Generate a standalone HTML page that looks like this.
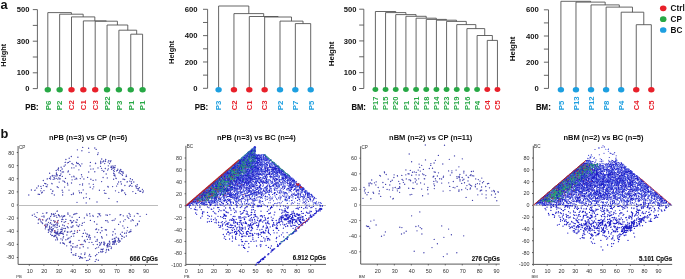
<!DOCTYPE html>
<html><head><meta charset="utf-8"><style>
html,body{margin:0;padding:0;background:#fff;width:685px;height:279px;overflow:hidden}
svg{display:block;font-family:"Liberation Sans", sans-serif;will-change:transform}
</style></head><body>
<svg width="685" height="279" viewBox="0 0 685 279" xmlns="http://www.w3.org/2000/svg">
<text x="29.40" y="12.20" font-size="7.6" text-anchor="end" font-weight="bold" fill="#111">500</text>
<text x="29.40" y="43.80" font-size="7.6" text-anchor="end" font-weight="bold" fill="#111">300</text>
<text x="29.40" y="75.40" font-size="7.6" text-anchor="end" font-weight="bold" fill="#111">100</text>
<text x="29.40" y="91.20" font-size="7.6" text-anchor="end" font-weight="bold" fill="#111">0</text>
<path d="M37.40 88.60V9.60M32.80 88.60H37.40M32.80 72.80H37.40M32.80 57.00H37.40M32.80 41.20H37.40M32.80 25.40H37.40M32.80 9.60H37.40M47.80 89.80V12.60H71.41V14.20M59.65 89.80V14.20H83.16V16.90M71.50 89.80V16.90H94.83V20.90M83.35 89.80V20.90H106.31V21.20M95.20 89.80V21.20H117.42V25.00M107.05 89.80V25.00H127.79V30.20M118.90 89.80V30.20H136.68V34.20M130.75 89.80V34.20H142.60V89.80" fill="none" stroke="#4a4a4a" stroke-width="0.85"/>
<ellipse cx="47.80" cy="89.80" rx="3.2" ry="2.75" fill="#27a845"/>
<text transform="translate(50.64,110.30) rotate(-90)" font-size="7.9" text-anchor="start" font-weight="bold" fill="#27a845">P6</text>
<ellipse cx="59.65" cy="89.80" rx="3.2" ry="2.75" fill="#27a845"/>
<text transform="translate(62.49,110.30) rotate(-90)" font-size="7.9" text-anchor="start" font-weight="bold" fill="#27a845">P2</text>
<ellipse cx="71.50" cy="89.80" rx="3.2" ry="2.75" fill="#e8202a"/>
<text transform="translate(74.34,110.30) rotate(-90)" font-size="7.9" text-anchor="start" font-weight="bold" fill="#e8202a">C2</text>
<ellipse cx="83.35" cy="89.80" rx="3.2" ry="2.75" fill="#e8202a"/>
<text transform="translate(86.19,110.30) rotate(-90)" font-size="7.9" text-anchor="start" font-weight="bold" fill="#e8202a">C1</text>
<ellipse cx="95.20" cy="89.80" rx="3.2" ry="2.75" fill="#e8202a"/>
<text transform="translate(98.04,110.30) rotate(-90)" font-size="7.9" text-anchor="start" font-weight="bold" fill="#e8202a">C3</text>
<ellipse cx="107.05" cy="89.80" rx="3.2" ry="2.75" fill="#27a845"/>
<text transform="translate(109.89,110.30) rotate(-90)" font-size="7.9" text-anchor="start" font-weight="bold" fill="#27a845">P22</text>
<ellipse cx="118.90" cy="89.80" rx="3.2" ry="2.75" fill="#27a845"/>
<text transform="translate(121.74,110.30) rotate(-90)" font-size="7.9" text-anchor="start" font-weight="bold" fill="#27a845">P3</text>
<ellipse cx="130.75" cy="89.80" rx="3.2" ry="2.75" fill="#27a845"/>
<text transform="translate(133.59,110.30) rotate(-90)" font-size="7.9" text-anchor="start" font-weight="bold" fill="#27a845">P1</text>
<ellipse cx="142.60" cy="89.80" rx="3.2" ry="2.75" fill="#27a845"/>
<text transform="translate(145.44,110.30) rotate(-90)" font-size="7.9" text-anchor="start" font-weight="bold" fill="#27a845">P1</text>
<text transform="translate(38.60,109.80) scale(0.9,1)" font-size="8.64" text-anchor="end" font-weight="bold" fill="#111" stroke="#111" stroke-width="0.15">PB:</text>
<text transform="translate(5.60,55.30) rotate(-90)" font-size="7.3" text-anchor="middle" font-weight="bold" fill="#111">Height</text>
<text x="197.60" y="11.90" font-size="7.7" text-anchor="end" font-weight="bold" fill="#111">600</text>
<text x="197.60" y="38.23" font-size="7.7" text-anchor="end" font-weight="bold" fill="#111">400</text>
<text x="197.60" y="64.57" font-size="7.7" text-anchor="end" font-weight="bold" fill="#111">200</text>
<text x="197.60" y="90.90" font-size="7.7" text-anchor="end" font-weight="bold" fill="#111">0</text>
<path d="M207.60 88.30V9.30M203.00 88.30H207.60M203.00 75.13H207.60M203.00 61.97H207.60M203.00 48.80H207.60M203.00 35.63H207.60M203.00 22.47H207.60M203.00 9.30H207.60M218.60 89.70V6.00H248.82V13.60M233.95 89.70V13.60H263.69V16.50M249.30 89.70V16.50H278.08V17.00M264.65 89.70V17.00H291.51V21.10M280.00 89.70V21.10H303.02V23.60M295.35 89.70V23.60H310.70V89.70" fill="none" stroke="#4a4a4a" stroke-width="0.85"/>
<ellipse cx="218.60" cy="89.70" rx="3.2" ry="2.75" fill="#1d9fe0"/>
<text transform="translate(221.41,110.30) rotate(-90)" font-size="7.8" text-anchor="start" font-weight="bold" fill="#1d9fe0">P3</text>
<ellipse cx="233.95" cy="89.70" rx="3.2" ry="2.75" fill="#e8202a"/>
<text transform="translate(236.76,110.30) rotate(-90)" font-size="7.8" text-anchor="start" font-weight="bold" fill="#e8202a">C2</text>
<ellipse cx="249.30" cy="89.70" rx="3.2" ry="2.75" fill="#e8202a"/>
<text transform="translate(252.11,110.30) rotate(-90)" font-size="7.8" text-anchor="start" font-weight="bold" fill="#e8202a">C1</text>
<ellipse cx="264.65" cy="89.70" rx="3.2" ry="2.75" fill="#e8202a"/>
<text transform="translate(267.46,110.30) rotate(-90)" font-size="7.8" text-anchor="start" font-weight="bold" fill="#e8202a">C3</text>
<ellipse cx="280.00" cy="89.70" rx="3.2" ry="2.75" fill="#1d9fe0"/>
<text transform="translate(282.81,110.30) rotate(-90)" font-size="7.8" text-anchor="start" font-weight="bold" fill="#1d9fe0">P2</text>
<ellipse cx="295.35" cy="89.70" rx="3.2" ry="2.75" fill="#1d9fe0"/>
<text transform="translate(298.16,110.30) rotate(-90)" font-size="7.8" text-anchor="start" font-weight="bold" fill="#1d9fe0">P7</text>
<ellipse cx="310.70" cy="89.70" rx="3.2" ry="2.75" fill="#1d9fe0"/>
<text transform="translate(313.51,110.30) rotate(-90)" font-size="7.8" text-anchor="start" font-weight="bold" fill="#1d9fe0">P5</text>
<text transform="translate(208.20,109.80) scale(0.9,1)" font-size="8.64" text-anchor="end" font-weight="bold" fill="#111" stroke="#111" stroke-width="0.15">PB:</text>
<text transform="translate(174.00,52.30) rotate(-90)" font-size="7.5" text-anchor="middle" font-weight="bold" fill="#111">Height</text>
<text x="356.40" y="11.80" font-size="7.6" text-anchor="end" font-weight="bold" fill="#111">500</text>
<text x="356.40" y="43.52" font-size="7.6" text-anchor="end" font-weight="bold" fill="#111">300</text>
<text x="356.40" y="75.24" font-size="7.6" text-anchor="end" font-weight="bold" fill="#111">100</text>
<text x="356.40" y="91.10" font-size="7.6" text-anchor="end" font-weight="bold" fill="#111">0</text>
<path d="M363.80 88.50V9.20M359.20 88.50H363.80M359.20 72.64H363.80M359.20 56.78H363.80M359.20 40.92H363.80M359.20 25.06H363.80M359.20 9.20H363.80M375.40 89.60V11.50H395.74V12.60M385.57 89.60V12.60H405.90V14.60M395.74 89.60V14.60H416.06V16.30M405.91 89.60V16.30H426.21V18.20M416.08 89.60V18.20H436.34V19.40M426.25 89.60V19.40H446.43V20.20M436.42 89.60V20.20H456.44V21.40M446.59 89.60V21.40H466.29V24.60M456.76 89.60V24.60H475.83V28.60M466.93 89.60V28.60H484.73V35.50M477.10 89.60V35.50H492.35V40.40M487.27 89.60V40.40H497.44V89.60" fill="none" stroke="#4a4a4a" stroke-width="0.85"/>
<ellipse cx="375.40" cy="89.60" rx="2.9" ry="2.49" fill="#27a845"/>
<text transform="translate(378.10,109.90) rotate(-90)" font-size="7.5" text-anchor="start" font-weight="bold" fill="#27a845">P17</text>
<ellipse cx="385.57" cy="89.60" rx="2.9" ry="2.49" fill="#27a845"/>
<text transform="translate(388.27,109.90) rotate(-90)" font-size="7.5" text-anchor="start" font-weight="bold" fill="#27a845">P15</text>
<ellipse cx="395.74" cy="89.60" rx="2.9" ry="2.49" fill="#27a845"/>
<text transform="translate(398.44,109.90) rotate(-90)" font-size="7.5" text-anchor="start" font-weight="bold" fill="#27a845">P20</text>
<ellipse cx="405.91" cy="89.60" rx="2.9" ry="2.49" fill="#27a845"/>
<text transform="translate(408.61,109.90) rotate(-90)" font-size="7.5" text-anchor="start" font-weight="bold" fill="#27a845">P1</text>
<ellipse cx="416.08" cy="89.60" rx="2.9" ry="2.49" fill="#27a845"/>
<text transform="translate(418.78,109.90) rotate(-90)" font-size="7.5" text-anchor="start" font-weight="bold" fill="#27a845">P21</text>
<ellipse cx="426.25" cy="89.60" rx="2.9" ry="2.49" fill="#27a845"/>
<text transform="translate(428.95,109.90) rotate(-90)" font-size="7.5" text-anchor="start" font-weight="bold" fill="#27a845">P18</text>
<ellipse cx="436.42" cy="89.60" rx="2.9" ry="2.49" fill="#27a845"/>
<text transform="translate(439.12,109.90) rotate(-90)" font-size="7.5" text-anchor="start" font-weight="bold" fill="#27a845">P14</text>
<ellipse cx="446.59" cy="89.60" rx="2.9" ry="2.49" fill="#27a845"/>
<text transform="translate(449.29,109.90) rotate(-90)" font-size="7.5" text-anchor="start" font-weight="bold" fill="#27a845">P23</text>
<ellipse cx="456.76" cy="89.60" rx="2.9" ry="2.49" fill="#27a845"/>
<text transform="translate(459.46,109.90) rotate(-90)" font-size="7.5" text-anchor="start" font-weight="bold" fill="#27a845">P19</text>
<ellipse cx="466.93" cy="89.60" rx="2.9" ry="2.49" fill="#27a845"/>
<text transform="translate(469.63,109.90) rotate(-90)" font-size="7.5" text-anchor="start" font-weight="bold" fill="#27a845">P16</text>
<ellipse cx="477.10" cy="89.60" rx="2.9" ry="2.49" fill="#27a845"/>
<text transform="translate(479.80,109.90) rotate(-90)" font-size="7.5" text-anchor="start" font-weight="bold" fill="#27a845">P4</text>
<ellipse cx="487.27" cy="89.60" rx="2.9" ry="2.49" fill="#e8202a"/>
<text transform="translate(489.97,109.90) rotate(-90)" font-size="7.5" text-anchor="start" font-weight="bold" fill="#e8202a">C4</text>
<ellipse cx="497.44" cy="89.60" rx="2.9" ry="2.49" fill="#e8202a"/>
<text transform="translate(500.14,109.90) rotate(-90)" font-size="7.5" text-anchor="start" font-weight="bold" fill="#e8202a">C5</text>
<text transform="translate(365.90,110.10) scale(0.9,1)" font-size="8.53" text-anchor="end" font-weight="bold" fill="#111" stroke="#111" stroke-width="0.15">BM:</text>
<text transform="translate(333.50,53.90) rotate(-90)" font-size="7.9" text-anchor="middle" font-weight="bold" fill="#111">Height</text>
<text x="538.90" y="12.40" font-size="7.7" text-anchor="end" font-weight="bold" fill="#111">600</text>
<text x="538.90" y="38.60" font-size="7.7" text-anchor="end" font-weight="bold" fill="#111">400</text>
<text x="538.90" y="64.80" font-size="7.7" text-anchor="end" font-weight="bold" fill="#111">200</text>
<text x="538.90" y="91.00" font-size="7.7" text-anchor="end" font-weight="bold" fill="#111">0</text>
<path d="M548.50 88.40V9.80M543.90 88.40H548.50M543.90 75.30H548.50M543.90 62.20H548.50M543.90 49.10H548.50M543.90 36.00H548.50M543.90 22.90H548.50M543.90 9.80H548.50M560.90 89.70V1.30H590.57V2.10M575.97 89.70V2.10H605.17V4.90M591.04 89.70V4.90H619.30V7.10M606.11 89.70V7.10H632.48V12.20M621.18 89.70V12.20H643.78V24.70M636.25 89.70V24.70H651.32V89.70" fill="none" stroke="#4a4a4a" stroke-width="0.85"/>
<ellipse cx="560.90" cy="89.70" rx="3.2" ry="2.75" fill="#1d9fe0"/>
<text transform="translate(563.71,110.30) rotate(-90)" font-size="7.8" text-anchor="start" font-weight="bold" fill="#1d9fe0">P5</text>
<ellipse cx="575.97" cy="89.70" rx="3.2" ry="2.75" fill="#1d9fe0"/>
<text transform="translate(578.78,110.30) rotate(-90)" font-size="7.8" text-anchor="start" font-weight="bold" fill="#1d9fe0">P13</text>
<ellipse cx="591.04" cy="89.70" rx="3.2" ry="2.75" fill="#1d9fe0"/>
<text transform="translate(593.85,110.30) rotate(-90)" font-size="7.8" text-anchor="start" font-weight="bold" fill="#1d9fe0">P12</text>
<ellipse cx="606.11" cy="89.70" rx="3.2" ry="2.75" fill="#1d9fe0"/>
<text transform="translate(608.92,110.30) rotate(-90)" font-size="7.8" text-anchor="start" font-weight="bold" fill="#1d9fe0">P8</text>
<ellipse cx="621.18" cy="89.70" rx="3.2" ry="2.75" fill="#1d9fe0"/>
<text transform="translate(623.99,110.30) rotate(-90)" font-size="7.8" text-anchor="start" font-weight="bold" fill="#1d9fe0">P4</text>
<ellipse cx="636.25" cy="89.70" rx="3.2" ry="2.75" fill="#e8202a"/>
<text transform="translate(639.06,110.30) rotate(-90)" font-size="7.8" text-anchor="start" font-weight="bold" fill="#e8202a">C4</text>
<ellipse cx="651.32" cy="89.70" rx="3.2" ry="2.75" fill="#e8202a"/>
<text transform="translate(654.13,110.30) rotate(-90)" font-size="7.8" text-anchor="start" font-weight="bold" fill="#e8202a">C5</text>
<text transform="translate(550.80,109.80) scale(0.9,1)" font-size="8.75" text-anchor="end" font-weight="bold" fill="#111" stroke="#111" stroke-width="0.15">BM:</text>
<text transform="translate(515.20,48.90) rotate(-90)" font-size="7.9" text-anchor="middle" font-weight="bold" fill="#111">Height</text>
<ellipse cx="663.2" cy="8.3" rx="3.25" ry="2.85" fill="#e8202a"/>
<text x="670.60" y="11.20" font-size="8.2" text-anchor="start" font-weight="bold" fill="#111">Ctrl</text>
<ellipse cx="663.2" cy="19.2" rx="3.25" ry="2.85" fill="#27a845"/>
<text x="670.60" y="22.10" font-size="8.2" text-anchor="start" font-weight="bold" fill="#111">CP</text>
<ellipse cx="663.2" cy="30.0" rx="3.25" ry="2.85" fill="#1d9fe0"/>
<text x="670.60" y="32.90" font-size="8.2" text-anchor="start" font-weight="bold" fill="#111">BC</text>
<text x="0.60" y="8.60" font-size="12.8" text-anchor="start" font-weight="bold" fill="#111">a</text>
<text x="0.60" y="137.60" font-size="12.8" text-anchor="start" font-weight="bold" fill="#111">b</text>
<text x="14.30" y="154.52" font-size="5.4" text-anchor="end" font-weight="normal" fill="#333">80</text>
<text x="14.30" y="167.64" font-size="5.4" text-anchor="end" font-weight="normal" fill="#333">60</text>
<text x="14.30" y="180.76" font-size="5.4" text-anchor="end" font-weight="normal" fill="#333">40</text>
<text x="14.30" y="193.88" font-size="5.4" text-anchor="end" font-weight="normal" fill="#333">20</text>
<text x="14.30" y="207.00" font-size="5.4" text-anchor="end" font-weight="normal" fill="#333">0</text>
<text x="14.30" y="220.12" font-size="5.4" text-anchor="end" font-weight="normal" fill="#333">-20</text>
<text x="14.30" y="233.24" font-size="5.4" text-anchor="end" font-weight="normal" fill="#333">-40</text>
<text x="14.30" y="246.36" font-size="5.4" text-anchor="end" font-weight="normal" fill="#333">-60</text>
<text x="14.30" y="259.48" font-size="5.4" text-anchor="end" font-weight="normal" fill="#333">-80</text>
<text x="29.72" y="273.30" font-size="5.4" text-anchor="middle" font-weight="normal" fill="#333">10</text>
<text x="44.25" y="273.30" font-size="5.4" text-anchor="middle" font-weight="normal" fill="#333">20</text>
<text x="58.77" y="273.30" font-size="5.4" text-anchor="middle" font-weight="normal" fill="#333">30</text>
<text x="73.30" y="273.30" font-size="5.4" text-anchor="middle" font-weight="normal" fill="#333">40</text>
<text x="87.83" y="273.30" font-size="5.4" text-anchor="middle" font-weight="normal" fill="#333">50</text>
<text x="102.35" y="273.30" font-size="5.4" text-anchor="middle" font-weight="normal" fill="#333">60</text>
<text x="116.88" y="273.30" font-size="5.4" text-anchor="middle" font-weight="normal" fill="#333">70</text>
<text x="131.40" y="273.30" font-size="5.4" text-anchor="middle" font-weight="normal" fill="#333">80</text>
<text x="145.93" y="273.30" font-size="5.4" text-anchor="middle" font-weight="normal" fill="#333">90</text>
<path d="M18.10 146.00V264.40H158.00M16.80 152.52H18.10M16.80 165.64H18.10M16.80 178.76H18.10M16.80 191.88H18.10M16.80 205.00H18.10M16.80 218.12H18.10M16.80 231.24H18.10M16.80 244.36H18.10M16.80 257.48H18.10M29.32 264.40V265.70M43.85 264.40V265.70M58.38 264.40V265.70M72.90 264.40V265.70M87.42 264.40V265.70M101.95 264.40V265.70M116.47 264.40V265.70M131.00 264.40V265.70M145.53 264.40V265.70" fill="none" stroke="#505050" stroke-width="0.95"/>
<path d="M18.10 205.5H158.00" stroke="#b4b4b4" stroke-width="0.9"/>
<text x="18.90" y="148.60" font-size="4.6" text-anchor="start" font-weight="normal" fill="#333">CP</text>
<text x="16.20" y="277.90" font-size="4.2" text-anchor="start" font-weight="normal" fill="#333">PB</text>
<path d="M69.0 190.1h0M73.4 193.2h0M42.4 192.1h0M121.6 191.0h0M100.8 163.5h0M76.6 162.5h0M124.9 185.5h0M47.5 184.8h0M54.0 175.7h0M74.1 176.8h0M41.4 188.3h0M79.9 184.6h0M82.5 185.1h0M108.2 187.0h0M90.1 165.9h0M65.2 162.4h0M78.9 169.8h0M86.3 193.8h0M115.1 176.0h0M67.9 171.9h0M95.8 179.9h0M104.6 193.1h0M102.8 161.9h0M64.9 182.3h0M52.7 191.2h0M115.5 190.8h0M76.0 166.0h0M82.1 176.8h0M64.3 181.3h0M50.9 189.3h0M59.5 178.9h0M62.6 195.0h0M73.8 176.2h0M107.3 177.9h0M105.9 193.4h0M118.6 182.0h0M41.6 192.9h0M52.1 183.8h0M35.2 190.1h0M73.2 194.3h0M99.4 190.2h0M71.5 183.0h0M83.9 179.0h0M45.8 183.7h0M121.8 189.8h0M50.5 177.0h0M90.4 162.4h0M107.9 186.4h0M90.8 169.1h0M58.5 168.0h0M58.8 177.8h0M38.2 194.2h0M62.2 172.0h0M81.9 163.8h0M58.2 187.6h0M56.5 174.3h0M123.0 179.1h0M118.8 192.3h0M113.6 179.2h0M117.7 184.0h0M77.1 163.5h0M52.9 190.9h0M71.8 176.8h0M103.1 177.5h0M80.5 166.0h0M57.2 186.7h0M60.3 175.5h0M79.0 190.8h0M72.1 179.8h0M129.7 181.1h0M87.6 177.4h0M54.3 195.0h0M53.2 179.3h0M93.3 184.3h0M93.2 168.9h0M93.7 186.8h0M115.9 178.2h0M81.5 174.7h0M88.7 172.0h0M90.9 179.2h0M108.3 165.8h0M62.3 176.4h0M123.0 190.6h0M81.4 192.7h0M104.2 190.4h0M136.3 187.8h0M76.8 178.9h0M122.2 189.8h0M89.1 183.8h0M68.4 171.0h0M93.1 180.4h0M69.8 174.3h0M46.1 186.3h0M116.6 186.1h0M79.3 164.7h0M62.2 190.2h0M94.8 171.7h0M79.6 192.7h0M101.5 168.3h0M124.7 192.9h0M82.6 183.8h0M132.0 186.2h0M90.2 187.2h0M52.0 193.5h0M67.8 185.0h0M65.5 178.4h0M71.4 194.6h0M92.8 188.8h0M132.9 191.6h0M80.3 178.6h0M76.2 178.2h0M101.6 181.6h0M40.8 190.8h0M112.6 186.6h0M64.6 187.1h0M83.2 189.9h0M67.5 183.2h0M75.0 179.3h0M56.2 178.3h0M62.8 192.2h0M39.5 194.4h0M59.5 175.6h0M113.6 173.2h0M127.1 182.1h0M138.1 190.2h0M65.3 162.3h0M56.5 172.8h0M42.0 192.5h0M60.3 178.8h0M64.1 166.2h0M74.0 167.8h0M63.5 171.9h0M58.5 170.1h0M31.4 190.0h0M60.9 173.9h0M54.6 178.9h0M57.8 179.1h0M52.3 176.1h0M62.2 169.0h0M58.5 168.4h0M36.8 188.0h0M63.0 180.9h0M51.8 183.3h0M61.1 167.2h0M56.4 173.2h0M34.8 190.3h0M38.4 186.0h0M57.1 175.8h0M56.2 170.5h0M60.5 170.7h0M54.1 177.5h0M50.5 179.0h0M67.4 162.8h0M28.8 195.0h0M59.2 182.1h0M49.6 173.2h0M65.9 159.5h0M73.1 164.6h0M57.9 169.5h0M47.2 178.9h0M65.3 164.9h0M71.9 163.6h0M43.4 185.6h0M69.2 158.2h0M57.2 174.8h0M69.9 161.4h0M44.0 190.6h0M71.7 167.9h0M78.3 163.4h0M52.3 175.4h0M62.0 169.1h0M47.3 178.9h0M46.9 186.7h0M49.5 178.4h0M44.8 183.4h0M40.9 186.4h0M55.9 176.0h0M43.3 180.5h0M72.1 163.4h0M68.5 162.4h0M142.8 192.5h0M111.2 166.2h0M104.7 163.6h0M114.2 167.4h0M103.9 171.2h0M130.3 185.2h0M114.8 174.8h0M121.5 171.4h0M120.4 170.0h0M100.5 166.3h0M139.4 187.6h0M110.9 167.3h0M123.1 171.9h0M137.3 188.6h0M122.5 175.3h0M119.0 172.7h0M135.7 193.4h0M115.0 167.6h0M126.5 176.3h0M127.3 181.6h0M129.3 186.2h0M105.3 161.2h0M137.2 184.7h0M117.8 169.2h0M132.4 179.7h0M133.8 182.0h0M126.0 176.6h0M124.7 179.5h0M130.4 178.7h0M100.7 161.2h0M108.4 168.8h0M113.5 170.6h0M95.5 163.2h0M120.3 173.6h0M107.6 170.1h0M102.1 170.3h0M100.7 162.2h0M112.9 166.0h0M116.2 178.5h0M115.1 165.7h0M136.9 186.4h0M113.5 167.2h0M140.3 191.3h0M111.8 167.4h0M114.0 175.2h0M98.0 167.9h0M122.2 171.9h0M108.8 160.7h0M138.6 188.7h0M125.6 194.5h0M120.8 169.5h0M100.9 162.1h0M114.1 173.3h0M116.6 170.8h0M114.5 169.1h0M119.7 170.8h0M143.3 191.0h0M105.3 168.5h0M119.9 171.6h0M95.6 163.5h0M105.5 161.2h0M142.4 189.3h0M113.0 168.5h0M106.2 174.0h0M111.6 169.2h0M131.6 183.4h0M105.7 159.5h0M139.6 191.1h0M103.6 161.0h0M140.7 191.2h0M123.1 173.2h0M126.3 175.1h0M135.6 186.0h0M120.8 181.7h0M114.3 171.3h0M108.1 162.1h0M110.9 160.7h0M117.5 170.3h0M103.7 171.5h0M110.4 161.7h0M121.9 174.3h0M131.2 181.7h0M121.4 184.0h0M109.5 163.6h0M123.2 179.2h0M81.9 150.7h0M77.9 157.2h0M98.2 152.8h0M82.7 147.4h0M77.4 149.8h0M101.7 159.0h0M96.2 149.4h0M71.3 156.5h0M88.6 148.2h0M97.7 154.5h0M94.8 148.0h0M89.0 152.3h0M97.0 202.0h0M89.6 198.7h0M86.2 202.9h0M117.2 201.7h0M86.2 197.3h0M77.0 202.3h0M108.9 198.4h0M83.6 198.0h0M48.5 222.3h0M63.1 233.1h0M64.9 230.8h0M58.7 215.6h0M51.6 229.6h0M63.5 236.6h0M57.5 239.7h0M63.1 237.9h0M52.4 229.1h0M56.4 232.9h0M47.5 218.9h0M57.3 232.7h0M60.5 231.9h0M75.4 213.8h0M67.6 232.3h0M82.4 223.2h0M64.7 216.0h0M53.7 220.7h0M66.7 245.8h0M55.3 224.3h0M45.6 227.2h0M51.5 214.8h0M54.5 232.3h0M78.0 226.1h0M65.6 221.6h0M45.9 220.9h0M48.2 229.8h0M53.4 213.9h0M58.2 220.5h0M57.1 227.4h0M45.3 228.8h0M71.1 227.0h0M71.6 222.7h0M67.3 226.7h0M69.9 215.9h0M74.7 231.0h0M54.9 236.5h0M67.9 231.9h0M82.3 236.5h0M64.1 215.7h0M56.0 232.1h0M36.7 217.3h0M67.9 213.0h0M46.9 212.7h0M61.7 221.5h0M59.8 233.8h0M49.7 218.9h0M49.4 228.1h0M54.7 225.3h0M71.3 236.4h0M58.1 234.2h0M52.7 235.3h0M32.3 215.2h0M56.2 233.7h0M71.6 231.2h0M61.8 216.0h0M76.8 225.1h0M50.6 216.5h0M70.3 231.9h0M54.9 230.6h0M63.0 219.6h0M57.2 233.8h0M54.1 216.4h0M52.2 230.5h0M46.9 226.9h0M44.7 225.1h0M56.9 217.4h0M61.1 233.4h0M55.0 227.0h0M50.9 229.1h0M38.8 219.1h0M54.7 232.3h0M51.5 227.2h0M51.5 232.1h0M57.2 225.5h0M56.8 223.0h0M49.7 227.6h0M70.6 241.6h0M50.8 231.7h0M64.5 244.1h0M59.4 226.2h0M63.9 228.4h0M64.0 243.4h0M49.3 218.1h0M57.3 210.8h0M62.3 229.9h0M53.2 214.4h0M73.7 236.1h0M37.2 212.6h0M46.0 224.2h0M68.3 238.2h0M67.3 232.0h0M63.1 243.4h0M60.9 238.8h0M47.6 224.2h0M58.0 233.5h0M57.9 229.8h0M63.2 234.5h0M53.3 228.7h0M72.7 226.7h0M50.7 234.2h0M55.3 232.9h0M72.8 246.7h0M57.6 232.2h0M53.1 226.0h0M78.6 226.5h0M60.4 243.0h0M49.6 226.2h0M71.1 221.0h0M54.7 222.3h0M48.5 229.7h0M50.6 222.6h0M48.4 232.3h0M57.1 211.4h0M73.7 220.7h0M51.5 230.1h0M58.4 214.7h0M52.5 230.7h0M53.8 236.6h0M56.7 237.2h0M62.2 233.4h0M56.1 215.7h0M42.1 222.7h0M77.2 220.0h0M60.9 229.5h0M59.0 235.4h0M47.2 225.5h0M62.9 242.7h0M51.8 224.2h0M43.9 216.0h0M55.8 235.3h0M57.2 224.4h0M42.9 220.0h0M58.0 223.1h0M57.7 231.7h0M55.0 221.2h0M65.4 228.5h0M54.2 215.0h0M69.4 242.2h0M51.1 220.3h0M59.5 233.2h0M38.2 223.2h0M55.1 231.0h0M60.6 232.8h0M51.7 235.6h0M64.7 231.5h0M62.0 227.8h0M49.2 229.6h0M50.1 223.6h0M55.7 239.9h0M123.6 221.1h0M83.4 233.4h0M105.6 220.6h0M83.3 246.7h0M38.4 219.8h0M71.2 248.8h0M84.8 240.1h0M108.2 243.3h0M130.3 216.3h0M40.4 220.0h0M42.0 216.3h0M44.0 217.0h0M124.2 228.1h0M125.1 219.6h0M112.6 235.0h0M79.4 217.4h0M87.2 234.5h0M83.2 233.4h0M76.8 213.5h0M105.3 229.7h0M101.8 227.4h0M88.8 237.3h0M103.8 244.5h0M69.9 237.8h0M79.0 240.4h0M87.9 247.9h0M98.7 229.8h0M108.1 222.1h0M102.0 230.7h0M113.1 231.7h0M49.8 228.2h0M123.3 215.8h0M70.3 220.4h0M95.5 248.6h0M77.2 245.5h0M106.0 214.9h0M96.2 259.5h0M99.4 214.7h0M84.2 240.9h0M106.3 250.8h0M53.7 224.8h0M115.3 218.8h0M114.8 238.5h0M55.3 213.3h0M107.1 220.7h0M62.7 225.0h0M97.2 239.5h0M41.0 221.7h0M106.4 230.0h0M72.5 222.2h0M124.6 233.2h0M114.0 220.2h0M62.4 240.0h0M71.3 227.3h0M139.2 221.2h0M77.3 232.2h0M131.0 220.9h0M96.8 247.8h0M127.6 227.3h0M94.4 221.7h0M120.1 215.0h0M101.4 227.6h0M120.3 221.9h0M97.8 216.7h0M90.3 237.7h0M45.7 226.5h0M95.8 241.3h0M100.1 244.2h0M85.6 233.1h0M129.1 213.4h0M95.9 229.5h0M109.6 241.8h0M42.9 213.3h0M140.1 216.3h0M114.8 229.2h0M120.8 214.6h0M61.1 231.9h0M85.0 253.0h0M80.5 256.6h0M81.2 244.5h0M84.5 230.1h0M115.4 233.8h0M75.9 253.7h0M63.6 216.4h0M59.9 216.7h0M96.8 254.5h0M122.8 225.9h0M101.6 236.7h0M49.0 230.9h0M117.8 241.1h0M65.9 219.4h0M86.5 260.6h0M84.4 217.9h0M46.4 220.0h0M90.0 239.2h0M128.8 218.3h0M115.0 242.4h0M89.2 235.0h0M100.4 232.7h0M86.6 236.5h0M96.9 224.2h0M130.0 214.7h0M77.0 219.6h0M73.8 214.5h0M65.9 239.7h0M127.2 215.9h0M89.7 213.7h0M104.8 243.2h0M88.0 260.4h0M127.9 217.3h0M56.8 227.6h0M92.9 215.3h0M54.8 235.5h0M62.0 229.1h0M99.8 213.7h0M57.2 238.2h0M75.2 247.0h0M96.6 229.0h0M114.9 238.4h0M102.2 238.0h0M89.1 242.3h0M94.8 236.9h0M79.6 258.3h0M79.6 224.8h0M51.5 213.6h0M68.1 227.7h0M133.2 220.5h0M118.6 224.4h0M84.2 222.3h0M122.2 232.2h0M76.7 222.3h0M101.5 242.5h0M81.9 225.4h0M73.1 233.7h0M64.2 222.2h0M87.4 239.3h0M97.3 232.4h0M132.3 219.6h0M87.1 215.5h0M89.7 235.6h0M73.0 243.6h0M68.0 214.2h0M90.7 256.5h0M74.5 233.4h0M137.1 213.3h0M79.6 230.3h0M66.9 235.0h0M89.1 255.9h0M112.2 220.5h0M88.9 236.2h0M100.9 243.8h0M75.8 222.1h0M61.9 219.4h0M87.1 233.8h0M106.6 234.9h0M97.2 240.9h0M42.6 223.6h0M90.4 220.4h0M64.3 225.7h0M35.1 216.4h0M67.7 239.0h0M98.2 213.6h0M103.1 249.0h0M63.2 216.6h0M61.8 231.4h0M86.8 214.1h0M73.0 225.6h0M62.5 217.8h0M46.4 213.0h0M95.5 255.7h0M119.9 241.2h0M106.5 249.3h0M108.0 246.7h0M114.2 244.2h0M129.9 231.5h0M113.6 241.5h0M101.1 249.2h0M112.7 244.4h0M104.4 244.9h0M121.8 238.7h0M108.4 249.5h0M126.4 233.0h0M109.9 246.2h0M126.4 236.0h0M112.3 239.2h0M120.3 241.1h0M102.5 249.8h0M109.4 241.2h0M127.1 230.8h0M114.7 240.9h0M124.2 237.2h0M114.2 243.0h0M107.7 245.0h0M110.0 243.1h0M114.1 238.8h0M137.5 224.7h0M101.0 252.0h0M118.9 242.4h0M108.7 250.2h0M102.4 251.9h0M113.0 243.0h0M115.4 240.2h0M129.0 232.4h0M107.2 246.9h0M114.9 241.5h0M98.7 252.6h0M100.7 251.3h0M107.5 244.2h0M106.9 245.5h0M119.2 240.7h0M102.2 249.6h0M116.2 237.2h0M118.7 239.0h0M122.5 236.3h0M105.8 252.6h0M120.5 234.2h0M109.6 244.5h0M118.6 239.7h0M111.5 247.1h0M130.9 229.8h0M130.9 231.5h0M121.6 235.9h0M118.1 238.1h0M116.4 244.1h0M137.5 223.7h0M112.7 241.6h0M111.2 248.5h0M135.8 225.7h0M115.6 241.2h0M108.1 246.0h0M76.9 247.1h0M73.9 254.8h0M82.6 258.0h0M70.4 241.2h0M72.9 246.8h0M89.6 259.2h0M85.1 257.6h0M70.3 242.7h0M91.9 242.4h0M78.8 256.4h0M71.0 245.7h0M80.3 257.6h0M99.5 242.6h0M97.3 244.5h0M81.4 257.7h0M81.2 253.9h0M82.9 244.5h0M71.4 249.9h0M98.6 247.1h0M102.9 251.4h0M75.5 255.3h0M72.8 247.4h0M85.4 241.7h0M71.4 252.5h0M95.2 261.4h0M99.8 245.4h0M79.9 248.0h0M84.7 254.5h0M93.2 244.6h0M75.7 255.4h0M89.6 254.3h0M73.0 254.8h0M103.9 242.9h0M104.0 241.9h0M98.3 260.2h0M100.6 215.8h0M146.5 214.3h0M59.2 215.4h0M109.9 214.6h0M107.4 215.2h0M74.8 213.9h0M72.1 217.2h0M138.1 213.8h0M134.4 216.1h0M90.1 216.1h0M93.2 216.3h0M34.3 214.1h0" stroke="#4040ac" stroke-width="1.35" stroke-linecap="round" opacity="1.0" fill="none"/>
<path d="M55.0 221.7h0M57.6 221.1h0M57.4 222.3h0M77.5 230.7h0M45.1 225.5h0M39.7 218.9h0M80.3 244.6h0M42.4 219.6h0M68.2 223.6h0M54.5 231.0h0" stroke="#b03a5a" stroke-width="1.3" stroke-linecap="round" opacity="1.0" fill="none"/>
<text x="356.90" y="160.20" font-size="5.4" text-anchor="end" font-weight="normal" fill="#333">60</text>
<text x="356.90" y="175.80" font-size="5.4" text-anchor="end" font-weight="normal" fill="#333">40</text>
<text x="356.90" y="191.40" font-size="5.4" text-anchor="end" font-weight="normal" fill="#333">20</text>
<text x="356.90" y="207.00" font-size="5.4" text-anchor="end" font-weight="normal" fill="#333">0</text>
<text x="356.90" y="222.60" font-size="5.4" text-anchor="end" font-weight="normal" fill="#333">-20</text>
<text x="356.90" y="238.20" font-size="5.4" text-anchor="end" font-weight="normal" fill="#333">-40</text>
<text x="356.90" y="253.80" font-size="5.4" text-anchor="end" font-weight="normal" fill="#333">-60</text>
<text x="377.76" y="273.00" font-size="5.4" text-anchor="middle" font-weight="normal" fill="#333">20</text>
<text x="394.74" y="273.00" font-size="5.4" text-anchor="middle" font-weight="normal" fill="#333">30</text>
<text x="411.72" y="273.00" font-size="5.4" text-anchor="middle" font-weight="normal" fill="#333">40</text>
<text x="428.70" y="273.00" font-size="5.4" text-anchor="middle" font-weight="normal" fill="#333">50</text>
<text x="445.68" y="273.00" font-size="5.4" text-anchor="middle" font-weight="normal" fill="#333">60</text>
<text x="462.66" y="273.00" font-size="5.4" text-anchor="middle" font-weight="normal" fill="#333">70</text>
<text x="479.64" y="273.00" font-size="5.4" text-anchor="middle" font-weight="normal" fill="#333">80</text>
<text x="496.62" y="273.00" font-size="5.4" text-anchor="middle" font-weight="normal" fill="#333">90</text>
<path d="M360.70 146.30V264.10H499.80M359.40 158.20H360.70M359.40 173.80H360.70M359.40 189.40H360.70M359.40 205.00H360.70M359.40 220.60H360.70M359.40 236.20H360.70M359.40 251.80H360.70M377.36 264.10V265.40M394.34 264.10V265.40M411.32 264.10V265.40M428.30 264.10V265.40M445.28 264.10V265.40M462.26 264.10V265.40M479.24 264.10V265.40M496.22 264.10V265.40" fill="none" stroke="#505050" stroke-width="0.95"/>
<path d="M360.70 205.5H499.80" stroke="#b4b4b4" stroke-width="0.9"/>
<text x="361.50" y="148.90" font-size="4.6" text-anchor="start" font-weight="normal" fill="#333">CP</text>
<text x="358.80" y="277.90" font-size="4.2" text-anchor="start" font-weight="normal" fill="#333">BM</text>
<path d="M459.4 177.7h0M454.9 187.8h0M416.1 174.8h0M478.3 179.6h0M411.7 175.3h0M415.4 182.0h0M441.7 183.1h0M425.3 145.0h0M399.6 186.7h0M463.8 172.9h0M410.3 170.4h0M370.4 182.9h0M412.6 188.4h0M410.1 194.7h0M423.4 169.4h0M373.1 192.2h0M468.6 177.6h0M485.7 186.5h0M365.3 193.0h0M459.0 189.9h0M482.5 182.7h0M408.1 173.7h0M397.4 175.6h0M461.7 183.4h0M420.3 171.1h0M491.5 194.9h0M466.1 197.4h0M430.7 165.4h0M472.2 175.7h0M439.7 178.7h0M392.9 187.9h0M421.7 189.1h0M481.6 187.0h0M475.2 186.1h0M483.6 181.6h0M374.5 182.8h0M496.8 200.7h0M393.9 177.5h0M399.6 192.3h0M418.2 170.1h0M451.9 170.8h0M417.0 184.0h0M415.1 178.7h0M489.5 187.8h0M413.9 188.6h0M460.0 179.6h0M448.6 170.9h0M427.6 189.7h0M434.1 171.8h0M379.0 193.7h0M376.2 181.8h0M433.8 176.2h0M423.9 174.7h0M412.5 172.2h0M413.1 182.8h0M364.5 190.9h0M399.8 183.7h0M480.2 190.9h0M410.5 180.1h0M460.0 180.9h0M414.3 171.9h0M425.7 175.6h0M419.1 175.0h0M422.6 173.9h0M463.9 179.2h0M459.9 174.4h0M457.1 178.2h0M482.0 194.1h0M399.9 187.3h0M438.5 172.8h0M369.1 184.8h0M397.4 190.8h0M435.9 180.8h0M429.3 168.5h0M435.4 178.7h0M443.5 176.1h0M421.7 165.3h0M390.5 196.8h0M419.1 164.1h0M405.9 169.9h0M487.5 183.7h0M462.2 177.5h0M434.5 185.7h0M369.0 183.2h0M470.4 185.2h0M410.6 180.7h0M428.1 193.9h0M383.2 187.2h0M416.2 172.4h0M444.5 145.2h0M418.7 178.8h0M382.9 182.5h0M389.3 189.8h0M471.0 174.6h0M443.3 177.2h0M475.7 178.9h0M419.7 167.3h0M458.5 176.8h0M498.0 191.6h0M384.4 171.8h0M456.1 170.1h0M462.3 158.8h0M466.9 185.6h0M457.1 186.4h0M385.6 184.4h0M403.0 180.3h0M494.4 191.7h0M491.9 191.1h0M416.3 180.1h0M469.2 184.2h0M466.2 175.2h0M398.6 188.4h0M409.1 179.7h0M435.2 172.2h0M486.1 194.8h0M441.6 179.0h0M458.9 166.8h0M475.4 186.7h0M411.6 161.7h0M477.4 183.6h0M438.4 155.4h0M448.7 182.8h0M473.3 171.2h0M432.5 168.2h0M380.5 176.1h0M459.5 176.1h0M388.2 179.1h0M433.1 177.0h0M458.9 191.2h0M368.2 192.4h0M462.8 180.2h0M477.8 194.8h0M470.2 175.5h0M371.8 183.7h0M450.0 190.6h0M379.4 191.0h0M449.3 159.3h0M472.5 200.4h0M384.5 172.7h0M402.1 179.4h0M473.7 175.9h0M437.2 182.0h0M363.0 198.3h0M424.7 178.8h0M403.4 182.3h0M399.8 188.0h0M365.0 189.2h0M488.7 183.4h0M471.4 171.5h0M475.6 184.3h0M495.1 197.4h0M364.0 187.4h0M498.2 192.3h0M465.7 188.1h0M370.9 198.7h0M411.8 194.3h0M375.8 184.9h0M456.9 176.6h0M409.2 154.0h0M442.8 164.0h0M392.8 198.9h0M470.5 187.9h0M471.6 186.0h0M467.3 189.6h0M392.2 180.2h0M450.3 175.1h0M477.1 188.9h0M422.6 195.7h0M411.7 175.2h0M434.3 188.6h0M481.0 190.2h0M425.5 159.9h0M424.4 184.1h0M453.3 181.5h0M463.9 171.2h0M480.0 181.1h0M387.1 189.4h0M486.1 197.9h0M394.1 174.8h0M406.3 178.9h0M397.5 176.1h0M424.3 178.7h0M481.8 178.1h0M451.9 172.7h0M494.4 191.4h0M397.2 188.8h0M434.1 163.0h0M454.5 155.9h0M470.1 189.0h0M493.8 190.5h0M392.7 190.1h0M367.0 194.7h0M386.2 174.5h0M443.1 191.1h0M495.5 194.0h0M433.9 183.9h0M427.9 187.5h0M373.6 193.2h0M409.1 173.9h0M395.2 187.5h0M435.4 160.3h0M461.7 189.7h0M486.1 190.7h0M453.2 187.4h0M404.7 184.2h0M433.8 181.4h0M371.7 180.0h0M405.8 174.8h0M468.0 180.9h0M449.7 186.4h0M379.8 175.4h0M468.1 177.1h0M369.1 185.8h0M380.7 196.4h0M420.6 182.9h0M378.2 187.5h0M401.8 175.4h0M408.7 188.2h0M479.6 183.9h0M464.5 182.7h0M398.7 181.3h0M410.6 180.5h0M437.4 176.0h0M481.7 190.1h0M393.3 198.5h0M390.7 181.5h0M389.8 185.0h0M430.9 163.6h0" stroke="#4040ac" stroke-width="1.35" stroke-linecap="round" opacity="1.0" fill="none"/>
<path d="M366.5 225.9h0M367.5 226.5h0M368.6 226.5h0M369.7 228.2h0M370.8 221.1h0M374.0 220.1h0M376.1 225.0h0M381.5 236.2h0M384.1 235.1h0M385.4 231.9h0M399.8 227.2h0M401.9 227.6h0M401.5 234.0h0M404.1 233.0h0M406.2 231.2h0M411.6 215.8h0M415.9 226.5h0M417.0 230.8h0M418.5 225.9h0M419.8 211.9h0M420.2 227.6h0M421.7 228.7h0M421.9 234.0h0M414.2 251.2h0M423.9 252.7h0M432.0 247.6h0M434.2 239.4h0M437.4 243.7h0M441.7 225.9h0M443.9 237.3h0M443.4 256.6h0M447.1 254.0h0M448.6 229.1h0M451.4 234.7h0M456.8 252.7h0M463.7 235.8h0" stroke="#4040ac" stroke-width="1.35" stroke-linecap="round" fill="none"/>
<text x="182.10" y="160.00" font-size="5.4" text-anchor="end" font-weight="normal" fill="#333">80</text>
<text x="182.10" y="171.92" font-size="5.4" text-anchor="end" font-weight="normal" fill="#333">60</text>
<text x="182.10" y="183.85" font-size="5.4" text-anchor="end" font-weight="normal" fill="#333">40</text>
<text x="182.10" y="195.77" font-size="5.4" text-anchor="end" font-weight="normal" fill="#333">20</text>
<text x="182.10" y="207.70" font-size="5.4" text-anchor="end" font-weight="normal" fill="#333">0</text>
<text x="182.10" y="219.63" font-size="5.4" text-anchor="end" font-weight="normal" fill="#333">-20</text>
<text x="182.10" y="231.55" font-size="5.4" text-anchor="end" font-weight="normal" fill="#333">-40</text>
<text x="182.10" y="243.48" font-size="5.4" text-anchor="end" font-weight="normal" fill="#333">-60</text>
<text x="182.10" y="255.40" font-size="5.4" text-anchor="end" font-weight="normal" fill="#333">-80</text>
<text x="182.10" y="267.33" font-size="5.4" text-anchor="end" font-weight="normal" fill="#333">-100</text>
<text x="186.30" y="273.10" font-size="5.4" text-anchor="middle" font-weight="normal" fill="#333">0</text>
<text x="200.16" y="273.10" font-size="5.4" text-anchor="middle" font-weight="normal" fill="#333">10</text>
<text x="214.02" y="273.10" font-size="5.4" text-anchor="middle" font-weight="normal" fill="#333">20</text>
<text x="227.88" y="273.10" font-size="5.4" text-anchor="middle" font-weight="normal" fill="#333">30</text>
<text x="241.74" y="273.10" font-size="5.4" text-anchor="middle" font-weight="normal" fill="#333">40</text>
<text x="255.60" y="273.10" font-size="5.4" text-anchor="middle" font-weight="normal" fill="#333">50</text>
<text x="269.46" y="273.10" font-size="5.4" text-anchor="middle" font-weight="normal" fill="#333">60</text>
<text x="283.32" y="273.10" font-size="5.4" text-anchor="middle" font-weight="normal" fill="#333">70</text>
<text x="297.18" y="273.10" font-size="5.4" text-anchor="middle" font-weight="normal" fill="#333">80</text>
<text x="311.04" y="273.10" font-size="5.4" text-anchor="middle" font-weight="normal" fill="#333">90</text>
<path d="M185.90 145.80V264.40H326.00M184.60 158.00H185.90M184.60 169.92H185.90M184.60 181.85H185.90M184.60 193.77H185.90M184.60 205.70H185.90M184.60 217.63H185.90M184.60 229.55H185.90M184.60 241.48H185.90M184.60 253.40H185.90M184.60 265.33H185.90M185.90 264.40V265.70M199.76 264.40V265.70M213.62 264.40V265.70M227.48 264.40V265.70M241.34 264.40V265.70M255.20 264.40V265.70M269.06 264.40V265.70M282.92 264.40V265.70M296.78 264.40V265.70M310.64 264.40V265.70" fill="none" stroke="#505050" stroke-width="0.95"/>
<path d="M185.90 205.5H326.00" stroke="#b4b4b4" stroke-width="0.9"/>
<text x="186.70" y="148.40" font-size="4.6" text-anchor="start" font-weight="normal" fill="#333">BC</text>
<text x="184.00" y="277.90" font-size="4.2" text-anchor="start" font-weight="normal" fill="#333">PB</text>
<path d="M239.3 182.6h0M230.0 200.2h0M247.6 175.3h0M210.9 193.5h0M238.0 174.6h0M248.2 157.9h0M247.4 160.2h0M289.6 176.5h0M249.2 151.6h0M194.1 202.8h0M214.1 194.6h0M238.9 168.3h0M202.5 191.9h0M260.7 181.9h0M235.8 178.1h0M235.8 168.5h0M242.7 172.6h0M214.7 193.8h0M287.3 193.9h0M295.3 188.2h0M227.3 171.0h0M276.0 169.6h0M258.9 174.2h0M212.0 186.5h0M266.6 159.3h0M207.7 193.1h0M255.6 165.0h0M242.5 162.0h0M248.8 152.9h0M305.5 194.1h0M210.8 184.7h0M247.9 156.4h0M209.7 186.6h0M225.0 173.9h0M255.9 161.9h0M242.3 172.1h0M295.1 189.1h0M320.2 202.8h0M213.2 183.7h0M266.7 186.4h0M269.3 160.3h0M212.4 187.4h0M235.8 168.5h0M203.9 200.6h0M231.1 176.4h0M234.4 178.6h0M258.2 160.5h0M217.2 184.7h0M232.1 169.2h0M304.7 191.3h0M254.6 157.5h0M244.2 158.9h0M260.4 180.8h0M253.0 190.9h0M224.3 191.6h0M216.4 193.9h0M257.7 185.2h0M237.3 181.8h0M263.2 158.7h0M256.0 157.0h0M208.5 186.9h0M208.4 194.7h0M227.1 189.4h0M221.4 175.3h0M211.6 194.2h0M249.5 175.5h0M263.6 182.2h0M316.0 204.1h0M279.4 176.6h0M233.6 180.7h0M233.2 185.2h0M260.6 188.1h0M249.1 172.1h0M213.1 195.8h0M297.0 187.7h0M225.1 174.8h0M245.2 193.7h0M237.4 175.3h0M259.2 164.9h0M279.0 172.2h0M276.6 178.5h0M224.4 175.7h0M226.6 181.0h0M234.5 195.2h0M241.8 161.5h0M257.5 159.4h0M251.3 202.9h0M287.4 175.3h0M296.4 183.4h0M264.7 159.7h0M211.5 183.7h0M207.4 190.3h0M207.6 191.9h0M265.1 158.9h0M261.9 197.7h0M260.9 159.6h0M233.7 176.9h0M235.7 177.7h0M221.3 197.3h0M243.8 171.7h0M245.6 163.6h0M231.4 181.2h0M309.2 197.7h0M219.9 177.5h0M240.4 164.8h0M245.6 200.7h0M217.6 205.0h0M265.0 196.8h0M207.4 197.6h0M240.6 189.7h0M251.1 182.2h0M223.8 179.8h0M244.8 163.2h0M280.4 198.1h0M310.6 199.4h0M221.9 181.2h0M282.4 173.9h0M242.1 170.2h0M199.6 196.3h0M239.5 186.4h0M210.0 185.2h0M240.7 185.2h0M252.7 165.1h0M315.5 202.9h0M208.4 188.4h0M198.8 197.1h0M246.4 165.4h0M290.9 184.5h0M230.6 186.1h0M277.3 179.8h0M212.7 189.5h0M244.3 164.1h0M276.0 188.5h0M210.3 186.5h0M296.0 181.3h0M232.9 174.9h0M284.1 192.4h0M299.8 184.6h0M231.0 171.9h0M264.8 167.0h0M213.8 193.8h0M276.8 173.8h0M233.8 173.4h0M244.3 168.0h0M247.1 199.1h0M265.8 157.6h0M265.0 160.2h0M276.2 169.2h0M255.4 157.2h0M235.6 184.1h0M240.2 180.7h0M289.8 183.3h0M254.1 154.4h0M307.7 197.2h0M233.4 167.6h0M266.2 157.0h0M233.4 170.3h0M308.3 193.6h0M236.3 201.6h0M242.6 169.5h0M252.2 150.2h0M224.8 200.0h0M244.4 155.9h0M243.3 171.1h0M253.6 172.5h0M277.1 188.2h0M256.1 178.9h0M223.6 189.6h0M229.5 177.9h0M243.0 176.6h0M240.2 162.7h0M257.2 195.0h0M231.2 195.3h0M258.6 191.9h0M228.5 183.7h0M235.4 168.0h0M224.6 190.4h0M226.8 171.1h0M230.2 168.8h0M252.8 199.4h0M258.5 190.6h0M243.6 166.7h0M227.1 204.2h0M210.0 205.7h0M214.6 198.1h0M252.3 158.0h0M203.3 192.8h0M288.1 176.6h0M221.9 175.2h0M230.1 193.9h0M227.7 176.6h0M215.8 198.2h0M242.5 161.0h0M269.8 172.4h0M244.0 160.2h0M241.6 163.1h0M206.3 204.4h0M217.0 188.1h0M250.8 150.4h0M211.1 193.9h0M269.8 190.4h0M230.9 199.4h0M273.1 178.9h0M229.9 183.3h0M269.5 172.8h0M239.9 162.9h0M275.6 167.2h0M233.5 168.9h0M199.3 194.4h0M261.4 155.1h0M198.4 199.0h0M285.0 199.9h0M211.6 204.3h0M238.1 192.2h0M255.5 192.2h0M208.7 190.3h0M234.8 164.1h0M214.8 196.5h0M209.4 191.5h0M221.4 186.9h0M265.2 183.1h0M260.8 190.9h0M219.1 179.0h0M285.1 182.2h0M285.0 192.2h0M236.9 179.7h0M265.6 156.3h0M248.8 163.6h0M252.4 159.2h0M220.3 180.2h0M225.0 178.1h0M197.5 205.2h0M252.3 178.3h0M250.9 169.4h0M262.3 164.8h0M232.8 174.7h0M261.3 194.9h0M253.2 156.4h0M254.4 177.3h0M223.3 194.5h0M265.9 168.6h0M259.4 160.7h0M274.4 192.6h0M243.7 156.7h0M205.6 193.4h0M240.7 163.5h0M236.4 192.0h0M247.4 175.2h0M215.0 186.0h0M257.9 168.9h0M209.5 187.3h0M229.8 177.9h0M278.0 179.3h0M259.6 164.9h0M284.8 173.0h0M281.7 179.0h0M243.2 161.4h0M290.3 180.6h0M278.8 198.3h0M254.2 157.8h0M239.7 162.3h0M279.2 168.1h0M237.7 173.9h0M241.7 194.8h0M280.2 172.8h0M314.6 197.4h0M227.5 180.2h0M285.5 174.4h0M213.1 203.0h0M252.5 163.2h0M238.8 167.8h0M230.8 176.9h0M252.6 154.4h0M243.5 175.6h0M266.7 164.3h0M234.5 182.1h0M238.7 163.3h0M233.9 179.5h0M255.4 178.4h0M248.7 183.3h0M272.6 182.9h0M206.4 199.9h0M216.7 188.4h0M210.2 195.0h0M246.7 178.0h0M259.1 186.6h0M303.7 188.1h0M226.7 182.2h0M213.1 198.6h0M303.5 188.9h0M280.7 189.9h0M232.3 183.4h0M242.2 191.8h0M196.4 203.8h0M246.6 155.4h0M240.3 190.1h0M243.0 176.1h0M247.8 169.6h0M276.3 170.2h0M246.3 159.9h0M212.8 185.1h0M243.6 159.8h0M307.4 193.7h0M266.8 181.9h0M224.8 175.9h0M229.4 171.6h0M247.6 201.8h0M230.9 195.6h0M253.2 186.8h0M215.6 198.2h0M226.0 178.3h0M249.8 197.3h0M252.6 164.0h0M264.8 176.3h0M270.2 196.7h0M205.8 198.9h0M210.3 189.5h0M246.3 156.6h0M305.1 195.6h0M257.1 167.0h0M221.2 181.2h0M279.4 170.1h0M201.6 193.4h0M271.3 177.0h0M247.0 158.0h0M257.7 156.1h0M254.7 196.3h0M232.8 170.9h0M244.0 158.9h0M295.7 198.1h0M234.4 175.9h0M223.0 184.1h0M242.8 165.2h0M224.3 194.2h0M237.3 188.5h0M276.3 175.9h0M205.7 201.0h0M238.9 180.4h0M229.7 180.0h0M224.2 175.0h0M246.0 175.8h0M305.1 192.6h0M220.4 189.5h0M271.9 162.4h0M296.4 181.8h0M215.5 181.7h0M255.9 171.0h0M248.6 151.8h0M236.6 168.1h0M234.3 168.4h0M242.5 185.9h0M284.4 180.6h0M249.2 154.6h0M244.1 159.5h0M244.6 164.8h0M233.6 170.5h0M248.7 174.3h0M242.9 182.4h0M249.7 157.9h0M234.4 170.1h0M216.0 189.5h0M203.9 195.8h0M241.5 182.0h0M239.0 164.0h0M207.3 189.0h0M233.7 179.8h0M280.2 191.0h0M251.3 167.9h0M261.9 170.7h0M258.4 168.6h0M231.3 169.5h0M262.9 171.7h0M240.3 179.9h0M298.8 185.2h0M202.1 197.7h0M248.1 161.7h0M235.0 173.6h0M241.6 167.9h0M245.7 179.0h0M232.0 176.4h0M305.4 203.8h0M266.8 162.7h0M237.0 168.1h0M291.8 178.7h0M251.3 165.8h0M254.4 204.4h0M207.4 197.9h0M238.7 163.9h0M251.1 164.0h0M226.5 187.0h0M234.4 190.6h0M246.6 164.5h0M240.5 160.8h0M276.1 170.0h0M227.5 191.8h0M237.0 169.5h0M276.9 179.4h0M266.7 190.5h0M257.1 200.0h0M283.4 170.9h0M262.0 181.7h0M202.5 194.2h0M264.8 178.7h0M253.7 161.4h0M301.4 188.9h0M221.3 191.8h0M239.0 162.7h0M303.2 188.0h0M232.5 194.2h0M204.6 191.3h0M208.5 191.7h0M279.9 192.4h0M253.4 186.0h0M201.4 193.0h0M247.5 183.1h0M256.7 182.7h0M309.9 199.3h0M257.9 158.4h0M237.3 185.4h0M277.4 174.6h0M204.4 196.5h0M231.2 169.8h0M220.9 186.7h0M243.0 164.6h0M201.7 197.1h0M257.5 163.5h0M222.2 175.9h0M253.5 148.3h0M256.8 167.1h0M281.3 202.7h0M301.3 190.0h0M273.5 200.7h0M203.6 190.5h0M261.1 169.0h0M239.0 161.6h0M274.7 168.9h0M258.7 187.2h0M243.8 168.1h0M228.4 185.8h0M249.1 152.0h0M244.1 197.8h0M227.5 179.1h0M260.3 163.7h0M256.9 171.0h0M251.9 185.2h0M231.2 189.4h0M258.7 168.1h0M248.1 174.8h0M212.5 192.4h0M236.2 180.7h0M297.6 190.3h0M217.0 188.6h0M210.4 186.8h0M205.6 199.0h0M227.8 193.5h0M254.8 150.2h0M298.2 192.0h0M216.6 187.1h0M240.0 204.2h0M291.6 181.7h0M242.4 157.4h0M292.0 200.2h0M235.0 195.0h0M235.8 175.7h0M209.7 187.2h0M235.9 181.7h0M259.9 173.0h0M254.0 170.4h0M239.0 186.7h0M205.0 200.5h0M262.3 175.1h0M226.3 171.5h0M228.1 172.9h0M232.0 167.4h0M286.8 199.9h0M229.3 171.8h0M201.2 195.2h0M237.6 184.3h0M215.5 186.1h0M293.9 184.5h0M291.3 187.5h0M256.9 192.1h0M213.2 183.7h0M292.7 185.0h0M244.0 157.3h0M278.8 180.7h0M212.3 192.7h0M251.7 164.4h0M243.5 166.3h0M193.7 200.0h0M268.9 163.1h0M303.8 201.8h0M267.0 160.8h0M257.6 165.2h0M189.6 205.6h0M252.0 159.6h0M214.3 184.3h0M218.7 197.8h0M229.4 169.1h0M258.2 163.3h0M236.9 176.2h0M232.8 166.9h0M280.8 170.4h0M250.8 151.6h0M260.0 160.8h0M227.3 170.1h0M226.8 170.7h0M212.2 196.5h0M247.0 156.0h0M293.0 179.3h0M229.7 184.3h0M243.3 182.4h0M214.4 192.9h0M217.8 189.1h0M217.4 186.4h0M302.9 187.3h0M234.9 197.9h0M263.8 173.4h0M249.4 170.8h0M217.4 202.9h0M253.4 179.5h0M253.0 169.5h0M249.0 178.4h0M250.2 170.8h0M304.8 196.6h0M229.0 183.1h0M252.8 172.4h0M259.9 157.7h0M247.4 158.2h0M267.3 174.3h0M266.3 189.6h0M265.9 181.9h0M237.5 185.5h0M254.6 154.6h0M237.1 174.0h0M256.3 195.5h0M248.6 181.5h0M249.6 186.4h0M224.8 174.4h0M249.2 195.7h0M218.4 178.7h0M302.5 187.7h0M210.0 188.0h0M232.0 187.9h0M233.5 171.9h0M208.2 193.8h0M244.3 187.9h0M278.7 168.2h0M265.4 168.8h0M279.2 167.6h0M206.1 190.2h0M251.2 150.3h0M245.9 165.1h0M273.9 169.5h0M248.8 151.8h0M267.9 172.4h0M261.6 168.2h0M274.4 189.6h0M312.2 196.5h0M297.4 185.5h0M241.6 159.3h0M235.2 185.2h0M243.5 158.4h0M238.8 177.9h0M225.4 184.3h0M246.6 178.2h0M271.6 190.1h0M237.0 174.6h0M234.1 165.4h0M228.4 200.6h0M205.0 196.5h0M244.4 167.0h0M285.4 177.0h0M232.6 183.8h0M241.7 174.6h0M215.4 200.4h0M239.8 178.9h0M246.1 182.4h0M259.3 169.8h0M261.1 169.1h0M196.0 202.2h0M224.9 200.4h0M202.1 201.8h0M259.6 156.3h0M252.7 161.5h0M281.8 171.9h0M261.9 182.3h0M269.4 172.0h0M211.0 188.5h0M240.8 162.3h0M254.9 175.3h0M240.6 169.5h0M234.3 164.7h0M235.5 175.2h0M247.7 199.9h0M282.5 175.3h0M271.0 159.7h0M231.2 180.4h0M230.0 170.0h0M241.7 163.3h0M271.9 171.1h0M295.7 187.8h0M237.5 167.9h0M296.3 190.4h0M232.7 194.2h0M217.3 187.5h0M222.6 177.4h0M251.8 173.9h0M290.3 185.4h0M248.5 177.4h0M219.5 189.8h0M202.4 193.1h0M277.6 179.1h0M215.2 181.7h0M225.3 195.0h0M257.1 166.1h0M236.4 176.3h0M239.0 196.1h0M207.9 197.8h0M246.0 163.0h0M215.0 194.4h0M259.4 159.8h0M274.9 174.4h0M248.9 169.8h0M271.4 171.5h0M291.5 189.0h0M302.9 197.1h0M197.0 198.1h0M252.7 159.7h0M247.6 156.8h0M211.9 189.1h0M247.8 197.7h0M247.9 182.3h0M284.1 174.3h0M253.2 200.5h0M202.2 196.7h0M308.6 197.3h0M187.0 205.4h0M247.9 187.6h0M238.3 185.8h0M283.2 173.2h0M257.8 174.3h0M205.6 200.8h0M236.2 198.1h0M235.4 167.5h0M223.4 186.8h0M214.2 199.1h0M252.6 152.0h0M242.0 192.3h0M251.9 154.5h0M210.9 191.1h0M230.1 186.6h0M216.5 186.2h0M220.5 179.2h0M241.1 185.8h0M248.7 163.7h0M199.5 204.7h0M237.1 195.8h0M284.8 186.8h0M193.5 199.8h0M257.6 158.8h0M246.1 167.7h0M234.0 176.1h0M227.4 176.9h0M251.4 164.8h0M240.0 178.2h0M238.4 172.3h0M261.3 189.1h0M250.7 161.7h0M196.3 199.0h0M223.2 189.8h0M222.4 175.3h0M263.6 182.1h0M216.8 189.5h0M221.8 175.6h0M231.0 184.2h0M263.3 190.6h0M222.9 176.3h0M229.3 170.3h0M201.8 202.5h0M216.0 188.7h0M213.7 187.4h0M253.3 154.0h0M307.0 199.5h0M297.4 200.4h0M224.5 192.1h0M254.2 148.2h0M259.3 200.1h0M231.4 169.5h0M217.0 188.8h0M253.3 190.3h0M249.5 197.0h0M252.6 153.0h0M235.1 167.2h0M246.1 157.9h0M210.2 190.2h0M284.8 186.0h0M235.4 195.3h0M221.9 192.4h0M248.9 173.0h0M245.8 163.8h0M243.2 172.0h0M304.4 202.4h0M277.9 166.6h0M213.5 193.2h0M249.3 156.1h0M252.4 179.2h0M208.3 187.5h0M246.8 187.5h0M200.2 194.9h0M288.6 188.2h0M217.8 187.9h0M198.8 202.9h0M261.2 159.4h0M233.5 191.0h0M244.7 184.7h0M252.3 179.9h0M276.0 184.6h0M245.5 163.1h0M214.8 189.1h0M206.2 193.6h0M237.2 185.8h0M243.9 172.4h0M239.6 169.4h0M270.2 186.7h0M245.9 175.4h0M258.1 188.7h0M263.3 154.7h0M249.2 182.8h0M236.1 169.1h0M252.8 162.1h0M249.2 177.2h0M237.7 177.1h0M260.5 181.1h0M223.1 186.3h0M209.3 192.7h0M228.9 190.7h0M206.5 189.0h0M260.0 164.2h0M232.2 170.6h0M253.4 158.1h0M267.5 199.2h0M232.6 168.2h0M300.3 195.7h0M273.1 173.8h0M257.7 168.9h0M209.4 190.7h0M230.4 175.1h0M225.7 178.0h0M238.2 166.7h0M236.7 180.1h0M231.6 171.4h0M215.0 185.0h0M265.9 167.8h0M228.4 173.7h0M230.5 183.5h0M246.7 155.8h0M231.8 179.7h0M250.6 205.0h0M251.2 154.0h0M212.8 201.0h0M232.9 182.6h0M231.2 171.7h0M238.5 172.9h0M236.8 163.3h0M207.0 196.6h0M250.0 177.4h0M261.4 162.6h0M294.0 180.9h0M242.9 171.8h0M256.6 174.1h0M220.5 177.2h0M239.5 173.3h0M215.6 181.7h0M200.1 201.2h0M193.4 199.2h0M246.3 178.5h0M239.3 173.1h0M223.0 176.7h0M241.3 173.7h0M220.7 199.4h0M217.3 192.2h0M248.5 176.1h0M234.2 173.5h0M244.7 157.5h0M248.3 191.3h0M239.1 174.6h0M221.5 180.4h0M248.5 160.5h0M267.7 158.3h0M260.9 157.5h0M237.6 179.7h0M234.6 185.9h0M212.4 184.5h0M266.3 186.3h0M273.0 162.4h0M275.3 182.9h0M234.5 173.6h0M224.7 191.7h0M249.1 199.5h0M248.0 169.6h0M255.3 170.8h0M227.1 185.5h0M197.9 200.9h0M227.8 180.8h0M246.2 159.8h0M300.5 185.1h0M237.5 180.6h0M239.0 173.3h0M243.8 190.5h0M209.0 201.5h0M249.7 166.1h0M251.2 167.1h0M296.2 181.8h0M282.8 174.3h0M238.5 167.0h0M288.2 176.3h0M203.5 192.2h0M256.7 176.4h0M204.3 194.0h0M215.0 198.8h0M271.6 186.2h0M252.8 167.5h0M235.9 164.5h0M251.4 165.1h0M244.2 167.3h0M267.2 165.3h0M248.1 158.6h0M292.4 180.4h0M235.9 168.9h0M225.0 179.7h0M222.8 191.3h0M241.8 188.5h0M214.5 201.3h0M292.9 180.4h0M251.1 192.2h0M274.6 167.0h0M256.7 197.9h0M235.1 181.0h0M253.5 186.7h0M262.3 182.1h0M250.1 175.9h0M239.2 175.6h0M217.6 183.0h0M244.2 176.7h0M307.8 196.0h0M218.9 187.1h0M275.8 166.4h0M210.6 200.2h0M259.1 154.8h0M238.8 165.2h0M268.5 181.1h0M292.1 186.6h0M226.4 191.5h0M266.1 179.1h0M252.4 163.7h0M233.4 167.5h0M277.0 203.6h0M206.6 199.2h0M234.8 194.5h0M212.2 188.4h0M246.5 172.1h0M251.7 172.5h0M259.3 201.5h0M234.5 180.8h0M214.2 205.2h0M279.8 168.0h0M218.1 183.4h0M241.1 159.9h0M277.7 166.1h0M240.4 162.4h0M224.7 180.4h0M263.5 190.5h0M279.1 167.1h0M264.9 187.7h0M215.2 189.1h0M252.0 183.2h0M201.0 199.2h0M267.6 162.0h0M277.0 166.8h0M241.3 172.5h0M253.2 160.0h0M272.2 170.6h0M202.4 192.7h0M249.3 160.9h0M253.1 205.5h0M249.6 169.7h0M268.2 192.6h0M243.5 180.1h0M222.1 205.3h0M287.5 182.0h0M234.8 174.9h0M253.1 202.8h0M253.2 174.2h0M244.0 159.6h0M237.4 165.7h0M259.4 164.6h0M200.8 198.0h0M224.7 172.5h0M212.0 194.0h0M265.9 166.7h0M255.2 177.4h0M294.7 186.5h0M249.7 194.7h0M238.9 167.4h0M221.5 181.6h0M292.7 185.6h0M262.0 180.9h0M218.4 181.1h0M229.0 174.8h0M227.5 203.5h0M239.2 179.9h0M246.0 174.2h0M246.2 167.6h0M249.8 152.3h0M204.7 190.2h0M262.0 192.6h0M237.4 168.9h0M247.9 152.4h0M251.1 169.1h0M237.0 195.9h0M228.0 182.1h0M234.6 184.3h0M237.3 172.1h0M252.8 200.6h0M190.7 204.8h0M251.6 168.5h0M204.2 190.5h0M222.3 175.8h0M271.6 174.4h0M224.9 184.0h0M253.8 153.0h0M251.8 152.1h0M239.1 169.2h0M219.8 182.6h0M274.2 164.6h0M250.2 191.3h0M210.0 191.7h0M215.3 186.0h0M200.0 196.8h0M248.8 181.6h0M278.1 184.9h0M216.8 189.9h0M253.2 155.9h0M192.7 200.1h0M219.3 179.5h0M281.5 175.0h0M263.5 156.2h0M286.2 192.5h0M233.3 178.3h0M251.1 188.1h0M291.5 194.2h0M273.4 184.2h0M265.3 170.0h0M243.2 169.3h0M300.4 187.7h0M233.0 179.5h0M207.7 194.2h0M228.2 178.3h0M249.6 175.3h0M218.8 192.7h0M221.6 184.1h0M218.8 190.4h0M262.9 159.1h0M246.4 158.4h0M189.1 205.6h0M273.1 186.1h0M240.3 177.0h0M256.5 167.9h0M231.5 169.0h0M284.5 175.8h0M247.2 179.6h0M229.3 199.4h0M276.9 190.1h0M232.1 183.1h0M250.6 178.6h0M207.5 190.1h0M268.8 162.2h0M286.6 189.7h0M224.4 184.8h0M283.5 177.5h0M238.7 170.7h0M208.8 194.8h0M258.6 155.0h0M248.4 167.4h0M251.9 177.9h0M222.8 203.7h0M236.4 169.6h0M217.4 187.6h0M257.5 164.4h0M215.8 186.7h0M275.9 173.6h0M252.3 160.1h0M227.0 187.4h0M243.9 166.1h0M243.1 180.9h0M285.3 175.2h0M240.5 188.0h0M227.8 203.6h0M281.3 184.7h0M294.8 182.3h0M255.4 181.0h0M236.0 172.9h0M223.6 180.0h0M248.6 162.6h0M259.4 182.5h0M244.5 183.2h0M225.1 188.1h0M249.3 196.3h0M188.2 204.4h0M243.2 166.5h0M276.2 165.4h0M242.4 179.6h0M258.8 165.3h0M209.5 192.0h0M200.9 195.1h0M200.2 195.3h0M253.0 184.0h0M257.6 181.6h0M216.3 196.2h0M237.2 184.4h0M239.3 161.2h0M259.4 183.2h0M257.5 171.3h0M206.0 195.9h0M243.3 184.2h0M247.4 172.9h0M238.5 168.7h0M259.1 169.0h0M225.5 189.0h0M226.6 175.9h0M204.1 200.0h0M290.3 185.0h0M251.8 183.1h0M286.8 176.7h0M244.0 166.7h0M236.7 179.4h0M219.0 181.9h0M233.1 187.2h0M228.1 172.0h0M218.6 192.6h0M261.4 158.4h0M239.3 168.0h0M217.6 194.9h0M251.1 194.6h0M279.1 190.2h0M235.2 166.1h0M195.4 201.6h0M205.1 193.0h0M278.8 170.3h0M268.1 170.0h0M239.1 181.1h0M210.8 195.4h0M249.8 157.0h0M223.0 174.9h0M240.9 165.2h0M288.7 180.8h0M223.0 175.6h0M225.8 184.0h0M249.4 162.3h0M231.8 167.2h0M261.5 163.1h0M201.4 197.3h0M276.7 168.6h0M260.4 180.1h0M229.5 169.2h0M244.6 158.2h0M235.6 198.2h0M293.4 181.8h0M255.4 182.2h0M290.0 196.5h0M226.4 172.2h0M232.9 168.6h0M252.4 176.1h0M255.6 147.3h0M206.3 189.5h0M228.3 184.0h0M229.6 189.0h0M249.2 157.8h0M214.4 202.5h0M215.6 194.5h0M233.0 182.6h0M271.7 164.6h0M300.0 185.6h0M259.5 186.1h0M220.2 204.2h0M227.1 199.7h0M271.9 198.1h0M249.6 152.1h0M202.5 202.7h0M250.1 164.8h0M222.9 181.5h0M279.2 177.8h0M227.8 175.9h0M265.2 171.6h0M243.5 162.4h0M277.7 188.0h0M252.6 172.0h0M217.2 190.7h0M285.6 175.9h0M254.3 158.2h0M269.4 179.8h0M237.4 169.5h0M268.7 167.7h0M260.8 165.4h0M251.3 155.2h0M266.8 174.6h0M224.2 177.6h0M236.7 204.1h0M240.6 179.3h0M250.7 198.3h0M299.8 187.1h0M260.0 177.2h0M236.8 170.1h0M278.9 187.3h0M274.4 163.7h0M236.2 205.2h0M259.8 192.6h0M251.5 149.6h0M230.4 180.5h0M206.5 194.8h0M225.4 189.2h0M256.2 158.7h0M262.7 167.1h0M214.0 181.8h0M216.3 199.2h0M244.8 164.7h0M262.4 191.8h0M299.5 187.7h0M232.2 166.3h0M252.0 160.9h0M243.4 157.3h0M279.6 172.1h0M229.5 169.2h0M244.4 155.6h0M206.2 189.3h0M246.6 166.5h0M266.4 167.0h0M216.6 186.1h0M249.9 166.4h0M262.8 186.3h0M240.9 175.2h0M228.8 193.4h0M249.9 182.2h0M254.2 177.5h0M245.9 195.3h0M253.9 155.7h0M235.2 194.5h0M251.7 170.6h0M249.7 178.4h0M258.7 172.0h0M290.4 182.5h0M253.7 173.2h0M267.1 171.1h0M213.5 189.0h0M240.6 174.8h0M245.6 169.7h0M246.4 178.8h0M204.7 204.0h0M257.7 161.6h0M253.6 150.2h0M205.2 192.3h0M249.4 166.1h0M243.0 176.7h0M231.6 194.9h0M218.1 184.0h0M241.0 171.9h0M203.8 198.8h0M243.7 189.1h0M242.4 203.8h0M241.0 184.8h0M224.8 175.8h0M241.4 187.0h0M228.1 194.4h0M228.0 179.2h0M240.7 184.9h0M257.9 179.6h0M231.2 180.6h0M208.9 202.5h0M218.6 185.9h0M227.8 171.6h0M204.6 190.6h0M278.6 166.9h0M251.9 176.1h0M205.0 194.7h0M229.0 186.7h0M253.7 168.1h0M233.9 174.5h0M199.9 198.4h0M245.8 167.9h0M224.4 173.3h0M289.1 177.5h0M240.8 192.3h0M219.8 183.8h0M237.1 185.3h0M209.8 203.7h0M253.1 181.2h0M201.7 202.7h0M289.2 179.8h0M310.2 198.3h0M230.5 181.4h0M228.6 180.1h0M250.0 162.4h0M273.7 178.5h0M205.8 197.4h0M298.2 185.3h0M209.5 188.9h0M216.8 194.7h0M232.7 187.4h0M234.4 180.5h0M266.4 163.1h0M300.5 193.8h0M243.8 161.3h0M196.8 198.3h0M207.3 198.2h0M301.5 186.7h0M249.0 204.0h0M188.1 204.1h0M235.5 163.9h0M231.6 170.0h0M259.0 178.7h0M254.7 156.4h0M229.5 195.0h0M248.5 175.4h0M278.3 165.9h0M213.7 189.2h0M221.2 191.2h0M250.5 194.6h0M276.9 176.5h0M249.1 164.7h0M254.7 169.3h0M285.1 179.6h0M255.1 178.1h0M225.4 173.4h0M248.1 171.2h0M237.7 197.4h0M283.9 171.7h0M257.0 155.4h0M257.4 180.9h0M231.9 178.2h0M204.0 199.0h0M231.7 181.6h0M276.8 168.6h0M275.7 164.8h0M254.6 146.9h0M223.4 195.9h0M287.0 178.5h0M257.2 163.9h0M228.5 172.2h0M248.3 159.5h0M239.5 174.7h0M247.1 195.9h0M247.1 162.4h0M223.5 179.4h0M241.8 168.3h0M276.3 179.0h0M247.3 164.6h0M229.8 177.0h0M235.0 170.1h0M250.4 156.8h0M284.3 187.7h0M295.2 188.7h0M251.1 164.1h0M244.6 159.7h0M237.2 184.7h0M240.4 190.2h0M251.9 158.3h0M251.1 184.3h0M252.4 176.7h0M222.8 191.4h0M248.7 184.0h0M244.0 171.0h0M256.3 191.8h0M216.0 185.1h0M236.7 203.0h0M285.9 173.2h0M226.2 171.1h0M245.8 176.5h0M224.4 182.4h0M231.6 167.5h0M239.9 161.9h0M237.8 164.7h0M207.0 190.1h0M272.8 173.6h0M288.2 175.1h0M220.0 187.2h0M205.3 194.0h0M239.0 179.7h0M279.3 169.0h0M203.1 192.5h0M272.3 167.6h0M262.4 160.8h0M296.0 194.3h0M274.9 189.9h0M264.3 174.7h0M217.5 194.0h0M196.8 197.8h0M214.3 182.1h0M237.8 179.6h0M209.4 192.9h0M212.0 201.2h0M228.4 173.5h0M215.2 186.5h0M274.1 188.6h0M281.6 173.9h0M232.8 196.4h0M210.8 191.1h0M226.8 181.9h0M223.7 183.0h0M269.5 186.6h0M230.5 193.6h0M290.2 177.9h0M265.7 177.7h0M254.0 170.8h0M244.1 179.8h0M245.1 164.4h0M226.2 173.4h0M258.7 193.8h0M252.3 164.4h0M263.6 180.9h0M254.2 148.1h0M279.8 184.5h0M236.8 171.0h0M212.4 190.7h0M217.5 186.3h0M203.4 194.0h0M252.4 151.5h0M230.0 174.3h0M275.0 187.1h0M257.8 174.3h0M250.3 162.3h0M245.9 169.2h0M216.1 184.1h0M216.3 185.2h0M290.1 183.8h0M248.2 174.9h0M199.3 196.7h0M222.9 184.8h0M223.5 190.9h0M281.0 196.7h0M265.2 191.9h0M247.5 160.0h0M247.3 169.0h0M210.1 192.6h0M262.1 193.6h0M243.4 178.2h0M225.3 189.4h0M250.9 184.8h0M251.0 161.7h0M221.1 180.6h0M199.3 194.7h0M192.9 203.9h0M225.0 178.4h0M254.7 193.1h0M237.2 173.4h0M275.1 203.3h0M304.4 192.0h0M246.3 170.3h0M282.7 187.9h0M196.8 198.5h0M247.5 167.0h0M208.4 198.2h0M218.6 187.3h0M301.8 192.2h0M203.3 195.0h0M192.5 200.7h0M245.5 159.2h0M241.4 169.0h0M270.3 174.0h0M263.2 164.4h0M239.3 178.0h0M212.6 192.6h0M235.0 172.5h0M212.2 194.0h0M242.0 161.6h0M248.0 200.0h0M255.3 167.9h0M195.1 198.7h0M233.4 171.5h0M245.9 176.8h0M259.6 164.0h0M220.0 178.3h0M250.8 175.9h0M285.4 181.5h0M271.4 167.5h0M266.3 179.4h0M235.8 188.5h0M271.8 181.9h0M246.9 166.0h0M273.8 163.4h0M301.4 188.8h0M232.2 186.9h0M226.6 190.5h0M235.0 167.1h0M221.2 185.5h0M278.2 168.2h0M281.8 173.5h0M227.0 194.3h0M197.8 196.6h0M218.9 177.4h0M247.6 178.2h0M252.3 177.3h0M231.6 183.1h0M226.4 184.5h0M248.1 174.4h0M282.0 175.2h0M297.4 197.1h0M218.4 189.7h0M243.0 180.1h0M299.4 186.2h0M297.3 189.7h0M290.3 187.9h0M233.9 187.9h0M231.4 169.9h0M280.6 170.9h0M214.1 191.5h0M236.6 185.1h0M282.7 195.6h0M251.1 178.1h0M298.3 190.7h0M256.3 162.2h0M255.4 147.5h0M255.3 167.6h0M272.3 166.7h0M252.6 160.9h0M204.5 197.4h0M256.5 178.2h0M235.7 194.3h0M255.7 170.2h0M285.6 199.7h0M230.0 176.4h0M242.2 157.8h0M255.1 165.8h0M224.8 176.6h0M243.8 168.1h0M218.0 190.9h0M300.1 197.4h0M283.3 189.2h0M202.4 194.7h0M225.6 175.7h0M271.0 169.1h0M205.7 193.3h0M288.9 186.6h0M249.7 157.3h0M234.6 169.2h0M223.9 196.1h0M204.0 194.7h0M234.2 169.2h0M226.4 172.1h0M203.3 203.6h0M227.4 176.4h0M211.6 184.9h0M189.4 203.9h0M213.6 190.8h0M204.2 193.0h0M258.2 177.9h0M283.3 182.3h0M246.5 183.0h0M253.1 162.4h0M248.8 204.5h0M256.7 183.3h0M241.3 201.4h0M275.2 192.6h0M238.8 176.8h0M261.4 167.8h0M219.3 201.2h0M261.5 171.9h0M217.8 185.6h0M242.3 162.3h0M232.9 167.3h0M237.3 173.9h0M252.6 172.9h0M239.1 172.4h0M267.0 199.2h0M241.1 169.2h0M230.9 180.2h0M267.6 165.0h0M265.7 182.1h0M198.9 197.4h0M245.2 181.1h0M245.4 163.3h0M275.8 181.2h0M235.7 164.0h0M290.2 180.0h0M258.3 166.3h0M263.4 155.3h0M234.4 191.6h0M202.4 196.7h0M204.9 191.8h0M307.4 195.7h0M238.0 165.5h0M247.6 161.3h0M243.5 190.3h0M247.4 180.7h0M246.8 185.0h0M198.3 202.5h0M241.1 165.3h0M252.1 162.0h0M227.1 172.9h0M212.7 187.8h0M223.5 176.8h0M212.1 184.3h0M240.9 164.1h0M274.0 178.8h0M191.6 201.3h0M248.3 195.1h0M289.6 190.5h0M281.3 169.6h0M257.9 178.9h0M240.9 165.1h0M286.8 176.9h0M270.7 166.3h0M285.2 175.3h0M293.1 194.6h0M245.8 166.0h0M273.5 185.4h0M214.6 202.5h0M236.0 182.8h0M252.8 160.2h0M254.3 147.8h0M228.5 170.7h0M228.9 180.6h0M224.4 186.1h0M216.3 187.0h0M253.4 165.6h0M252.1 157.0h0M281.8 170.7h0M265.5 196.1h0M282.0 169.7h0M244.0 165.1h0M201.4 193.7h0M235.3 204.2h0M254.5 159.9h0M275.2 169.8h0M248.4 178.3h0M253.5 155.3h0M211.3 189.5h0M238.3 170.2h0M202.0 195.3h0M286.5 177.9h0M206.3 192.1h0M197.2 195.9h0M274.9 195.8h0M198.0 200.6h0M231.1 187.7h0M256.3 171.1h0M242.8 163.8h0M269.7 176.7h0M281.2 174.4h0M221.7 180.8h0M206.7 193.6h0M232.0 182.1h0M190.4 205.5h0M239.4 170.9h0M220.5 191.5h0M218.8 189.0h0M270.5 167.3h0M229.7 170.0h0M222.8 178.8h0M253.6 160.4h0M254.9 194.7h0M255.1 186.0h0M210.7 205.2h0M233.4 169.7h0M243.9 164.3h0M227.4 188.7h0M197.9 199.3h0M257.3 168.7h0M283.7 191.7h0M222.7 175.5h0M282.2 169.5h0M236.6 197.3h0M246.5 183.5h0M254.2 185.9h0M253.5 150.4h0M235.5 173.3h0M229.0 170.5h0M227.4 172.7h0M200.4 201.1h0M237.2 167.0h0M240.9 162.3h0M202.3 193.1h0M273.2 172.9h0M225.3 173.4h0M270.1 191.4h0M275.2 180.2h0M277.1 186.3h0M248.5 156.6h0M219.9 193.8h0M239.9 183.6h0M249.0 162.9h0M276.9 194.5h0M214.1 183.6h0M229.2 185.6h0M264.7 155.5h0M228.2 174.2h0M246.6 171.4h0M242.1 176.7h0M222.5 196.0h0M249.9 176.3h0M300.5 187.7h0M260.9 174.4h0M253.0 189.7h0M240.4 160.7h0M254.2 149.6h0M243.3 176.1h0M311.5 195.5h0M282.9 179.9h0M291.9 187.9h0M269.8 189.5h0M215.4 205.6h0M200.4 198.0h0M266.3 158.2h0M251.5 169.9h0M256.0 173.6h0M209.0 202.3h0M283.4 179.7h0M245.3 163.5h0M258.4 157.8h0M191.6 201.9h0M247.5 159.9h0M250.5 155.1h0M241.3 167.0h0M229.5 180.0h0M258.8 182.4h0M223.8 174.1h0M238.8 164.0h0M265.3 193.3h0M232.5 166.6h0M196.5 199.3h0M226.4 190.8h0M234.3 170.0h0M221.5 176.6h0M218.7 198.5h0M209.6 194.1h0M249.4 173.8h0M267.0 170.3h0M243.3 178.7h0M234.5 187.5h0M235.0 200.4h0M233.4 174.5h0M260.2 174.2h0M297.2 185.6h0M313.9 198.4h0M228.8 196.5h0M198.0 202.2h0M257.5 181.0h0M230.3 190.7h0M303.0 202.9h0M244.4 182.4h0M291.8 182.2h0M246.0 162.8h0M285.8 174.3h0M210.9 195.4h0M214.1 197.5h0M290.6 187.1h0M256.5 194.7h0M233.7 166.0h0M190.6 201.9h0M281.9 191.1h0M253.1 156.9h0M223.8 176.8h0M293.7 184.4h0M290.0 183.4h0M224.8 179.8h0M235.5 168.7h0M227.9 184.7h0M230.4 202.5h0M239.6 188.7h0M254.2 157.6h0M204.5 193.1h0M294.5 193.0h0M237.7 179.8h0M274.6 193.6h0M252.4 174.4h0M257.8 157.2h0M252.5 171.5h0M302.6 188.8h0M265.4 180.6h0M218.1 185.0h0M277.7 173.1h0M250.0 171.7h0M217.4 189.8h0M247.4 185.1h0M269.6 165.5h0M232.5 172.5h0M243.5 162.8h0M290.0 178.0h0M241.8 169.7h0M205.3 194.5h0M230.6 180.0h0M253.0 176.0h0M251.2 156.2h0M223.8 188.1h0M212.6 197.8h0M253.7 178.2h0M260.7 169.1h0M244.1 168.3h0M195.0 198.2h0M240.2 173.9h0M270.6 176.6h0M249.7 190.1h0M204.0 193.7h0M307.1 197.0h0M252.5 193.4h0M294.7 189.4h0M288.6 188.4h0M232.6 189.4h0M245.0 179.9h0M213.2 189.2h0M281.8 174.1h0M255.7 178.7h0M214.8 197.0h0M249.0 178.3h0M226.2 181.0h0M211.0 191.1h0M254.2 156.1h0M293.3 185.0h0M238.5 164.5h0M255.4 188.2h0M260.0 161.8h0M240.1 173.1h0M245.3 162.7h0M250.1 178.4h0M302.5 187.5h0M230.9 178.1h0M274.9 165.7h0M235.8 188.3h0M242.3 172.6h0M246.3 161.0h0M227.8 174.0h0M252.9 176.8h0M243.1 194.6h0M227.8 189.7h0M220.1 184.8h0M276.3 180.1h0M244.4 157.9h0M238.3 162.5h0M272.3 181.0h0M271.0 163.6h0M267.8 186.1h0M260.7 185.4h0M237.0 177.5h0M248.8 195.3h0M201.5 197.0h0M243.7 190.7h0M250.5 155.6h0M194.6 201.7h0M230.2 186.6h0M237.0 189.7h0M257.6 161.7h0M240.2 159.8h0M245.2 179.3h0M297.7 186.4h0M273.4 177.2h0M237.0 205.5h0M232.3 169.7h0M254.8 147.0h0M258.9 171.0h0M247.2 200.6h0M207.2 196.3h0M284.5 188.4h0M271.7 173.5h0M252.2 166.6h0M273.2 204.7h0M238.5 163.8h0M259.7 182.9h0M274.3 163.2h0M197.2 200.3h0M266.3 192.3h0M245.6 181.1h0M291.6 189.2h0M239.9 161.7h0M231.0 175.7h0M196.3 202.7h0M210.4 204.3h0M249.1 153.1h0M241.2 176.5h0M232.7 168.2h0M198.6 197.3h0M237.6 163.3h0M225.6 172.8h0M235.8 170.8h0M226.4 178.0h0M253.5 166.6h0M231.8 189.1h0M230.5 197.2h0M203.7 193.8h0M226.7 202.3h0M201.4 195.4h0M260.2 174.3h0M240.0 169.3h0M198.6 199.8h0M253.0 203.7h0M215.8 202.3h0M206.2 191.3h0M217.5 196.7h0M289.8 181.7h0M238.0 169.9h0M215.1 191.0h0M233.1 168.2h0M236.1 165.2h0M276.1 171.8h0M216.9 190.4h0M267.7 185.1h0M241.9 160.0h0M272.2 162.5h0M276.3 165.9h0M268.9 162.9h0M285.2 186.1h0M240.0 170.6h0M250.0 154.6h0M267.6 167.1h0M238.0 176.4h0M303.3 198.2h0M206.9 196.4h0M256.5 161.3h0M253.2 157.8h0M242.4 175.4h0M250.8 155.5h0M280.8 193.7h0M248.5 183.8h0M245.7 155.1h0M237.3 187.0h0M242.5 157.6h0M231.7 171.0h0M246.2 175.8h0M235.9 173.8h0M231.6 169.6h0M234.8 168.1h0M249.9 175.6h0M229.3 173.4h0M302.2 192.2h0M246.1 161.5h0M234.4 178.0h0M248.7 159.7h0M263.5 159.3h0M237.9 176.1h0M192.8 204.2h0M280.3 179.8h0M221.1 183.7h0M236.0 162.9h0M242.4 163.4h0M274.4 181.2h0M268.9 162.3h0M228.3 173.9h0M254.6 149.6h0M207.3 192.0h0M228.2 177.4h0M216.5 193.1h0M236.2 165.2h0M248.0 175.9h0M227.5 179.9h0M217.6 204.9h0M313.2 200.2h0M241.2 163.3h0M254.8 191.0h0M237.6 184.7h0M274.8 190.4h0M259.5 178.7h0M199.2 197.6h0M293.2 203.5h0M223.6 183.4h0M212.7 196.4h0M252.1 169.9h0M227.6 174.8h0M266.1 196.7h0M263.7 180.9h0M203.8 200.2h0M227.8 177.3h0M233.4 203.4h0M239.6 180.8h0M230.1 174.1h0M272.0 169.5h0M272.8 177.2h0M242.1 161.2h0M215.6 181.1h0M280.5 182.2h0M213.4 186.2h0M255.5 176.7h0M206.5 192.0h0M242.6 194.9h0M278.6 177.8h0M252.1 150.5h0M218.5 182.6h0M232.0 174.0h0M260.6 177.8h0M234.9 176.2h0M238.7 170.5h0M240.7 180.5h0M270.2 198.9h0M251.2 199.6h0M223.9 174.5h0M265.0 163.9h0M249.9 167.0h0M204.0 190.7h0M235.6 193.4h0M265.0 154.8h0M242.5 162.9h0M230.1 169.6h0M274.9 183.4h0M207.0 189.0h0M231.5 170.5h0M266.8 157.7h0M231.8 205.3h0M226.4 172.1h0M254.5 149.3h0M231.5 193.8h0M251.0 182.6h0M266.5 180.9h0M250.2 180.1h0M253.9 154.1h0M214.8 182.6h0M229.0 185.2h0M227.4 178.8h0M289.4 189.1h0M242.4 164.1h0M269.7 173.4h0M210.8 189.2h0M246.0 188.9h0M221.4 190.3h0M274.3 172.0h0M268.9 190.3h0M230.7 171.1h0M244.0 160.6h0M272.7 165.2h0M251.4 179.3h0M269.5 169.9h0M228.3 183.9h0M249.7 152.1h0M259.4 187.7h0M234.5 175.0h0M199.8 202.1h0M229.4 170.0h0M267.0 190.9h0M258.9 158.9h0M264.9 190.7h0M250.4 153.8h0M227.0 176.8h0M249.0 182.7h0M224.3 174.4h0M246.8 189.6h0M259.2 179.2h0M298.0 183.6h0M264.3 182.8h0M248.4 166.2h0M230.4 201.0h0M215.0 183.2h0M255.9 171.8h0M229.5 185.6h0M282.4 171.8h0M259.1 178.1h0M233.3 171.6h0M251.6 183.7h0M253.3 153.9h0M244.3 191.4h0M249.4 153.9h0M221.4 192.4h0M239.4 171.3h0M221.6 184.1h0M282.0 183.9h0M224.0 182.5h0M259.2 172.1h0M275.9 164.7h0M240.7 186.3h0M290.3 176.9h0M223.7 194.3h0M273.7 170.7h0M253.9 154.2h0M292.2 178.8h0M250.3 187.5h0M247.1 156.5h0M201.6 199.8h0M282.5 171.6h0M245.1 199.4h0M258.2 192.5h0M228.6 176.6h0M219.5 191.3h0M263.6 157.7h0M239.8 168.7h0M243.7 196.7h0M208.6 193.8h0M257.7 158.1h0M234.2 165.4h0M253.2 166.7h0M207.0 188.6h0M217.5 186.7h0M267.2 164.2h0M220.3 182.0h0M243.3 185.7h0M256.9 170.2h0M253.0 170.6h0M227.2 201.3h0M239.2 172.0h0M225.7 189.2h0M223.5 183.4h0M250.9 173.4h0M307.2 200.1h0M253.8 160.1h0M252.8 189.5h0M256.4 157.4h0M238.7 166.0h0M220.3 198.7h0M245.5 159.0h0M247.9 164.1h0M257.9 168.0h0M250.1 152.2h0M196.2 197.3h0M242.4 181.4h0M269.1 161.3h0M221.3 186.8h0M194.9 202.0h0M227.2 174.0h0M251.6 158.8h0M242.3 160.2h0M237.3 161.8h0M249.4 185.4h0M256.8 178.5h0M248.7 190.0h0M210.1 187.6h0M249.3 188.9h0M222.3 179.3h0M213.3 190.8h0M247.5 157.5h0M279.0 168.5h0M255.7 169.7h0M230.6 194.6h0M215.4 185.1h0M242.1 157.8h0M272.5 185.2h0M243.7 171.1h0M254.4 160.8h0M221.1 177.0h0M208.2 187.0h0M284.9 180.9h0M240.9 178.5h0M247.6 157.1h0M234.6 182.1h0M227.3 183.9h0M210.1 203.5h0M203.2 191.6h0M250.9 173.0h0M307.6 195.4h0M241.6 165.7h0M241.6 185.8h0M231.6 177.9h0M262.9 178.6h0M249.2 152.2h0M259.1 202.2h0M248.5 179.2h0M305.1 204.0h0M295.9 195.1h0M253.6 157.7h0M201.7 192.4h0M252.1 152.9h0M262.7 165.6h0M229.4 184.6h0M229.3 205.0h0M216.9 181.6h0M254.1 188.0h0M222.8 185.3h0M296.0 186.5h0M224.5 198.0h0M230.4 180.9h0M206.3 188.2h0M263.1 171.5h0M284.8 194.9h0M257.8 155.1h0M300.6 194.7h0M199.4 198.3h0M220.7 182.9h0M258.9 155.8h0M229.1 190.2h0M224.0 196.4h0M243.2 175.9h0M253.2 190.3h0M257.5 187.4h0M260.5 197.9h0M307.9 194.8h0M247.3 165.8h0M225.5 174.9h0M249.3 191.4h0M250.6 154.1h0M241.0 192.2h0M236.0 167.1h0M227.1 182.4h0M229.6 185.9h0M222.4 177.2h0M251.7 191.1h0M188.6 204.8h0M239.5 159.9h0M241.5 198.6h0M248.1 154.5h0M250.6 179.9h0M256.0 172.4h0M235.0 169.6h0M260.4 169.5h0M298.1 183.9h0M244.3 184.1h0M202.7 194.6h0M218.5 184.1h0M267.5 196.8h0M204.3 203.5h0M253.5 163.0h0M238.9 181.2h0M267.8 168.1h0M271.8 192.1h0M211.6 192.5h0M260.3 164.4h0M255.4 176.8h0M213.9 190.1h0M260.6 179.9h0M227.9 172.4h0M289.6 196.5h0M285.4 174.3h0M235.7 174.1h0M253.3 150.8h0M250.9 154.7h0M243.2 163.6h0M250.6 158.7h0M237.8 174.5h0M313.0 196.4h0M234.3 164.4h0M249.0 163.9h0M238.8 176.4h0M225.8 205.1h0M282.8 171.0h0M251.5 171.5h0M201.0 195.2h0M272.8 183.0h0M254.8 172.0h0M210.2 185.0h0M269.4 164.6h0M257.4 170.8h0M198.9 194.7h0M237.9 163.4h0M225.2 179.9h0M222.3 185.2h0M292.2 202.6h0M261.2 170.9h0M232.4 174.9h0M250.0 182.3h0M266.0 165.9h0M267.5 169.6h0M254.3 204.8h0M226.3 174.2h0M225.4 185.1h0M242.7 179.6h0M247.6 180.6h0M221.9 191.2h0M250.9 162.8h0M267.7 171.3h0M256.1 193.2h0M247.7 195.3h0M295.1 195.4h0M271.4 164.3h0M303.7 189.7h0M237.0 177.7h0M275.2 176.6h0M242.1 170.9h0M249.6 153.1h0M231.9 173.9h0M296.1 183.1h0M264.1 191.2h0M233.1 165.5h0M219.8 179.8h0M239.0 192.0h0M237.9 198.2h0M221.8 185.3h0M232.9 183.3h0M234.3 175.6h0M249.1 158.6h0M225.9 192.1h0M294.7 181.8h0M210.8 186.1h0M230.8 168.7h0M278.8 187.0h0M255.5 190.0h0M285.5 176.1h0M298.1 194.3h0M230.7 175.7h0M259.2 159.0h0M209.9 197.8h0M255.6 178.1h0M202.2 196.8h0M230.1 171.2h0M233.9 174.4h0M255.7 168.0h0M242.9 180.2h0M228.7 186.8h0M228.9 188.9h0M213.8 194.9h0M245.5 195.4h0M243.8 187.1h0M246.0 173.9h0M240.3 170.0h0M229.6 179.4h0M229.4 173.2h0M257.8 205.4h0M202.1 192.1h0M203.3 204.3h0M255.1 168.9h0M211.7 202.4h0M266.3 157.1h0M224.2 182.1h0M264.0 173.2h0M278.6 169.6h0M244.1 175.1h0M227.4 184.9h0M215.4 189.1h0M216.3 180.4h0M234.3 189.0h0M245.7 187.9h0M236.7 177.0h0M218.1 181.3h0M228.3 173.2h0M224.0 185.4h0M248.5 159.1h0M230.6 172.0h0M227.9 190.4h0M225.8 193.5h0M246.1 181.9h0M239.0 200.0h0M222.1 188.5h0M247.6 152.7h0M233.3 197.3h0M239.6 161.7h0M236.9 188.4h0M209.3 193.8h0M254.3 176.8h0M222.5 188.9h0M248.7 154.3h0M245.3 169.9h0M274.3 189.8h0M204.7 195.3h0M245.0 171.3h0M225.1 177.8h0M250.3 205.5h0M191.4 201.6h0M258.0 169.9h0M207.7 187.3h0M250.2 186.3h0M256.6 185.3h0M187.6 204.5h0M228.3 181.7h0M299.9 187.0h0M246.4 187.1h0M252.8 175.2h0M207.6 204.2h0M231.4 177.5h0M262.1 193.4h0M213.3 201.8h0M257.0 170.1h0M235.9 168.1h0M215.6 195.5h0M206.3 190.2h0M247.9 175.1h0M206.0 193.8h0M254.6 155.4h0M263.9 173.1h0M283.2 193.8h0M255.7 158.5h0M197.6 200.3h0M206.0 193.9h0M208.8 186.1h0M225.5 174.2h0M254.7 148.9h0M290.4 183.0h0M250.2 163.1h0M245.4 179.1h0M274.6 171.5h0M239.1 186.3h0M220.9 198.5h0M313.2 202.7h0M234.2 197.1h0M257.8 197.0h0M301.5 187.8h0M227.8 181.3h0M217.4 189.9h0M311.8 194.8h0M282.8 187.2h0M227.1 180.6h0M225.9 179.1h0M249.4 181.3h0M270.3 166.8h0M260.9 162.7h0M202.7 191.7h0M224.6 176.7h0M254.2 164.6h0M234.3 174.0h0M254.2 173.9h0M231.9 180.8h0M240.5 178.4h0M264.4 155.1h0M225.5 180.2h0M225.6 185.2h0M245.3 156.7h0M223.2 189.6h0M257.5 167.7h0M289.9 184.4h0M204.6 192.7h0M225.0 193.2h0M234.5 166.9h0M240.3 187.1h0M256.1 182.6h0M289.4 198.4h0M241.5 169.0h0M251.5 187.8h0M239.2 176.2h0M229.2 200.1h0M246.8 177.2h0M238.0 188.5h0M241.4 192.0h0M230.6 183.9h0M263.8 157.0h0M261.9 188.2h0M225.4 180.6h0M296.9 195.5h0M230.8 184.9h0M203.2 191.6h0M250.0 179.0h0M252.9 186.6h0M233.1 176.1h0M238.9 201.1h0M228.4 175.3h0M201.0 193.3h0M228.0 192.0h0M302.9 189.6h0M213.3 186.5h0M247.1 203.9h0M242.6 178.9h0M286.8 182.5h0M246.5 203.6h0M245.1 175.6h0M245.6 175.3h0M211.5 188.2h0M287.3 174.2h0M230.3 189.9h0M219.0 181.5h0M252.3 180.3h0M246.9 165.6h0M231.7 202.0h0M238.8 168.8h0M243.9 176.1h0M279.3 173.3h0M236.8 184.3h0M234.9 199.9h0M247.8 154.2h0M239.5 187.5h0M217.3 201.1h0M250.1 159.3h0M252.1 155.2h0M212.1 196.9h0M261.9 159.3h0M230.2 187.5h0M251.6 169.0h0M261.5 159.8h0M230.0 188.4h0M238.6 186.4h0M226.6 171.2h0M212.5 194.4h0M217.7 179.8h0M246.6 160.2h0M206.7 199.3h0M261.2 165.6h0M223.3 184.9h0M202.9 192.7h0M213.9 191.0h0M291.5 185.7h0M247.1 178.8h0M201.4 199.4h0M245.6 155.1h0M251.3 155.1h0M249.5 163.4h0M221.6 186.6h0M228.3 175.0h0M214.6 201.6h0M281.6 172.6h0M291.9 177.8h0M240.1 168.2h0M230.0 173.5h0M242.1 169.5h0M269.0 170.7h0M247.8 166.0h0M241.6 187.9h0M207.2 191.4h0M206.9 192.2h0M236.6 199.3h0M251.8 186.0h0M236.1 189.6h0M308.6 193.8h0M247.4 164.1h0M266.8 160.0h0M204.0 191.7h0M252.0 158.8h0M264.2 171.6h0M205.5 197.0h0M254.2 149.9h0M243.0 177.8h0M231.4 193.4h0M256.6 161.9h0M236.1 174.0h0M238.5 166.5h0M281.0 171.6h0M215.0 181.3h0M297.1 189.5h0M287.7 188.3h0M246.9 167.2h0M300.4 189.1h0M237.1 164.4h0M252.4 172.7h0M251.2 157.3h0M205.4 194.6h0M239.3 167.1h0M292.4 195.9h0M244.0 163.5h0M253.8 171.7h0M300.0 194.0h0M230.6 195.4h0M213.5 182.5h0M253.9 186.6h0M234.9 170.5h0M278.7 183.6h0M236.8 198.6h0M275.7 168.6h0M255.2 177.5h0M239.1 175.6h0M267.3 168.5h0M207.7 189.6h0M240.6 173.5h0M200.9 197.9h0M294.7 202.0h0M230.1 174.5h0M255.7 157.6h0M243.9 174.6h0M249.9 173.9h0M294.6 183.9h0M280.9 173.9h0M284.8 196.8h0M295.1 185.3h0M232.0 166.5h0M206.3 199.2h0M188.9 205.0h0M267.0 179.7h0M260.8 170.2h0M248.6 181.9h0M296.8 192.0h0M264.6 155.3h0M256.9 157.9h0M279.4 181.5h0M248.4 165.9h0M235.4 196.6h0M223.2 186.7h0M241.6 181.9h0M272.6 172.8h0M217.8 183.9h0M279.5 186.2h0M260.9 155.2h0M218.2 194.6h0M256.2 158.6h0M223.4 203.2h0M235.9 181.7h0M248.0 162.6h0M274.9 164.9h0M263.0 169.7h0M229.4 192.7h0M265.4 155.6h0M236.0 167.4h0M216.1 191.0h0M244.8 178.1h0M217.5 182.8h0M255.8 162.9h0M246.8 196.2h0M263.7 159.6h0M308.0 194.6h0M243.0 168.3h0M240.1 174.7h0M241.7 160.0h0M203.9 204.6h0M230.9 170.0h0M246.0 166.1h0M260.3 162.7h0M232.6 167.0h0M226.3 171.0h0M218.5 181.9h0M255.9 200.2h0M225.1 174.6h0M316.4 201.9h0M218.9 187.9h0M246.0 176.4h0M279.4 169.6h0M242.7 171.3h0M247.3 176.0h0M244.0 158.5h0M282.9 179.1h0M251.9 193.9h0M270.7 177.4h0M270.3 181.9h0M230.4 186.3h0M220.1 195.7h0M250.0 198.6h0M241.4 202.8h0M234.6 179.9h0M237.3 178.4h0M216.6 187.7h0M265.2 158.7h0M222.0 183.6h0M306.1 191.8h0M238.7 170.1h0M235.4 169.5h0M229.7 173.4h0M216.3 204.0h0M224.7 180.8h0M296.9 184.0h0M228.0 190.2h0M242.8 198.8h0M249.5 163.0h0M194.1 202.0h0M254.3 162.2h0M273.9 193.8h0M241.4 180.6h0M225.5 179.9h0M234.2 175.7h0M255.6 169.5h0M239.3 184.0h0M309.1 194.1h0M220.8 180.9h0M204.1 191.4h0M255.5 155.3h0M250.1 167.3h0M234.8 170.6h0M281.1 171.6h0M242.5 196.6h0M236.3 179.8h0M210.6 205.4h0M239.2 163.0h0M253.6 166.0h0M214.3 184.4h0M223.6 200.3h0M206.7 202.1h0M253.8 163.3h0M237.2 195.0h0M248.5 152.1h0M249.0 161.8h0M200.3 194.0h0M264.9 171.4h0M249.4 163.1h0M252.3 150.4h0M267.7 185.6h0M309.1 196.1h0M192.8 204.0h0M261.7 205.6h0M242.8 172.5h0M254.9 150.9h0M232.5 170.6h0M220.6 193.7h0M253.6 193.6h0M265.0 190.7h0M238.6 200.4h0M209.9 188.6h0M217.6 179.0h0M214.4 194.2h0M259.2 169.6h0M219.2 185.4h0M248.5 159.9h0M248.8 184.7h0M267.4 188.5h0M229.3 173.8h0M201.3 197.6h0M195.6 198.5h0M265.0 191.6h0M253.9 175.6h0M215.7 181.7h0M255.9 154.7h0M230.8 173.8h0M215.0 183.7h0M229.0 170.0h0M282.7 182.5h0M202.9 193.0h0M237.8 172.0h0M257.1 189.4h0M225.2 178.3h0M237.2 202.5h0M305.6 201.3h0M239.5 175.5h0M305.3 192.0h0M213.2 195.3h0M232.6 189.6h0M213.3 184.3h0M235.6 198.2h0M313.4 199.6h0M219.1 189.8h0M244.5 158.1h0M196.2 201.1h0M241.5 165.5h0M231.9 167.5h0M219.7 177.0h0M285.5 179.0h0M240.7 161.4h0M266.6 178.8h0M266.6 162.8h0M258.9 193.4h0M277.9 182.5h0M276.5 198.9h0M263.2 177.5h0M235.6 188.3h0M253.0 153.3h0M283.7 178.6h0M260.3 170.7h0M224.7 179.0h0M242.2 180.0h0M252.4 186.6h0M237.9 189.2h0M286.4 197.4h0M252.4 167.3h0M229.1 184.6h0M254.8 161.4h0M270.6 188.3h0M233.7 194.3h0M229.0 175.3h0M230.8 173.4h0M212.7 186.3h0M236.0 182.4h0M237.8 194.0h0M244.3 174.8h0M280.5 172.8h0M270.6 175.9h0M213.8 191.7h0M230.2 173.4h0M227.1 181.1h0M233.6 180.5h0M252.9 199.1h0M239.0 164.5h0M216.2 189.1h0M255.3 161.3h0M209.7 185.9h0M193.6 200.5h0M306.7 190.8h0M203.3 201.0h0M270.2 202.8h0M219.4 185.2h0M231.8 183.8h0M261.4 169.8h0M252.7 149.6h0M187.4 205.5h0M256.7 169.7h0M248.6 188.4h0M231.8 167.6h0M223.6 204.0h0M265.8 172.8h0M250.3 168.2h0M247.1 170.8h0M216.0 183.4h0M208.1 187.9h0M253.5 192.2h0M239.1 166.9h0M277.2 172.2h0M228.2 177.0h0M232.3 177.9h0M247.0 187.7h0M222.9 179.8h0M208.7 191.2h0M283.9 172.4h0M251.4 191.9h0M279.5 179.6h0M243.1 160.1h0M287.9 179.5h0M261.1 157.0h0M253.5 159.3h0M219.9 179.2h0M232.2 188.8h0M273.0 169.4h0M236.1 170.7h0M249.5 157.1h0M218.4 185.1h0M218.8 181.6h0M291.8 187.1h0M219.0 189.4h0M242.5 170.1h0M231.9 195.1h0M199.2 199.8h0M266.4 164.5h0M250.4 168.4h0M197.2 199.5h0M257.7 191.7h0M302.9 200.0h0M237.7 166.5h0M225.7 185.6h0M240.9 161.2h0M218.0 181.3h0M269.3 194.8h0M276.7 166.9h0M245.5 158.4h0M217.3 189.7h0M293.2 180.0h0M251.3 165.4h0M266.0 174.9h0M271.9 176.4h0M280.8 173.7h0M249.8 161.5h0M288.5 183.3h0M223.9 176.7h0M223.6 186.4h0M217.9 185.1h0M239.2 167.4h0M227.1 182.5h0M206.3 202.0h0M290.9 178.8h0M252.8 162.7h0M233.4 193.9h0M289.0 186.1h0M258.5 182.4h0M285.4 177.6h0M208.0 197.3h0M249.2 154.4h0M261.4 155.8h0M256.5 181.3h0M252.8 195.6h0M224.1 181.8h0M252.3 170.5h0M246.1 168.8h0M234.0 198.6h0M258.0 179.6h0M226.8 178.3h0M254.4 157.5h0M214.0 195.8h0M242.6 176.4h0M258.2 162.8h0M291.2 195.5h0M242.1 166.9h0M290.6 190.2h0M203.2 196.0h0M243.4 184.7h0M215.5 200.0h0M244.8 186.8h0M237.5 171.7h0M204.8 199.8h0M224.2 174.5h0M203.5 192.6h0M230.9 186.9h0M224.9 192.6h0M224.8 177.8h0M271.9 176.8h0M260.2 192.4h0M255.2 169.6h0M273.9 169.1h0M210.2 197.1h0M267.9 170.0h0M264.2 164.9h0M266.0 177.9h0M229.6 176.3h0M252.2 193.0h0M255.5 159.9h0M196.3 203.7h0M238.8 165.4h0M231.2 195.3h0M242.4 182.4h0M300.7 187.7h0M263.0 182.1h0M273.8 172.8h0M242.9 175.9h0M298.8 193.2h0M218.3 187.3h0M228.5 172.8h0M285.8 176.3h0M213.9 190.0h0M213.0 189.8h0M254.1 193.2h0M224.0 174.8h0M213.2 193.1h0M246.9 154.9h0M224.4 184.0h0M229.8 169.4h0M294.1 189.4h0M231.5 175.1h0M245.9 190.2h0M213.7 190.9h0M251.1 163.2h0M220.1 190.3h0M260.8 184.8h0M258.1 197.0h0M249.3 180.9h0M312.1 195.5h0M282.0 174.6h0M269.3 165.8h0M228.8 200.7h0M247.4 173.5h0M228.5 196.3h0M252.5 171.3h0M243.0 170.0h0M225.2 200.0h0M318.8 202.2h0M282.8 186.4h0M273.1 162.3h0M219.7 183.1h0M221.3 175.4h0M227.5 199.5h0M230.6 170.1h0M234.8 177.5h0M292.0 197.3h0M226.1 190.9h0M212.7 185.1h0M233.2 173.2h0M245.3 154.6h0M209.4 196.1h0M297.9 193.5h0M300.2 194.3h0M224.3 177.1h0M268.0 174.6h0M253.5 171.1h0M233.9 169.2h0M298.6 195.0h0M191.1 201.6h0M286.6 175.8h0M197.7 198.5h0M260.1 202.9h0M247.0 171.2h0M298.4 183.5h0M214.0 182.1h0M238.9 166.7h0M211.2 186.3h0M251.9 174.4h0M245.2 165.0h0M198.3 197.7h0M251.2 180.5h0M209.2 193.1h0M222.1 178.0h0M240.3 163.1h0M204.5 204.0h0M282.1 170.6h0M235.9 185.1h0M219.0 190.9h0M265.4 187.4h0M294.2 194.2h0M236.8 182.8h0M208.3 197.4h0M224.6 177.5h0M253.7 160.7h0M249.8 151.2h0M242.3 172.7h0M220.5 183.2h0M242.6 172.0h0M223.3 186.3h0M251.1 154.7h0M295.0 189.5h0M216.2 187.6h0M225.6 190.0h0M250.4 192.8h0M212.4 193.0h0M219.7 193.9h0M208.3 192.5h0M226.3 197.6h0M303.6 196.0h0M256.1 156.0h0M225.0 182.1h0M272.0 170.7h0M256.9 193.0h0M240.0 199.6h0M255.3 156.7h0M219.0 185.1h0M196.9 197.6h0M253.6 167.2h0M213.8 189.8h0M234.8 187.8h0M202.3 197.8h0M274.9 179.6h0M237.3 201.2h0M280.0 168.4h0M275.7 170.6h0M224.1 181.8h0M221.6 193.3h0M226.6 202.5h0M234.2 181.0h0M240.6 171.1h0M206.1 190.7h0M238.6 179.5h0M307.2 194.1h0M238.4 163.2h0M310.9 197.0h0M263.2 185.6h0M230.6 191.4h0M224.0 200.1h0M200.4 194.4h0M235.6 183.2h0M239.8 167.1h0M205.1 193.4h0M227.8 172.2h0M220.0 179.4h0M255.2 146.5h0M267.1 189.8h0M208.3 197.9h0M260.0 171.0h0M202.0 199.9h0M240.6 161.6h0M210.5 188.9h0M216.5 189.4h0M227.5 190.4h0M291.3 203.9h0M238.1 177.4h0M232.5 178.1h0M307.9 197.6h0M248.9 163.1h0M241.4 176.1h0M242.2 198.0h0M289.0 192.0h0M252.9 168.9h0M260.6 165.6h0M241.7 158.6h0M214.7 201.4h0M271.1 169.3h0M211.1 185.9h0M216.1 189.0h0M296.9 187.5h0M265.8 187.9h0M209.1 197.5h0M210.6 185.8h0M298.1 196.2h0M196.1 200.5h0M308.2 192.9h0M254.9 194.9h0M189.8 203.8h0M252.4 184.8h0M288.3 178.9h0M250.0 185.6h0M223.8 189.1h0M260.1 196.5h0M235.0 169.5h0M198.5 198.4h0M264.2 168.6h0M248.0 183.2h0M226.6 180.3h0M284.0 181.0h0M254.3 200.9h0M254.0 149.0h0M257.9 165.2h0M251.4 169.3h0M204.2 205.2h0M293.7 185.7h0M249.7 175.3h0M197.1 202.8h0M248.4 153.7h0M237.1 172.4h0M297.4 185.4h0M217.6 195.1h0M217.0 181.6h0M249.4 190.6h0M204.2 193.7h0M257.0 168.4h0M220.8 180.6h0M254.9 175.3h0M239.6 169.0h0M253.3 194.3h0M200.3 201.2h0M212.5 188.7h0M222.5 175.3h0M258.4 160.0h0M263.8 158.1h0M238.2 170.2h0M305.5 191.1h0M235.1 181.5h0M248.3 169.6h0M236.3 176.8h0M234.6 170.7h0M237.1 193.4h0M242.0 162.3h0M275.4 168.3h0M282.9 171.6h0M281.4 188.3h0M274.1 167.7h0M270.0 200.5h0M225.6 188.5h0M273.3 167.2h0M199.6 196.4h0M294.1 180.2h0M269.0 198.0h0M277.4 172.5h0M250.5 175.6h0M248.3 173.6h0M223.8 183.2h0M284.7 174.8h0M252.6 172.7h0M311.3 194.4h0M228.3 172.2h0M275.8 184.4h0M261.9 169.1h0M223.4 189.7h0M290.4 191.0h0M275.2 164.9h0M278.8 185.8h0M252.5 148.7h0M248.3 153.2h0M208.1 189.9h0M239.0 191.4h0M222.9 174.9h0M258.7 171.9h0M242.0 182.9h0M253.7 181.8h0M259.2 196.9h0M232.8 169.6h0M214.5 201.9h0M278.2 171.8h0M223.5 197.9h0M229.7 171.2h0M255.5 163.3h0M229.3 172.5h0M208.5 202.3h0M279.3 171.0h0M241.7 170.2h0M249.9 155.9h0M229.3 194.2h0M253.0 148.8h0M243.2 158.1h0M238.9 193.5h0M219.2 188.2h0M217.0 191.5h0M222.0 186.6h0M244.6 177.7h0M232.6 182.4h0M235.8 164.8h0M253.7 185.1h0M234.2 176.4h0M248.1 180.3h0M215.6 184.5h0M257.4 160.3h0M255.8 175.0h0M210.0 204.6h0M248.4 163.9h0M239.6 168.7h0M214.9 186.6h0M251.9 163.7h0M225.1 194.0h0M267.7 158.7h0M252.7 166.0h0M244.7 169.7h0M209.7 188.5h0M273.1 170.3h0M241.2 201.4h0M234.2 185.8h0M195.7 201.5h0M267.0 181.2h0M279.4 180.8h0M261.5 165.0h0M246.9 154.2h0M266.0 171.0h0M255.7 181.3h0M269.6 185.4h0M203.3 199.3h0M253.5 160.0h0M249.9 157.7h0M235.5 166.7h0M251.8 152.9h0M255.9 161.1h0M241.8 182.8h0M258.3 160.2h0M270.6 167.5h0M188.8 203.3h0M209.2 192.2h0M256.7 170.9h0M242.3 166.4h0M284.1 176.1h0M288.1 180.8h0M291.8 181.0h0M253.4 158.3h0M250.5 154.4h0M299.2 203.8h0M268.5 158.1h0M227.4 176.9h0M241.0 199.9h0M230.4 188.1h0M261.1 171.7h0M222.0 177.4h0M205.3 196.6h0M239.1 189.1h0M214.9 194.1h0M237.4 194.4h0M247.1 159.9h0M222.8 182.9h0M282.0 183.5h0M252.4 167.2h0M202.3 204.1h0M251.6 166.2h0M230.3 184.2h0M229.8 196.6h0M258.0 173.4h0M254.5 158.9h0M218.3 191.0h0M253.8 149.2h0M273.1 170.3h0M239.4 182.6h0M246.6 195.9h0M249.0 178.0h0M246.9 179.7h0M202.6 196.2h0M220.6 194.3h0M216.1 197.3h0M256.9 191.7h0M234.5 177.0h0M280.1 169.0h0M243.2 173.1h0M241.3 188.1h0M220.8 191.7h0M302.9 188.7h0M247.0 177.0h0M243.5 172.0h0M276.3 182.5h0M195.8 198.6h0M227.3 192.2h0M245.3 169.3h0M232.3 192.2h0M257.4 158.9h0M268.2 170.0h0M235.5 164.5h0M285.4 199.2h0M238.4 163.9h0M219.5 182.4h0M270.2 165.8h0M322.4 205.6h0M237.8 173.2h0M255.4 166.1h0M296.6 184.7h0M237.0 176.4h0M254.6 167.4h0M265.4 177.4h0M275.0 184.9h0M205.4 192.1h0M249.8 178.5h0M261.2 179.5h0M271.9 199.0h0M194.0 199.0h0M246.7 163.3h0M206.5 204.8h0M281.0 197.7h0M226.2 173.5h0M242.0 164.1h0M246.1 161.9h0M255.2 182.0h0M215.5 185.9h0M250.7 166.2h0M247.8 170.6h0M248.7 176.7h0M232.2 169.4h0M264.9 175.0h0M200.2 195.2h0M250.0 154.4h0M283.2 177.9h0M247.7 152.7h0M247.7 190.2h0M191.4 203.4h0M282.3 178.6h0M247.8 162.0h0M281.7 182.6h0M297.8 205.6h0M251.8 164.4h0M204.5 195.9h0M239.7 167.3h0M241.8 157.7h0M239.4 160.4h0M235.3 180.3h0M243.3 173.3h0M238.6 184.0h0M227.5 180.1h0M230.9 168.1h0M206.7 188.1h0M285.3 173.7h0M207.0 193.5h0M223.6 193.1h0M286.9 176.6h0M244.3 161.3h0M256.1 179.5h0M257.2 155.5h0M224.1 176.4h0M253.9 192.0h0M251.9 152.2h0M230.9 184.5h0M253.8 158.5h0M295.6 198.5h0M213.5 183.9h0M214.8 186.5h0M207.8 192.4h0M216.2 181.7h0M215.6 185.0h0M229.5 200.8h0M261.8 161.1h0M250.7 153.9h0M274.6 184.0h0M225.8 188.4h0M252.1 179.1h0M228.2 178.9h0M216.6 195.4h0M316.4 202.0h0M239.2 173.7h0M252.9 149.8h0M250.4 181.1h0M262.5 183.6h0M248.3 183.0h0M256.4 166.4h0M235.7 189.5h0M193.1 205.1h0M230.7 173.9h0M221.1 178.0h0M241.2 166.6h0M239.4 160.9h0M226.2 173.9h0M227.7 194.2h0M221.3 177.3h0M234.6 167.3h0M226.8 174.8h0M224.9 178.5h0M258.9 162.6h0M228.2 181.3h0M196.0 199.5h0M197.9 198.6h0M253.6 150.5h0M211.6 196.1h0M217.4 188.3h0M243.9 190.9h0M264.0 154.7h0M223.9 181.3h0M204.7 196.3h0M268.5 183.0h0M250.0 171.9h0M254.4 146.8h0M284.3 178.3h0M223.3 194.6h0M241.4 176.0h0M246.9 164.1h0M257.4 161.2h0M224.3 191.0h0M219.6 183.8h0M275.9 183.0h0M236.6 181.3h0M245.1 165.7h0M249.4 170.0h0M234.3 169.0h0M245.1 169.2h0M242.5 166.6h0M254.9 192.6h0M231.5 182.6h0M241.0 191.8h0M226.6 171.3h0M220.9 189.2h0M299.9 201.0h0M230.1 182.1h0M268.8 173.9h0M274.9 177.7h0M230.3 174.3h0M231.4 187.0h0M240.1 187.6h0M273.6 162.3h0M202.3 193.7h0M249.6 161.7h0M211.2 197.7h0M239.2 173.0h0M260.3 167.7h0M299.9 185.5h0M240.1 191.3h0M225.1 188.2h0M307.0 205.1h0M261.5 181.1h0M227.9 170.7h0M293.7 183.0h0M252.9 151.2h0M227.7 185.9h0M298.2 186.6h0M210.3 188.3h0M245.2 183.1h0M209.6 202.5h0M259.6 193.7h0M255.5 166.1h0M245.8 173.7h0M253.7 174.6h0M228.2 178.2h0M213.4 184.5h0M250.1 154.1h0M241.8 184.6h0M251.2 151.6h0M288.6 189.0h0M304.1 189.7h0M277.8 192.2h0M246.0 170.7h0M227.3 196.7h0M256.5 189.4h0M232.6 179.2h0M252.2 167.9h0M238.7 179.3h0M224.5 182.2h0M212.7 186.9h0M252.8 163.6h0M232.8 175.9h0M253.5 156.8h0M287.4 183.4h0M292.9 187.5h0M224.9 177.6h0M257.4 155.8h0M203.8 203.0h0M187.5 205.4h0M221.0 187.4h0M257.6 180.9h0M253.2 176.6h0M255.2 182.7h0M233.5 202.3h0M205.8 189.0h0M224.4 201.2h0M219.2 186.2h0M255.5 174.6h0M238.4 176.1h0M226.9 190.2h0M253.8 149.0h0M205.4 204.3h0M296.4 191.6h0M240.9 171.4h0M247.2 192.2h0M287.7 180.8h0M255.0 147.6h0M256.5 161.8h0M252.9 153.0h0M273.7 186.0h0M247.5 178.8h0M228.4 182.6h0M233.0 165.4h0M195.1 198.6h0M222.6 180.0h0M198.5 197.4h0M269.7 172.0h0M220.8 190.7h0M238.4 168.2h0M232.2 175.2h0M234.4 186.3h0M244.9 167.0h0M204.1 195.7h0M264.0 188.8h0M247.8 153.1h0M265.4 170.2h0M237.1 165.1h0M225.4 182.8h0M248.8 168.8h0M250.1 156.9h0M273.5 175.2h0M278.9 197.3h0M250.8 153.0h0M221.7 186.7h0M264.2 178.6h0M269.3 192.5h0M227.2 182.2h0M252.3 193.8h0M243.0 181.2h0M258.9 160.4h0M225.3 174.9h0M297.6 184.9h0M200.6 198.0h0M254.6 149.6h0M232.4 175.2h0M243.9 160.3h0M211.3 196.3h0M217.6 182.8h0M294.9 195.5h0M248.4 159.7h0M293.7 190.5h0M212.6 200.8h0M234.6 164.5h0M304.2 197.4h0M208.3 188.7h0M237.5 163.3h0M231.2 196.3h0M223.4 185.0h0M207.6 195.5h0M269.1 191.1h0M272.2 198.5h0M215.4 195.1h0M257.2 173.6h0M246.5 161.8h0M279.9 175.2h0M249.6 186.9h0M228.4 175.7h0M248.9 179.6h0M234.1 168.9h0M259.7 165.0h0M227.7 199.3h0M239.9 180.1h0M238.5 165.1h0M239.9 183.3h0M249.2 155.7h0M240.6 177.0h0M288.3 196.0h0M226.4 178.8h0M255.3 153.8h0M268.1 169.0h0M262.5 173.6h0M235.6 169.0h0M217.6 194.2h0M216.3 188.9h0M237.9 177.4h0M226.4 178.6h0M255.2 170.9h0M204.9 191.8h0M217.6 195.4h0M205.8 194.9h0M250.4 171.0h0M294.8 188.8h0M293.7 181.3h0M273.9 167.1h0M292.4 181.8h0M237.8 164.0h0M273.6 205.7h0M305.4 194.5h0M269.3 169.7h0M252.6 195.9h0M244.7 174.1h0M254.3 154.6h0M234.0 167.8h0M255.7 161.2h0M274.7 172.1h0M259.4 161.6h0M239.6 199.8h0M266.9 177.0h0M219.0 183.9h0M225.4 193.0h0M226.2 202.1h0M205.3 195.1h0M271.9 170.9h0M252.6 168.7h0M237.8 162.6h0M256.9 155.5h0M252.2 156.9h0M276.4 194.4h0M239.9 173.0h0M229.7 194.1h0M238.1 197.9h0M251.0 170.1h0M278.0 166.9h0M217.6 188.4h0M235.0 185.7h0M212.3 189.0h0M233.1 169.4h0M302.0 188.7h0M228.2 171.8h0M191.8 203.1h0M261.9 194.4h0M295.9 185.2h0M247.7 165.5h0M290.6 177.7h0M236.5 162.6h0M204.9 202.7h0M265.1 169.7h0M276.8 172.8h0M316.0 198.5h0M249.3 164.7h0M246.8 188.8h0M269.3 161.2h0M236.9 180.8h0M224.2 192.8h0M209.5 190.6h0M265.7 172.5h0M247.6 159.4h0M238.2 178.4h0M232.4 182.9h0M203.6 200.5h0M242.0 161.9h0M254.5 165.1h0M239.1 165.0h0M280.2 199.8h0M252.3 150.5h0M263.5 184.0h0M263.7 158.3h0M254.4 179.4h0M273.7 168.9h0M219.9 188.7h0M220.8 195.1h0M298.1 194.0h0M256.5 185.8h0M302.9 188.6h0M256.2 183.5h0M231.1 172.7h0M225.7 174.8h0M205.6 193.7h0M213.0 190.9h0M206.4 192.6h0M208.3 192.7h0M249.3 162.6h0M252.8 159.3h0M220.2 201.3h0M249.9 153.7h0M242.4 177.5h0M239.5 180.9h0M267.0 171.0h0M308.6 201.4h0M257.7 188.2h0M250.8 192.7h0M215.1 192.1h0M244.7 203.1h0M240.6 183.5h0M257.2 158.4h0M237.3 178.4h0M195.5 197.5h0M225.1 176.1h0M226.2 189.4h0M253.3 171.6h0M259.8 158.6h0M234.4 164.1h0M197.4 199.2h0M248.5 172.2h0M218.0 181.6h0M284.5 193.6h0M262.7 163.1h0M230.9 173.3h0M249.7 153.8h0M241.3 159.8h0M244.7 165.6h0M285.8 193.2h0M252.0 166.5h0M241.7 178.1h0M204.4 192.1h0M255.5 184.7h0M253.8 192.2h0M216.1 196.6h0M266.4 162.9h0M248.3 161.2h0M285.7 192.8h0M251.2 157.9h0M258.1 191.9h0M255.1 151.7h0M281.6 179.8h0M259.7 187.3h0M189.6 202.6h0M215.3 182.8h0M315.1 203.5h0M230.4 177.5h0M215.5 181.3h0M223.0 179.0h0M216.8 183.6h0M250.6 165.9h0M298.2 197.4h0M274.1 162.6h0M223.6 191.9h0M244.7 158.4h0M225.0 189.3h0M251.6 151.1h0M241.3 176.0h0M267.7 191.9h0M257.0 169.0h0M227.6 176.0h0M251.9 183.5h0M258.5 158.5h0M208.9 188.6h0M222.9 177.4h0M214.3 183.6h0M229.7 175.5h0M255.1 184.5h0M190.7 201.6h0M245.2 155.3h0M220.6 187.8h0M236.7 163.2h0M240.8 160.3h0M216.9 183.1h0M223.0 189.5h0M218.0 187.3h0M244.4 173.1h0M267.8 170.2h0M270.3 180.4h0M241.4 183.2h0M254.8 151.2h0M265.3 156.4h0M256.1 162.7h0M212.1 201.8h0M231.3 205.1h0M301.7 196.2h0M255.5 166.9h0M232.9 167.9h0M251.0 194.5h0M207.0 192.4h0M261.0 177.8h0M242.7 161.7h0M224.5 189.4h0M221.7 177.5h0M269.5 166.8h0M209.4 191.3h0M215.8 192.4h0M234.8 173.4h0M209.8 187.2h0M220.1 188.3h0M320.6 205.5h0M226.0 171.4h0M233.5 171.1h0M216.1 192.4h0M273.9 179.1h0M289.5 184.0h0M226.1 171.2h0M275.5 168.7h0M204.8 190.7h0M232.1 170.1h0M240.5 193.1h0M250.9 164.3h0M194.9 199.4h0M257.2 165.1h0M245.0 199.3h0M207.6 188.0h0M242.1 171.7h0M285.8 177.9h0M202.6 193.7h0M309.6 198.1h0M248.5 157.2h0M250.9 198.8h0M258.0 194.1h0M220.1 177.5h0M254.9 167.7h0M262.0 169.0h0M220.3 186.0h0M275.0 176.5h0M246.4 203.5h0M218.0 187.7h0M255.6 156.9h0M206.6 188.2h0M246.9 157.0h0M282.3 177.4h0M231.5 167.2h0M243.8 167.4h0M218.1 189.6h0M263.3 176.8h0M214.8 188.1h0M265.1 205.6h0M287.2 185.1h0M259.8 167.2h0M239.5 167.0h0M237.6 164.1h0M237.6 172.8h0M266.1 166.6h0M265.9 160.6h0M215.7 184.1h0M199.3 201.8h0M260.5 185.9h0M288.3 175.0h0M237.8 170.1h0M267.9 174.1h0M227.6 181.5h0M257.0 169.9h0M267.0 187.5h0M219.1 183.8h0M266.2 157.7h0M249.0 155.4h0M256.5 194.6h0M264.6 182.0h0M235.6 172.1h0" stroke="#1c1cc6" stroke-width="1.1" stroke-linecap="round" opacity="1.0" fill="none"/>
<path d="M255.5 151.4h0M255.8 174.2h0M251.7 193.8h0M206.2 190.1h0M198.9 195.8h0M249.8 183.3h0M317.2 205.3h0M255.1 148.8h0M261.1 175.1h0M230.2 179.4h0M254.8 194.6h0M279.3 170.0h0M278.1 171.4h0M229.6 170.7h0M233.8 172.7h0M224.8 196.2h0M217.3 179.7h0M281.1 184.9h0M253.8 178.6h0M223.3 174.1h0M251.4 156.9h0M203.2 195.5h0M252.0 165.3h0M227.8 191.1h0M256.8 161.7h0M254.3 168.2h0M230.1 170.1h0M215.4 188.8h0M253.8 162.8h0M248.4 173.2h0M231.2 175.6h0M236.9 184.6h0M204.9 202.1h0M245.6 196.4h0M237.6 179.3h0M250.7 156.6h0M246.7 153.6h0M220.2 186.6h0M239.1 172.8h0M218.2 178.2h0M234.6 177.7h0M249.9 152.3h0M235.7 167.4h0M216.1 196.6h0M245.7 167.1h0M286.2 197.7h0M262.0 171.0h0M300.5 186.1h0M263.0 156.0h0M272.4 179.0h0M212.2 183.4h0M203.1 192.6h0M237.2 190.3h0M228.4 177.2h0M239.2 175.0h0M245.1 164.1h0M246.2 168.0h0M223.9 182.6h0M207.6 187.5h0M264.1 204.5h0M239.1 167.1h0M254.4 168.5h0M266.8 182.6h0M224.3 178.6h0M200.8 197.0h0M244.2 163.1h0M263.7 170.1h0M284.4 180.7h0M283.5 175.5h0M270.9 188.7h0M254.7 152.6h0M241.1 193.9h0M219.5 185.8h0M215.9 182.8h0M307.5 192.2h0M261.9 170.2h0M232.6 181.5h0M239.2 164.0h0M264.9 172.4h0M279.7 185.6h0M232.9 166.6h0M241.4 182.3h0M279.4 169.3h0M225.2 174.0h0M230.1 169.7h0M257.2 188.3h0M218.4 191.0h0M269.4 160.5h0M303.4 188.6h0M202.9 198.2h0M241.7 163.4h0M238.6 193.3h0M255.9 171.2h0M227.4 170.2h0M293.7 179.4h0M293.5 181.5h0M268.0 182.2h0M271.9 183.2h0M201.9 199.1h0M223.5 192.2h0M248.6 184.4h0M246.2 180.6h0M245.9 185.5h0M276.9 171.0h0M234.8 174.3h0M256.7 163.4h0M288.5 197.8h0M204.7 191.0h0M216.2 182.3h0M253.2 161.8h0M254.3 154.8h0M216.6 180.8h0M205.2 205.0h0M207.8 189.4h0M261.2 204.8h0M232.6 187.3h0M260.7 173.7h0M205.5 196.5h0M239.8 173.2h0M284.9 176.6h0M257.0 175.0h0M243.3 197.1h0M279.8 181.8h0M228.8 185.3h0M235.7 174.3h0M261.7 158.4h0M210.5 192.9h0M221.9 177.4h0M221.0 200.9h0M240.8 192.8h0M230.7 176.1h0M205.7 191.5h0M255.0 182.4h0M244.8 178.1h0M213.6 181.9h0M251.5 169.8h0M251.7 149.4h0M209.3 188.5h0M219.8 187.7h0M245.7 190.6h0M265.8 155.5h0M254.9 183.7h0M253.1 154.3h0M250.5 158.7h0M243.4 172.9h0M249.5 190.4h0M237.5 167.4h0M264.1 166.1h0M243.2 156.7h0M287.7 180.9h0M282.9 186.3h0M255.9 187.6h0M251.4 153.5h0M239.4 162.2h0M242.6 166.1h0M238.3 185.7h0M224.3 188.0h0M280.5 170.5h0M237.0 179.0h0M246.6 161.7h0M301.9 193.0h0M250.7 170.8h0M228.2 189.1h0M252.8 185.1h0M215.8 195.8h0M225.4 175.9h0M251.1 154.0h0M277.8 202.7h0M245.1 167.8h0M246.6 187.8h0M256.6 175.8h0M261.1 155.4h0M211.9 201.9h0M271.1 166.8h0M212.5 197.1h0M265.3 155.4h0M226.9 176.1h0M247.5 173.5h0M205.9 195.6h0M220.9 193.2h0M256.5 181.3h0M235.7 201.4h0M289.5 197.4h0M245.1 193.6h0M241.9 167.1h0M289.7 197.2h0M235.0 165.2h0M262.2 154.6h0M253.9 158.7h0M216.5 198.9h0M274.2 176.8h0M208.0 201.0h0M239.4 196.6h0M237.1 173.9h0M217.4 179.9h0M239.2 196.9h0M227.2 180.3h0M251.2 164.7h0M321.3 203.4h0M258.2 159.6h0M256.3 155.6h0M232.9 202.0h0M260.5 193.7h0M254.4 159.2h0M224.9 177.4h0M235.7 167.3h0M251.0 153.4h0M249.2 167.6h0M285.9 175.2h0M241.1 181.8h0M253.9 180.0h0M255.2 154.7h0M222.2 191.3h0M225.3 185.3h0M254.9 198.0h0M233.4 174.5h0M230.4 169.9h0M247.2 181.3h0M254.3 149.6h0M228.0 184.7h0M267.3 181.6h0M301.1 192.6h0M257.3 169.8h0M247.0 165.2h0M226.8 181.9h0M215.2 196.6h0M195.8 198.6h0M221.7 188.6h0M248.1 152.7h0M196.9 204.4h0M237.9 172.3h0M261.4 165.1h0M230.0 175.2h0M189.6 205.1h0M224.5 197.5h0M253.9 171.9h0M239.0 175.4h0M250.4 161.5h0M233.2 165.3h0M215.3 190.1h0M250.1 186.2h0M230.6 168.3h0M255.4 200.1h0M233.8 166.2h0M271.4 171.7h0M258.5 174.7h0M222.0 174.8h0M240.2 178.1h0M266.3 160.3h0M235.1 173.5h0M215.6 203.0h0M284.0 185.3h0M261.7 157.0h0M272.3 171.6h0M207.4 187.9h0M279.4 169.1h0M242.6 204.3h0M212.6 191.1h0M229.7 185.5h0M304.9 192.4h0M320.5 202.7h0M206.5 190.4h0M220.8 183.3h0M245.0 156.9h0M233.9 172.2h0M252.2 190.3h0M251.1 154.5h0M234.2 196.0h0M202.3 193.7h0M227.9 172.1h0M254.5 200.2h0M226.3 187.6h0M263.5 189.2h0M225.4 174.1h0M261.9 166.0h0M309.1 195.1h0M271.4 163.8h0M253.9 147.4h0M255.1 192.6h0M235.8 174.7h0M283.1 171.1h0M255.7 164.5h0M242.8 159.9h0M245.6 163.2h0M301.4 187.1h0M268.6 158.7h0M238.8 171.2h0M231.7 177.0h0M254.7 163.0h0M232.7 170.0h0M251.8 149.0h0M276.9 166.5h0M241.6 162.1h0M256.2 173.5h0M257.8 170.9h0M239.4 169.2h0M200.7 197.6h0M250.9 174.8h0M236.4 178.9h0M222.3 203.3h0M213.6 188.8h0M256.8 171.9h0M237.2 172.2h0M257.3 160.1h0M309.6 193.2h0M256.7 156.2h0M226.0 177.4h0M299.9 188.1h0M226.4 174.3h0M227.1 194.6h0M230.3 171.7h0M225.5 178.0h0M195.1 198.5h0M267.5 191.8h0M230.6 202.0h0M268.5 202.7h0M218.9 187.5h0M254.7 149.7h0M230.7 204.8h0M274.9 184.0h0M240.2 195.7h0M224.5 187.8h0M223.0 188.4h0M272.2 182.2h0M262.1 163.3h0M227.5 187.1h0M234.0 165.9h0M232.2 169.2h0M238.5 203.3h0M278.0 170.9h0M216.9 194.1h0M221.9 193.0h0M203.5 200.0h0M283.2 174.9h0M220.1 201.5h0M285.4 173.3h0M208.5 194.1h0M205.0 196.0h0M283.7 184.2h0M301.9 190.2h0M207.5 190.0h0M281.3 191.7h0M266.6 188.5h0M289.6 176.0h0M240.8 181.2h0M254.1 159.8h0M223.4 174.4h0M210.3 195.1h0M222.3 179.8h0M218.8 196.3h0M244.0 169.5h0M204.5 193.3h0M225.5 199.3h0M279.0 166.7h0M242.7 168.2h0M225.7 190.1h0M314.8 202.8h0M235.4 173.4h0M221.8 184.6h0M287.6 180.2h0M252.5 163.6h0M215.3 185.6h0M235.7 187.6h0M243.3 158.5h0M218.4 180.9h0M246.1 173.9h0M206.1 190.5h0M210.5 201.2h0M245.3 174.4h0M241.8 185.1h0M261.2 192.0h0M260.6 159.1h0M204.6 195.7h0M235.3 187.0h0M244.3 193.2h0M257.8 161.9h0M244.2 157.7h0M247.1 181.2h0M215.4 192.9h0M234.1 170.3h0M267.4 182.7h0M216.1 198.4h0M275.5 164.0h0M236.4 173.2h0M270.7 160.5h0M239.4 171.0h0M250.9 161.7h0M207.1 197.8h0M203.8 195.7h0M238.5 199.1h0M270.7 164.3h0M242.2 183.0h0M269.6 163.7h0M249.8 169.0h0M250.9 182.0h0M236.7 182.9h0M232.9 183.2h0M212.1 201.2h0M261.4 165.9h0M252.0 155.9h0M264.7 167.0h0M265.9 189.7h0M199.2 197.0h0M281.9 179.3h0M209.0 187.4h0M242.2 160.8h0M293.2 185.9h0M247.0 157.6h0M302.1 189.6h0M219.7 177.1h0M229.6 195.3h0M210.8 187.5h0M274.3 162.9h0M243.0 176.9h0M254.2 165.2h0M259.2 174.6h0M268.4 159.5h0M214.2 190.0h0M260.9 201.8h0M197.7 200.0h0M234.3 170.1h0M252.3 162.8h0M276.2 185.9h0M208.3 187.1h0M236.0 165.6h0M221.9 193.4h0M215.9 200.6h0M230.1 195.3h0M248.6 178.9h0M206.1 196.4h0M291.4 183.4h0M291.5 191.7h0M224.0 174.4h0M256.1 178.0h0M249.6 172.9h0M259.2 164.0h0M256.7 170.6h0M246.8 184.5h0M200.5 193.6h0M200.3 193.7h0M235.6 163.5h0M213.4 189.0h0M280.7 174.5h0M261.8 156.1h0M220.3 198.5h0M243.9 177.1h0M254.3 161.9h0M270.2 159.7h0M225.2 182.1h0M236.2 193.6h0M228.6 176.9h0M232.1 186.2h0M245.9 169.6h0M260.4 187.9h0M235.1 175.0h0M263.7 162.1h0M257.1 175.3h0M233.6 194.3h0M215.2 193.0h0M216.6 185.2h0M252.7 156.6h0M196.8 199.7h0M265.0 176.4h0M274.1 162.5h0M272.8 197.0h0M254.5 165.7h0M307.2 193.4h0M238.5 181.2h0M238.8 166.9h0M233.5 195.1h0M253.2 175.1h0M276.0 173.6h0M248.9 175.5h0M256.0 156.5h0M249.8 179.1h0M224.9 175.3h0M253.5 148.7h0M248.0 161.3h0M235.6 171.8h0M221.5 194.5h0M234.0 167.2h0M247.2 160.1h0M246.5 159.0h0M252.0 171.1h0M201.8 192.4h0M245.1 183.8h0M206.5 191.8h0M212.0 201.1h0M236.7 169.5h0M252.8 185.8h0M232.4 173.6h0M234.6 169.9h0M289.3 184.3h0M235.8 167.0h0M287.7 179.3h0M271.3 191.9h0M240.0 194.9h0M258.6 192.1h0M307.1 192.8h0M222.3 194.1h0M286.2 176.1h0M194.3 200.6h0M244.3 201.6h0M251.1 164.7h0M290.6 189.2h0M264.9 187.6h0M286.1 196.6h0M210.9 188.1h0M223.4 194.8h0M232.1 167.5h0M250.7 176.7h0M283.3 176.0h0M194.7 200.5h0M254.8 155.5h0M221.2 181.4h0M209.7 196.4h0M241.7 171.1h0M208.0 190.5h0M275.6 197.1h0M215.1 204.9h0M266.6 174.1h0M227.5 186.1h0M231.6 177.3h0M254.9 190.6h0M237.4 162.3h0M220.2 190.6h0M238.5 178.7h0M291.4 179.6h0M229.4 172.9h0M204.1 198.6h0M234.6 198.9h0M252.4 170.4h0M261.2 168.3h0M218.7 193.2h0M250.4 168.7h0M203.9 194.2h0M208.3 188.5h0M228.1 177.4h0M245.6 177.0h0M241.9 205.3h0M286.5 200.7h0M273.2 163.9h0M242.8 167.7h0M259.9 189.5h0M267.9 180.1h0M309.2 195.1h0M252.6 164.8h0M226.1 171.4h0M215.9 189.6h0M240.3 181.6h0M310.9 201.0h0M243.0 184.4h0M248.9 175.9h0M247.4 193.3h0M255.8 160.9h0M249.4 167.1h0M265.2 165.1h0M252.7 165.9h0M226.5 178.3h0M259.9 159.2h0M248.4 152.8h0M257.4 173.4h0M263.1 169.8h0M225.4 199.3h0M289.3 177.4h0M235.7 164.0h0M254.7 173.2h0M248.1 174.2h0M216.4 201.6h0M227.5 169.9h0M196.7 201.5h0M244.9 167.0h0M256.6 162.7h0M232.4 179.6h0M240.2 174.4h0M239.2 197.6h0M268.6 173.7h0M239.6 164.9h0M211.9 195.0h0M221.7 179.4h0M288.2 177.0h0M255.5 147.2h0M242.2 185.3h0M283.6 180.5h0M222.1 175.8h0M235.6 202.1h0M218.8 182.5h0M241.0 161.9h0M246.7 191.5h0M248.9 154.8h0M235.9 167.4h0M205.0 201.2h0M248.2 169.7h0M208.3 193.1h0M249.2 188.1h0M234.4 169.2h0M248.6 159.3h0M274.9 192.7h0M213.1 186.3h0M253.8 167.7h0M211.8 191.6h0M271.4 188.3h0M270.3 180.2h0M264.0 174.1h0M272.3 174.7h0M238.9 166.1h0M211.6 184.0h0M318.1 203.8h0M287.7 188.6h0M299.9 189.3h0M254.4 170.4h0M231.7 173.9h0M230.8 203.1h0M245.0 204.5h0M266.4 186.9h0M247.0 173.6h0M232.6 188.6h0M258.4 159.7h0M207.1 190.3h0M247.5 154.9h0M250.9 193.4h0M195.0 202.9h0M251.2 165.1h0M261.1 189.5h0M226.4 185.5h0M253.8 189.9h0M213.9 189.3h0M252.7 167.7h0M264.1 174.2h0M203.3 202.8h0M221.8 175.0h0M262.8 161.5h0M228.7 172.8h0M201.5 203.6h0M239.2 165.2h0M231.7 173.1h0M216.1 195.7h0M254.5 153.0h0M240.0 165.5h0M198.1 198.2h0M257.4 155.6h0M268.6 179.8h0M249.7 155.9h0M251.5 186.1h0M252.5 167.0h0M297.4 185.2h0M243.0 159.5h0M244.4 166.4h0M244.5 161.5h0M256.8 155.1h0M273.2 170.3h0M212.7 187.3h0M218.7 185.6h0M243.4 157.9h0M213.3 195.8h0M289.0 186.8h0M202.8 202.5h0M235.8 190.5h0M221.2 179.6h0M239.5 176.6h0M243.1 189.8h0M274.6 203.6h0M279.1 186.4h0M238.8 161.7h0M293.2 178.8h0M233.5 184.6h0M276.2 166.6h0M245.3 195.8h0M215.8 205.0h0M246.0 164.2h0M230.6 188.6h0M276.0 174.9h0M248.5 204.5h0M244.7 181.0h0M229.9 200.8h0M258.8 181.8h0M235.2 172.9h0M248.1 163.9h0M247.3 188.9h0M195.0 205.1h0M250.9 163.0h0M261.5 192.6h0M226.0 174.3h0M319.8 204.9h0M261.1 180.3h0M219.2 179.6h0M269.9 161.8h0M240.3 166.8h0M238.3 175.1h0M267.4 158.9h0M211.0 188.9h0M299.4 187.1h0M230.8 179.5h0M207.3 188.1h0M231.7 174.2h0M282.5 182.4h0M266.1 166.1h0M256.8 165.8h0M192.2 203.6h0M284.8 178.2h0M277.7 168.1h0M229.4 180.1h0M263.0 193.9h0M269.6 194.9h0M250.9 184.1h0M276.1 169.8h0M228.5 170.9h0M236.0 190.5h0M260.9 161.6h0M241.3 175.0h0M255.9 165.8h0M247.0 191.7h0M243.0 163.5h0M259.7 160.0h0M237.7 193.4h0M288.9 190.3h0M212.5 201.9h0M243.6 172.1h0M252.5 177.5h0M219.0 177.9h0M262.1 178.8h0M230.0 176.4h0M239.1 161.0h0M255.7 170.6h0M302.3 191.0h0M221.6 205.0h0M222.3 199.8h0M205.1 189.8h0M236.4 178.1h0M196.9 199.3h0M247.7 178.6h0M256.1 155.9h0M220.3 186.5h0M257.5 181.5h0M248.7 183.8h0M263.5 195.6h0M258.0 205.3h0M223.5 182.9h0M257.7 157.0h0M256.7 154.8h0M231.4 176.6h0M286.6 175.9h0M213.2 203.0h0M211.2 186.8h0M250.1 166.5h0M217.9 202.2h0M249.1 152.1h0M221.4 187.4h0M294.0 181.3h0M263.1 203.2h0M250.9 164.4h0M203.0 199.6h0M239.3 188.2h0M240.9 168.9h0M230.3 191.8h0M285.2 173.0h0M237.8 168.6h0M286.7 173.5h0M219.0 178.8h0M245.1 160.3h0M245.8 168.9h0M218.0 181.2h0M231.5 205.4h0M301.5 196.5h0M258.6 177.7h0M239.8 159.6h0M283.4 172.3h0M298.5 189.4h0M242.4 182.9h0M249.9 190.8h0M238.1 178.4h0M200.0 195.9h0M229.5 181.4h0M250.6 157.1h0M266.8 170.4h0M207.7 189.3h0M224.1 185.2h0M192.4 202.4h0M261.1 166.7h0M218.2 181.5h0M229.1 184.7h0M253.7 179.2h0M297.5 193.9h0M247.1 159.5h0M228.5 170.0h0M244.8 162.3h0M205.1 202.3h0M250.2 175.9h0M202.3 204.2h0M242.2 169.2h0M257.2 162.4h0M237.7 191.4h0M247.0 157.5h0M295.8 188.9h0M241.5 177.7h0M275.4 170.9h0M252.4 165.5h0M265.5 155.7h0M255.3 155.4h0M228.0 191.3h0M211.1 190.7h0M228.1 175.5h0M245.3 166.7h0M236.7 167.2h0M284.3 183.1h0M274.6 180.9h0M254.9 199.2h0M234.8 167.5h0M260.4 173.7h0M268.6 163.1h0M246.2 169.5h0M261.3 174.7h0M217.0 197.7h0M202.3 193.2h0M277.4 191.3h0M210.6 194.1h0M211.4 197.6h0M242.6 157.6h0M261.0 188.6h0M230.6 186.8h0M292.2 184.5h0M303.4 198.9h0M254.7 163.8h0M253.6 161.9h0M274.8 167.5h0M294.8 182.1h0M246.6 169.7h0M211.7 184.6h0M204.1 191.2h0M247.1 157.1h0M243.0 167.1h0M248.4 177.2h0M220.8 181.1h0M237.1 184.0h0M232.2 184.8h0M285.5 183.8h0M265.4 160.8h0M209.9 203.0h0M256.8 167.8h0M294.3 181.4h0M223.2 174.5h0M276.4 173.0h0M209.2 200.9h0M304.9 199.1h0M272.8 182.5h0M215.4 197.2h0M298.0 183.9h0M307.0 192.8h0M250.1 157.9h0M229.0 182.4h0M253.8 184.6h0M277.7 176.3h0M199.0 196.0h0M228.8 189.2h0M295.7 182.8h0M289.2 175.8h0M228.2 170.5h0M270.4 163.4h0M291.0 183.4h0M214.3 203.0h0M220.5 185.6h0M254.8 165.9h0M273.1 164.8h0M224.9 187.1h0M203.8 190.4h0M228.7 174.8h0M296.0 183.2h0M202.1 194.1h0M211.5 197.8h0M246.4 157.8h0M211.4 194.8h0M267.8 159.0h0M305.8 200.7h0M217.3 184.8h0M262.3 162.0h0M249.8 152.6h0M293.0 193.3h0M232.5 186.9h0M253.4 170.7h0M253.3 153.9h0M225.3 195.8h0M254.4 182.7h0M235.3 182.9h0M257.0 161.0h0M254.2 147.1h0M279.9 170.5h0M265.4 172.7h0M277.7 176.8h0M251.5 173.7h0M212.9 195.9h0M225.1 180.4h0M237.1 166.3h0M236.0 166.4h0M219.0 180.1h0M241.1 163.5h0M211.2 198.1h0M236.2 179.1h0M290.9 178.8h0M247.0 184.8h0M215.6 183.4h0M253.1 153.0h0M242.1 185.7h0M256.1 155.1h0M245.3 161.2h0M252.6 151.2h0M212.7 198.8h0M234.4 179.4h0M218.8 182.6h0M274.1 163.4h0M230.8 186.9h0M201.1 196.7h0M277.0 175.3h0M253.1 167.0h0M241.8 159.1h0M237.7 167.6h0M271.7 171.2h0M227.8 173.2h0M281.5 171.0h0M234.2 169.5h0M247.9 167.5h0M265.7 159.6h0M283.0 173.5h0M224.0 200.2h0M236.1 173.0h0M242.8 175.6h0M247.3 169.2h0M241.5 160.8h0M240.1 167.6h0M224.7 182.2h0M252.9 153.1h0M205.8 193.8h0M242.8 187.7h0M251.1 179.9h0M246.4 178.6h0M238.4 172.1h0M263.4 155.1h0M223.1 174.6h0M230.6 169.4h0M258.7 170.4h0M279.4 179.2h0M214.8 192.2h0M286.6 193.6h0M208.4 190.4h0M252.8 168.2h0M197.4 197.2h0M234.6 170.8h0M251.2 155.2h0M232.3 168.2h0M232.4 171.2h0M214.2 197.8h0M211.3 183.9h0M211.5 195.3h0M255.5 182.4h0M246.6 175.4h0M240.7 167.2h0M226.0 182.7h0M238.4 181.0h0M267.3 162.7h0" stroke="#3a4ade" stroke-width="1.1" stroke-linecap="round" opacity="1.0" fill="none"/>
<path d="M283.6 175.0h0M289.8 182.1h0M308.7 195.0h0M229.3 179.2h0M223.0 192.7h0M232.9 180.6h0M219.9 180.7h0M248.3 158.7h0M238.0 199.9h0M283.2 176.9h0M265.1 170.2h0M261.7 157.0h0M200.2 195.0h0M237.5 176.5h0M227.6 187.6h0M256.5 167.4h0M242.7 157.9h0M246.5 166.0h0M262.2 170.1h0M231.4 167.7h0M235.5 180.3h0M196.5 201.4h0M229.7 179.2h0M233.6 174.7h0M253.2 166.2h0M221.9 189.5h0M259.4 172.6h0M265.4 176.8h0M239.3 171.6h0M280.4 183.8h0M252.1 184.9h0M234.4 192.5h0M242.2 162.7h0M241.8 159.9h0M303.9 191.5h0M256.9 184.8h0M273.9 166.7h0M280.6 173.8h0M269.1 174.4h0M227.5 177.5h0M200.2 194.5h0M234.9 189.4h0M257.0 162.6h0M201.3 193.9h0M225.3 175.2h0M253.4 193.8h0M246.3 169.2h0M205.4 198.8h0M209.3 196.2h0M217.0 185.1h0M196.7 202.7h0M230.5 182.5h0M258.5 170.7h0M264.0 161.0h0M300.5 189.0h0M259.1 190.6h0M252.5 177.5h0M224.7 197.3h0M293.6 182.7h0M223.8 178.5h0M271.7 161.6h0M280.5 179.6h0M264.5 169.7h0M289.3 200.9h0M227.4 174.7h0M273.1 177.1h0M237.8 174.3h0M279.8 181.1h0M251.8 176.2h0M303.8 195.7h0M290.7 187.6h0M307.5 196.8h0M223.9 193.9h0M251.3 152.5h0M203.8 191.7h0M260.2 181.2h0M240.5 163.2h0M218.8 180.4h0M258.9 173.0h0M226.5 184.9h0M252.1 153.0h0M244.2 165.4h0M267.3 157.1h0M242.2 177.1h0M289.0 175.3h0M226.2 184.4h0M206.7 202.8h0M252.6 159.6h0M224.9 196.3h0M247.0 164.6h0M252.4 164.2h0M277.5 199.7h0M243.2 171.6h0M295.4 186.9h0M247.6 157.3h0M207.5 190.7h0M247.2 169.8h0M234.6 179.1h0M287.6 199.7h0M261.2 160.7h0M230.7 174.5h0M207.7 189.9h0M204.8 193.0h0M228.3 204.0h0M266.5 163.2h0M206.9 192.1h0M251.2 164.8h0M218.1 186.9h0M242.1 204.6h0M223.1 183.4h0M257.2 156.8h0M223.5 193.0h0M243.5 174.8h0M203.2 197.0h0M219.3 195.3h0M216.0 184.6h0M221.3 180.9h0M234.5 182.5h0M248.5 189.9h0M233.8 172.3h0M242.4 192.4h0M273.3 174.3h0M267.2 156.8h0M311.8 195.8h0M225.6 185.9h0M288.4 176.4h0M247.7 152.7h0M253.5 172.9h0M224.0 197.9h0M287.5 190.0h0M236.0 185.0h0M254.9 174.2h0M222.9 174.8h0M240.5 166.0h0M243.1 163.1h0M217.1 180.6h0M217.6 190.6h0M265.6 164.8h0M202.2 192.3h0M225.8 179.1h0M238.8 166.4h0M245.8 194.2h0M236.5 185.8h0M260.8 171.5h0M240.7 195.6h0M198.4 197.6h0M305.5 190.9h0M266.2 175.5h0M234.6 172.1h0M240.9 174.2h0M249.8 173.9h0M231.6 194.8h0M267.5 177.2h0M245.1 166.5h0M285.4 200.6h0M238.5 185.7h0M223.0 178.7h0M213.5 201.7h0M270.7 177.9h0M248.9 169.9h0M255.0 159.9h0M233.5 174.2h0M260.8 170.1h0M261.3 158.1h0M237.3 180.6h0M214.9 199.8h0M206.6 194.8h0M256.9 169.2h0M234.8 179.8h0M250.2 158.8h0M253.7 162.9h0M198.5 202.0h0M235.5 168.5h0M247.8 201.9h0M239.7 159.8h0M295.7 188.6h0M208.3 188.7h0M261.6 165.5h0M241.8 180.5h0M301.8 188.5h0M257.8 164.1h0M259.1 169.5h0M227.5 184.8h0M240.8 170.2h0M229.3 182.3h0M275.8 188.0h0M260.6 197.4h0M213.6 185.7h0M227.2 178.3h0M250.7 173.8h0M230.7 179.6h0M217.0 201.0h0M256.8 180.2h0M276.5 172.0h0M238.1 164.5h0M212.9 184.5h0M226.7 175.8h0M239.0 186.7h0M221.3 183.8h0M228.9 176.1h0M259.5 175.7h0M242.4 171.3h0M214.9 191.0h0M262.8 164.7h0M208.7 191.4h0M306.7 192.1h0M285.3 173.7h0M271.8 164.6h0M245.1 160.7h0M229.4 171.4h0M282.1 175.5h0M247.8 154.9h0M272.5 163.6h0M222.9 185.4h0M196.5 199.9h0M209.4 189.1h0M232.9 183.1h0M265.1 198.4h0M238.4 169.7h0M252.4 156.1h0M236.0 174.7h0M222.8 176.3h0M267.0 160.5h0M200.2 199.6h0M227.3 183.2h0M246.1 169.9h0M256.8 167.0h0M237.3 164.2h0M220.0 197.6h0M241.9 162.8h0M197.6 202.6h0M240.1 162.5h0M250.9 162.2h0M255.9 179.6h0M226.3 189.0h0M207.3 192.8h0M242.5 165.2h0M233.8 198.9h0M240.7 178.9h0M262.7 177.4h0M226.9 182.5h0M215.7 181.2h0M235.8 187.2h0M193.9 200.9h0M223.5 181.5h0M244.1 169.8h0M246.3 174.2h0M275.1 174.2h0M253.6 151.4h0M251.4 183.3h0M245.7 162.6h0M268.7 169.2h0M268.8 160.4h0M213.7 197.0h0M272.1 171.4h0M244.4 174.3h0M251.7 171.2h0M310.8 194.4h0M233.2 176.3h0M277.9 181.7h0M229.8 172.6h0M192.6 204.0h0M245.2 159.5h0M238.3 193.6h0M247.1 177.4h0M281.7 179.8h0M239.7 191.7h0M219.6 192.2h0M313.5 204.0h0M270.7 163.2h0M249.7 161.1h0M265.8 188.3h0M245.5 170.5h0M191.5 202.5h0M214.4 186.9h0M306.9 191.6h0M261.3 163.9h0M270.0 171.1h0M266.6 157.1h0M203.8 199.6h0M276.0 164.1h0M264.3 164.2h0M206.6 191.5h0M205.2 199.5h0M190.3 201.9h0M222.3 175.8h0M233.2 168.3h0M287.1 181.1h0M255.2 150.0h0M278.6 178.0h0M202.4 192.3h0M275.0 187.7h0M197.8 199.1h0M289.7 185.9h0M234.9 176.9h0M246.2 197.3h0M248.9 169.6h0M271.9 163.2h0M244.2 158.9h0M225.2 172.0h0M258.9 165.3h0M263.1 176.7h0M200.0 198.9h0M222.8 186.9h0M241.8 179.3h0M251.2 179.8h0M204.3 193.4h0M225.5 184.9h0M243.1 190.6h0M226.5 172.7h0M258.8 188.6h0M239.4 185.4h0M250.7 172.9h0M218.8 190.5h0M237.1 174.3h0M257.1 175.3h0M248.1 176.3h0M277.9 184.9h0M265.2 177.0h0M280.2 188.0h0M247.2 155.1h0M249.9 160.4h0M250.3 161.9h0M210.9 186.4h0M211.8 200.6h0M255.7 170.2h0M233.5 179.9h0M316.1 203.6h0M283.5 183.9h0M224.5 192.4h0M241.3 163.9h0M233.4 189.1h0M273.1 186.2h0M236.3 186.3h0M257.2 176.5h0M241.6 178.1h0M252.8 160.9h0M240.9 177.1h0M244.1 190.9h0M254.5 168.5h0M217.2 179.3h0M234.1 171.4h0M213.3 182.6h0M241.3 160.5h0M217.1 186.6h0M245.0 171.5h0M220.0 191.2h0M252.1 165.5h0M254.2 176.4h0M245.4 168.8h0M201.4 197.1h0M280.0 168.4h0M248.2 162.4h0M250.8 156.2h0M250.1 192.4h0M249.1 157.1h0M255.2 178.0h0M285.4 186.9h0M201.3 204.5h0M216.6 183.3h0M219.5 177.7h0M250.5 152.6h0M302.0 191.6h0M280.4 170.1h0M213.9 188.3h0M253.5 148.0h0M242.3 159.6h0M249.0 178.0h0M251.4 168.5h0M242.1 192.8h0M301.8 191.3h0M293.3 185.2h0M228.5 179.0h0M224.1 181.7h0M210.6 196.4h0M247.5 154.6h0M216.7 200.8h0M209.5 201.5h0M231.0 178.9h0M284.5 192.9h0M195.9 200.5h0M223.9 173.1h0M246.0 169.6h0M220.4 186.8h0M293.0 198.7h0M241.7 186.5h0M196.6 198.8h0M246.8 157.2h0M240.6 166.3h0M264.9 173.6h0M206.2 192.1h0M255.4 161.4h0M235.2 198.4h0M247.4 158.3h0M249.4 154.3h0M251.1 152.9h0M282.4 182.6h0M275.0 165.0h0M242.7 168.8h0M283.0 179.5h0M221.5 179.7h0M232.9 179.9h0M256.2 169.1h0M252.7 163.6h0M258.8 157.1h0M215.4 190.1h0M255.6 194.1h0M266.2 180.5h0M253.3 149.4h0M239.0 185.1h0M206.8 189.3h0M274.8 170.1h0M249.1 171.9h0M210.9 193.9h0M286.5 180.6h0M235.2 164.8h0M242.8 170.2h0M250.4 173.4h0M216.1 191.9h0M275.8 176.5h0M244.6 164.0h0M253.1 152.4h0M260.0 169.9h0M258.7 165.2h0M259.9 193.3h0M243.9 179.3h0M196.0 202.3h0M278.6 182.5h0M204.6 191.2h0M236.2 200.5h0M236.0 194.7h0M222.7 177.7h0M223.4 175.6h0M243.7 171.5h0M210.8 187.2h0M265.7 163.5h0M219.1 178.2h0M238.5 165.6h0M319.7 205.7h0M260.7 168.7h0M259.0 182.3h0M268.1 181.2h0M224.7 179.5h0M260.0 200.9h0M243.4 170.6h0M299.9 186.7h0M283.8 176.8h0M219.2 192.2h0M205.9 195.3h0M251.0 160.9h0M246.2 158.2h0M213.4 200.2h0M228.5 173.1h0M217.1 186.1h0M251.2 156.2h0M258.5 180.1h0M252.2 150.1h0M259.0 179.1h0M269.8 197.6h0M233.1 195.2h0M254.7 196.6h0M244.1 158.4h0M281.9 174.4h0M246.1 166.9h0M245.6 161.2h0M248.4 160.8h0M238.6 182.6h0M255.7 158.8h0M234.4 188.9h0M255.5 148.4h0M208.0 194.2h0M283.9 192.3h0M251.1 194.2h0M214.3 187.4h0M214.8 184.2h0M240.0 174.4h0M240.7 170.1h0M239.2 181.1h0M217.3 200.6h0M209.8 188.2h0M241.9 183.7h0M246.8 154.9h0M225.0 172.7h0M238.2 195.5h0M222.4 182.2h0M301.2 188.7h0M250.3 168.4h0M290.2 177.5h0M252.8 194.2h0M268.4 192.6h0M252.9 152.7h0M222.6 174.3h0M255.6 195.2h0M281.4 177.0h0M241.3 170.0h0M299.6 186.6h0M256.3 162.2h0M278.6 186.2h0M253.4 147.7h0M247.4 160.9h0" stroke="#5f78e4" stroke-width="1.1" stroke-linecap="round" opacity="1.0" fill="none"/>
<path d="M261.5 206.3h0M294.0 225.3h0M238.6 230.4h0M232.6 218.3h0M251.3 227.7h0M264.9 241.0h0M271.3 217.1h0M255.3 223.1h0M240.4 221.0h0M295.3 216.4h0M253.5 209.6h0M299.3 207.3h0M290.4 220.7h0M269.2 233.4h0M251.1 225.7h0M247.4 231.4h0M246.9 207.1h0M239.9 228.2h0M258.5 234.0h0M315.9 208.7h0M291.9 217.3h0M306.8 205.8h0M299.7 214.4h0M268.8 213.7h0M276.3 241.6h0M242.8 228.4h0M228.8 227.2h0M234.0 223.2h0M292.9 220.2h0M245.9 222.3h0M202.2 216.2h0M277.2 225.6h0M290.7 218.6h0M203.9 211.9h0M287.2 212.3h0M300.4 219.2h0M292.5 219.7h0M233.2 219.6h0M280.9 221.3h0M273.1 218.3h0M268.0 221.2h0M277.6 223.2h0M240.3 222.8h0M249.4 225.4h0M241.9 229.1h0M307.5 213.1h0M288.4 219.1h0M281.5 219.8h0M247.4 211.9h0M283.2 216.8h0M222.3 217.3h0M272.7 220.5h0M280.2 217.0h0M207.4 222.0h0M223.3 234.5h0M234.2 220.2h0M298.7 224.6h0M292.4 222.6h0M288.9 216.8h0M302.0 213.3h0M224.1 215.7h0M252.0 209.8h0M211.6 216.1h0M223.9 214.2h0M241.8 233.8h0M241.8 223.0h0M309.1 217.7h0M261.0 221.1h0M310.7 216.1h0M293.3 220.2h0M277.4 228.5h0M263.9 232.5h0M299.3 215.2h0M276.3 238.6h0M244.9 208.7h0M252.4 224.8h0M222.9 224.0h0M288.1 217.4h0M230.1 225.3h0M256.2 240.9h0M258.2 233.3h0M267.8 222.4h0M266.8 236.7h0M268.5 230.7h0M256.6 225.3h0M311.3 211.5h0M239.9 227.2h0M318.9 210.0h0M226.0 221.2h0M241.9 224.6h0M305.5 207.1h0M257.0 216.9h0M241.1 220.5h0M251.7 226.9h0M320.3 206.0h0M285.8 219.1h0M228.1 231.4h0M291.6 226.2h0M228.0 212.4h0M259.9 220.5h0M303.8 222.6h0M286.9 216.6h0M278.6 222.4h0M232.1 232.6h0M298.7 219.9h0M280.8 218.9h0M233.3 216.4h0M274.8 225.2h0M226.0 211.7h0M228.2 224.1h0M239.2 224.8h0M272.6 226.3h0M250.7 215.1h0M299.3 227.3h0M233.8 219.5h0M290.8 220.3h0M295.2 225.6h0M281.7 213.2h0M249.3 215.8h0M277.6 244.3h0M292.5 216.7h0M299.2 217.2h0M306.9 212.6h0M245.8 217.1h0M289.5 222.8h0M297.4 218.2h0M242.4 225.7h0M213.6 219.6h0M234.7 231.8h0M240.7 214.1h0M305.8 221.6h0M226.0 229.7h0M250.8 233.5h0M246.6 234.2h0M225.7 216.2h0M300.7 222.2h0M298.1 215.4h0M263.0 227.0h0M309.8 212.8h0M273.4 230.3h0M282.9 212.3h0M243.4 222.8h0M263.7 237.8h0M222.4 225.9h0M286.8 212.2h0M294.8 214.1h0M284.2 225.1h0M252.0 207.2h0M195.3 209.5h0M230.1 208.5h0M249.7 233.2h0M218.8 207.6h0M245.9 217.2h0M243.5 233.2h0M242.0 234.8h0M262.7 222.0h0M294.3 215.6h0M248.1 214.7h0M276.9 223.0h0M288.1 221.4h0M261.0 206.5h0M231.9 229.8h0M219.3 209.8h0M258.4 235.2h0M244.4 210.5h0M248.8 229.3h0M260.7 241.1h0M285.3 215.9h0M221.0 210.7h0M258.7 223.9h0M232.3 241.2h0M265.7 230.2h0M262.1 241.4h0M266.5 225.8h0M256.9 234.1h0M227.6 229.3h0M194.4 209.1h0M254.8 233.3h0M300.1 219.8h0M289.2 234.8h0M231.2 220.2h0M235.9 239.4h0M322.3 206.2h0M252.8 234.6h0M260.1 234.5h0M250.1 235.9h0M251.5 217.7h0M288.0 214.3h0M220.6 227.0h0M242.5 236.6h0M252.2 219.5h0M250.3 218.9h0M247.2 206.4h0M233.5 222.8h0M302.5 219.7h0M296.8 214.6h0M283.0 210.8h0M218.0 216.3h0M295.5 227.8h0M256.8 233.8h0M236.2 211.9h0M227.9 212.6h0M276.3 228.5h0M296.8 226.5h0M261.0 232.4h0M301.8 223.0h0M279.3 236.1h0M207.5 212.4h0M247.6 234.1h0M292.0 212.0h0M258.4 237.3h0M246.9 241.4h0M290.9 233.8h0M200.0 206.1h0M254.3 223.1h0M320.0 208.4h0M195.6 209.6h0M282.3 215.3h0M296.6 221.4h0M310.7 214.9h0M251.3 212.4h0M246.9 233.7h0M252.3 228.0h0M230.1 207.3h0M224.5 210.2h0M242.9 217.6h0M216.4 222.8h0M280.9 218.9h0M234.6 212.6h0M263.7 232.9h0M299.5 220.9h0M299.3 224.6h0M235.5 234.3h0M225.5 225.0h0M240.3 207.5h0M310.9 207.7h0M295.2 225.5h0M196.7 214.3h0M258.7 225.1h0M287.1 218.0h0M238.9 217.9h0M236.2 219.3h0M297.9 217.9h0M298.3 218.0h0M207.5 206.9h0M246.2 211.1h0M250.8 225.0h0M236.7 229.0h0M295.6 221.5h0M273.6 222.7h0M279.6 222.7h0M290.5 214.7h0M284.8 210.5h0M241.9 245.1h0M225.2 215.3h0M261.3 232.9h0M246.2 223.6h0M243.5 247.3h0M294.4 219.5h0M286.9 214.8h0M303.7 222.7h0M220.6 216.7h0M279.0 219.7h0M227.4 226.5h0M302.0 217.7h0M226.5 212.3h0M227.8 232.3h0M224.6 214.6h0M248.4 231.7h0M306.5 218.7h0M233.5 227.6h0M316.1 210.3h0M232.7 225.4h0M287.6 215.1h0M312.0 207.2h0M243.1 212.7h0M274.1 232.8h0M218.7 222.5h0M281.4 217.0h0M248.7 236.2h0M271.2 207.6h0M247.3 231.3h0M280.4 206.1h0M219.3 227.3h0M244.5 218.8h0M310.7 217.3h0M240.0 220.3h0M309.3 206.2h0M274.8 212.2h0M295.0 215.7h0M239.0 245.2h0M268.8 209.9h0M242.6 236.4h0M216.1 220.8h0M308.8 213.2h0M289.5 217.0h0M261.0 244.9h0M241.6 236.7h0M227.8 224.3h0M277.0 232.8h0M259.0 205.7h0M211.2 219.2h0M294.8 222.8h0M233.9 221.6h0M255.3 214.4h0M232.8 227.9h0M298.9 218.6h0M281.1 241.6h0M258.7 206.5h0M293.1 228.3h0M264.2 220.3h0M284.9 224.4h0M300.5 221.7h0M252.9 239.5h0M232.3 236.2h0M226.6 234.0h0M305.7 207.7h0M303.3 220.2h0M276.7 237.5h0M299.2 224.7h0M222.9 228.8h0M215.2 218.1h0M231.0 219.3h0M267.4 222.6h0M292.2 213.8h0M266.1 245.4h0M299.6 214.8h0M265.0 233.0h0M240.3 211.7h0M267.4 238.7h0M310.1 215.9h0M235.5 222.5h0M213.2 211.5h0M268.4 232.5h0M230.1 227.6h0M281.5 234.8h0M207.9 218.6h0M244.6 219.5h0M260.2 244.9h0M283.4 228.2h0M257.1 229.3h0M263.2 231.4h0M251.8 229.9h0M271.9 220.1h0M195.6 207.1h0M287.1 232.6h0M299.0 219.6h0M220.3 225.6h0M236.1 233.8h0M288.2 212.6h0M291.6 219.0h0M278.7 230.3h0M268.5 247.4h0M252.6 228.4h0M224.1 206.1h0M229.7 233.1h0M303.8 208.6h0M255.8 216.3h0M237.5 224.3h0M282.0 215.8h0M244.7 243.8h0M223.7 216.5h0M296.0 216.3h0M297.6 208.1h0M263.4 226.2h0M265.8 230.8h0M280.4 224.8h0M282.7 222.1h0M292.6 215.7h0M261.0 219.5h0M285.0 220.0h0M245.3 222.0h0M254.6 219.5h0M304.3 220.2h0M224.7 222.7h0M287.5 219.0h0M253.2 224.3h0M255.0 216.1h0M284.1 219.4h0M265.0 217.6h0M235.6 231.4h0M189.4 207.0h0M288.2 221.3h0M235.2 226.5h0M260.4 216.0h0M224.8 236.4h0M239.1 226.8h0M253.0 235.4h0M293.4 220.1h0M241.5 224.1h0M290.7 221.9h0M254.1 214.7h0M276.7 224.3h0M249.2 220.2h0M259.8 205.9h0M242.6 241.6h0M255.1 210.6h0M270.4 234.7h0M251.0 241.4h0M276.2 220.5h0M236.8 207.2h0M237.4 205.8h0M237.0 231.2h0M230.0 233.1h0M285.7 226.5h0M258.7 206.6h0M227.6 223.2h0M229.1 234.8h0M267.5 227.0h0M294.2 213.7h0M234.1 209.8h0M283.0 218.0h0M224.2 238.1h0M237.1 227.4h0M231.2 227.4h0M241.0 218.0h0M285.2 210.1h0M264.3 215.7h0M303.4 213.3h0M235.5 238.3h0M244.2 218.9h0M267.4 206.2h0M246.5 232.0h0M291.6 218.0h0M241.2 214.1h0M269.2 223.9h0M191.0 208.6h0M292.0 213.9h0M235.2 231.6h0M287.7 226.2h0M252.1 222.2h0M268.2 231.9h0M252.3 235.7h0M273.7 224.2h0M251.8 212.5h0M250.7 223.7h0M289.2 221.0h0M294.4 231.2h0M228.9 222.7h0M268.6 229.1h0M240.0 229.5h0M319.6 208.8h0M218.6 225.2h0M248.7 243.6h0M233.2 220.1h0M230.9 224.3h0M292.3 221.9h0M241.4 230.4h0M293.0 217.7h0M285.0 208.7h0M251.7 209.9h0M216.2 219.6h0M250.9 230.7h0M209.3 216.4h0M260.5 220.2h0M290.2 216.5h0M297.7 223.1h0M262.0 229.4h0M287.7 208.5h0M279.4 218.7h0M272.0 207.4h0M244.3 247.6h0M245.2 227.2h0M289.1 215.5h0M266.8 228.2h0M241.5 224.4h0M215.0 222.6h0M248.9 247.2h0M246.3 214.0h0M268.1 221.1h0M239.2 231.4h0M282.8 224.1h0M301.0 225.6h0M282.1 217.5h0M199.9 207.5h0M286.6 219.4h0M289.7 221.0h0M281.9 217.0h0M292.5 221.2h0M237.0 233.5h0M217.7 207.5h0M267.5 227.7h0M287.6 225.7h0M258.5 226.0h0M265.8 220.1h0M302.6 216.7h0M207.9 215.4h0M300.4 217.7h0M218.5 211.6h0M240.3 233.4h0M231.4 225.6h0M261.0 211.2h0M259.8 229.9h0M276.0 227.8h0M242.9 228.0h0M201.3 209.6h0M266.2 223.8h0M285.9 215.2h0M281.2 217.9h0M246.8 206.5h0M209.3 221.5h0M295.2 229.5h0M195.7 213.0h0M222.3 225.1h0M300.5 223.0h0M229.6 239.0h0M296.2 208.4h0M225.7 239.4h0M279.1 220.9h0M211.2 209.1h0M267.7 218.4h0M231.0 210.2h0M244.2 216.9h0M202.6 212.0h0M253.8 217.5h0M231.0 214.6h0M253.4 223.8h0M235.3 222.0h0M316.5 211.2h0M213.8 208.1h0M236.6 232.7h0M233.7 208.4h0M269.9 213.3h0M299.5 221.3h0M290.6 225.9h0M284.9 218.5h0M271.4 245.9h0M283.7 236.9h0M235.1 225.4h0M243.5 245.7h0M243.6 210.8h0M230.6 233.2h0M298.1 227.2h0M313.5 206.3h0M301.5 207.4h0M254.0 241.3h0M297.6 214.0h0M274.2 214.8h0M250.3 220.8h0M309.0 218.4h0M245.9 236.2h0M306.5 212.2h0M265.1 239.0h0M297.0 219.7h0M218.5 222.1h0M268.3 238.5h0M292.3 213.8h0M281.8 209.9h0M237.3 222.7h0M292.6 217.1h0M257.2 225.6h0M302.5 219.6h0M298.7 215.4h0M265.5 219.0h0M267.3 211.4h0M252.9 205.8h0M239.8 217.9h0M241.3 239.7h0M232.0 220.3h0M249.6 227.0h0M232.5 230.5h0M286.3 219.8h0M307.1 208.1h0M294.4 213.7h0M303.2 216.8h0M236.0 234.5h0M211.8 209.3h0M281.3 219.0h0M255.0 221.1h0M259.1 222.0h0M268.4 217.9h0M245.3 207.3h0M246.3 233.0h0M271.6 206.4h0M259.4 221.0h0M290.2 221.2h0M248.3 224.6h0M260.4 220.8h0M252.2 220.4h0M258.1 218.2h0M290.2 223.8h0M252.9 237.8h0M245.4 241.3h0M262.5 217.0h0M253.5 207.2h0M292.6 222.7h0M278.8 222.4h0M282.9 232.8h0M296.7 220.7h0M235.6 237.0h0M263.3 232.7h0M238.9 216.6h0M267.5 206.7h0M247.9 251.6h0M270.4 208.7h0M302.0 213.3h0M295.4 219.9h0M226.4 215.9h0M225.4 218.6h0M261.6 236.3h0M298.3 209.0h0M303.1 218.8h0M226.3 212.1h0M263.9 220.7h0M283.5 205.8h0M285.5 210.6h0M244.9 248.4h0M242.8 231.4h0M215.9 213.8h0M242.7 228.6h0M202.6 213.9h0M260.9 220.7h0M248.4 216.4h0M279.7 209.5h0M248.0 226.0h0M234.9 216.5h0M302.2 220.0h0M270.2 226.9h0M272.9 226.0h0M279.3 221.1h0M296.7 213.8h0M310.0 211.2h0M242.7 228.9h0M225.6 208.0h0M241.9 241.5h0M261.4 215.6h0M285.9 211.3h0M234.4 229.3h0M257.8 227.2h0M228.4 232.3h0M241.7 206.7h0M208.9 207.7h0M266.1 228.0h0M248.7 236.4h0M235.7 222.4h0M269.8 240.0h0M301.1 216.1h0M288.4 207.0h0M228.1 212.8h0M234.9 231.3h0M250.1 225.0h0M262.0 215.9h0M293.9 213.3h0M226.6 224.0h0M239.4 235.1h0M254.6 212.2h0M221.2 222.6h0M256.6 246.0h0M257.3 206.6h0M247.5 213.9h0M234.4 232.5h0M270.4 212.9h0M293.1 219.2h0M292.4 223.3h0M286.5 216.0h0M268.1 223.4h0M211.5 221.4h0M284.7 211.9h0M268.9 238.9h0M229.8 207.5h0M237.3 223.4h0M260.7 246.6h0M290.9 222.0h0M283.4 217.3h0M245.2 223.4h0M288.3 223.0h0M270.7 207.7h0M296.6 221.9h0M202.4 213.5h0M299.0 220.1h0M246.5 223.5h0M265.7 223.0h0M251.5 214.7h0M244.1 235.9h0M286.6 223.8h0M223.4 210.1h0M240.2 216.6h0M291.4 214.4h0M287.4 218.3h0M272.7 224.9h0M239.9 232.2h0M276.7 227.1h0M252.4 234.0h0M288.8 218.6h0M200.7 218.0h0M281.8 221.1h0M241.8 227.7h0M235.8 210.8h0M197.0 209.9h0M292.9 225.1h0M232.6 238.0h0M256.7 222.7h0M267.6 240.2h0M248.6 228.5h0M242.2 213.4h0M261.9 232.3h0M214.7 213.0h0M257.6 220.3h0M284.1 215.2h0M285.4 206.2h0M301.4 211.4h0M287.0 207.2h0M222.3 221.7h0M236.4 234.0h0M293.4 211.2h0M299.0 219.9h0M285.7 214.2h0M270.4 248.2h0M255.6 216.0h0M239.2 222.3h0M285.8 219.0h0M298.3 214.6h0M277.0 205.8h0M293.8 212.8h0M288.7 218.0h0M223.8 218.4h0M229.5 220.1h0M305.5 215.3h0M245.3 229.0h0M257.4 220.1h0M274.3 248.8h0M287.4 237.8h0M295.3 230.1h0M320.1 210.9h0M286.5 238.6h0M293.6 232.0h0M314.8 213.8h0M300.9 225.8h0M263.8 259.0h0M314.5 213.7h0M284.4 240.5h0M311.7 217.0h0M259.8 261.3h0M301.9 224.9h0M277.4 246.4h0M313.7 215.0h0M295.2 231.4h0M263.6 258.1h0M321.3 209.4h0M306.1 221.4h0M271.9 251.0h0M268.2 254.0h0M287.2 237.8h0M299.0 227.8h0M312.1 216.2h0M270.9 252.2h0M301.6 224.8h0M279.9 244.5h0M291.9 233.8h0M295.9 229.9h0M262.0 259.0h0M299.3 226.9h0M293.6 232.9h0M268.8 253.9h0M318.4 211.0h0M263.3 259.4h0M277.8 245.5h0M301.2 225.0h0M285.7 238.8h0M282.3 241.7h0M258.3 262.5h0M268.9 253.6h0M298.7 227.7h0M264.3 257.4h0M307.4 221.0h0M287.3 238.1h0M262.7 258.5h0M274.7 248.8h0M288.0 237.2h0M279.6 244.0h0M267.9 254.4h0M292.8 233.6h0M273.5 249.1h0M259.3 262.6h0M285.5 238.7h0M264.6 257.3h0M272.4 250.4h0M272.1 249.4h0M260.3 260.6h0M298.3 228.3h0M317.6 211.1h0M302.6 225.0h0M305.5 222.8h0M313.8 215.5h0M294.9 231.7h0M260.9 259.7h0M260.6 261.3h0M272.7 250.2h0M257.3 262.7h0M259.0 261.9h0M277.5 246.4h0M316.5 212.1h0M291.0 234.3h0M293.2 232.5h0M283.5 240.9h0M308.4 219.7h0M287.4 236.8h0M315.2 213.5h0M280.7 243.4h0M321.8 208.9h0M302.5 223.3h0M258.6 263.0h0M311.4 216.6h0M265.4 257.1h0M292.5 233.1h0M316.0 213.2h0M308.7 219.5h0M271.4 250.8h0M259.3 261.8h0M315.3 213.5h0M286.6 238.8h0M321.0 208.3h0M256.4 264.2h0M296.6 230.9h0M273.2 249.9h0M313.0 214.8h0M256.1 264.9h0M304.8 222.3h0M320.2 208.7h0M262.1 259.8h0M279.8 243.5h0M307.1 220.7h0M307.4 221.0h0M268.0 254.8h0M257.9 262.4h0M320.1 209.8h0M264.9 256.3h0M287.4 239.3h0M302.6 224.8h0M278.5 246.0h0" stroke="#1c1cc6" stroke-width="1.3" stroke-linecap="round" opacity="1.0" fill="none"/>
<path d="M227.4 177.5h0M246.0 156.0h0M226.0 189.2h0M254.8 148.8h0M206.9 192.5h0M239.1 176.5h0M251.3 156.6h0M237.6 172.8h0M225.6 181.7h0M234.5 178.3h0M214.1 182.9h0M199.9 200.1h0M207.9 198.4h0M225.1 179.4h0M230.7 177.0h0M231.5 168.2h0M208.9 199.9h0M208.0 196.2h0M238.4 169.7h0M209.6 194.5h0M234.3 171.8h0M218.8 186.0h0M255.0 152.5h0M245.9 166.4h0M226.3 182.9h0M237.1 171.6h0M224.5 181.7h0M237.6 167.5h0M234.9 178.5h0M215.6 193.2h0M245.3 172.0h0M250.3 161.2h0M216.5 193.3h0M222.9 182.2h0M237.4 169.7h0M247.8 175.3h0M214.5 193.1h0M253.0 161.0h0M231.7 169.9h0M211.5 192.7h0M232.5 178.8h0M241.1 170.0h0M229.3 183.2h0M235.0 169.1h0M209.4 195.1h0M218.5 177.9h0M235.3 178.6h0M211.5 195.9h0M210.6 195.5h0M245.4 164.9h0M222.5 184.5h0M233.5 174.2h0M234.7 173.4h0M242.7 168.3h0M204.9 191.3h0M255.2 157.5h0M205.2 196.6h0M238.5 161.9h0M227.7 177.1h0M198.3 200.4h0M226.8 186.2h0M208.3 195.8h0M229.1 177.1h0M223.6 179.9h0M222.8 187.4h0M222.7 182.0h0M229.0 174.3h0M216.5 193.9h0M221.8 179.7h0M236.9 171.7h0M241.6 171.1h0M250.6 153.1h0M202.6 197.9h0M234.5 167.7h0M218.5 191.1h0M205.0 197.1h0M220.4 191.8h0M203.1 193.6h0M241.6 177.2h0M234.1 179.9h0M247.4 167.8h0M233.9 170.9h0M247.2 159.9h0M212.5 194.7h0M244.6 168.3h0M215.7 197.4h0M217.5 181.6h0M200.3 197.5h0M242.4 169.0h0M227.5 181.5h0M213.9 182.6h0M241.6 160.6h0M211.4 188.8h0M221.3 190.2h0M253.2 151.7h0M233.9 170.4h0M240.5 173.2h0M243.4 180.6h0M254.0 150.5h0M229.1 169.9h0M239.1 167.6h0M230.5 170.4h0M213.2 182.8h0M235.8 178.8h0M236.2 175.1h0M246.7 171.6h0M248.9 154.4h0M243.9 160.2h0M218.4 183.0h0M217.2 187.3h0M247.9 159.8h0M220.7 177.9h0M245.2 164.4h0M239.2 172.5h0M235.8 165.8h0M211.5 193.2h0M236.1 166.4h0M211.7 191.2h0M246.1 156.2h0M207.9 191.9h0M228.2 176.3h0M227.8 177.0h0M235.1 171.4h0M246.6 157.3h0M250.1 164.2h0M251.0 161.6h0M203.1 200.3h0M219.8 186.8h0M203.8 200.2h0M233.8 175.6h0M194.2 199.6h0M243.9 162.1h0M209.5 198.3h0M235.6 173.4h0M212.5 192.0h0M250.2 165.7h0M219.4 187.2h0M250.8 162.6h0M248.7 158.1h0M230.5 177.0h0M250.3 157.4h0M245.3 168.6h0M204.9 194.3h0M219.3 189.6h0M233.0 173.2h0M237.6 165.1h0M234.1 176.9h0M230.8 173.9h0M249.1 158.3h0M251.4 156.2h0M216.8 192.7h0M250.8 156.2h0M228.8 177.7h0M242.8 175.1h0M205.9 192.1h0M249.1 152.9h0M205.7 197.1h0M245.6 156.3h0M250.7 155.5h0M223.9 185.3h0M216.8 197.6h0M218.2 187.4h0M214.8 192.7h0M202.0 200.8h0M250.8 156.5h0M220.2 190.6h0M249.3 159.9h0M237.7 162.8h0M230.8 175.4h0M242.7 159.4h0M234.9 169.3h0M239.3 172.9h0M205.9 191.1h0M206.1 194.9h0M236.6 169.5h0M252.4 166.6h0M231.2 174.3h0M215.8 187.2h0M238.3 175.3h0M222.0 194.0h0M232.3 184.6h0M221.4 182.2h0M222.2 187.4h0M206.7 197.1h0M232.2 178.1h0M238.6 169.9h0M213.7 193.2h0M253.4 155.9h0M219.6 180.0h0M222.6 183.7h0M212.5 194.3h0M244.0 164.1h0M220.6 191.6h0M241.2 163.9h0M221.6 183.5h0M219.2 184.5h0M220.5 189.4h0M245.4 158.6h0M211.2 195.7h0M212.1 191.9h0M245.8 160.3h0M227.7 172.8h0M236.2 162.5h0M229.7 169.6h0M221.0 191.2h0M230.3 180.0h0M226.7 186.1h0M197.0 199.5h0M228.9 180.2h0M241.8 165.9h0M214.2 183.5h0M209.0 196.8h0M213.7 188.8h0M218.1 179.2h0M234.1 180.9h0M242.3 168.5h0M229.6 180.0h0M228.7 185.4h0M230.8 170.7h0M233.2 171.9h0M251.7 152.6h0M210.7 191.8h0M242.9 164.4h0M219.9 185.8h0M254.5 156.5h0M252.9 159.0h0M242.3 172.6h0M233.1 174.8h0M224.2 180.6h0M241.1 166.3h0M222.1 189.2h0M210.3 196.4h0M223.3 183.6h0M231.4 172.7h0M250.8 167.9h0M253.9 160.0h0M239.5 168.6h0M223.4 183.2h0M222.7 194.5h0M242.8 167.0h0M216.5 193.1h0M232.1 181.3h0M209.7 192.6h0M231.5 176.6h0M213.8 191.1h0M246.4 160.5h0M233.9 169.9h0M213.0 184.1h0M234.2 170.8h0M220.5 179.9h0M231.7 172.7h0M252.4 158.7h0M242.1 161.4h0M223.6 188.3h0M213.8 190.7h0M231.6 167.7h0M229.3 175.9h0M213.5 191.4h0M248.2 154.1h0M244.1 169.1h0M214.2 190.1h0M213.8 189.8h0M248.8 157.3h0M239.9 173.3h0M214.1 182.1h0M236.3 176.3h0M254.4 157.7h0M203.0 197.4h0M220.4 189.1h0M251.1 161.3h0M250.7 158.0h0M246.5 165.0h0M238.0 164.9h0M223.2 188.9h0M242.4 162.1h0M211.3 189.0h0M225.0 181.6h0M223.2 177.2h0M226.1 171.1h0M248.3 163.0h0M214.9 187.4h0M239.1 174.8h0M236.0 170.0h0M230.8 175.6h0M242.8 166.2h0M253.6 156.6h0M211.0 196.7h0M234.4 171.9h0M251.3 170.5h0M208.8 187.2h0M255.0 150.2h0M247.7 166.1h0M251.8 163.8h0M246.2 161.4h0M245.7 163.5h0M228.2 173.3h0M249.7 154.2h0M235.9 173.3h0M220.6 185.1h0M240.3 169.1h0M242.3 158.3h0M206.8 193.6h0M243.7 165.6h0M239.2 176.5h0M244.2 162.1h0M192.9 199.9h0M236.2 174.6h0M229.2 179.2h0M236.6 170.2h0M230.7 172.9h0M217.1 195.2h0M200.2 200.4h0M244.0 170.9h0M231.4 178.6h0M213.3 193.4h0M221.0 184.9h0M253.2 159.1h0M220.4 186.5h0M223.9 178.3h0M210.9 190.8h0M222.1 184.3h0M236.9 169.8h0M213.1 196.5h0M250.2 159.1h0M233.0 174.3h0M250.2 155.0h0M238.2 171.7h0M232.4 179.2h0M237.4 172.2h0M198.0 198.5h0M253.5 156.5h0M199.2 200.6h0M231.2 178.3h0M251.6 161.7h0M222.2 185.4h0M218.7 183.8h0M240.6 173.9h0M231.1 174.7h0M243.5 161.5h0M238.7 169.2h0M241.7 163.4h0M234.3 172.7h0M208.9 199.5h0M245.0 170.8h0M220.1 178.0h0M229.7 176.8h0M221.0 184.9h0M219.2 184.8h0M254.4 160.2h0M251.2 158.1h0M219.4 182.7h0M218.5 191.8h0M230.1 174.4h0M211.4 192.5h0M208.6 197.7h0M238.0 170.0h0M227.0 186.1h0M235.3 169.4h0M218.5 185.8h0M220.9 181.9h0M228.9 179.3h0M251.5 157.3h0M231.6 189.1h0M228.6 179.4h0M254.9 154.5h0M228.0 173.4h0M251.7 157.6h0M219.4 185.1h0M202.5 199.3h0M211.3 198.4h0M213.9 193.4h0M231.4 177.0h0M228.9 185.2h0M249.4 158.9h0M220.5 183.9h0M221.0 182.9h0M251.4 160.7h0M246.7 162.5h0M214.0 194.5h0M235.3 172.9h0M234.9 165.1h0M226.5 176.6h0M244.3 168.5h0M208.3 193.7h0M208.2 195.9h0M227.1 191.4h0M243.9 163.6h0M243.3 162.1h0M241.2 165.2h0M235.4 168.4h0M238.0 175.6h0M238.4 171.0h0M216.8 195.1h0M214.4 183.8h0M207.4 200.4h0M233.0 174.0h0M216.7 195.2h0M208.3 194.1h0M222.4 183.6h0M230.8 177.3h0M230.4 179.1h0M206.1 195.7h0M233.4 171.1h0M233.9 169.4h0M233.1 173.6h0M251.1 153.3h0M243.8 173.4h0M239.1 165.6h0M209.9 193.2h0M231.7 172.9h0M210.1 194.4h0M227.7 181.4h0M246.3 167.0h0M221.9 181.3h0M223.8 183.2h0M223.3 174.0h0M245.7 162.8h0M230.7 174.8h0M228.5 172.4h0M231.0 171.7h0M225.3 172.0h0M253.3 160.8h0M233.5 178.7h0M208.7 194.1h0M222.7 180.7h0M205.1 195.4h0M243.6 167.8h0M253.8 166.5h0M240.1 165.8h0M235.0 178.3h0M225.2 185.9h0M212.6 195.6h0M232.4 171.5h0M220.6 191.1h0M239.0 172.9h0M246.3 171.0h0M210.7 187.1h0M207.2 196.2h0M213.6 190.9h0M252.4 153.6h0M228.8 182.3h0M211.7 198.8h0M228.0 178.5h0M231.0 170.7h0M214.5 195.6h0M246.7 160.6h0M236.8 171.0h0M227.3 185.8h0M249.7 156.9h0M249.2 162.8h0M240.9 170.4h0M217.8 190.1h0M249.4 155.6h0M235.0 175.8h0M211.5 193.6h0M219.1 182.3h0M238.9 165.1h0M244.6 166.0h0M237.1 175.4h0M242.7 166.2h0M246.7 162.8h0M252.7 156.5h0M240.6 166.0h0M205.9 200.7h0M228.4 185.2h0M202.8 199.6h0M203.7 198.2h0M219.0 188.7h0M198.8 200.3h0M254.4 149.3h0M210.0 195.2h0M225.6 183.8h0M212.4 189.4h0M234.0 173.5h0M200.9 196.8h0M244.0 167.3h0M222.7 183.8h0M225.0 192.8h0M197.2 198.7h0M209.1 195.9h0M240.8 165.9h0M212.9 191.2h0M244.0 160.0h0M226.5 188.2h0M230.4 175.4h0M233.7 176.5h0M242.8 164.7h0M206.6 199.4h0M221.4 187.5h0M226.7 177.5h0M234.1 164.6h0M252.1 153.2h0M220.6 186.8h0M223.7 180.5h0M228.4 181.0h0M215.5 194.9h0M213.5 190.2h0M242.2 170.3h0M232.5 172.8h0M226.6 181.6h0M219.4 182.9h0M216.9 193.9h0M227.8 180.3h0M218.1 188.3h0M249.6 158.0h0M244.4 160.1h0M244.1 166.4h0M214.3 189.3h0M215.9 181.3h0M245.0 167.7h0M229.9 176.0h0M217.0 189.2h0M212.0 187.8h0M202.3 194.2h0M238.5 165.8h0M234.5 169.5h0M232.8 170.2h0M241.4 167.6h0M237.8 172.4h0M212.8 195.4h0M230.4 185.8h0M216.4 184.4h0M223.3 194.4h0M240.9 172.7h0M212.5 189.0h0M217.4 190.9h0M211.8 192.3h0M248.6 166.2h0M215.7 190.7h0M236.7 171.5h0M249.0 155.9h0M254.6 148.8h0M204.1 195.5h0M211.2 198.5h0M230.1 183.3h0M248.5 160.0h0M199.4 199.8h0M254.1 159.8h0M241.0 166.6h0M211.8 188.4h0M208.7 195.3h0M220.9 184.3h0M221.2 189.6h0M233.0 175.8h0M248.8 162.1h0M217.5 185.2h0M248.5 175.4h0M255.2 161.4h0M242.3 167.6h0M221.2 180.8h0M236.8 173.2h0M215.4 182.9h0M242.4 171.3h0M228.7 174.7h0M223.9 185.4h0M254.9 165.3h0M213.0 185.6h0M223.3 182.3h0M224.6 173.3h0M214.1 191.6h0M241.6 160.7h0M214.6 196.3h0M201.5 199.6h0M251.1 171.9h0M251.5 160.4h0M202.6 198.3h0M209.0 188.9h0M235.0 178.7h0M231.8 179.4h0M223.6 183.2h0M253.0 151.5h0M249.2 167.4h0M249.9 157.8h0M241.8 168.2h0M255.0 160.4h0M219.5 199.5h0M210.0 190.0h0M253.8 161.0h0M205.6 196.8h0M252.3 167.2h0M208.8 195.3h0M212.7 196.4h0M222.8 191.3h0M230.8 168.5h0M222.3 190.0h0M213.2 192.8h0M218.7 180.2h0M251.0 171.7h0M231.6 172.8h0M218.8 186.8h0M241.7 165.2h0M232.3 166.3h0M219.3 180.4h0M237.4 172.3h0M230.1 174.9h0M218.9 189.3h0M245.1 161.8h0M227.2 181.3h0M223.5 175.5h0M240.8 167.4h0M243.9 164.9h0M236.5 176.4h0M224.3 182.0h0M206.7 193.8h0M223.0 179.9h0M242.1 168.4h0M244.3 158.8h0M215.4 188.7h0M212.8 187.1h0M223.8 177.5h0M230.9 178.2h0M239.9 166.8h0M223.0 176.6h0M240.2 166.6h0M201.6 194.3h0M234.8 172.0h0M225.0 182.2h0M235.5 176.3h0M225.0 190.9h0M204.6 194.8h0M214.3 191.3h0M233.9 170.5h0M207.0 188.5h0M250.8 165.3h0M238.8 178.3h0M248.8 164.2h0M245.1 158.9h0M198.1 200.0h0M209.1 188.7h0M235.9 165.1h0M219.9 183.1h0M228.8 172.3h0M207.7 198.2h0M245.8 172.5h0M238.3 173.8h0M220.5 181.9h0M210.7 184.7h0M238.1 165.7h0M236.3 166.6h0M239.0 168.7h0M212.7 194.7h0M215.2 189.6h0M243.4 162.7h0M200.0 199.2h0M243.4 172.4h0M242.0 166.2h0M227.0 177.1h0M224.4 184.0h0M227.9 178.1h0M212.2 191.2h0" stroke="#2c9c72" stroke-width="1.25" stroke-linecap="round" opacity="1.0" fill="none"/>
<path d="M209.0 196.4h0M208.6 188.0h0M236.7 168.9h0M207.3 188.5h0M236.2 174.1h0M217.2 179.0h0M232.2 178.1h0M224.9 172.7h0M199.4 196.6h0M191.7 200.9h0M197.6 201.4h0M203.8 191.0h0M221.9 175.4h0M221.2 175.5h0M238.3 173.1h0M203.0 193.9h0M236.4 165.6h0M207.4 199.8h0M192.7 201.1h0M224.2 178.0h0M230.4 192.3h0M228.1 170.4h0M190.7 201.6h0M198.4 200.7h0M233.4 169.1h0M245.9 166.1h0M215.6 180.7h0M228.5 173.8h0M229.5 178.2h0M216.8 197.1h0M229.5 185.2h0M210.5 196.2h0M211.8 195.1h0M204.0 200.6h0M208.0 192.3h0M208.5 190.2h0M238.6 166.5h0M211.3 187.3h0M231.7 176.5h0M220.3 179.7h0M210.8 185.4h0M202.3 195.8h0M192.3 200.4h0M218.1 190.9h0M229.9 181.0h0M207.5 195.9h0M219.4 197.1h0M234.5 170.2h0M214.8 189.4h0M196.7 199.8h0M194.4 201.5h0M245.6 168.4h0M197.2 200.9h0M208.8 196.6h0M192.0 202.0h0M211.6 188.6h0M212.6 195.6h0M206.2 197.9h0M211.5 193.8h0M200.2 194.1h0M208.3 190.6h0M209.2 186.6h0M217.3 179.8h0M205.7 191.3h0M214.3 183.1h0M228.7 169.1h0M211.7 185.6h0M223.8 175.3h0M241.8 184.8h0M224.9 195.1h0M232.4 168.8h0M213.2 193.7h0M231.1 174.7h0M197.7 199.0h0M218.2 188.9h0M220.0 179.8h0M214.0 188.4h0M216.3 189.7h0M202.2 201.0h0M200.9 201.3h0M228.0 192.5h0M220.6 184.2h0M224.4 187.0h0M224.8 195.4h0M225.0 172.4h0M234.5 174.3h0M205.7 189.1h0M214.3 181.9h0M220.4 187.7h0M190.7 201.8h0M213.8 184.6h0M244.0 194.7h0M193.8 199.4h0M233.0 176.9h0M233.7 180.6h0M207.0 187.9h0M201.1 196.1h0M220.5 176.2h0M211.1 195.3h0M206.8 193.8h0M205.0 192.1h0M201.0 197.2h0M226.8 173.2h0M222.7 176.3h0M237.3 184.1h0M224.6 178.9h0M226.9 178.6h0M217.9 191.7h0M200.1 193.5h0M200.7 196.1h0" stroke="#a8305a" stroke-width="1.2" stroke-linecap="round" opacity="1.0" fill="none"/>
<path d="M276.6 166.0h0M216.0 196.7h0M236.8 165.4h0M247.6 152.8h0M251.1 194.2h0M269.8 174.0h0M279.2 170.4h0M225.1 179.9h0M193.5 201.3h0M310.1 196.5h0M247.4 165.6h0M265.7 170.3h0M267.0 170.9h0M263.2 174.3h0M237.3 167.4h0M222.9 187.7h0M196.2 203.5h0M249.1 176.2h0M222.5 184.2h0M260.6 157.2h0M227.4 188.3h0M236.6 185.8h0M260.3 200.7h0M218.2 199.0h0M228.6 179.1h0M260.4 173.9h0M226.1 191.2h0M250.5 177.2h0M230.2 201.5h0M226.1 175.3h0M240.4 163.7h0M306.0 198.5h0M202.8 191.1h0M234.7 164.5h0M292.2 187.0h0M243.2 179.6h0M257.1 157.8h0M246.8 153.8h0M240.1 160.0h0M230.5 182.2h0M231.8 169.4h0M215.1 197.5h0M286.9 189.0h0M293.2 194.0h0M244.8 158.9h0M247.4 183.1h0M243.4 159.7h0M230.4 192.4h0M261.8 174.9h0M223.3 194.8h0M246.2 181.2h0M261.1 168.5h0M229.5 195.8h0M255.0 166.0h0M302.6 189.8h0M227.1 173.1h0M213.1 185.4h0M298.9 190.5h0M243.6 159.4h0M258.1 169.4h0M257.6 172.3h0M266.0 192.7h0M238.8 169.8h0M254.6 192.1h0M219.2 198.6h0M274.0 176.4h0M229.5 200.0h0M245.9 161.6h0M243.3 165.8h0M221.4 202.4h0M221.4 176.5h0M199.4 194.8h0M240.4 160.0h0M213.7 183.4h0M299.8 187.6h0M215.2 191.3h0M240.7 175.4h0M221.1 190.9h0M220.8 181.8h0M231.3 187.0h0M278.9 168.6h0M269.8 172.5h0M208.5 189.8h0M224.0 198.1h0M226.6 190.9h0M238.2 178.5h0M248.1 186.7h0M215.2 183.0h0M202.6 199.7h0M248.2 186.7h0M251.0 173.2h0M253.8 162.0h0M257.9 176.6h0M208.3 199.6h0M201.8 195.3h0M216.8 181.8h0M221.3 186.4h0M217.7 180.7h0M211.2 189.6h0M222.7 178.2h0M242.0 172.1h0M206.5 192.4h0M205.3 195.4h0M242.6 180.7h0M247.4 160.1h0M221.3 188.5h0M232.5 168.3h0M219.5 178.2h0M220.7 186.7h0M240.5 172.1h0M299.3 187.7h0M243.5 175.5h0M229.4 183.6h0M236.2 182.6h0M241.8 159.5h0M262.1 157.2h0M209.4 197.6h0M249.1 194.8h0M260.2 156.2h0M297.7 203.3h0M246.3 179.1h0M230.1 196.4h0M284.5 174.4h0M281.5 169.4h0M236.7 162.7h0M266.6 175.6h0M296.5 183.6h0M291.6 189.2h0M289.9 180.0h0M276.5 171.8h0M240.9 166.2h0M232.8 177.4h0M258.0 164.1h0M211.2 184.0h0M251.7 149.9h0M247.4 169.4h0M255.4 158.3h0M248.2 160.0h0M253.7 156.1h0M291.5 178.8h0M215.9 184.8h0M221.5 177.5h0M251.6 176.0h0M261.3 197.4h0M250.8 150.9h0M287.0 195.7h0M207.1 190.3h0M246.2 193.1h0M246.5 164.4h0M259.2 174.3h0M247.9 171.6h0M233.5 167.5h0M254.0 160.8h0M211.4 185.8h0M218.6 200.3h0M275.7 166.6h0M266.0 156.3h0M242.8 185.1h0M215.4 181.0h0M294.1 186.1h0M230.6 175.6h0M266.7 160.8h0M279.2 193.2h0M238.7 178.8h0M240.5 163.3h0M247.4 160.2h0M247.7 155.4h0M292.7 185.0h0M234.2 188.6h0M252.4 181.7h0M257.0 169.3h0M233.1 168.5h0M247.2 164.2h0M232.0 186.3h0M255.3 150.7h0M212.5 193.8h0M249.2 171.6h0M266.7 183.4h0M246.3 179.6h0M235.2 172.3h0M251.1 156.8h0M235.3 165.4h0M247.2 193.1h0M239.1 168.8h0M298.9 198.9h0M267.5 159.7h0M254.7 161.3h0M237.7 170.3h0M222.6 179.1h0M222.0 202.8h0M225.9 172.8h0M267.5 164.9h0M259.5 186.2h0M247.9 169.3h0M239.4 170.5h0M201.5 202.6h0M262.7 201.5h0M191.2 201.3h0M291.1 184.2h0M248.6 192.5h0M212.7 185.4h0M229.1 190.5h0M218.7 194.3h0M277.2 186.7h0M195.6 201.1h0M215.8 194.8h0M291.6 200.5h0M258.8 174.4h0M230.8 174.2h0M220.4 205.1h0M246.1 162.7h0M204.5 196.1h0M204.4 195.2h0M259.7 178.4h0M245.1 172.5h0M257.6 156.8h0M267.1 176.2h0M227.6 172.6h0M262.6 166.7h0M261.6 195.2h0M235.2 183.2h0M256.0 168.3h0M249.4 171.1h0M252.7 163.2h0M252.6 157.6h0M215.6 190.9h0M269.1 167.6h0M243.3 181.3h0M305.9 193.5h0M249.3 156.9h0M264.1 178.3h0M229.4 179.6h0M251.8 149.8h0M237.3 192.3h0M283.5 196.3h0M214.7 199.1h0M257.0 173.8h0M236.8 177.1h0M306.7 202.7h0M265.6 176.4h0M248.1 175.2h0M254.9 187.0h0M230.3 176.3h0M252.6 150.0h0M241.7 167.6h0M275.5 178.5h0M233.7 167.9h0M209.4 202.7h0M217.9 180.0h0M299.6 199.4h0M254.3 151.7h0M211.7 200.3h0M279.4 181.5h0M212.0 183.7h0M234.1 174.5h0M202.4 197.1h0M287.5 180.8h0M202.0 198.4h0M232.5 197.9h0M223.1 174.6h0M211.2 194.0h0M243.8 157.7h0M312.6 201.0h0M204.6 191.1h0M229.2 178.6h0M245.9 181.7h0M261.8 164.4h0M236.2 177.2h0M210.0 190.9h0M262.9 171.7h0M258.9 190.3h0M232.2 186.5h0M210.5 190.4h0M231.0 172.4h0M285.1 199.0h0M207.2 190.2h0M230.5 202.9h0M242.8 165.2h0M248.1 161.7h0M303.2 194.6h0M232.3 197.6h0M248.4 166.0h0M249.8 153.7h0M251.5 153.1h0M240.3 180.0h0M270.8 160.1h0M250.0 156.0h0M234.3 180.0h0M279.6 171.0h0M230.8 173.1h0M233.4 170.7h0M248.3 163.6h0M230.2 172.0h0M238.4 183.2h0M234.5 188.0h0M239.4 161.2h0M276.6 186.0h0M209.5 194.1h0M243.8 172.7h0M209.0 191.5h0M239.7 167.4h0M202.5 194.6h0M283.8 186.0h0M236.0 191.3h0M269.8 166.1h0M223.5 185.6h0M282.4 177.5h0M215.2 188.6h0M221.3 183.3h0M202.7 200.4h0M252.8 159.6h0M283.0 171.1h0M261.8 158.7h0M291.4 187.0h0M222.9 183.7h0M242.2 178.9h0M222.9 178.5h0M228.8 173.5h0M204.7 195.8h0M211.9 203.6h0M209.0 187.5h0M277.4 170.2h0M254.5 149.9h0M201.4 197.1h0M277.6 166.1h0M254.0 169.2h0M273.9 174.8h0M245.1 167.3h0M250.7 168.1h0M302.1 190.9h0M241.9 164.2h0M310.3 199.9h0M239.6 176.4h0M220.3 188.6h0M292.1 187.4h0M259.8 155.5h0M272.1 181.3h0M217.5 195.0h0M246.8 184.6h0M211.9 199.1h0M314.2 198.8h0M300.1 189.0h0M251.9 155.7h0M234.0 181.2h0M197.1 199.6h0M259.6 182.9h0M225.8 200.3h0M239.8 173.4h0M253.1 201.2h0M211.2 191.1h0M239.4 162.4h0M245.7 155.7h0M259.4 166.7h0M305.3 190.2h0M247.5 180.2h0M250.3 153.5h0M246.1 162.0h0M258.6 162.6h0M262.1 196.1h0M219.2 179.9h0M237.6 170.2h0M204.0 193.6h0M255.2 147.7h0M273.1 167.7h0M237.9 172.2h0M227.7 175.8h0M241.7 159.2h0M256.7 167.8h0M219.8 186.3h0M226.9 191.4h0M259.5 173.9h0M297.2 190.0h0M240.7 160.4h0M243.9 159.1h0M249.9 188.6h0M193.0 201.7h0M237.9 196.6h0M212.0 184.9h0M278.1 175.7h0M241.3 168.4h0M234.5 165.9h0M261.4 160.0h0M277.6 172.1h0M275.8 172.9h0M202.2 199.8h0M200.6 203.4h0M248.7 177.4h0M289.5 178.5h0M195.4 197.7h0M302.6 190.3h0M254.3 157.6h0M287.7 177.1h0M244.6 157.5h0M264.9 157.5h0M237.5 171.9h0M248.4 163.4h0M309.9 194.8h0M245.6 171.0h0M258.1 175.0h0M279.2 202.5h0M246.5 156.9h0M240.6 186.1h0M285.3 177.5h0M240.8 169.4h0M231.8 190.5h0M216.0 198.0h0M208.0 192.3h0M227.5 176.8h0M232.0 195.0h0M296.0 191.1h0M229.0 188.0h0M239.6 168.6h0M230.9 194.2h0M250.8 181.2h0M272.0 168.3h0M246.4 172.8h0M269.3 174.4h0M205.2 197.9h0M278.0 172.2h0M217.5 183.8h0M245.6 175.2h0M250.5 168.2h0M271.2 169.8h0M250.9 156.0h0M289.0 185.2h0M265.6 200.1h0M302.3 196.6h0M282.5 181.2h0M255.5 158.5h0M278.6 170.7h0M233.5 173.7h0M216.5 193.4h0M188.3 204.4h0M258.7 176.2h0M231.3 174.6h0M227.8 173.5h0M271.2 171.5h0M234.7 167.5h0M276.6 185.1h0M257.9 170.6h0M252.9 166.1h0M197.9 197.0h0M227.2 193.8h0M270.5 186.6h0M258.5 174.1h0M265.8 168.9h0M244.4 165.4h0M243.3 186.0h0M270.6 160.2h0M240.1 180.4h0M224.5 182.3h0M274.9 172.3h0M217.7 186.5h0M274.3 180.1h0M230.2 170.6h0M232.9 183.5h0M236.6 180.3h0M241.2 189.3h0M254.4 155.2h0M277.1 183.4h0M199.8 194.7h0M228.8 189.7h0M236.2 171.7h0M254.1 164.7h0M256.5 162.0h0M251.8 178.1h0M272.5 194.5h0M225.1 176.2h0M226.5 195.9h0M288.1 198.3h0M285.8 176.3h0M257.0 180.1h0M253.9 160.7h0M270.0 176.1h0M232.1 168.1h0M235.1 168.4h0M287.9 174.7h0M288.9 175.2h0M214.9 182.3h0M229.3 183.8h0M247.7 176.3h0M274.4 179.8h0M216.7 185.3h0M248.0 154.7h0M246.7 163.3h0M251.2 188.6h0M295.8 186.7h0M260.0 180.3h0M191.4 201.3h0M274.1 167.9h0M236.0 193.8h0M227.3 188.6h0M246.3 182.2h0M276.6 183.3h0M242.8 160.9h0M283.7 174.4h0M274.6 168.7h0M264.9 160.8h0M246.5 175.6h0M239.0 172.8h0M290.2 185.4h0M290.0 187.5h0M235.2 164.9h0M199.8 198.2h0M214.2 200.4h0M277.3 169.0h0M210.5 193.7h0M255.1 150.9h0M213.1 182.8h0M250.5 190.8h0M268.9 184.0h0M260.3 184.4h0M255.9 192.4h0M232.8 184.4h0M279.3 171.3h0M206.0 193.3h0M289.4 175.9h0M235.4 166.6h0M234.5 178.3h0M244.8 160.6h0M243.9 163.0h0M228.7 172.6h0M231.4 197.5h0M279.4 192.1h0M254.6 198.3h0M203.8 192.3h0M213.3 186.7h0M300.1 191.8h0M307.6 193.9h0M227.6 196.4h0M280.0 203.7h0M272.5 168.2h0M204.0 199.5h0M258.9 154.7h0M241.1 177.6h0M254.0 175.6h0M222.0 175.3h0M248.9 190.6h0M194.6 199.9h0M241.5 192.3h0M309.3 193.1h0M258.5 168.8h0M224.1 173.3h0M277.3 182.8h0M269.8 187.9h0M240.5 177.7h0M257.6 162.5h0M240.6 162.7h0M204.8 195.3h0M264.1 194.1h0M248.5 153.1h0M245.6 182.4h0M233.9 180.9h0M237.6 183.0h0M251.9 161.3h0M208.7 200.5h0M237.7 164.7h0M312.8 197.2h0M220.5 199.8h0M245.6 158.0h0M198.8 195.5h0M262.0 181.9h0M254.7 153.3h0M250.2 170.5h0M305.7 193.1h0M289.6 182.8h0M294.4 180.4h0M249.7 165.4h0M259.4 186.7h0M259.6 186.1h0M240.4 171.9h0M264.9 167.3h0M216.4 199.2h0M243.3 198.5h0M247.7 173.9h0M231.0 195.4h0M227.7 171.1h0M240.3 165.7h0M244.7 185.8h0M207.5 197.7h0M238.2 165.6h0M228.6 180.2h0M250.7 152.8h0M241.0 160.9h0M205.9 192.2h0M223.6 195.5h0M204.0 192.8h0M251.7 179.0h0M249.5 163.1h0M197.3 203.0h0M243.6 178.9h0M210.5 188.8h0M246.7 171.3h0M249.8 158.0h0M249.7 154.8h0M281.9 192.5h0M235.4 175.2h0M239.8 167.1h0M259.5 158.5h0M210.4 194.4h0M261.1 194.0h0M255.7 163.4h0M251.3 167.9h0M252.1 162.9h0M235.6 169.9h0M254.6 166.1h0M252.1 154.9h0M253.7 204.0h0M220.8 181.2h0M255.7 167.6h0M262.1 172.1h0M186.2 205.7h0M221.3 180.3h0M190.7 203.3h0M219.7 178.8h0M265.2 163.4h0M220.5 195.3h0M239.6 163.3h0M227.7 180.3h0M254.0 198.6h0M243.0 160.9h0M256.8 163.0h0M224.1 179.8h0M258.8 167.4h0M207.3 187.5h0M287.9 177.7h0M264.9 158.3h0M229.2 173.7h0M290.6 179.7h0M287.3 203.4h0M227.8 178.0h0M262.3 201.4h0M273.2 171.4h0M193.5 202.1h0M245.3 178.0h0M217.2 182.6h0M224.6 176.7h0M234.7 168.3h0M259.2 157.2h0M286.1 177.7h0M216.4 186.4h0M248.9 173.1h0M257.8 155.4h0M247.1 174.7h0M255.2 171.8h0" stroke="#1c1cc6" stroke-width="1.1" stroke-linecap="round" opacity="1.0" fill="none"/>
<path d="M259.5 161.2h0M268.7 194.4h0M203.9 202.8h0M214.1 186.9h0M250.5 175.5h0M264.3 165.1h0M229.2 170.8h0M233.1 185.3h0M235.7 190.2h0M214.0 185.7h0M312.2 196.5h0M260.4 191.3h0M243.7 168.4h0M220.9 178.8h0M255.5 149.9h0M213.8 190.4h0M243.6 158.4h0M272.8 172.9h0M240.4 183.2h0M230.0 174.2h0M251.1 154.1h0M285.8 197.7h0M297.3 186.6h0M247.2 172.7h0M227.8 177.6h0M235.7 196.0h0M238.2 171.1h0M278.0 174.9h0M262.0 174.0h0M250.5 155.6h0M254.3 148.9h0M248.5 168.5h0M236.3 165.4h0M242.1 171.7h0M231.9 172.5h0M265.9 193.6h0M228.9 191.8h0M242.9 159.1h0M250.3 163.1h0M246.2 166.3h0M231.0 196.4h0M212.6 186.9h0M241.6 163.4h0M254.9 182.7h0M264.9 154.5h0M235.0 168.4h0M253.9 151.2h0M293.2 186.1h0M219.4 203.9h0M279.2 176.6h0M219.2 187.7h0M242.9 178.9h0M211.0 192.3h0M296.7 194.6h0M282.6 201.2h0M266.1 157.4h0M234.5 194.7h0M224.2 173.3h0M255.8 168.4h0M247.3 182.0h0M247.5 185.4h0M231.8 180.9h0M230.3 193.6h0M244.5 168.6h0M252.2 196.6h0M237.6 186.7h0M250.8 157.2h0M283.0 170.3h0M225.2 183.8h0M290.1 179.8h0M267.8 170.5h0M223.3 176.6h0M242.4 198.8h0M266.1 183.1h0M249.6 153.6h0M242.9 191.9h0M265.7 158.8h0M238.5 182.3h0M255.5 179.9h0M245.5 161.7h0M206.6 195.5h0M226.3 174.3h0M261.0 154.7h0M279.8 168.7h0M214.4 181.2h0M235.1 184.7h0M224.3 173.9h0M270.0 184.1h0M263.9 160.7h0M256.9 187.8h0M237.3 192.9h0M271.2 167.2h0M262.1 179.8h0M255.7 190.2h0M279.9 195.9h0M287.3 200.3h0M246.9 156.2h0M236.8 174.6h0M254.8 204.1h0M241.1 177.1h0M283.9 171.1h0M236.1 163.8h0M246.3 180.2h0M226.4 171.6h0M244.3 192.0h0M275.3 175.8h0M232.2 167.4h0M277.9 167.9h0M206.1 202.8h0M235.5 175.9h0M234.2 177.3h0M229.4 200.4h0M245.9 157.1h0M243.3 176.0h0M264.2 154.9h0M269.1 158.8h0M220.1 188.1h0M225.1 199.5h0M246.7 185.8h0M271.5 183.3h0M236.6 176.6h0M217.3 196.7h0M248.0 154.0h0M290.0 186.8h0M229.5 183.0h0M248.6 160.5h0M221.5 190.5h0M225.9 179.8h0M304.3 188.9h0M245.6 169.2h0M222.3 190.3h0M308.1 195.3h0M240.8 182.7h0M214.9 193.2h0M255.8 168.9h0M251.5 165.2h0M261.1 155.2h0M244.9 156.2h0M248.9 154.2h0M218.4 190.6h0M249.1 203.7h0M239.4 177.3h0M264.6 162.9h0M223.1 197.2h0M254.4 160.6h0M219.7 191.2h0M263.8 159.4h0M235.6 165.6h0M222.9 182.8h0M228.0 177.8h0M236.9 166.2h0M210.5 202.8h0M226.0 200.6h0M251.2 162.5h0M219.1 199.3h0M229.5 180.2h0M221.8 189.0h0M256.2 159.2h0M256.1 154.7h0M264.5 162.0h0M200.5 194.3h0M225.1 178.0h0M269.4 160.5h0M228.7 198.9h0M247.2 156.1h0M236.8 167.7h0" stroke="#3a4ade" stroke-width="1.1" stroke-linecap="round" opacity="1.0" fill="none"/>
<path d="M230.7 169.5h0M193.4 204.5h0M252.2 194.8h0M227.8 169.8h0M245.9 163.2h0M248.8 179.4h0M197.1 197.0h0M231.1 192.6h0M221.3 191.7h0M278.2 171.5h0M204.1 197.6h0M211.2 185.1h0M205.8 193.0h0M272.0 165.3h0M281.9 177.3h0M239.2 176.3h0M273.6 172.9h0M212.1 190.4h0M198.2 196.4h0M238.6 164.7h0M250.6 158.1h0M228.8 184.3h0M231.1 193.9h0M255.8 162.0h0M250.4 171.1h0M262.6 170.6h0M262.6 163.3h0M243.0 182.4h0M236.7 185.5h0M207.6 195.9h0M238.1 164.6h0M208.1 189.6h0M235.9 171.3h0M235.4 175.5h0M222.7 183.3h0M313.3 204.3h0M257.2 170.0h0M262.1 166.4h0M226.8 180.2h0M255.2 164.9h0M251.6 171.1h0M253.3 178.5h0M283.5 183.9h0M278.4 185.4h0M246.0 176.7h0M250.7 156.3h0M228.1 194.5h0M251.6 197.0h0M252.9 158.5h0M242.2 185.6h0M287.3 173.9h0M236.8 191.4h0M244.2 165.7h0M314.8 202.5h0M239.6 176.1h0M232.1 172.5h0M233.1 166.2h0M282.4 176.2h0M225.0 183.0h0M210.7 195.2h0M228.7 176.8h0M254.8 160.4h0M199.2 194.3h0M271.2 165.9h0M223.1 201.6h0M240.4 168.9h0M237.5 193.0h0M262.0 173.4h0M245.0 156.0h0M262.5 198.2h0M209.4 189.3h0M206.2 188.8h0M293.5 196.8h0M227.0 175.6h0M234.5 182.6h0M236.4 187.7h0M244.0 171.9h0M283.4 180.7h0M204.9 201.4h0M203.7 199.6h0M300.3 196.5h0M228.4 171.8h0M222.7 179.7h0M194.2 200.5h0M264.1 154.8h0M224.3 191.9h0M258.1 157.2h0M309.1 204.0h0M236.9 168.2h0" stroke="#5f78e4" stroke-width="1.1" stroke-linecap="round" opacity="1.0" fill="none"/>
<path d="M185.90 205.70L239.26 159.78" stroke="#b82628" stroke-width="1.2" opacity="1.0" fill="none"/>
<path d="M239.26 159.78L252.43 148.46" stroke="#2fa88a" stroke-width="0.9" opacity="0.8" fill="none"/>
<path d="M264.21 154.42L289.85 176.48" stroke="#2c9c72" stroke-width="1.0" opacity="0.95" fill="none"/>
<path d="M299.1 184.0h0M298.5 184.1h0M297.4 184.7h0M298.5 184.6h0M300.6 186.5h0M301.8 187.4h0M300.6 187.3h0M296.9 184.9h0M296.8 183.7h0M298.3 185.4h0" stroke="#d0282a" stroke-width="1.3" stroke-linecap="round" opacity="1.0" fill="none"/>
<path d="M295.39 230.15L309.25 218.22" stroke="#d0282a" stroke-width="0.9" opacity="0.9" fill="none"/>
<path d="M280.15 243.27L295.39 230.15" stroke="#2fa88a" stroke-width="0.9" opacity="0.85" fill="none"/>
<text x="529.50" y="160.02" font-size="5.4" text-anchor="end" font-weight="normal" fill="#333">80</text>
<text x="529.50" y="171.84" font-size="5.4" text-anchor="end" font-weight="normal" fill="#333">60</text>
<text x="529.50" y="183.66" font-size="5.4" text-anchor="end" font-weight="normal" fill="#333">40</text>
<text x="529.50" y="195.48" font-size="5.4" text-anchor="end" font-weight="normal" fill="#333">20</text>
<text x="529.50" y="207.30" font-size="5.4" text-anchor="end" font-weight="normal" fill="#333">0</text>
<text x="529.50" y="219.12" font-size="5.4" text-anchor="end" font-weight="normal" fill="#333">-20</text>
<text x="529.50" y="230.94" font-size="5.4" text-anchor="end" font-weight="normal" fill="#333">-40</text>
<text x="529.50" y="242.76" font-size="5.4" text-anchor="end" font-weight="normal" fill="#333">-60</text>
<text x="529.50" y="254.58" font-size="5.4" text-anchor="end" font-weight="normal" fill="#333">-80</text>
<text x="529.50" y="266.40" font-size="5.4" text-anchor="end" font-weight="normal" fill="#333">-100</text>
<text x="533.70" y="273.00" font-size="5.4" text-anchor="middle" font-weight="normal" fill="#333">0</text>
<text x="547.56" y="273.00" font-size="5.4" text-anchor="middle" font-weight="normal" fill="#333">10</text>
<text x="561.42" y="273.00" font-size="5.4" text-anchor="middle" font-weight="normal" fill="#333">20</text>
<text x="575.28" y="273.00" font-size="5.4" text-anchor="middle" font-weight="normal" fill="#333">30</text>
<text x="589.14" y="273.00" font-size="5.4" text-anchor="middle" font-weight="normal" fill="#333">40</text>
<text x="603.00" y="273.00" font-size="5.4" text-anchor="middle" font-weight="normal" fill="#333">50</text>
<text x="616.86" y="273.00" font-size="5.4" text-anchor="middle" font-weight="normal" fill="#333">60</text>
<text x="630.72" y="273.00" font-size="5.4" text-anchor="middle" font-weight="normal" fill="#333">70</text>
<text x="644.58" y="273.00" font-size="5.4" text-anchor="middle" font-weight="normal" fill="#333">80</text>
<text x="658.44" y="273.00" font-size="5.4" text-anchor="middle" font-weight="normal" fill="#333">90</text>
<path d="M533.30 145.80V264.40H672.20M532.00 158.02H533.30M532.00 169.84H533.30M532.00 181.66H533.30M532.00 193.48H533.30M532.00 205.30H533.30M532.00 217.12H533.30M532.00 228.94H533.30M532.00 240.76H533.30M532.00 252.58H533.30M532.00 264.40H533.30M533.30 264.40V265.70M547.16 264.40V265.70M561.02 264.40V265.70M574.88 264.40V265.70M588.74 264.40V265.70M602.60 264.40V265.70M616.46 264.40V265.70M630.32 264.40V265.70M644.18 264.40V265.70M658.04 264.40V265.70" fill="none" stroke="#505050" stroke-width="0.95"/>
<path d="M533.30 205.5H672.20" stroke="#b4b4b4" stroke-width="0.9"/>
<text x="534.10" y="148.40" font-size="4.6" text-anchor="start" font-weight="normal" fill="#333">BC</text>
<text x="531.40" y="277.90" font-size="4.2" text-anchor="start" font-weight="normal" fill="#333">BM</text>
<path d="M608.7 171.0h0M560.1 189.4h0M584.4 174.1h0M628.6 177.5h0M582.3 203.2h0M547.9 201.5h0M580.5 172.3h0M590.6 201.6h0M594.2 191.3h0M634.7 193.2h0M563.6 202.5h0M648.4 191.6h0M610.9 166.4h0M623.7 191.0h0M604.7 186.7h0M558.5 190.9h0M616.7 184.3h0M630.5 191.3h0M593.5 188.2h0M607.1 196.6h0M588.8 189.6h0M549.1 191.9h0M570.8 182.7h0M603.8 168.6h0M644.7 202.7h0M574.5 170.8h0M569.9 177.2h0M561.9 184.2h0M589.3 168.7h0M599.9 200.6h0M555.7 197.4h0M618.1 169.0h0M605.7 194.0h0M631.8 181.0h0M619.8 167.0h0M631.9 171.5h0M640.1 204.2h0M632.4 180.7h0M617.0 168.3h0M580.4 166.3h0M584.7 175.6h0M578.8 172.4h0M629.2 179.2h0M595.0 164.5h0M575.9 190.2h0M645.0 188.0h0M590.8 163.3h0M624.4 200.6h0M537.6 202.7h0M612.4 177.6h0M585.3 184.7h0M607.9 185.4h0M560.6 204.4h0M554.0 187.9h0M589.3 187.7h0M607.7 164.1h0M626.7 184.9h0M560.8 185.5h0M577.3 182.1h0M569.8 177.8h0M559.1 184.9h0M586.9 190.4h0M590.9 162.2h0M567.6 183.4h0M657.3 194.9h0M581.3 165.1h0M578.1 167.7h0M579.9 197.2h0M569.3 178.5h0M584.9 166.5h0M584.2 199.0h0M613.3 161.6h0M632.3 191.6h0M603.9 178.8h0M596.3 190.9h0M588.4 179.3h0M587.4 160.2h0M592.3 169.3h0M597.4 200.0h0M561.6 190.4h0M648.1 189.1h0M633.4 187.1h0M586.6 179.0h0M611.1 167.5h0M602.3 182.6h0M629.0 193.3h0M615.2 176.7h0M629.7 172.9h0M578.5 175.2h0M558.8 189.9h0M564.9 199.2h0M558.9 204.1h0M567.3 189.1h0M571.8 181.3h0M594.5 176.1h0M570.2 180.0h0M610.8 173.2h0M599.5 187.1h0M570.9 175.2h0M590.1 204.8h0M547.3 198.9h0M617.9 198.2h0M632.4 182.1h0M592.1 182.6h0M581.7 179.6h0M586.5 193.8h0M562.8 184.9h0M575.2 178.0h0M573.8 171.0h0M597.5 182.7h0M563.1 189.9h0M573.6 173.1h0M596.1 170.5h0M633.0 183.9h0M619.8 181.1h0M614.0 193.6h0M600.5 185.4h0M541.0 200.2h0M598.8 168.9h0M589.4 171.1h0M551.5 193.8h0M582.2 180.6h0M662.5 203.1h0M604.3 146.9h0M586.8 166.7h0M576.3 175.3h0M617.9 164.4h0M537.6 202.0h0M607.3 168.2h0M644.9 183.4h0M657.4 200.2h0M644.1 198.0h0M566.9 177.6h0M611.9 182.9h0M617.3 183.4h0M600.9 193.1h0M640.6 179.3h0M599.9 197.6h0M594.0 194.6h0M597.6 191.9h0M603.4 178.5h0M560.1 183.1h0M589.3 175.8h0M582.2 178.7h0M587.6 184.7h0M619.8 180.9h0M639.3 185.3h0M577.3 185.8h0M629.4 182.9h0M614.5 183.2h0M622.7 188.8h0M557.5 188.5h0M596.4 168.7h0M568.1 183.3h0M548.0 200.2h0M648.6 191.9h0M621.9 168.6h0M585.9 187.8h0M605.8 177.6h0M579.9 183.3h0M623.7 177.0h0M603.7 199.1h0M645.0 200.6h0M655.0 196.5h0M637.5 179.6h0M584.4 180.1h0M660.7 199.2h0M616.8 191.1h0M589.4 163.6h0M638.1 189.3h0M621.6 188.6h0M645.3 202.5h0M546.5 196.2h0M592.1 178.4h0M599.9 195.5h0M588.1 189.8h0M550.0 192.5h0M616.8 179.2h0M597.7 190.5h0M626.7 172.2h0M633.4 174.1h0M551.0 203.8h0M620.1 194.2h0M557.5 192.6h0M538.9 200.8h0M585.8 183.7h0M592.7 187.4h0M545.8 201.9h0M627.3 175.3h0M567.8 191.8h0M561.4 188.6h0M636.2 196.9h0M614.4 185.6h0M608.8 191.3h0M543.2 197.4h0M592.7 174.6h0M622.7 170.9h0M613.4 177.6h0M590.7 199.0h0M620.3 164.4h0M558.0 198.4h0M598.4 187.6h0M557.9 192.0h0M555.0 190.0h0M585.2 163.2h0M594.2 193.5h0M578.5 185.5h0M614.8 193.1h0M613.2 170.0h0M608.5 193.8h0M593.8 192.8h0M611.4 184.6h0M583.1 181.9h0M579.1 180.4h0M553.1 198.8h0M578.6 180.0h0M606.3 163.7h0M587.5 189.4h0M557.0 186.2h0M577.8 168.1h0M579.0 185.1h0M546.2 195.4h0M645.4 200.2h0M595.6 174.9h0M582.1 174.1h0M580.3 172.4h0M596.0 173.1h0M628.6 175.7h0M648.5 198.0h0M594.4 185.5h0M648.1 196.7h0M567.0 178.2h0M625.1 174.8h0M603.1 166.0h0M577.3 173.7h0M645.9 192.5h0M538.3 203.4h0M584.4 167.0h0M577.1 200.1h0M635.9 189.8h0M648.4 195.9h0M607.8 192.1h0M582.4 190.4h0M587.0 175.5h0M567.1 196.0h0M587.6 183.3h0M608.5 180.7h0M572.4 177.0h0M638.5 196.4h0M657.1 193.6h0M586.5 179.4h0M592.4 170.6h0M579.9 175.1h0M628.9 186.9h0M581.7 191.3h0M558.1 188.0h0M576.3 171.0h0M626.5 171.3h0M623.9 174.8h0M644.3 189.6h0M581.7 168.4h0M596.3 181.6h0M598.8 198.9h0M556.8 195.1h0M640.2 184.6h0M560.2 199.5h0M590.9 183.6h0M564.7 190.0h0M551.0 192.6h0M624.7 168.9h0M617.2 204.6h0M565.9 179.1h0M636.7 190.4h0M606.0 193.2h0M546.1 196.5h0M605.0 182.3h0M666.8 201.7h0M603.1 177.9h0M557.3 197.6h0M571.4 173.6h0M621.7 191.9h0M581.1 167.7h0M605.4 180.5h0M583.5 175.6h0M615.4 177.3h0M554.6 189.4h0M652.0 190.9h0M624.1 189.3h0M660.5 196.5h0M562.6 198.1h0M575.1 192.4h0M586.0 198.7h0M574.0 171.0h0M641.7 187.7h0M616.6 182.3h0M564.7 183.8h0M562.3 186.1h0M604.9 175.5h0M611.3 171.2h0M561.2 188.3h0M545.0 200.7h0M627.3 172.5h0M580.6 171.0h0M592.8 178.2h0M584.4 185.2h0M610.3 194.5h0M589.6 198.7h0M607.2 196.6h0M621.8 202.1h0M567.0 183.0h0M554.6 195.9h0M579.2 183.1h0M567.6 196.5h0M655.0 192.8h0M585.9 176.0h0M584.4 165.9h0M621.5 194.9h0M613.0 200.7h0M586.9 163.9h0M578.2 184.7h0M602.7 178.3h0M586.9 195.5h0M573.8 189.9h0M612.1 182.9h0M603.2 176.4h0M649.7 191.8h0M575.6 169.8h0M560.6 196.2h0M579.7 191.5h0M618.9 175.7h0M618.7 203.9h0M570.4 187.5h0M611.0 188.9h0M643.2 187.7h0M618.0 189.0h0M629.2 184.3h0M619.6 173.5h0M562.5 187.3h0M575.0 173.9h0M602.5 184.4h0M557.4 197.0h0M583.3 165.6h0M600.1 175.7h0M573.4 184.5h0M548.9 199.6h0M590.5 182.8h0M560.1 194.6h0M588.5 176.7h0M572.8 177.7h0M578.9 169.1h0M625.9 166.8h0M624.1 191.7h0M585.3 169.9h0M597.1 173.9h0M544.7 196.3h0M580.1 185.7h0M589.0 179.4h0M590.2 167.8h0M657.5 203.1h0M559.3 184.4h0M622.0 186.0h0M574.3 176.3h0M579.6 189.5h0M600.6 164.9h0M592.5 194.7h0M583.5 176.5h0M545.4 201.1h0M571.3 187.3h0M567.8 181.9h0M578.2 183.2h0M641.8 197.8h0M555.7 202.2h0M580.5 168.2h0M587.6 198.2h0M597.8 204.2h0M570.7 183.6h0M570.3 174.0h0M606.5 170.9h0M583.2 169.1h0M552.8 196.7h0M548.6 198.8h0M614.4 202.4h0M557.8 193.2h0M616.0 159.5h0M617.1 199.9h0M553.9 204.4h0M630.6 187.7h0M633.0 186.7h0M644.3 196.5h0M613.9 198.0h0M574.9 176.4h0M618.7 193.6h0M627.3 204.7h0M540.6 202.4h0M589.2 201.5h0M604.3 180.2h0M620.4 185.4h0M613.9 180.7h0M632.5 199.1h0M600.5 178.5h0M603.6 194.6h0M555.5 188.3h0M614.4 164.3h0M587.8 180.8h0M584.7 176.6h0M589.3 190.9h0M548.0 203.9h0M594.2 196.1h0M617.4 168.5h0M562.9 180.9h0M567.1 203.1h0M638.4 184.7h0M627.9 189.4h0M556.8 191.3h0M633.6 194.4h0M579.4 196.3h0M559.0 198.0h0M578.4 183.6h0M581.4 175.8h0M607.1 174.7h0M563.7 190.9h0M586.9 182.4h0M592.0 175.8h0M559.2 200.0h0M623.6 186.2h0M624.1 183.8h0M585.7 177.6h0M568.3 188.6h0M562.7 196.2h0M561.4 199.7h0M583.5 200.4h0M622.4 180.2h0M560.5 189.7h0M618.3 174.3h0M596.9 179.4h0M661.8 196.7h0M606.6 199.4h0M557.6 194.6h0M591.5 180.9h0M579.7 182.7h0M544.4 202.9h0M572.0 203.3h0M634.1 190.2h0M613.0 169.3h0M539.9 201.0h0M567.8 197.3h0M581.1 175.8h0M579.0 193.1h0M580.6 168.6h0M571.0 186.3h0M632.9 178.7h0M563.5 189.8h0M578.9 179.1h0M568.9 183.0h0M647.3 186.3h0M587.9 183.2h0M621.3 194.9h0M577.8 170.3h0M650.8 203.3h0M583.8 203.3h0M615.5 169.6h0M599.3 154.8h0M593.6 178.7h0M576.8 196.9h0M601.0 178.3h0M566.5 189.5h0M614.6 187.8h0M566.7 182.9h0M560.6 198.8h0M549.2 192.5h0M602.8 191.4h0M604.3 177.8h0M583.9 166.6h0M611.0 188.2h0M549.3 203.2h0M602.7 175.7h0M620.6 180.4h0M626.3 201.5h0M604.9 182.3h0M620.1 165.1h0M592.1 186.2h0M584.9 163.9h0M608.2 149.3h0M589.3 200.6h0M628.0 173.7h0M599.8 179.0h0M578.1 170.4h0M622.2 164.0h0M647.8 189.6h0M567.0 181.4h0M629.5 176.9h0M611.2 186.6h0M582.5 183.9h0M591.0 182.2h0M645.1 201.2h0M567.7 176.2h0M623.8 174.6h0M572.2 180.3h0M570.6 186.1h0M578.1 180.7h0M651.2 205.2h0M574.6 178.8h0M568.9 176.0h0M568.0 182.8h0M584.0 167.6h0M540.7 200.2h0M585.5 166.0h0M577.5 187.5h0M597.2 175.1h0M654.1 195.4h0M574.6 174.9h0M643.7 191.4h0M555.3 204.5h0M545.7 200.0h0M591.1 164.1h0M577.2 174.1h0M605.5 175.3h0M556.5 188.7h0M584.9 171.9h0M566.8 187.4h0M619.8 176.7h0M612.1 170.6h0M553.9 196.8h0M544.7 199.6h0M600.7 170.0h0M601.5 161.2h0M644.6 189.0h0M628.4 182.9h0M605.6 192.3h0M635.1 200.1h0M538.8 201.8h0M608.2 190.0h0M624.2 180.8h0M601.2 185.8h0M585.6 183.2h0M641.1 187.5h0M587.0 169.2h0M631.2 178.2h0M596.1 171.5h0M561.0 191.3h0M568.8 177.6h0M610.6 179.5h0M551.2 194.9h0M651.5 200.9h0M546.9 198.5h0M553.0 199.2h0M631.9 198.2h0M581.4 179.8h0M583.2 163.5h0M632.2 190.5h0M576.5 173.8h0M554.5 194.1h0M568.8 203.2h0M640.4 189.0h0M637.3 187.4h0M575.4 174.9h0M581.5 170.6h0M575.7 183.4h0M594.9 192.1h0M597.0 185.4h0M574.4 191.8h0M647.4 191.5h0M622.6 184.9h0M580.7 195.2h0M566.6 192.2h0M579.1 169.0h0M623.3 164.3h0M563.1 195.3h0M580.9 194.9h0M596.3 179.5h0M564.8 184.0h0M577.5 171.6h0M602.1 187.9h0M623.2 180.8h0M643.1 181.5h0M615.1 168.9h0M558.6 183.9h0M605.8 190.3h0M561.6 191.0h0M622.3 191.7h0M633.3 174.0h0M591.6 173.7h0M563.3 189.1h0M629.1 187.0h0M573.3 171.7h0M589.1 163.2h0M613.2 182.7h0M574.1 173.3h0M568.8 182.8h0M596.4 167.5h0M573.3 181.1h0M589.5 178.5h0M591.4 203.1h0M581.4 174.0h0M611.2 175.0h0M632.0 198.5h0M605.6 185.4h0M646.9 187.8h0M644.6 191.9h0M616.0 164.2h0M630.0 174.8h0M579.5 190.7h0M600.5 172.5h0M664.7 200.5h0M596.4 174.3h0M603.9 186.3h0M595.2 177.7h0M638.5 199.0h0M584.6 190.7h0M589.9 185.0h0M562.7 192.9h0M587.1 163.8h0M611.5 172.1h0M577.8 179.7h0M566.0 188.7h0M609.1 177.9h0M613.3 180.7h0M640.8 190.3h0M623.3 200.1h0M644.8 195.7h0M590.6 186.2h0M609.0 177.6h0M588.6 179.8h0M617.3 175.3h0M615.5 182.4h0M571.2 175.6h0M636.9 177.6h0M616.5 187.7h0M597.9 183.5h0M604.3 187.2h0M604.7 174.9h0M564.0 189.4h0M565.6 195.8h0M568.7 181.4h0M579.8 177.7h0M609.2 180.6h0M589.0 176.4h0M545.3 199.7h0M561.0 182.2h0M623.7 205.2h0M590.9 175.1h0M550.7 194.4h0M600.2 178.7h0M561.4 184.2h0M591.4 187.6h0M556.6 199.6h0M541.6 202.3h0M574.9 187.0h0M634.8 174.7h0M585.5 188.0h0M588.6 195.5h0M609.4 164.8h0M586.3 190.4h0M613.7 167.0h0M600.6 178.3h0M620.6 179.7h0M607.1 171.2h0M601.9 188.6h0M596.6 195.3h0M631.3 196.1h0M557.2 187.1h0M654.3 194.9h0M571.5 196.1h0M572.0 180.8h0M565.5 185.4h0M601.4 196.3h0M577.0 201.5h0M573.8 190.7h0M639.5 193.4h0M617.4 193.1h0M632.0 171.6h0M563.2 195.3h0M620.2 196.7h0M591.0 177.3h0M628.9 184.6h0M615.9 172.5h0M622.3 192.6h0M616.3 173.3h0M562.9 190.8h0M632.1 176.8h0M596.4 178.0h0M556.7 186.3h0M645.5 184.2h0M570.6 186.3h0M579.0 169.0h0M593.0 170.7h0M635.9 182.5h0M657.3 202.3h0M634.8 178.9h0M601.9 183.0h0M607.8 197.2h0M599.3 192.6h0M661.6 198.3h0M608.6 171.9h0M598.1 183.4h0M649.8 195.8h0M649.2 203.3h0M592.6 189.6h0M574.4 189.5h0M653.9 196.2h0M558.4 199.1h0M539.9 202.6h0M609.7 185.1h0M592.6 190.7h0M631.0 199.7h0M578.2 171.0h0M625.6 184.7h0M656.8 199.1h0M626.9 194.3h0M624.5 191.8h0M568.9 196.4h0M577.6 168.4h0M538.3 202.5h0M613.4 195.1h0M555.1 188.5h0M620.0 172.2h0M587.4 183.2h0M550.3 204.9h0M580.4 181.5h0M638.1 192.2h0M564.7 179.5h0M625.3 167.6h0M555.7 192.9h0M575.1 171.2h0M600.9 197.8h0M578.0 184.7h0M593.3 176.8h0M655.2 192.4h0M575.1 171.8h0M599.0 189.8h0M600.9 181.6h0M591.0 195.1h0M563.2 185.9h0M608.3 173.2h0M586.7 175.3h0M626.3 188.2h0M590.5 178.7h0M551.0 193.8h0M579.0 202.0h0M578.1 169.9h0M611.5 167.5h0M545.6 195.6h0M601.1 181.5h0M581.4 171.9h0M591.3 177.2h0M642.6 180.7h0M592.4 165.0h0M577.2 178.0h0M555.7 194.7h0M622.1 181.3h0M608.1 189.7h0M578.9 184.7h0M580.8 175.3h0M650.6 188.0h0M560.4 182.8h0M563.5 184.4h0M580.4 173.8h0M611.0 178.1h0M548.8 192.9h0M622.3 186.2h0M610.7 188.6h0M648.5 191.1h0M572.7 184.2h0M549.8 197.2h0M631.1 191.5h0M641.3 196.6h0M602.6 165.7h0M592.3 168.8h0M626.9 169.0h0M587.6 162.8h0M624.0 168.2h0M603.8 163.8h0M622.9 171.6h0M589.9 160.3h0M612.2 186.8h0M630.8 181.9h0M569.3 186.1h0M549.5 191.7h0M593.5 198.0h0M568.3 188.4h0M598.9 147.9h0M539.0 202.6h0M574.9 178.1h0M560.4 203.1h0M633.8 174.6h0M669.2 204.5h0M618.1 179.7h0M573.0 172.5h0M636.6 178.2h0M596.5 186.5h0M602.1 165.4h0M612.6 187.4h0M614.2 180.1h0M572.6 178.1h0M653.2 190.5h0M571.4 183.9h0M642.4 189.8h0M616.3 187.8h0M576.6 169.2h0M645.8 185.9h0M594.4 166.9h0M582.1 166.5h0M609.5 177.8h0M586.4 173.6h0M617.2 183.1h0M556.8 189.7h0M598.3 172.9h0M580.8 180.4h0M626.8 193.8h0M577.9 177.7h0M593.5 167.3h0M621.5 182.8h0M574.6 177.8h0M576.9 175.5h0M632.6 198.4h0M570.3 176.4h0M600.2 170.5h0M612.9 191.8h0M581.1 184.4h0M596.2 170.3h0M592.2 200.7h0M547.6 194.5h0M584.1 197.5h0M576.3 180.5h0M566.7 180.5h0M564.7 183.1h0M615.5 164.3h0M584.2 163.6h0M555.0 190.9h0M599.3 165.4h0M606.2 163.8h0M600.0 173.5h0M638.5 182.0h0M622.8 177.8h0M643.5 204.1h0M646.2 194.5h0M611.9 189.5h0M616.4 190.8h0M639.0 179.0h0M564.0 179.7h0M578.0 182.8h0M603.0 145.8h0M584.9 193.4h0M569.4 187.9h0M558.1 184.4h0M628.6 178.8h0M658.6 203.0h0M543.6 204.9h0M579.1 167.8h0M599.2 179.6h0M583.0 183.5h0M591.2 189.9h0M638.2 195.2h0M548.3 193.4h0M582.4 174.3h0M598.5 185.0h0M558.0 196.2h0M558.1 186.5h0M587.2 190.5h0M619.5 176.6h0M543.2 199.4h0M589.5 188.9h0M547.5 193.4h0M623.0 192.3h0M591.5 176.0h0M568.6 194.0h0M624.4 174.5h0M567.6 178.5h0M633.8 190.6h0M612.4 154.2h0M622.2 188.1h0M590.9 186.8h0M571.4 185.5h0M588.5 204.1h0M616.8 181.6h0M580.5 176.4h0M543.4 200.6h0M596.5 178.5h0M582.0 164.6h0M655.6 195.3h0M632.6 179.0h0M613.9 179.0h0M624.5 176.8h0M561.0 195.5h0M601.9 184.6h0M628.9 191.5h0M635.4 181.3h0M661.6 200.3h0M621.8 192.3h0M558.5 202.1h0M635.8 193.5h0M615.8 192.0h0M585.9 163.6h0M583.8 178.4h0M539.9 201.5h0M610.2 202.1h0M607.5 202.1h0M627.1 170.4h0M573.5 184.5h0M584.2 180.0h0M563.9 188.7h0M669.1 203.4h0M619.0 176.9h0M541.8 200.5h0M618.0 186.7h0M594.6 187.1h0M579.2 178.5h0M665.9 202.4h0M582.9 176.2h0M578.2 198.6h0M610.7 201.8h0M606.0 165.0h0M585.7 199.3h0M598.0 176.2h0M644.4 186.3h0M555.5 194.5h0M575.0 171.4h0M558.7 191.0h0M583.4 181.1h0M581.4 175.0h0M582.6 170.4h0M641.6 186.0h0M581.9 175.9h0M573.9 172.5h0M618.7 184.2h0M585.7 166.3h0M579.3 191.0h0M587.9 178.6h0M578.5 169.1h0M582.0 195.8h0M586.2 173.0h0M616.0 175.8h0M577.9 197.3h0M573.2 176.5h0M581.2 164.9h0M614.4 177.7h0M625.5 172.2h0M614.4 193.3h0M607.0 168.6h0M558.6 197.9h0M593.9 192.6h0M552.4 190.7h0M595.3 198.5h0M586.6 192.5h0M574.1 171.0h0M641.6 179.7h0M540.3 202.0h0M617.0 181.8h0M576.1 171.6h0M575.2 176.3h0M608.3 181.7h0M578.8 202.1h0M582.1 181.0h0M558.5 192.5h0M548.6 193.0h0M599.6 169.5h0M543.8 196.9h0M620.8 191.8h0M597.2 171.6h0M562.2 187.7h0M582.5 166.9h0M592.7 177.8h0M545.1 198.0h0M601.9 196.9h0M613.0 174.6h0M555.4 200.5h0M621.6 183.9h0M595.0 164.9h0M575.1 182.3h0M559.5 187.6h0M633.7 180.3h0M617.5 174.4h0M603.3 197.3h0M643.9 185.9h0M572.0 205.2h0M609.3 183.5h0M596.2 192.2h0M635.3 194.7h0M582.2 193.7h0M608.7 167.1h0M569.1 196.1h0M599.8 185.8h0M659.8 198.1h0M606.6 174.2h0M592.5 195.3h0M596.8 198.6h0M582.8 178.3h0M563.0 199.2h0M562.2 184.7h0M605.9 197.9h0M543.0 200.4h0M643.3 202.4h0M599.4 190.8h0M657.4 194.5h0M599.1 193.4h0M618.5 174.2h0M594.3 187.2h0M558.8 196.1h0M616.4 173.0h0M564.9 181.0h0M604.5 195.6h0M586.9 164.5h0M572.8 185.2h0M610.4 203.4h0M621.9 189.5h0M605.1 196.8h0M631.2 204.7h0M590.1 181.9h0M582.3 186.3h0M594.2 177.5h0M584.0 163.3h0M600.1 193.4h0M550.0 195.4h0M578.9 179.2h0M557.2 187.7h0M587.6 171.0h0M654.6 193.0h0M547.6 194.3h0M646.7 184.5h0M618.4 177.8h0M615.9 160.4h0M564.0 205.1h0M555.5 199.9h0M562.8 190.3h0M588.6 181.5h0M551.9 203.0h0M592.4 177.5h0M612.2 164.3h0M608.8 160.3h0M618.9 169.0h0M617.9 200.1h0M627.1 202.9h0M586.1 189.6h0M630.1 171.4h0M596.2 167.4h0M628.1 168.7h0M589.0 158.8h0M560.6 188.0h0M576.6 190.4h0M546.2 195.9h0M640.1 180.5h0M596.5 173.4h0M576.3 172.7h0M585.7 178.4h0M561.7 196.2h0M578.9 185.4h0M585.1 174.6h0M569.1 179.7h0M615.4 162.7h0M556.3 196.5h0M612.5 188.3h0M566.9 190.6h0M656.0 199.1h0M557.5 185.9h0M538.8 201.5h0M615.3 198.4h0M595.2 198.1h0M623.1 180.3h0M615.4 196.3h0M540.7 200.7h0M558.1 204.2h0M619.8 198.4h0M606.7 169.4h0M593.1 174.8h0M547.2 194.6h0M547.9 193.6h0M576.3 185.6h0M596.9 172.8h0M653.5 202.8h0M560.4 193.1h0M560.5 185.2h0M647.6 188.1h0M634.0 180.7h0M594.3 181.8h0M566.2 184.6h0M578.1 173.0h0M608.3 176.2h0M614.3 172.3h0M600.1 161.3h0M557.7 192.4h0M563.5 186.7h0M632.7 182.1h0M639.1 193.2h0M581.2 185.2h0M582.2 165.9h0M542.0 198.1h0M594.4 200.6h0M603.0 174.9h0M576.6 168.5h0M619.4 192.5h0M615.5 172.9h0M567.1 199.8h0M557.5 186.6h0M612.5 176.4h0M637.6 183.9h0M610.0 175.2h0M580.9 184.0h0M608.3 179.8h0M624.0 181.7h0M629.9 185.0h0M583.0 176.5h0M583.9 173.2h0M608.6 163.6h0M589.0 201.9h0M588.2 161.5h0M600.4 178.6h0M569.0 187.9h0M605.3 174.7h0M639.7 181.6h0M617.3 193.6h0M556.5 186.7h0M615.6 203.8h0M617.0 203.7h0M561.0 188.3h0M593.5 197.0h0M622.0 172.8h0M569.0 180.8h0M612.8 195.8h0M628.6 169.6h0M620.3 172.2h0M549.4 199.7h0M544.5 198.8h0M637.8 180.7h0M582.6 167.2h0M581.3 165.6h0M597.8 166.4h0M625.3 169.1h0M617.7 182.1h0M633.2 198.9h0M636.5 175.8h0M595.0 172.8h0M577.2 187.4h0M638.2 200.5h0M597.6 173.7h0M561.8 191.3h0M603.4 187.8h0M589.8 165.8h0M641.6 193.3h0M570.1 178.7h0M619.0 172.9h0M580.7 178.4h0M595.5 194.5h0M596.7 176.9h0M661.2 196.2h0M560.8 182.7h0M628.4 171.1h0M540.5 200.9h0M661.8 199.9h0M619.0 167.8h0M587.4 173.6h0M571.5 189.7h0M622.9 191.6h0M572.1 192.5h0M610.0 190.0h0M556.1 190.6h0M558.1 198.1h0M624.1 187.4h0M583.5 200.4h0M589.8 168.0h0M622.1 169.4h0M574.3 180.9h0M576.9 171.8h0M617.4 199.6h0M589.2 200.7h0M597.9 189.5h0M580.3 175.7h0M610.5 180.6h0M617.7 181.4h0M651.3 201.2h0M591.8 169.3h0M615.4 174.8h0M546.3 199.3h0M610.9 183.2h0M548.4 204.8h0M632.3 173.2h0M631.2 198.1h0M597.8 173.5h0M610.1 197.8h0M621.8 183.1h0M537.9 202.8h0M578.5 190.2h0M655.5 200.7h0M627.2 180.7h0M581.8 165.3h0M588.2 164.5h0M584.6 179.0h0M576.5 176.9h0M622.0 200.7h0M609.6 171.1h0M591.6 196.4h0M585.8 170.6h0M584.5 174.9h0M566.4 201.9h0M626.2 185.4h0M585.6 168.8h0M583.1 173.0h0M589.7 171.9h0M628.3 169.2h0M573.3 173.9h0M622.1 181.5h0M590.4 172.2h0M577.1 169.2h0M570.0 185.7h0M575.8 169.2h0M607.9 176.0h0M584.3 167.0h0M636.1 194.5h0M580.7 166.0h0M632.5 186.3h0M597.1 175.1h0M660.8 202.1h0M574.9 197.3h0M627.6 181.9h0M575.7 181.1h0M601.7 182.2h0M607.7 188.2h0M609.2 169.2h0M574.8 190.7h0M632.6 198.6h0M617.8 171.5h0M651.1 188.0h0M565.9 179.7h0M597.8 173.9h0M591.3 154.9h0M619.0 194.5h0M584.5 195.4h0M546.6 197.0h0M613.0 182.9h0M630.5 186.8h0M583.7 177.4h0M582.6 185.8h0M589.4 194.0h0M622.4 179.4h0M606.4 181.9h0M583.7 182.9h0M583.6 189.4h0M586.1 197.0h0M554.0 201.6h0M614.9 198.0h0M603.1 175.2h0M594.5 191.7h0M620.8 197.4h0M565.1 196.3h0M640.8 179.3h0M573.9 178.1h0M554.3 198.5h0M572.0 193.4h0M550.5 199.7h0M601.8 181.3h0M607.3 164.5h0M551.7 196.5h0M580.8 194.1h0M598.2 202.5h0M646.0 203.4h0M575.1 180.7h0M554.3 188.4h0M567.8 176.4h0M587.6 163.2h0M576.8 176.8h0M666.6 201.4h0M603.0 165.5h0M616.1 163.9h0M555.3 191.8h0M627.8 201.1h0M568.8 175.4h0M615.4 172.7h0M648.2 189.9h0M660.1 197.4h0M585.9 169.6h0M565.1 199.0h0M571.2 186.3h0M581.2 174.7h0M588.4 165.0h0M661.0 196.7h0M596.1 191.7h0M641.4 204.4h0M663.0 202.7h0M558.5 196.1h0M587.1 169.9h0M592.7 173.7h0M554.8 197.9h0M569.1 193.5h0M581.8 171.6h0M587.5 166.1h0M554.4 195.2h0M583.7 180.5h0M565.4 194.3h0M583.1 175.3h0M605.0 195.3h0M610.8 164.8h0M594.2 166.8h0M578.9 174.4h0M562.6 189.3h0M545.6 195.2h0M629.4 197.2h0M583.1 171.6h0M608.7 181.8h0M572.4 187.4h0M595.4 194.1h0M607.6 190.0h0M600.1 183.6h0M572.2 191.1h0M567.3 178.3h0M625.4 185.4h0M630.6 170.6h0M614.8 184.6h0M564.1 199.8h0M663.9 200.9h0M550.6 203.0h0M578.7 174.1h0M557.3 191.1h0M615.6 181.5h0M550.7 194.8h0M552.7 194.5h0M556.3 196.3h0M642.6 187.3h0M603.8 181.8h0M640.7 205.1h0M585.0 174.4h0M562.9 181.2h0M643.5 202.8h0M590.4 173.7h0M585.1 168.1h0M630.5 182.4h0M630.1 182.8h0M610.3 187.8h0M574.9 183.4h0M650.3 202.8h0M623.1 165.9h0M596.4 180.0h0M620.1 169.4h0M564.3 186.2h0M611.5 198.0h0M583.5 181.4h0M617.4 174.5h0M566.6 182.3h0M582.7 165.7h0M645.6 202.9h0M591.3 204.0h0M633.0 186.9h0M575.3 179.1h0M554.4 197.6h0M597.7 180.7h0M560.1 190.4h0M631.5 199.3h0M630.6 172.4h0M575.3 170.2h0M586.2 168.8h0M624.6 183.1h0M608.5 175.6h0M645.2 204.6h0M644.2 194.2h0M637.1 176.0h0M585.9 171.1h0M593.4 184.8h0M589.0 196.8h0M545.5 195.7h0M564.6 199.5h0M631.1 183.6h0M623.7 183.8h0M601.7 173.9h0M563.2 202.9h0M588.5 178.2h0M568.0 185.5h0M577.3 200.4h0M609.0 161.9h0M557.5 188.1h0M608.5 190.2h0M556.0 190.0h0M571.6 178.4h0M614.6 183.0h0M591.7 199.4h0M604.6 195.1h0M592.1 169.2h0M559.5 188.2h0M570.9 194.8h0M616.7 178.9h0M644.7 185.6h0M555.5 187.5h0M615.5 188.5h0M604.6 181.7h0M583.4 175.8h0M586.2 203.2h0M556.6 203.7h0M573.5 176.1h0M618.4 178.5h0M631.0 189.4h0M645.1 183.4h0M611.3 196.8h0M641.6 180.8h0M565.1 186.2h0M642.5 190.1h0M603.1 191.6h0M612.8 167.7h0M589.6 166.4h0M630.0 179.4h0M555.3 192.1h0M562.6 187.3h0M557.4 197.8h0M575.9 192.7h0M600.7 173.4h0M651.8 195.4h0M631.9 193.1h0M592.7 163.2h0M628.7 170.5h0M621.4 194.9h0M561.4 189.9h0M550.5 193.2h0M616.2 183.5h0M609.3 185.6h0M589.7 181.3h0M563.6 191.2h0M548.0 197.8h0M563.5 182.9h0M599.6 191.8h0M601.6 185.2h0M625.6 197.9h0M619.2 191.2h0M569.4 191.0h0M551.0 199.7h0M612.5 168.3h0M660.9 198.5h0M607.1 169.5h0M552.9 191.0h0M584.8 170.8h0M632.6 200.5h0M644.9 187.2h0M565.9 181.2h0M590.5 184.8h0M558.9 204.1h0M595.5 165.3h0M562.2 184.9h0M600.1 192.2h0M607.3 174.5h0M556.4 204.3h0M585.3 183.8h0M612.9 170.5h0M546.5 196.8h0M604.4 194.7h0M583.2 171.6h0M584.7 167.8h0M660.1 200.7h0M609.4 187.5h0M590.5 166.1h0M553.5 204.3h0M648.1 192.7h0M564.6 187.4h0M623.1 182.0h0M572.2 185.2h0M574.0 171.3h0M586.9 186.8h0M562.6 187.6h0M612.8 160.5h0M651.4 193.6h0M624.2 173.6h0M554.6 194.3h0M614.7 197.0h0M584.2 193.6h0M625.1 180.8h0M609.6 174.4h0M556.7 194.9h0M648.6 203.5h0M546.2 197.8h0M570.5 202.2h0M583.5 163.0h0M584.6 163.1h0M649.9 202.0h0M596.9 191.3h0M604.4 186.6h0M607.9 169.7h0M670.3 204.1h0M617.0 198.9h0M580.1 173.2h0M621.4 187.4h0M550.8 197.5h0M590.2 186.5h0M566.0 200.3h0M629.6 186.2h0M592.9 174.9h0M631.7 175.5h0M539.7 200.3h0M607.0 180.4h0M587.1 163.5h0M637.7 190.1h0M578.5 173.6h0M628.3 184.3h0M611.0 153.5h0M608.4 187.7h0M611.3 179.8h0M571.4 175.0h0M571.3 174.5h0M559.1 193.9h0M613.2 183.0h0M553.2 193.5h0M649.5 195.9h0M607.2 199.5h0M660.6 197.0h0M627.7 174.9h0M635.4 187.2h0M590.6 181.2h0M600.6 169.2h0M561.4 197.1h0M568.0 193.9h0M612.4 171.7h0M578.3 197.9h0M565.4 180.1h0M608.9 196.2h0M562.9 180.3h0M634.6 182.3h0M588.1 177.5h0M589.5 172.4h0M615.9 199.6h0M623.2 182.1h0M587.9 191.9h0M615.8 180.6h0M584.8 164.5h0M549.3 201.0h0M643.2 196.1h0M655.6 194.0h0M645.5 195.4h0M556.5 190.3h0M556.6 188.6h0M652.7 202.7h0M612.4 203.5h0M570.2 198.7h0M611.5 192.2h0M592.2 174.2h0M557.3 198.0h0M627.8 169.2h0M628.7 171.7h0M584.8 173.5h0M570.8 186.2h0M544.5 199.9h0M571.4 176.3h0M582.4 166.9h0M615.8 158.2h0M587.6 167.4h0M557.8 185.0h0M613.5 169.4h0M658.6 196.6h0M614.3 162.6h0M549.2 198.3h0M584.1 164.5h0M584.2 196.4h0M618.8 188.7h0M599.8 168.1h0M631.0 171.5h0M645.0 199.2h0M547.6 201.1h0M631.3 185.4h0M580.6 169.3h0M626.2 173.1h0M583.3 178.6h0M630.6 185.6h0M566.7 202.8h0M552.8 191.3h0M632.9 183.0h0M549.7 193.1h0M565.3 181.3h0M582.6 178.5h0M610.8 181.9h0M567.3 180.5h0M638.7 187.9h0M551.8 198.1h0M566.8 185.2h0M596.5 188.9h0M620.5 205.2h0M597.0 186.7h0M629.3 195.9h0M615.4 161.4h0M623.6 178.1h0M580.4 171.4h0M645.1 192.9h0M660.4 196.9h0M612.5 173.2h0M577.4 169.9h0M564.1 184.7h0M563.6 180.6h0M621.5 180.5h0M567.3 185.0h0M647.1 186.9h0M661.9 199.8h0M579.3 187.2h0M577.8 178.7h0M586.5 170.7h0M636.7 187.9h0M589.7 164.8h0M572.1 175.1h0M591.5 174.0h0M581.6 171.2h0M626.4 190.6h0M599.3 191.6h0M613.9 154.1h0M592.7 178.6h0M602.0 182.6h0M632.1 202.5h0M625.5 186.3h0M628.6 198.2h0M612.7 201.0h0M579.5 176.7h0M576.0 183.9h0M584.8 167.1h0M615.7 172.9h0M595.8 186.4h0M619.2 179.9h0M578.6 191.1h0M558.0 187.3h0M581.9 190.0h0M566.1 188.4h0M607.1 189.4h0M573.8 175.5h0M617.8 162.2h0M581.3 164.5h0M609.3 184.2h0M616.5 188.9h0M615.7 163.8h0M591.9 190.7h0M578.1 185.1h0M592.0 180.3h0M604.0 185.5h0M553.2 192.8h0M575.0 191.8h0M587.5 164.9h0M602.0 179.7h0M571.8 200.6h0M645.4 190.5h0M596.4 202.5h0M577.1 200.1h0M594.7 201.5h0M603.4 187.4h0M604.4 199.1h0M574.8 182.4h0M645.3 189.4h0M584.0 204.7h0M554.1 192.2h0M547.4 193.7h0M577.6 172.3h0M616.9 183.1h0M569.3 183.6h0M653.9 195.1h0M599.5 199.0h0M589.6 175.2h0M598.1 167.4h0M583.8 180.6h0M551.2 198.3h0M562.4 180.8h0M575.4 183.0h0M617.4 165.6h0M589.9 170.3h0M580.4 171.2h0M583.2 172.6h0M610.1 180.9h0M560.8 186.9h0M590.0 167.4h0M565.8 200.9h0M610.8 174.1h0M616.9 193.1h0M556.2 188.2h0M542.3 198.1h0M588.5 168.9h0M602.8 181.0h0M568.8 177.5h0M582.6 166.8h0M599.4 185.8h0M612.9 173.4h0M559.0 184.3h0M605.7 177.6h0M581.9 173.0h0M639.5 201.0h0M579.7 166.0h0M575.8 173.3h0M638.9 184.1h0M612.0 174.5h0M643.6 205.1h0M601.1 184.6h0M585.8 179.9h0M606.6 182.2h0M587.9 178.5h0M566.5 188.0h0M583.8 193.6h0M595.7 181.4h0M594.1 184.6h0M642.7 185.5h0M651.4 198.9h0M609.1 174.3h0M591.2 164.2h0M580.5 167.4h0M569.4 198.5h0M586.6 168.0h0M614.0 166.3h0M620.5 194.7h0M583.8 166.0h0M622.1 167.4h0M583.8 191.3h0M582.7 168.2h0M561.0 184.6h0M545.0 196.0h0M544.6 204.1h0M604.9 181.2h0M644.5 195.8h0M620.1 190.1h0M601.9 188.9h0M577.7 183.0h0M631.8 196.8h0M573.8 173.4h0M547.0 194.5h0M630.5 193.0h0M587.3 188.2h0M567.2 193.2h0M624.9 200.9h0M610.9 204.8h0M589.0 175.0h0M600.8 187.5h0M582.3 173.1h0M594.8 182.7h0M597.5 178.8h0M586.8 163.5h0M583.3 175.8h0M615.6 163.2h0M582.8 169.0h0M565.7 184.2h0M539.2 200.6h0M637.3 186.0h0M621.7 170.7h0M643.6 181.3h0M612.2 174.5h0M616.7 184.7h0M574.8 174.2h0M586.6 197.0h0M645.0 183.7h0M590.1 167.2h0M582.2 187.0h0M615.1 176.3h0M549.3 194.2h0M598.1 181.3h0M572.1 175.9h0M638.1 192.8h0M578.5 187.8h0M623.6 197.4h0M652.8 195.8h0M575.4 171.2h0M623.0 199.3h0M586.3 193.2h0M661.5 203.0h0M574.1 193.9h0M582.3 172.2h0M568.2 188.1h0M617.1 184.5h0M550.9 195.6h0M661.5 201.5h0M628.0 201.9h0M585.3 166.6h0M572.6 205.3h0M611.0 189.9h0M640.3 182.8h0M567.1 195.1h0M621.4 167.0h0M607.3 184.5h0M577.0 197.5h0M555.0 198.8h0M601.5 195.1h0M603.5 176.9h0M615.4 191.9h0M590.7 166.3h0M590.7 167.6h0M597.5 198.1h0M557.9 204.8h0M624.5 168.8h0M560.7 201.2h0M650.6 193.2h0M566.8 191.6h0M657.0 197.6h0M576.7 187.4h0M609.0 186.0h0M619.6 172.1h0M579.5 175.4h0M596.4 182.5h0M581.0 181.1h0M572.4 172.4h0M620.9 179.4h0M605.0 164.2h0M594.3 174.4h0M585.7 163.8h0M583.1 189.2h0M571.4 179.1h0M547.8 195.6h0M556.6 191.6h0M650.6 191.3h0M557.3 186.1h0M575.3 172.3h0M565.6 195.7h0M558.5 200.0h0M620.6 197.4h0M634.7 190.0h0M625.1 189.6h0M637.3 187.4h0M602.1 171.5h0M580.1 172.1h0M592.7 178.6h0M594.4 177.3h0M603.8 194.0h0M632.5 195.7h0M603.1 180.5h0M600.2 197.3h0M581.9 188.7h0M612.2 162.9h0M579.8 169.4h0M594.6 196.7h0M564.7 179.0h0M648.1 191.1h0M595.5 196.7h0M606.3 191.4h0M596.1 174.7h0M598.3 196.7h0M597.6 163.5h0M615.0 177.0h0M582.8 182.9h0M580.1 169.0h0M564.9 200.0h0M577.4 184.0h0M635.8 193.9h0M664.9 199.6h0M612.9 165.1h0M630.9 176.7h0M632.3 181.8h0M572.4 184.4h0M640.6 185.3h0M588.7 185.8h0M579.2 169.5h0M615.2 185.2h0M611.2 205.2h0M595.6 166.8h0M557.8 197.2h0M587.3 167.3h0M556.0 197.8h0M617.1 179.9h0M558.2 193.3h0M538.0 203.3h0M588.5 184.8h0M648.3 189.3h0M578.5 177.0h0M581.0 168.4h0M563.4 191.7h0M614.6 195.9h0M593.2 175.0h0M651.9 194.9h0M577.8 201.0h0M623.5 178.4h0M596.9 169.4h0M589.6 173.7h0M558.9 200.8h0M580.5 199.9h0M619.6 201.3h0M605.5 180.0h0M570.3 197.1h0M544.4 200.6h0M628.0 181.9h0M628.0 172.3h0M666.6 202.9h0M563.6 187.0h0M587.2 186.4h0M556.6 194.5h0M605.7 192.8h0M544.1 204.7h0M620.7 199.0h0M594.4 175.2h0M592.5 180.4h0M550.0 194.6h0M598.2 179.0h0M546.5 197.0h0M565.5 189.8h0M621.5 170.0h0M618.1 183.2h0M631.9 178.7h0M572.1 188.9h0M568.2 178.2h0M586.0 183.1h0M608.6 185.9h0M618.1 168.3h0M599.6 197.3h0M618.8 194.5h0M625.1 177.2h0M621.1 177.8h0M587.1 168.6h0M556.7 186.0h0M650.7 189.8h0M578.9 184.1h0M614.7 172.7h0M590.4 180.8h0M625.8 169.9h0M564.4 190.4h0M637.7 179.2h0M573.7 191.9h0M557.9 192.9h0M569.3 189.2h0M557.7 200.4h0M572.1 183.0h0M612.0 181.9h0M630.7 187.6h0M575.0 177.2h0M574.4 171.5h0M605.7 190.2h0M606.1 170.1h0M585.2 181.2h0M654.6 191.9h0M559.8 189.7h0M587.3 171.8h0M613.6 164.9h0M603.4 173.4h0M624.5 171.0h0M621.7 175.6h0M559.0 190.3h0M541.9 199.5h0M603.7 183.9h0M580.2 169.6h0M638.7 201.6h0M575.5 171.3h0M580.3 191.9h0M537.6 201.8h0M536.3 202.9h0M598.1 201.3h0M563.6 181.1h0M548.3 198.7h0M606.1 194.5h0M601.9 198.8h0M609.2 180.3h0M638.2 193.2h0M630.8 173.5h0M581.3 178.6h0M663.2 198.9h0M573.9 180.1h0M603.2 177.1h0M599.3 182.0h0M565.1 178.4h0M634.8 176.2h0M588.3 170.8h0M642.4 180.7h0M576.8 179.6h0M559.6 187.6h0M622.3 196.1h0M576.1 201.4h0M543.5 198.0h0M585.1 198.4h0M581.8 182.7h0M630.1 183.7h0M659.1 203.8h0M596.0 159.9h0M624.7 195.8h0M577.6 175.6h0M567.1 190.8h0M602.9 181.9h0M606.7 197.0h0M583.5 168.6h0M600.2 177.0h0M595.1 192.8h0M595.7 168.4h0M599.1 184.7h0M594.7 186.3h0M578.8 186.5h0M554.3 187.9h0M590.9 174.0h0M633.1 203.3h0M566.3 182.1h0M540.3 200.8h0M539.4 204.3h0M610.9 175.8h0M665.5 200.6h0M642.8 184.1h0M653.3 190.3h0M621.7 179.8h0M571.7 179.5h0M584.6 169.4h0M563.2 186.6h0M580.2 171.2h0M568.4 203.7h0M631.8 193.4h0M621.5 162.9h0M621.1 200.6h0M590.3 204.9h0M630.2 203.3h0M594.2 169.8h0M594.1 164.2h0M590.7 177.4h0M589.1 168.1h0M636.7 187.5h0M608.8 184.5h0M574.5 175.2h0M612.5 176.6h0M579.3 197.9h0M624.3 184.9h0M583.6 184.3h0M576.6 182.2h0M598.6 166.6h0M579.1 169.2h0M606.7 189.7h0M606.5 190.8h0M607.9 164.7h0M570.2 176.2h0M643.5 186.0h0M637.3 185.5h0M566.5 190.0h0M609.6 185.3h0M570.1 184.7h0M572.1 181.1h0M579.0 173.7h0M595.9 180.9h0M624.4 182.6h0M632.8 190.9h0M611.7 174.6h0M660.3 198.7h0M616.5 185.1h0M623.4 172.2h0M578.6 174.5h0M592.3 177.5h0M615.6 197.2h0M628.2 178.1h0M576.0 188.7h0M607.3 184.6h0M607.3 196.9h0M588.3 173.1h0M633.4 186.8h0M559.9 189.8h0M572.8 186.7h0M593.2 178.4h0M589.4 173.6h0M647.8 187.0h0M583.3 187.0h0M630.0 190.2h0M562.7 194.1h0M562.5 181.2h0M612.9 174.4h0M630.8 199.1h0M536.5 203.0h0M588.0 194.9h0M602.4 182.1h0M612.1 182.2h0M636.6 204.2h0M596.5 172.5h0M609.5 191.2h0M614.7 183.3h0M577.4 189.4h0M575.0 174.4h0M602.6 202.4h0M578.0 169.0h0M630.3 179.9h0M536.4 203.4h0M569.3 194.4h0M597.7 186.8h0M629.8 196.4h0M641.8 187.1h0M641.1 191.4h0M599.4 168.0h0M638.5 187.8h0M551.0 195.8h0M622.3 186.4h0M537.5 202.3h0M635.7 178.9h0M546.4 201.4h0M608.9 182.8h0M552.5 201.7h0M618.9 197.8h0M577.6 171.5h0M582.0 185.8h0M559.0 188.7h0M584.0 180.3h0M563.2 190.3h0M641.1 194.9h0M552.0 190.9h0M610.1 178.2h0M548.8 196.0h0M590.4 166.6h0M631.4 184.5h0M630.2 199.1h0M635.3 191.5h0M605.3 181.1h0M637.2 188.1h0M633.4 176.5h0M582.4 195.4h0M548.1 202.2h0M629.4 196.6h0M567.9 188.0h0M574.1 173.9h0M588.0 189.4h0M658.2 196.4h0M626.0 166.8h0M576.6 182.5h0M601.1 169.5h0M622.9 180.8h0M613.6 172.3h0M579.4 200.4h0M584.0 167.8h0M574.3 200.9h0M554.8 190.3h0M627.9 171.9h0M617.9 200.0h0M558.9 203.0h0M633.2 189.7h0M582.4 175.9h0M597.4 169.6h0M547.6 199.2h0M553.9 195.9h0M587.1 174.2h0M573.6 188.6h0M613.7 180.5h0M601.9 178.7h0M581.8 195.8h0M609.7 164.8h0M621.9 174.9h0M610.8 170.8h0M553.0 188.7h0M626.0 177.5h0M622.0 183.8h0M587.9 173.2h0M644.2 183.9h0M628.1 173.4h0M630.1 190.9h0M542.4 199.7h0M555.6 195.5h0M565.1 189.2h0M590.2 172.2h0M557.4 192.9h0M654.7 198.3h0M646.2 192.4h0M621.7 186.4h0M607.3 180.1h0M574.0 203.6h0M630.1 186.6h0M603.1 201.9h0M545.4 198.7h0M605.7 182.2h0M574.9 183.5h0M561.1 194.7h0M583.4 174.6h0M618.8 194.4h0M601.0 173.2h0M560.6 200.9h0M601.9 147.2h0M625.6 182.7h0M581.6 173.3h0M613.2 198.5h0M587.3 167.6h0M650.9 192.1h0M579.4 173.2h0M617.9 179.5h0M599.7 182.2h0M610.1 199.8h0M562.5 181.0h0M576.2 191.0h0M619.1 184.2h0M567.1 186.9h0M618.7 177.0h0M549.9 201.6h0M610.1 175.0h0M621.6 164.0h0M563.6 195.5h0M584.1 166.8h0M585.8 173.2h0M579.3 175.1h0M536.7 204.7h0M558.9 194.4h0M604.2 175.9h0M633.4 178.3h0M606.2 179.3h0M660.8 201.8h0M601.6 183.8h0M608.5 186.6h0M578.6 189.5h0M546.8 204.7h0M594.7 162.7h0M624.0 175.1h0M599.5 188.6h0M581.8 181.0h0M610.8 170.6h0M559.5 186.8h0M559.1 183.9h0M572.7 186.8h0M625.1 185.6h0M590.6 194.0h0M648.0 203.2h0M605.3 175.0h0M604.8 198.6h0M624.8 173.8h0M586.0 193.4h0M562.4 199.6h0M576.2 204.5h0M573.4 174.2h0M616.5 199.3h0M574.0 201.7h0M604.1 170.9h0M552.7 194.7h0M583.2 173.9h0M633.6 198.0h0M622.0 178.5h0M607.7 175.3h0M565.0 181.0h0M571.3 184.8h0M620.8 179.6h0M607.0 193.5h0M569.8 174.2h0M594.8 182.5h0M602.4 188.6h0M571.6 179.3h0M577.5 199.0h0M618.0 171.2h0M591.3 177.6h0M596.5 175.9h0M578.3 179.4h0M605.7 184.3h0M541.3 198.5h0M553.2 200.8h0M583.1 167.6h0M644.9 186.4h0M595.9 198.2h0M577.7 170.0h0M609.3 166.3h0M588.4 171.2h0M640.1 194.4h0M582.1 202.7h0M647.3 185.2h0M607.8 181.8h0M569.6 175.4h0M659.4 197.4h0M554.1 195.0h0M592.9 161.5h0M579.5 174.0h0M575.5 180.6h0M633.4 198.9h0M546.0 196.4h0M622.8 190.9h0M612.7 203.6h0M623.2 173.8h0M566.2 182.3h0M619.0 175.2h0M633.6 177.9h0M612.5 169.0h0M591.0 176.5h0M576.3 170.2h0M631.8 180.8h0M537.4 203.7h0M582.4 184.5h0M563.1 180.4h0M583.6 176.1h0M599.2 177.5h0M577.6 173.4h0M588.5 185.8h0M547.6 193.2h0M576.1 183.8h0M544.3 199.0h0M582.2 184.9h0M572.1 185.2h0M601.6 182.7h0M565.7 191.5h0M620.2 170.0h0M629.3 171.4h0M619.4 176.1h0M578.8 167.7h0M566.5 201.7h0M609.4 195.4h0M591.4 164.0h0M559.0 190.5h0M575.6 177.3h0M579.0 179.4h0M572.3 192.1h0M585.3 172.6h0M623.7 178.4h0M616.7 164.7h0M609.4 174.5h0M579.7 166.5h0M618.5 184.4h0M584.7 186.0h0M549.5 196.7h0M638.8 190.1h0M569.5 184.3h0M575.6 175.6h0M575.5 198.7h0M573.0 195.6h0M632.3 184.9h0M587.7 164.9h0M572.0 182.7h0M568.0 177.6h0M582.1 173.0h0M610.7 180.8h0M563.0 189.1h0M612.0 169.1h0M584.9 185.3h0M649.6 191.6h0M568.2 180.8h0M573.6 175.5h0M622.7 194.4h0M630.3 184.4h0M573.9 178.2h0M615.0 182.7h0M619.9 175.5h0M572.0 176.1h0M601.2 181.0h0M590.9 187.0h0M572.9 175.7h0M567.7 176.7h0M599.0 196.4h0M613.2 191.0h0M620.2 189.4h0M597.7 185.2h0M558.2 186.2h0M638.4 185.2h0M620.2 185.8h0M603.5 195.1h0M547.6 194.2h0M543.3 197.9h0M641.1 182.9h0M587.7 158.3h0M635.3 188.8h0M571.5 173.8h0M594.5 170.4h0M598.4 169.9h0M572.0 187.3h0M575.3 190.2h0M632.3 182.7h0M652.4 203.3h0M611.2 172.8h0M636.8 182.8h0M638.2 197.3h0M594.5 157.8h0M564.9 180.9h0M662.6 201.5h0M560.5 185.4h0M666.4 201.8h0M623.8 178.8h0M559.3 198.6h0M564.6 192.0h0M631.7 177.7h0M631.9 189.6h0M658.4 198.3h0M582.4 177.0h0M627.0 169.1h0M614.6 181.6h0M576.8 179.0h0M590.8 174.6h0M608.6 169.6h0M640.0 183.0h0M555.6 187.4h0M633.8 195.0h0M618.3 170.9h0M630.3 195.6h0M592.3 166.6h0M570.5 176.0h0M601.9 161.0h0M569.5 174.9h0M580.1 181.2h0M575.9 197.7h0M611.3 183.9h0M568.5 183.2h0M636.9 179.9h0M578.7 166.7h0M567.0 186.4h0M616.5 169.1h0M574.5 173.0h0M560.1 182.7h0M558.6 193.3h0M588.7 204.8h0M543.3 200.3h0M618.3 183.4h0M574.3 177.6h0M590.0 157.2h0M612.8 181.5h0M580.7 168.4h0M556.2 185.8h0M612.3 169.1h0M582.6 180.1h0M592.3 186.0h0M580.2 181.1h0M593.2 170.4h0M626.7 204.2h0M608.8 183.6h0M621.8 201.3h0M577.3 174.4h0M583.3 180.6h0M623.6 167.6h0M575.1 175.6h0M579.3 167.6h0M619.6 182.7h0M568.1 201.1h0M554.0 193.5h0M562.4 181.4h0M573.5 175.6h0M577.1 170.8h0M545.8 200.6h0M627.3 198.1h0M592.0 195.3h0M654.2 196.3h0M591.3 183.8h0M564.0 179.6h0M578.7 180.2h0M599.8 167.2h0M621.3 185.6h0M600.2 188.0h0M588.8 195.6h0M630.3 186.5h0M595.8 200.4h0M612.2 184.8h0M555.5 192.9h0M609.1 173.7h0M559.4 193.9h0M551.4 204.4h0M573.1 175.9h0M576.8 189.3h0M627.8 182.5h0M610.9 199.7h0M583.9 175.6h0M573.4 175.4h0M639.0 182.1h0M657.2 194.3h0M586.0 166.4h0M552.6 194.3h0M542.8 201.1h0M577.0 177.1h0M563.0 186.4h0M597.5 175.0h0M634.2 182.8h0M554.7 197.3h0M604.2 196.3h0M625.8 176.6h0M552.3 195.3h0M582.3 187.0h0M590.0 174.2h0M578.2 189.0h0M562.4 186.5h0M548.6 196.4h0M584.2 197.2h0M583.1 195.4h0M578.9 167.4h0M609.3 185.3h0M642.2 185.8h0M562.8 188.1h0M613.6 165.1h0M562.9 194.0h0M552.7 188.9h0M644.5 193.5h0M584.5 190.8h0M568.6 193.4h0M641.4 179.9h0M621.0 164.3h0M608.5 176.3h0M616.5 169.4h0M659.7 197.8h0M572.4 179.6h0M651.2 197.5h0M628.9 189.3h0M604.0 153.2h0M613.9 203.0h0M580.2 199.0h0M605.3 181.9h0M632.6 189.3h0M586.7 170.2h0M588.6 191.3h0M550.3 194.7h0M559.9 198.1h0M565.7 182.7h0M591.1 185.5h0M577.3 168.3h0M596.2 166.2h0M573.5 179.5h0M562.4 204.3h0M643.8 183.1h0M560.0 195.4h0M580.1 188.9h0M566.4 187.5h0M616.4 185.6h0M610.8 168.5h0M603.2 203.5h0M601.6 173.2h0M598.3 175.1h0M584.9 166.4h0M582.4 185.4h0M607.7 189.0h0M620.4 171.6h0M605.6 185.4h0M590.9 183.4h0M596.5 170.7h0M542.9 202.8h0M616.5 189.8h0M635.7 178.9h0M631.0 195.2h0M596.3 201.6h0M578.2 171.7h0M586.6 171.1h0M629.5 195.7h0M584.6 188.3h0M567.2 186.3h0M581.1 196.7h0M590.2 183.8h0M570.3 190.0h0M578.7 186.8h0M571.5 182.5h0M564.3 182.2h0M603.4 167.1h0M621.8 176.5h0M564.2 185.7h0M610.7 185.7h0M561.9 191.6h0M568.3 180.9h0M590.1 198.6h0M551.6 200.7h0M650.6 193.7h0M583.7 178.4h0M634.3 194.7h0M597.6 179.4h0M618.2 198.2h0M623.3 190.1h0M627.5 193.7h0M558.5 185.0h0M600.3 168.2h0M580.8 191.3h0M552.9 191.6h0M546.4 203.2h0M577.1 178.2h0M570.7 173.8h0M567.1 188.8h0M589.7 191.6h0M580.2 188.2h0M618.1 200.3h0M577.1 197.9h0M612.0 199.8h0M607.0 194.6h0M626.0 169.7h0M646.3 190.4h0M653.6 202.0h0M545.0 196.0h0M553.0 199.6h0M568.0 176.9h0M639.3 198.4h0M610.5 176.5h0M656.3 194.6h0M618.3 187.0h0M593.8 158.2h0M588.2 196.8h0M662.4 200.4h0M583.7 188.1h0M646.4 188.6h0M581.3 180.6h0M582.8 169.9h0M614.5 180.6h0M562.8 185.3h0M545.6 196.9h0M560.0 185.0h0M582.9 174.8h0M562.0 185.1h0M603.3 185.5h0M609.9 161.6h0M596.3 193.4h0M583.9 170.9h0M562.7 200.5h0M639.0 201.0h0M602.7 199.5h0M559.5 184.0h0M572.4 191.0h0M574.3 204.0h0M617.3 184.6h0M631.3 187.7h0M563.0 183.8h0M574.9 171.7h0M644.8 204.7h0M580.7 172.0h0M593.1 179.1h0M574.3 177.3h0M616.6 180.3h0M635.2 198.7h0M623.1 183.1h0M544.0 201.4h0M562.5 184.4h0M617.1 177.7h0M604.8 192.6h0M579.8 166.3h0M569.4 196.3h0M567.3 188.3h0M545.2 200.9h0M608.0 170.7h0M628.3 175.9h0M569.5 182.5h0M562.4 188.8h0M556.9 198.5h0M612.4 176.2h0M616.1 160.5h0M613.1 192.5h0M659.1 204.6h0M586.1 201.6h0M620.8 167.3h0M575.1 174.8h0M619.4 178.1h0M588.4 168.7h0M612.1 172.6h0M586.4 183.6h0M553.7 188.4h0M549.0 194.2h0M608.3 182.5h0M657.1 198.2h0M600.6 169.4h0M628.6 194.6h0M613.7 166.1h0M598.0 182.1h0M592.3 201.3h0M573.0 182.2h0M613.2 179.0h0M589.5 177.1h0M613.9 192.7h0M570.6 181.5h0M610.0 178.7h0M568.2 182.2h0M624.6 186.9h0M603.6 181.7h0M603.0 181.6h0M601.9 174.2h0M566.9 187.7h0M572.9 194.3h0M587.4 163.2h0M627.3 178.6h0M573.0 178.9h0M571.3 195.7h0M555.4 187.5h0M556.7 196.1h0M581.3 178.1h0M589.8 196.0h0M569.6 201.6h0M579.0 183.5h0M589.4 167.8h0M595.4 168.7h0M636.1 198.9h0M577.9 176.1h0M622.3 180.8h0M572.2 197.5h0M626.9 194.6h0M588.3 174.3h0M567.0 196.1h0M611.2 170.5h0M564.2 181.2h0M545.9 195.3h0M581.1 174.8h0M561.8 195.3h0M614.0 175.5h0M628.0 174.3h0M567.8 190.0h0M593.5 172.6h0M629.9 183.5h0M572.3 174.2h0M625.2 184.3h0M542.8 202.9h0M540.1 201.8h0M624.0 202.3h0M583.6 199.4h0M546.7 197.9h0M581.5 165.7h0M585.0 168.5h0M565.4 189.5h0M611.8 187.1h0M602.7 174.8h0M569.5 179.8h0M657.5 197.8h0M574.6 194.5h0M579.6 170.2h0M631.6 171.9h0M580.6 193.7h0M566.3 178.9h0M586.7 193.5h0M626.6 197.0h0M549.5 201.4h0M607.0 181.3h0M633.1 183.5h0M634.2 205.0h0M596.3 183.7h0M565.0 184.6h0M606.2 174.6h0M630.2 197.7h0M554.2 201.7h0M561.9 182.1h0M565.3 197.7h0M553.8 188.6h0M660.0 200.1h0M603.4 194.3h0M559.7 204.8h0M625.7 179.0h0M558.3 193.6h0M610.2 194.8h0M598.0 184.0h0M611.7 165.4h0M641.1 180.5h0M568.8 175.7h0M611.7 169.5h0M659.6 194.8h0M556.3 193.0h0M551.1 194.6h0M573.0 178.8h0M563.1 193.1h0M664.1 203.1h0M594.2 169.0h0M605.3 191.0h0M665.1 203.0h0M578.9 173.0h0M583.4 166.6h0M601.8 188.0h0M643.3 184.1h0M636.8 189.8h0M577.0 180.4h0M569.1 175.4h0M556.2 197.9h0M630.7 177.8h0M634.0 184.5h0M624.0 189.9h0M557.5 186.2h0M592.5 169.2h0M610.1 153.0h0M579.6 180.2h0M547.3 195.0h0M617.8 164.0h0M596.5 178.0h0M591.0 165.6h0M571.4 175.4h0M553.9 195.2h0M558.6 184.6h0M562.8 184.2h0M620.8 177.6h0M560.7 196.2h0M562.1 184.0h0M546.9 196.5h0M593.3 177.5h0M557.5 194.3h0M565.8 178.2h0M586.8 167.4h0M574.7 186.0h0M592.4 167.9h0M577.5 184.0h0M604.0 179.9h0M575.9 177.1h0M640.8 189.1h0M622.3 164.2h0M569.4 180.6h0M598.9 194.8h0M586.5 168.8h0M587.2 201.0h0M620.1 173.7h0M611.5 188.6h0M559.1 191.1h0M624.7 176.4h0M541.5 198.8h0M563.4 184.3h0M551.5 195.3h0M588.4 160.6h0M576.9 200.5h0M630.1 193.7h0M618.4 162.8h0M570.1 180.1h0M589.1 193.7h0M628.0 192.6h0M618.0 166.5h0M551.7 190.2h0M543.3 198.3h0M585.8 167.9h0M564.6 200.9h0M594.1 174.0h0M642.0 183.1h0M620.3 197.0h0M604.7 171.4h0M613.2 167.3h0M573.9 179.7h0M630.4 188.0h0M571.9 175.6h0M581.4 202.8h0M549.5 199.0h0M579.1 197.5h0M577.4 174.0h0M566.3 178.9h0M611.2 172.5h0M621.0 181.5h0M656.6 192.7h0M617.4 178.2h0M551.7 198.3h0M612.2 168.6h0M621.5 163.7h0M581.5 168.8h0M598.9 179.5h0M573.0 174.0h0M582.0 181.6h0M628.6 191.4h0M573.0 183.7h0M562.6 181.3h0M617.6 172.4h0M579.7 197.9h0M654.8 195.0h0M621.6 183.7h0M621.8 167.7h0M577.7 180.8h0M607.4 202.0h0M591.2 188.8h0M591.1 181.5h0M636.5 198.3h0M570.0 186.4h0M618.1 185.4h0M577.0 189.6h0M586.2 162.0h0M632.9 191.7h0M608.9 182.8h0M630.6 181.3h0M612.6 172.8h0M541.0 198.9h0M594.7 167.7h0M624.9 166.7h0M622.8 198.4h0M573.2 173.5h0M608.3 179.9h0M588.4 172.6h0M628.9 204.7h0M617.8 183.1h0M591.1 176.4h0M567.2 185.3h0M580.8 168.3h0M586.9 184.9h0M610.4 170.9h0M612.6 193.4h0M569.9 179.3h0M584.2 167.2h0M634.2 192.3h0M644.7 183.8h0M585.9 160.5h0M622.6 193.9h0M613.8 180.7h0M591.8 180.2h0M627.8 193.7h0M578.6 200.5h0M624.6 172.0h0M587.4 168.5h0M581.0 179.8h0M624.8 195.8h0M583.7 190.2h0M594.4 168.1h0M572.5 173.0h0M621.5 173.9h0M572.1 179.4h0M620.7 200.0h0M583.8 187.8h0M631.0 170.8h0M625.3 182.4h0M598.6 172.3h0M581.2 187.1h0M575.1 198.7h0M623.5 181.3h0M582.8 196.6h0M609.3 197.3h0M597.6 174.8h0M646.6 195.0h0M585.9 178.6h0M606.5 172.6h0M589.0 168.1h0M602.0 179.6h0M663.4 205.2h0M628.3 201.5h0M656.1 201.7h0M611.7 171.6h0M579.5 171.7h0M610.7 179.4h0M578.3 195.6h0M580.8 172.3h0M625.8 179.4h0M609.3 157.5h0M559.1 201.9h0M600.2 196.9h0M609.7 165.8h0M576.5 189.4h0M603.3 165.5h0M641.2 200.1h0M573.0 198.1h0M578.9 194.0h0M610.0 193.8h0M589.9 173.6h0M631.3 184.5h0M582.9 181.2h0M636.8 183.2h0M551.2 194.5h0M627.4 176.5h0M575.2 186.8h0M584.3 187.2h0M602.8 179.2h0M596.6 203.3h0M586.8 176.0h0M580.2 183.9h0M645.5 196.3h0M606.9 189.6h0M586.8 160.5h0M624.5 197.2h0M618.2 185.9h0M559.0 203.7h0M619.1 189.7h0M582.7 164.3h0M586.1 191.7h0M553.3 201.2h0M556.7 202.1h0M616.6 189.0h0M569.3 177.5h0M587.0 177.1h0M623.4 175.2h0M629.4 169.8h0M605.3 202.5h0M580.7 176.3h0M564.1 187.0h0M581.6 168.0h0M543.9 199.2h0M606.8 194.2h0M562.8 197.5h0M570.7 181.6h0M578.2 197.6h0M570.5 184.6h0M638.2 187.8h0M635.7 201.3h0M606.2 188.7h0M577.4 178.4h0M596.7 164.5h0M633.3 179.0h0M632.7 180.9h0M600.9 190.8h0M624.6 193.7h0M632.8 181.6h0M560.8 184.6h0M552.6 191.3h0M582.0 167.7h0M576.0 177.5h0M579.3 185.9h0M663.2 202.8h0M618.1 181.9h0M590.7 168.8h0M592.0 198.1h0M574.5 175.0h0M632.2 172.7h0M580.0 179.2h0M586.7 179.7h0M547.3 201.8h0M621.0 166.5h0M568.8 177.2h0M553.9 191.3h0M587.9 161.4h0M611.8 163.9h0M615.6 194.4h0M566.8 196.7h0M576.7 170.1h0M554.7 200.2h0M611.2 171.3h0M607.1 176.1h0M630.4 189.2h0M634.8 186.1h0M612.3 201.6h0M648.8 191.6h0M584.6 195.4h0M569.5 182.6h0M620.2 178.8h0M560.0 189.6h0M544.4 200.7h0M567.0 179.9h0M549.5 201.9h0M574.1 184.0h0M594.4 190.5h0M562.8 188.8h0M565.1 189.0h0M561.6 187.4h0M556.8 203.2h0M545.5 200.5h0M619.7 180.4h0M632.4 184.8h0M593.6 181.5h0M642.1 183.6h0M577.8 181.0h0M571.8 189.2h0M608.1 186.9h0M585.2 182.7h0M638.3 182.2h0M591.8 169.8h0M566.8 178.2h0M569.7 189.4h0M554.9 202.8h0M587.9 189.7h0M600.6 196.1h0M596.9 181.9h0M630.1 175.1h0M625.2 201.6h0M559.2 203.8h0M613.4 189.9h0M583.5 170.3h0M631.2 198.9h0M659.5 200.1h0M633.4 173.9h0M620.7 191.9h0M616.1 176.3h0M585.8 168.3h0M558.6 199.1h0M577.2 171.7h0M642.8 188.2h0M609.4 181.7h0M590.2 202.1h0M611.5 171.3h0M579.6 184.7h0M578.4 194.4h0M626.0 187.0h0M611.5 185.6h0M580.0 169.0h0M564.5 180.9h0M592.2 170.8h0M571.8 193.6h0M548.1 193.9h0M597.8 191.4h0M572.0 190.2h0M557.1 188.1h0M579.4 169.1h0M546.7 196.7h0M570.6 198.3h0M580.5 165.9h0M621.8 173.7h0M569.6 183.9h0M651.6 189.3h0M573.1 187.1h0M620.8 177.7h0M596.8 202.2h0M568.0 188.2h0M602.3 187.4h0M573.9 176.6h0M570.2 182.7h0M617.6 172.2h0M589.2 162.8h0M625.4 171.0h0M638.1 180.1h0M653.7 194.8h0M632.3 185.5h0M637.8 188.1h0M609.5 175.7h0M542.7 197.6h0M584.4 204.2h0M624.3 173.8h0M610.8 186.1h0M582.8 172.9h0M600.9 172.6h0M625.0 172.9h0M658.9 196.9h0M608.6 172.1h0M588.6 167.5h0M553.6 192.1h0M594.4 174.7h0M640.2 185.9h0M646.1 186.9h0M638.5 179.2h0M561.9 181.3h0M608.1 177.9h0M584.6 168.6h0M625.2 193.7h0M546.3 199.0h0M557.4 193.1h0M552.3 190.8h0M576.9 189.2h0M614.5 168.4h0M582.7 176.2h0M617.9 187.7h0M593.5 175.3h0M603.7 173.9h0M611.2 174.9h0M584.3 183.8h0M571.5 191.1h0M641.8 193.1h0M626.7 180.7h0M585.5 203.7h0M608.4 173.7h0M562.9 180.7h0M589.8 181.7h0M586.3 173.1h0M587.9 196.5h0M584.2 184.3h0M585.6 184.2h0M557.5 195.6h0M632.8 191.0h0M593.3 170.3h0M568.2 191.6h0M623.5 171.2h0M601.6 181.3h0M660.0 203.5h0M558.5 188.7h0M612.0 183.2h0M603.5 184.9h0M577.0 178.6h0M565.1 197.8h0M583.1 175.3h0M588.9 188.5h0M570.4 178.7h0M580.0 200.8h0M581.0 175.5h0M599.4 171.9h0M604.9 176.5h0M615.7 188.1h0M591.3 182.8h0M557.9 195.5h0M564.6 178.6h0M598.2 169.9h0M576.4 200.3h0M657.5 194.3h0M616.2 189.7h0M560.1 190.6h0M581.6 187.9h0M590.4 193.9h0M599.2 189.6h0M549.6 200.7h0M607.0 178.9h0M603.2 179.5h0M632.2 171.7h0M555.0 190.5h0M545.8 197.5h0M613.5 170.0h0M619.3 188.0h0M558.2 204.9h0M544.5 200.2h0M576.8 171.5h0M563.5 188.7h0M618.3 188.8h0M596.8 193.2h0M624.7 168.6h0M565.3 184.4h0M567.3 186.8h0M538.4 202.3h0M595.1 178.6h0M556.8 199.7h0M595.5 180.7h0M577.4 187.0h0M612.8 167.9h0M562.7 184.8h0M599.4 196.7h0M578.7 183.1h0M564.6 182.8h0M572.0 173.7h0M613.4 190.4h0M593.0 185.2h0M589.4 182.4h0M547.4 198.8h0M558.2 186.9h0M600.9 165.5h0M580.8 165.8h0M620.0 197.8h0M656.8 192.8h0M655.6 194.9h0M603.7 179.6h0M577.3 173.4h0M583.6 169.8h0M577.6 185.4h0M597.7 172.9h0M638.6 178.8h0M595.5 177.7h0M646.2 183.7h0M546.5 195.4h0M615.5 178.0h0M589.9 181.4h0M594.5 178.4h0M606.9 189.9h0M571.2 175.6h0M636.4 203.9h0M641.0 183.4h0M594.7 180.7h0M590.9 176.8h0M625.6 179.8h0M586.6 186.2h0M612.2 170.1h0M583.5 169.0h0M596.9 169.9h0M635.4 178.4h0M580.1 199.3h0M546.7 196.4h0M605.0 166.9h0M645.6 192.1h0M622.5 165.2h0M661.8 198.7h0M574.8 187.0h0M611.9 186.6h0M586.2 169.7h0M617.9 185.5h0M582.0 178.4h0M573.3 176.4h0M586.1 168.4h0M643.4 190.8h0M644.2 194.1h0M594.2 193.4h0M597.5 194.1h0M629.9 182.2h0M604.2 178.7h0M570.4 178.5h0M614.4 174.9h0M601.9 183.2h0M575.7 173.7h0M540.0 203.8h0M616.9 194.1h0M601.9 177.5h0M622.7 175.4h0M605.3 175.3h0M631.5 172.8h0M605.8 192.1h0M583.5 187.9h0M579.4 193.9h0M585.8 175.5h0M605.0 185.0h0M609.3 171.2h0M588.3 169.7h0M588.2 190.1h0M590.9 193.8h0M604.0 170.6h0M586.5 203.7h0M592.2 183.6h0M634.2 180.1h0M579.4 180.0h0M575.6 178.2h0M577.4 172.8h0M618.1 189.3h0M635.3 193.7h0M566.2 189.8h0M638.3 177.2h0M550.0 197.6h0M571.6 172.9h0M564.7 195.3h0M587.4 184.3h0M542.5 202.1h0M571.7 196.5h0M604.0 169.2h0M604.8 182.4h0M605.3 193.7h0M603.4 197.9h0M587.5 176.1h0M610.8 167.0h0M551.3 200.9h0M572.9 183.4h0M561.4 182.0h0M588.4 179.5h0M585.0 178.9h0M609.6 178.3h0M644.2 198.8h0M597.8 164.5h0M606.4 188.1h0M629.2 192.3h0M604.3 184.2h0M545.6 199.8h0M547.4 198.4h0M570.8 175.6h0M560.4 182.6h0M610.1 174.1h0M566.8 185.9h0M633.7 199.4h0M580.8 169.5h0M598.2 187.5h0M562.2 201.5h0M575.7 191.7h0M588.2 172.9h0M622.8 177.8h0M623.1 172.2h0M645.6 190.7h0M631.4 179.8h0M547.2 201.3h0M592.7 176.6h0M621.9 178.8h0M616.6 184.2h0M582.4 192.5h0M573.1 176.2h0M609.6 185.3h0M608.3 174.7h0M584.0 183.4h0M546.4 197.1h0M636.4 175.6h0M578.3 187.7h0M671.0 204.9h0M618.8 187.7h0M569.5 194.2h0M589.8 165.4h0M547.2 196.0h0M603.4 188.9h0M590.0 179.6h0M586.4 185.4h0M574.0 193.5h0M600.8 170.2h0M614.1 192.9h0M657.9 204.7h0M584.9 183.0h0M595.7 184.9h0M591.0 176.8h0M599.8 180.5h0M579.9 182.2h0M595.1 185.9h0M558.0 185.4h0M647.6 198.6h0M625.9 171.6h0M558.8 191.7h0M566.4 177.7h0M561.4 190.4h0M593.7 176.2h0M577.6 173.6h0M645.6 190.8h0M580.9 173.5h0M577.4 172.1h0M642.8 195.0h0M602.8 171.5h0M576.1 170.4h0M593.8 200.8h0M651.8 197.3h0M572.1 188.1h0M550.1 196.4h0M622.5 190.8h0M604.2 192.5h0M597.0 187.8h0M557.8 190.8h0M594.3 196.1h0M596.7 168.8h0M609.6 188.0h0M621.0 179.2h0M596.8 179.1h0M584.9 163.1h0M597.0 187.8h0M585.2 166.1h0M571.5 178.1h0M561.5 198.5h0M631.3 184.4h0M570.3 175.2h0M595.8 197.6h0M614.0 173.9h0M559.7 186.4h0M559.1 185.6h0M657.8 196.5h0M614.2 162.1h0M588.9 168.9h0M630.0 194.5h0M619.8 171.2h0M638.4 179.9h0M574.5 184.9h0M632.6 202.8h0M597.9 198.5h0M595.7 199.4h0M593.3 181.6h0M565.3 180.8h0M588.9 167.2h0M559.3 189.6h0M576.0 186.7h0M606.0 164.1h0M576.6 192.3h0M602.7 168.7h0M603.2 182.9h0M597.2 191.0h0M573.4 191.2h0M566.8 181.2h0M555.6 186.3h0M599.2 175.4h0M647.2 188.7h0M619.7 182.9h0M605.2 195.3h0M618.5 171.1h0M572.4 174.8h0M638.7 184.5h0M579.4 171.1h0M590.5 170.8h0M574.9 170.0h0M628.7 201.4h0M607.7 195.4h0M563.4 185.3h0M545.4 198.7h0M579.7 172.3h0M586.3 177.7h0M556.5 196.6h0M650.1 190.7h0M590.9 185.6h0M654.6 199.5h0M571.1 192.8h0M542.8 199.5h0M550.6 192.6h0M567.6 184.4h0M593.3 193.3h0M596.3 171.2h0M651.2 191.9h0M549.6 202.1h0M637.7 177.5h0M600.9 185.6h0M608.4 204.4h0M590.3 188.8h0M555.6 187.1h0M619.0 162.7h0M561.4 198.5h0M584.9 174.4h0M586.0 165.8h0M591.1 165.7h0M600.2 171.1h0M637.7 176.3h0M562.9 193.0h0M650.6 194.8h0M585.0 179.6h0M616.4 174.1h0M587.8 169.1h0M547.4 199.8h0M567.5 191.2h0M573.5 176.2h0M574.6 179.9h0M566.5 177.1h0M577.5 198.5h0M569.8 176.9h0M593.7 177.8h0M632.4 189.4h0M570.2 184.2h0M613.9 193.1h0M576.4 187.4h0M561.1 186.0h0M588.7 187.3h0M568.9 177.4h0M654.4 197.9h0M552.6 189.8h0M581.2 192.7h0M609.0 187.4h0M581.1 165.4h0M622.5 195.6h0M631.5 182.1h0M584.0 187.2h0M585.1 177.7h0M637.1 176.0h0M637.6 178.1h0M562.9 192.0h0M593.9 177.1h0M538.6 201.5h0M558.6 202.1h0M538.1 202.2h0M612.7 183.5h0M615.8 178.2h0M642.9 187.1h0M661.0 204.5h0M600.3 167.9h0M646.7 185.2h0M591.7 165.7h0M618.4 172.7h0M587.8 172.4h0M559.7 187.0h0M551.7 196.2h0M568.2 175.8h0M595.8 201.1h0M653.1 194.8h0M567.1 202.4h0M608.3 198.0h0M632.7 181.2h0M618.5 188.6h0M544.4 205.2h0M644.0 181.8h0M623.6 186.2h0M571.1 177.3h0M556.2 194.3h0M606.8 186.7h0M543.2 197.7h0M559.0 196.9h0M607.3 171.0h0M547.2 197.7h0M612.9 202.3h0M549.1 202.4h0M582.4 192.3h0M621.5 174.9h0M590.0 169.3h0M573.5 189.9h0M570.0 193.5h0M585.5 190.8h0M567.4 182.1h0M636.7 178.5h0M560.4 188.5h0M545.5 201.1h0M599.0 174.5h0M559.3 186.3h0M636.6 195.9h0M545.5 199.0h0M578.8 173.1h0M588.9 163.4h0M603.1 177.1h0M599.7 163.9h0M651.8 196.4h0M590.7 186.9h0M618.1 181.9h0M663.3 199.2h0M607.0 169.6h0M642.9 190.0h0M611.2 189.3h0M562.4 182.5h0M610.2 166.7h0M545.0 195.6h0M616.0 158.1h0M545.8 195.5h0M625.3 196.5h0M569.7 189.4h0M543.7 197.0h0M583.8 184.2h0M656.1 197.0h0M648.4 187.5h0M626.5 174.3h0M581.5 167.3h0M614.1 195.4h0M628.7 178.8h0M624.4 176.1h0M630.7 201.0h0M574.7 171.9h0M631.5 199.2h0M587.6 177.6h0M543.8 198.3h0M618.2 190.7h0M546.4 201.4h0M642.5 190.5h0M611.0 183.5h0M584.4 170.3h0M611.5 171.2h0M545.7 200.0h0M619.2 178.5h0M595.1 176.9h0M601.6 159.6h0M605.3 169.4h0M618.7 185.3h0M641.7 179.6h0M623.9 195.5h0M596.1 195.2h0M598.4 194.5h0M608.5 192.9h0M569.8 180.6h0M615.1 169.9h0M623.5 167.7h0M586.1 179.6h0M594.7 165.1h0M584.9 176.2h0M556.0 188.3h0M635.8 190.2h0M618.0 178.3h0M616.8 174.3h0M581.7 165.1h0M629.9 184.7h0M569.8 197.9h0M613.4 164.2h0M603.5 173.0h0M600.6 195.1h0M574.3 173.1h0M568.0 177.6h0M560.0 201.0h0M628.0 171.3h0M585.7 182.8h0M627.7 174.8h0M552.8 204.9h0M590.2 197.5h0M606.1 205.3h0M591.9 203.7h0M647.3 188.3h0M645.9 188.7h0M571.4 176.3h0M554.5 192.1h0M562.7 204.5h0M584.2 176.3h0M654.2 199.2h0M567.5 190.4h0M645.7 186.1h0M625.0 178.3h0M635.4 186.3h0M639.9 189.4h0M595.0 149.5h0M576.5 188.8h0M622.2 180.8h0M579.6 187.7h0M564.4 185.3h0M577.8 170.0h0M580.1 191.5h0M578.0 175.1h0M560.7 183.8h0M648.4 187.0h0M614.9 161.5h0M577.1 196.0h0M621.0 162.8h0M571.3 187.5h0M662.6 200.8h0M650.2 188.0h0M577.0 174.0h0M613.6 185.9h0M587.8 180.5h0M614.5 172.1h0M581.6 169.0h0M579.7 168.2h0M621.1 185.7h0M622.3 182.4h0M620.6 180.7h0M597.6 181.8h0M627.6 180.3h0M642.8 199.4h0M636.3 195.8h0M591.0 182.8h0M607.2 182.2h0M597.4 163.7h0M570.8 184.2h0M569.3 178.8h0M598.8 200.9h0M623.6 171.0h0M573.3 201.1h0M558.1 186.9h0M558.0 190.5h0M585.0 173.4h0M600.9 199.2h0M623.9 195.6h0M619.1 183.5h0M592.7 169.4h0M626.0 169.2h0M576.2 194.5h0M621.1 179.4h0M614.8 167.6h0M615.1 187.7h0M597.5 197.2h0M554.5 189.0h0M554.1 194.9h0M590.5 169.6h0M582.8 164.6h0M560.0 191.0h0M564.1 199.5h0M542.9 198.9h0M627.3 181.8h0M619.2 181.9h0M626.2 201.8h0M630.8 183.6h0M592.1 180.8h0M548.7 193.1h0M617.8 169.9h0M611.9 160.2h0M603.2 186.1h0M592.2 173.1h0M567.5 181.2h0M602.8 167.6h0M591.6 193.2h0M551.5 200.5h0M573.6 178.9h0M582.2 184.3h0M552.3 195.1h0M631.4 189.8h0M584.2 194.9h0M640.2 190.0h0M583.0 202.0h0M579.5 169.3h0M584.7 189.4h0M607.2 188.7h0M605.8 165.6h0M549.8 191.6h0M545.3 200.5h0M564.9 194.9h0M631.9 185.5h0M624.7 168.2h0M611.8 166.5h0M614.5 177.5h0M644.0 191.8h0M563.8 203.6h0M645.7 185.9h0M658.7 202.6h0M600.1 188.9h0M575.2 174.7h0M594.9 169.7h0M607.8 176.9h0M550.2 197.1h0M622.6 184.0h0M574.2 176.4h0M566.0 179.4h0M583.6 187.0h0M608.7 193.1h0M560.2 190.7h0M598.9 175.9h0M561.2 188.5h0M622.0 187.9h0M623.8 190.0h0M588.8 189.7h0M580.5 175.0h0M621.0 199.3h0M595.5 192.6h0M560.1 186.1h0M601.3 176.1h0M610.3 172.6h0M585.3 175.5h0M601.0 168.5h0M610.6 179.1h0M610.3 163.9h0M614.9 198.5h0M593.0 175.3h0M610.6 164.5h0M589.3 186.2h0M598.4 180.8h0M629.2 193.7h0M561.6 184.2h0M612.7 180.8h0M602.9 183.3h0M616.2 155.7h0" stroke="#1c1cc6" stroke-width="1.1" stroke-linecap="round" opacity="1.0" fill="none"/>
<path d="M603.5 186.2h0M588.6 200.4h0M578.2 174.8h0M592.0 189.5h0M561.0 191.3h0M571.2 189.7h0M610.1 178.2h0M574.8 170.2h0M640.1 181.0h0M599.5 186.7h0M555.6 187.9h0M648.0 186.8h0M624.6 170.2h0M641.7 183.7h0M588.2 190.2h0M560.1 193.4h0M602.5 170.9h0M645.9 199.0h0M540.0 204.3h0M629.6 178.9h0M619.8 179.0h0M621.4 194.2h0M623.6 175.3h0M616.9 169.3h0M567.8 187.5h0M623.0 203.7h0M588.8 169.5h0M554.8 187.0h0M573.8 179.8h0M575.8 170.7h0M579.4 188.9h0M625.7 174.0h0M561.1 192.6h0M558.7 186.8h0M563.6 199.0h0M574.4 183.5h0M642.8 185.3h0M557.4 201.3h0M615.1 194.7h0M567.7 193.5h0M626.6 179.7h0M662.9 198.6h0M621.4 189.6h0M585.8 166.2h0M586.6 182.7h0M641.8 193.9h0M650.0 186.8h0M560.0 198.4h0M627.5 171.6h0M625.8 171.9h0M546.0 198.8h0M635.4 181.7h0M560.5 187.3h0M567.7 195.3h0M594.8 194.4h0M576.7 188.5h0M554.4 191.7h0M627.5 181.6h0M611.1 197.3h0M652.3 198.2h0M632.2 183.5h0M648.7 198.1h0M591.2 165.0h0M602.2 163.6h0M565.8 178.4h0M586.7 187.6h0M551.0 191.1h0M577.3 176.6h0M618.0 195.3h0M585.2 168.5h0M612.1 204.6h0M588.2 172.0h0M625.6 190.3h0M639.4 185.4h0M625.0 180.1h0M617.3 176.6h0M646.4 194.8h0M585.4 196.4h0M612.6 177.6h0M637.9 188.6h0M614.9 189.0h0M616.3 166.1h0M570.8 186.2h0M568.6 193.8h0M603.1 196.7h0M592.1 164.9h0M608.3 179.1h0M583.7 165.1h0M574.3 175.5h0M620.2 170.4h0M536.8 203.2h0M604.7 187.4h0M581.6 191.7h0M546.6 202.8h0M580.7 168.1h0M614.3 177.2h0M577.8 174.6h0M560.4 192.2h0M625.5 177.0h0M631.5 174.3h0M543.4 199.7h0M612.4 191.7h0M589.2 160.4h0M613.0 193.0h0M614.2 181.4h0M576.5 195.3h0M613.3 169.1h0M612.5 181.7h0M628.8 200.2h0M569.8 185.3h0M647.9 185.8h0M612.2 192.8h0M549.9 202.5h0M639.4 177.6h0M622.8 174.0h0M544.7 198.6h0M640.6 180.5h0M601.6 174.2h0M623.1 194.7h0M630.0 175.1h0M612.1 185.6h0M589.0 197.3h0M583.4 162.6h0M575.0 174.2h0M612.5 181.0h0M628.4 186.7h0M607.6 190.8h0M580.0 181.5h0M569.9 181.7h0M637.3 190.4h0M634.8 184.5h0M618.2 170.8h0M579.6 172.1h0M589.2 160.2h0M602.2 195.1h0M581.5 177.6h0M653.6 199.1h0M561.3 182.2h0M588.0 196.6h0M555.5 194.6h0M560.2 182.4h0M590.6 157.8h0M584.0 173.7h0M614.8 189.0h0M619.4 197.8h0M625.3 194.2h0M609.3 189.6h0M542.8 197.2h0M604.8 189.2h0M583.8 167.0h0M625.2 196.6h0M575.8 185.0h0M555.7 186.8h0M599.0 204.2h0M639.4 182.8h0M627.4 175.4h0M636.3 191.0h0M616.8 178.7h0M569.1 180.2h0M600.2 197.1h0M605.2 174.8h0M552.7 189.5h0M649.2 200.1h0M558.7 198.8h0M651.2 193.4h0M593.0 200.4h0M643.0 198.9h0M591.7 173.6h0M659.3 197.4h0M624.2 180.6h0M571.0 184.7h0M632.0 194.5h0M613.2 170.4h0M608.1 180.5h0M632.1 181.5h0M597.5 184.1h0M556.5 193.3h0M642.1 192.7h0M647.6 197.0h0M634.5 174.9h0M567.1 201.2h0M561.6 196.8h0M563.4 184.0h0M606.9 166.1h0M590.3 166.1h0M655.5 196.2h0M648.7 204.5h0M606.4 181.4h0M588.5 168.7h0M546.6 194.1h0M654.7 203.2h0M573.3 187.1h0M575.7 186.3h0M641.0 180.3h0M629.3 186.3h0M591.8 194.2h0M574.0 182.1h0M548.8 200.3h0M624.5 203.9h0M601.6 201.3h0M606.7 173.9h0M570.0 193.4h0M603.0 178.2h0M608.5 173.4h0M568.1 180.9h0M652.7 192.4h0M593.8 179.1h0M635.4 199.5h0M594.3 186.0h0M568.8 175.7h0M641.0 188.1h0M600.0 182.5h0M587.5 199.1h0M600.9 189.1h0M549.1 200.6h0M554.3 191.6h0M549.2 194.8h0M633.1 174.8h0M624.3 169.3h0M551.3 197.2h0M583.2 179.3h0M641.6 194.4h0M544.9 200.2h0M565.7 180.4h0M603.9 176.8h0M573.9 189.2h0M573.7 181.4h0M604.3 177.6h0M591.2 172.1h0M590.2 187.8h0M541.6 201.1h0M581.7 166.9h0M567.7 183.5h0M557.3 190.7h0M559.2 186.2h0M574.3 189.7h0M617.5 190.9h0M634.2 196.7h0M596.6 186.5h0M664.4 202.0h0M560.7 184.6h0M642.1 181.7h0M571.3 185.9h0M631.2 176.4h0M655.2 192.0h0M549.0 194.8h0M575.7 178.9h0M642.7 181.4h0M608.0 172.8h0M583.2 195.3h0M630.9 170.5h0M622.0 189.6h0M580.1 178.2h0M582.2 166.0h0M626.1 169.4h0M547.1 198.6h0M627.5 169.5h0M612.1 179.5h0M590.4 193.6h0M614.6 196.9h0M567.9 187.0h0M575.1 196.6h0M570.3 185.1h0M656.6 196.1h0M552.1 197.2h0M606.2 178.5h0M561.3 184.7h0M584.6 167.5h0M614.9 162.5h0M543.7 203.6h0M601.4 182.1h0M633.2 177.8h0M598.3 193.1h0M622.7 196.1h0M606.3 170.5h0M620.7 187.8h0M600.1 177.2h0M600.1 177.7h0M585.8 193.6h0M610.0 193.3h0M572.2 174.9h0M580.2 168.4h0M577.5 168.8h0M556.1 191.8h0M575.4 184.5h0M602.1 178.1h0M642.4 195.6h0M626.2 196.4h0M617.1 182.3h0M544.8 202.9h0M574.6 181.8h0M585.2 176.5h0M548.2 196.7h0M618.9 197.8h0M650.4 200.8h0M564.8 179.6h0M607.8 166.2h0M563.6 186.6h0M561.6 192.4h0M591.4 165.8h0M648.2 189.4h0M584.4 177.5h0M620.7 182.6h0M568.1 190.4h0M597.9 180.1h0M584.8 167.1h0M651.7 196.7h0M601.5 190.9h0M563.1 204.5h0M554.4 187.4h0M614.8 174.5h0M614.6 185.0h0M587.2 169.1h0M550.2 196.9h0M582.5 168.7h0M582.0 181.9h0M569.1 176.8h0M630.2 181.6h0M558.2 186.8h0M619.6 165.5h0M579.2 182.0h0M552.9 190.6h0M620.0 187.2h0M584.0 184.1h0M606.1 183.2h0M579.0 191.3h0M621.7 182.1h0M646.9 186.0h0M605.9 184.9h0M587.5 172.5h0M614.1 166.0h0M615.7 191.1h0M568.1 182.2h0M581.5 181.0h0M587.4 166.2h0M603.6 191.4h0M555.8 189.2h0M612.2 187.4h0M620.4 196.6h0M642.1 185.5h0M569.9 174.3h0M620.9 193.8h0M634.3 195.5h0M580.8 203.3h0M590.6 183.1h0M650.2 192.3h0M615.2 186.1h0M548.7 199.3h0M587.8 164.1h0M564.9 184.4h0M580.0 170.9h0M577.2 190.3h0M606.9 167.1h0M578.0 182.7h0M606.6 182.3h0M615.1 178.6h0M608.3 190.8h0M585.3 179.5h0M612.9 175.8h0M594.2 166.9h0M619.6 177.5h0M624.6 196.4h0M538.9 200.9h0M598.6 180.0h0M573.3 179.5h0M611.3 177.0h0M575.4 171.3h0M609.1 170.8h0M570.9 197.1h0M627.6 200.2h0M610.0 198.6h0M616.5 180.2h0M588.2 183.2h0M572.2 179.3h0M623.0 167.5h0M573.8 184.1h0M619.0 203.4h0M598.1 182.0h0M605.3 184.4h0M631.7 175.7h0M604.9 184.0h0M589.9 164.5h0M581.0 171.4h0M661.5 198.1h0M549.0 200.7h0M585.2 202.4h0M565.6 182.8h0M560.6 201.4h0M547.7 198.1h0M561.5 184.2h0M604.0 195.2h0M598.7 180.7h0M557.0 188.4h0M538.7 202.8h0M597.1 200.9h0M646.4 185.3h0M587.5 167.5h0M643.9 191.3h0M596.0 166.1h0M610.3 175.5h0M574.5 185.1h0M581.4 165.0h0M589.6 172.5h0M579.1 180.6h0M553.2 189.3h0M602.1 170.7h0M561.7 188.5h0M555.6 195.2h0M572.1 184.3h0M618.5 164.7h0M541.2 203.3h0M547.0 199.2h0M546.7 202.1h0M590.2 174.7h0M591.6 202.6h0M587.4 186.8h0M590.1 168.6h0M580.9 202.8h0M572.8 171.9h0M554.6 198.7h0M575.8 171.3h0M580.8 165.7h0M609.6 179.9h0M636.9 198.7h0M539.8 203.0h0M583.3 168.6h0M622.9 190.5h0M576.7 189.3h0M614.5 171.5h0M576.1 180.6h0M619.3 178.7h0M610.4 178.9h0M623.2 172.9h0M560.1 192.8h0M540.4 201.1h0M631.9 177.5h0M565.0 183.2h0M590.2 171.9h0M621.2 188.8h0M600.4 180.1h0M580.6 169.4h0M575.4 183.0h0M539.4 201.2h0M617.7 189.0h0M579.6 181.8h0M634.6 189.9h0M622.7 177.2h0M607.3 164.9h0M566.3 183.6h0M573.3 199.6h0M604.7 176.1h0M608.3 181.1h0M588.3 163.3h0M631.8 185.3h0M650.3 194.2h0M614.9 182.6h0M579.0 172.0h0M573.7 178.2h0M597.7 180.2h0M627.2 199.2h0M582.8 193.6h0M600.5 179.0h0M585.0 177.1h0M589.3 175.5h0M598.0 167.0h0M549.3 197.0h0M616.4 161.9h0M596.0 200.9h0M624.2 166.3h0M646.0 191.8h0M628.3 175.4h0M582.4 175.1h0M586.2 187.4h0M605.2 197.1h0M593.9 182.1h0M603.4 193.0h0M599.1 177.8h0M578.8 191.9h0M564.9 180.5h0M608.4 149.1h0M657.2 196.8h0M612.8 188.0h0M583.4 171.7h0M576.9 180.3h0M558.2 191.2h0M618.0 189.0h0M571.0 176.7h0M555.5 192.8h0M631.1 174.5h0M590.2 167.6h0M582.1 179.6h0M612.2 180.2h0M554.0 192.5h0M579.6 170.4h0M571.4 188.0h0M623.3 204.0h0M569.1 188.1h0M566.8 180.2h0M578.4 181.4h0M562.8 190.7h0M551.9 192.0h0M571.9 182.0h0M572.5 172.3h0M600.2 194.6h0M635.9 182.2h0M636.1 193.5h0M589.9 165.1h0M597.1 190.5h0M624.4 195.8h0M581.2 179.5h0M597.0 195.5h0M582.4 183.3h0M599.3 172.9h0M612.0 194.2h0M579.5 203.0h0M555.1 202.2h0M575.1 171.6h0M557.9 185.9h0M565.1 182.5h0M568.7 192.4h0M585.4 172.0h0M608.0 199.6h0M574.8 194.4h0M613.5 164.5h0M593.8 196.3h0M609.4 186.6h0M574.9 172.6h0M607.6 164.4h0M585.7 165.9h0M625.1 170.8h0M604.1 187.3h0M607.4 198.5h0M575.7 188.8h0M590.9 194.6h0M647.1 194.1h0M635.0 198.7h0M606.9 197.3h0M584.3 179.0h0M589.8 176.1h0M594.5 171.4h0M653.2 190.1h0M607.8 188.0h0M585.6 163.8h0M610.5 180.7h0M595.6 161.9h0M612.7 182.7h0M574.8 184.5h0M588.6 155.4h0M640.5 191.2h0M596.9 190.1h0M644.6 204.0h0M556.7 192.4h0M592.2 175.1h0M637.7 193.8h0M625.3 184.5h0M586.5 161.6h0M561.2 182.5h0M593.8 172.0h0M572.0 177.0h0M630.9 181.2h0M619.2 168.6h0M587.4 186.9h0M624.0 199.7h0M582.2 175.1h0M545.6 197.2h0M632.8 184.4h0M550.2 204.8h0M584.2 171.2h0M614.0 203.4h0M594.2 186.2h0M607.6 197.6h0M628.2 186.8h0M589.5 165.7h0M573.8 175.6h0M648.9 195.4h0M631.4 172.1h0M576.7 174.7h0M570.0 183.3h0M612.8 172.2h0M558.0 201.7h0M600.2 158.7h0M662.4 197.8h0M606.3 188.8h0M594.1 203.8h0M610.9 163.8h0M634.5 189.1h0M620.3 194.9h0M575.3 192.9h0M578.9 168.8h0M583.6 186.5h0M619.9 180.0h0M608.8 173.4h0M564.9 185.9h0M596.8 185.3h0M549.2 203.8h0M599.0 148.0h0M551.7 193.0h0M620.8 178.5h0M613.7 196.3h0M603.5 202.4h0M579.6 177.2h0M589.3 175.5h0M598.4 191.1h0M576.7 179.7h0M625.0 181.2h0M566.0 183.3h0M591.1 185.8h0M615.7 192.1h0M562.9 181.0h0M565.0 179.2h0M593.3 181.9h0M588.9 161.4h0M592.8 181.6h0M610.9 185.0h0M582.1 198.2h0M580.0 180.4h0M577.8 187.5h0M599.5 184.6h0M659.8 204.8h0M652.1 200.5h0M623.6 191.1h0M619.4 183.8h0M569.0 178.7h0M559.5 192.8h0M591.2 179.9h0M635.0 195.6h0M624.8 185.0h0M584.8 178.9h0M607.9 184.6h0M577.2 168.6h0M579.8 166.4h0M568.7 186.7h0M632.2 188.2h0M577.7 199.7h0M583.3 169.5h0M538.3 201.3h0M633.7 176.4h0M596.5 191.0h0M574.8 174.3h0M622.0 187.5h0M554.7 191.6h0M579.8 187.9h0M582.1 174.6h0M583.1 184.1h0M597.1 194.3h0M608.7 179.1h0M655.8 192.0h0M569.0 177.4h0M578.6 187.6h0M542.4 197.8h0M605.3 180.2h0M629.0 177.7h0M649.8 186.9h0M608.4 166.1h0M611.0 197.3h0M581.8 175.6h0M637.7 190.2h0M604.1 169.7h0M631.8 195.6h0M584.7 178.3h0M642.7 181.0h0M593.7 195.0h0M658.9 203.4h0M565.8 198.8h0M602.3 176.5h0M559.8 195.6h0M579.8 192.4h0M566.9 185.1h0M658.1 200.8h0M610.8 163.7h0M635.7 176.7h0M575.9 171.0h0M574.8 184.3h0M577.3 172.3h0M578.9 172.7h0M603.5 174.8h0M645.6 184.9h0M585.5 165.8h0M544.5 202.0h0M601.7 193.4h0M595.2 178.9h0M637.8 190.4h0M622.4 187.1h0M611.2 179.0h0M621.2 182.3h0M585.2 171.4h0M565.3 195.7h0M625.9 169.2h0M616.3 188.6h0M585.9 175.0h0M547.3 204.9h0M613.6 186.0h0M641.6 179.8h0M623.8 174.8h0M611.6 187.7h0M576.5 184.8h0M611.5 186.0h0M591.3 195.5h0M631.0 200.5h0M570.3 203.0h0M565.1 187.9h0M594.2 183.8h0M614.0 170.9h0M594.4 186.0h0M617.8 184.4h0M576.6 178.6h0M615.5 165.4h0M598.1 174.8h0M575.5 175.2h0M572.8 179.4h0M576.4 185.8h0M575.4 192.1h0M575.0 182.0h0M603.0 161.1h0M564.5 191.0h0M665.5 200.5h0M621.7 168.4h0M578.3 191.1h0M566.8 177.9h0M543.9 204.4h0M623.3 177.8h0M612.4 168.5h0M570.9 195.0h0M554.6 198.4h0M585.2 184.4h0M617.8 170.8h0M637.8 176.3h0M567.1 189.4h0M563.0 184.5h0M574.3 175.5h0M600.5 166.2h0M568.7 176.3h0M599.7 184.9h0M595.8 175.6h0M571.3 184.2h0M604.5 181.9h0M606.2 202.1h0M543.7 197.4h0M629.4 173.7h0M567.6 187.7h0M589.5 182.4h0M563.4 180.4h0M554.6 188.3h0M591.7 198.5h0M610.3 175.0h0M655.2 201.8h0M566.8 202.4h0M585.6 193.7h0M615.6 188.2h0M596.3 190.4h0M614.7 180.9h0M616.9 167.7h0M578.6 187.6h0M568.2 178.8h0M641.2 188.4h0M580.8 181.5h0M619.9 165.9h0M546.3 199.0h0M618.2 192.4h0M599.8 198.2h0M614.6 172.1h0M551.9 204.7h0M608.3 180.5h0M607.7 194.1h0M565.0 191.5h0M618.6 169.4h0M573.0 182.4h0M635.5 176.4h0M564.5 178.8h0M621.7 188.4h0M577.8 183.8h0M575.6 181.8h0M610.4 191.6h0M564.7 185.1h0M591.7 181.9h0M611.4 174.6h0M543.0 203.5h0M615.1 198.9h0M603.0 173.5h0M554.1 191.5h0M632.2 195.3h0M620.7 169.0h0M566.6 185.3h0M590.8 162.9h0M647.6 188.7h0M542.7 203.9h0M608.6 181.5h0M609.8 165.3h0M617.2 171.5h0M607.7 193.1h0M605.5 182.3h0M612.2 185.8h0M598.9 204.9h0M612.0 188.6h0M579.9 166.8h0M598.3 169.1h0M608.4 151.2h0M597.0 180.0h0M570.7 180.5h0M567.8 188.4h0M599.8 177.1h0M562.7 182.7h0M586.2 164.1h0M627.6 183.2h0M611.9 182.4h0M612.2 165.3h0M601.2 176.7h0M574.0 175.0h0M568.0 197.2h0M581.9 173.0h0M616.7 169.5h0M543.5 198.0h0M640.0 189.6h0M579.2 184.6h0M596.5 176.2h0M634.9 186.7h0M607.1 184.8h0M595.2 183.5h0M552.6 195.1h0M609.4 185.0h0M564.4 180.8h0M591.1 184.9h0M588.9 170.3h0M617.9 179.0h0M589.4 185.0h0M567.0 178.6h0M571.3 176.9h0M562.4 193.3h0M581.8 180.8h0M639.6 178.9h0M606.0 191.1h0M559.2 203.5h0M552.0 198.4h0M565.9 192.2h0M592.9 170.8h0M639.2 196.4h0M640.8 197.2h0M546.4 195.4h0M604.8 178.6h0M581.1 171.0h0M638.0 201.0h0M580.1 192.2h0M616.7 160.1h0M555.7 188.9h0M552.6 192.3h0M591.5 161.7h0M576.7 194.8h0M587.6 185.1h0M552.8 200.1h0M616.9 166.0h0M611.5 168.0h0M612.4 182.4h0M577.0 190.5h0M564.4 199.7h0M605.8 149.2h0M603.1 190.2h0M643.2 186.6h0M622.0 195.8h0M541.5 198.7h0M561.9 192.6h0M586.6 163.7h0M574.7 179.4h0M579.0 171.6h0M569.8 198.9h0M580.0 202.2h0M597.7 171.1h0M608.3 180.2h0M566.9 176.7h0M621.9 179.4h0M607.1 168.2h0M565.6 179.1h0M626.7 200.4h0M561.2 196.7h0M612.9 171.8h0M585.7 178.1h0M606.6 203.6h0M586.2 176.8h0M563.5 183.3h0M638.3 187.5h0M610.5 170.5h0M626.7 169.5h0M660.9 196.5h0M579.8 188.0h0M577.9 180.6h0M640.0 188.2h0M572.5 199.1h0M599.6 175.1h0M598.9 178.5h0M625.8 184.7h0M581.6 174.3h0M635.0 174.7h0M571.1 176.8h0M602.9 170.6h0M601.1 181.5h0M634.1 178.0h0M597.1 179.2h0M548.6 199.3h0M597.4 169.0h0M601.4 167.9h0M593.7 172.7h0M607.7 175.8h0M583.2 189.3h0M566.3 181.9h0M594.4 187.2h0M631.1 171.3h0M553.5 188.5h0M562.2 181.1h0M631.0 177.6h0M565.9 188.7h0M547.8 201.3h0M589.3 184.1h0M595.4 193.7h0M574.5 176.7h0M599.3 166.4h0M633.0 185.2h0M596.7 183.2h0M640.6 179.2h0M593.9 200.6h0M603.8 166.5h0M545.9 197.1h0M580.4 170.5h0M581.6 171.9h0M593.8 181.0h0M555.6 199.3h0M611.3 161.5h0M607.1 195.9h0M647.3 192.8h0M593.7 176.2h0M595.4 194.1h0M610.6 179.7h0M576.0 189.3h0M612.9 187.9h0M617.1 197.0h0M582.9 177.5h0M585.5 194.8h0M546.1 200.5h0M629.2 194.5h0M651.9 188.9h0M591.0 164.9h0M635.0 186.3h0M611.8 193.8h0M562.6 181.9h0M652.7 195.5h0M618.8 186.2h0M613.7 200.3h0M649.9 191.4h0M608.5 200.3h0M614.9 166.8h0M641.0 188.8h0M631.0 184.8h0M669.6 204.6h0M595.1 177.2h0M576.0 201.6h0M606.0 195.1h0M612.9 200.2h0M642.4 191.0h0M569.4 193.1h0M622.5 174.0h0M585.3 200.0h0M584.8 179.5h0M577.1 193.0h0" stroke="#3a4ade" stroke-width="1.1" stroke-linecap="round" opacity="1.0" fill="none"/>
<path d="M575.5 176.9h0M626.3 202.3h0M585.8 175.4h0M569.1 192.7h0M640.8 188.7h0M570.9 174.1h0M583.6 164.0h0M592.1 182.5h0M621.5 194.6h0M630.6 202.5h0M600.8 185.8h0M619.2 173.0h0M601.5 182.1h0M564.7 194.3h0M570.7 175.2h0M572.8 179.2h0M623.3 195.9h0M580.6 170.7h0M581.0 175.2h0M576.9 185.5h0M573.3 181.6h0M585.4 188.6h0M633.3 178.6h0M553.7 192.1h0M608.8 185.5h0M561.8 195.3h0M613.3 189.2h0M626.7 196.9h0M601.5 177.2h0M625.2 171.1h0M585.2 164.3h0M566.5 182.3h0M569.0 188.4h0M559.2 189.9h0M580.7 200.3h0M606.2 202.8h0M568.8 181.2h0M640.6 199.8h0M584.0 182.2h0M638.1 204.2h0M578.4 181.7h0M594.6 168.4h0M556.0 195.5h0M616.5 183.8h0M621.4 188.6h0M599.4 175.2h0M572.4 196.4h0M573.2 177.0h0M605.4 176.4h0M538.3 203.2h0M591.5 184.7h0M564.5 200.8h0M582.8 183.0h0M631.3 193.0h0M650.2 187.8h0M584.6 185.7h0M627.9 199.2h0M608.6 173.7h0M586.2 164.9h0M656.3 195.0h0M665.4 203.6h0M549.2 196.3h0M601.9 195.3h0M566.7 197.0h0M640.5 193.9h0M560.4 192.3h0M615.2 183.8h0M628.7 197.5h0M601.1 187.1h0M599.6 181.4h0M546.9 195.0h0M544.1 197.7h0M592.8 182.0h0M569.1 180.2h0M584.9 164.1h0M579.3 180.7h0M569.8 197.9h0M548.4 196.0h0M575.2 191.2h0M619.3 172.7h0M619.6 202.4h0M623.5 176.7h0M582.3 177.0h0M627.2 178.8h0M548.8 192.8h0M652.1 200.3h0M629.9 184.2h0M622.7 176.6h0M614.3 183.8h0M625.0 168.7h0M583.4 169.6h0M615.7 175.1h0M627.1 192.8h0M631.1 173.9h0M586.8 188.3h0M583.5 165.2h0M608.6 184.2h0M644.2 186.9h0M568.6 188.9h0M590.4 156.6h0M581.6 174.1h0M661.4 196.9h0M638.7 179.9h0M589.5 175.0h0M578.9 189.5h0M541.1 203.1h0M598.0 177.4h0M577.2 182.0h0M556.3 199.9h0M551.6 197.1h0M608.5 170.3h0M589.5 170.9h0M588.4 163.6h0M610.2 184.1h0M590.3 176.2h0M584.4 175.7h0M615.2 166.2h0M589.2 172.3h0M579.9 175.1h0M594.8 168.1h0M571.6 196.8h0M566.0 189.4h0M580.9 178.3h0M553.6 191.6h0M576.5 187.3h0M547.3 194.6h0M613.3 179.9h0M589.9 179.8h0M552.1 198.8h0M573.0 174.5h0M564.1 183.2h0M572.4 182.4h0M571.7 189.6h0M548.3 193.4h0M561.4 191.7h0M589.4 200.9h0M570.8 185.3h0M567.2 180.7h0M648.5 195.5h0M578.9 174.2h0M576.8 173.4h0M621.5 198.7h0M610.8 162.4h0M590.4 172.0h0M542.4 198.9h0M600.4 197.6h0M555.6 186.9h0M592.1 185.3h0M657.7 193.8h0M628.8 185.4h0M585.3 189.0h0M581.5 169.6h0M587.7 164.7h0M659.5 204.4h0M642.8 183.6h0M546.6 200.3h0M620.3 165.3h0M611.9 170.5h0M635.6 199.9h0M569.9 202.6h0M605.9 174.4h0M541.7 199.3h0M574.8 175.3h0M617.0 160.3h0M645.6 194.2h0M643.6 182.8h0M609.5 175.4h0M594.2 180.2h0M577.1 172.6h0M616.6 194.3h0M645.8 190.4h0M556.5 201.1h0M583.7 188.0h0M579.9 175.0h0M578.5 179.0h0M563.9 180.6h0M595.2 174.1h0M601.8 168.2h0M604.9 204.5h0M622.2 174.3h0M652.0 192.4h0M580.6 196.7h0M577.0 180.3h0M645.3 190.6h0M600.8 170.6h0M627.6 169.3h0M604.3 182.7h0M629.3 200.4h0M629.9 174.0h0M610.3 187.3h0M651.7 193.0h0M611.4 182.2h0M590.3 178.6h0M577.1 188.3h0M588.7 168.6h0M588.1 195.2h0M568.1 192.7h0M552.1 190.8h0M648.0 195.0h0M553.7 195.6h0M569.4 183.2h0M646.6 194.0h0M567.9 191.5h0M591.0 174.1h0M626.6 193.9h0M577.2 190.0h0M633.6 183.5h0M614.6 181.5h0M647.5 191.1h0M632.2 186.7h0M545.9 201.7h0M595.1 171.4h0M648.8 194.7h0M548.5 193.1h0M623.3 171.7h0M633.4 198.4h0M600.6 190.6h0M561.9 196.4h0M620.8 183.1h0M551.7 196.5h0M565.8 187.1h0M578.8 181.3h0M593.8 174.3h0M619.1 193.0h0M599.4 183.6h0M552.2 198.3h0M634.8 175.9h0M567.2 191.9h0M639.0 178.5h0M607.7 187.3h0M646.2 188.3h0M598.9 180.2h0M614.9 204.6h0M655.5 196.0h0M586.0 173.6h0M569.6 189.6h0M604.2 192.2h0M537.6 203.2h0M660.4 197.5h0M547.6 205.1h0M552.2 190.2h0M572.6 177.9h0M642.3 183.3h0M618.2 183.6h0M576.5 170.1h0M632.3 172.6h0M576.7 177.1h0M622.4 166.6h0M594.4 190.6h0M586.6 169.9h0M624.1 181.9h0M624.2 188.6h0M615.4 192.7h0M594.4 172.4h0M543.2 200.3h0M589.5 172.0h0M593.5 190.5h0M619.1 171.6h0M630.8 193.5h0M615.8 187.7h0M623.2 185.4h0M603.1 165.3h0M640.7 186.6h0M616.0 182.1h0M564.5 195.2h0M579.7 169.6h0M562.2 189.2h0M542.8 203.3h0M658.7 195.7h0M623.0 182.2h0M579.9 176.6h0M621.5 181.4h0M630.6 171.8h0M540.1 201.1h0M616.8 202.0h0M582.8 190.2h0M545.8 203.9h0M578.0 179.6h0M583.5 202.4h0M536.3 203.7h0M665.0 201.7h0M605.1 167.9h0M591.0 163.4h0M602.1 183.0h0M584.8 181.9h0M589.9 194.0h0M613.0 170.2h0M593.4 194.4h0M610.0 196.5h0M608.9 198.1h0M573.3 178.8h0M561.7 188.3h0M590.8 176.4h0M632.9 189.4h0M555.7 201.2h0M570.7 187.2h0M582.5 170.3h0M582.5 184.2h0M636.3 189.0h0M555.0 199.0h0M653.9 193.0h0M570.2 176.2h0M632.6 173.1h0M655.5 204.2h0M607.5 171.3h0M580.3 169.4h0M551.4 195.4h0M584.7 165.2h0M587.6 165.8h0M569.4 184.6h0M577.5 175.8h0M620.1 175.2h0M568.8 183.1h0M582.7 188.8h0M628.1 177.4h0M577.6 183.5h0M559.4 187.0h0M629.4 181.3h0M639.4 185.5h0M608.5 171.7h0M553.1 188.5h0M581.4 189.2h0M654.0 203.1h0M643.4 187.6h0M637.4 188.0h0M639.9 182.3h0M640.7 181.6h0M587.7 182.6h0M583.9 175.9h0M597.1 168.3h0M573.5 171.1h0M645.5 188.2h0M604.2 177.2h0M622.9 183.2h0M607.2 175.8h0M662.5 201.7h0M572.8 197.9h0M595.5 203.5h0M621.2 183.0h0M562.0 187.2h0M610.4 205.1h0M621.7 179.2h0M582.3 181.1h0M602.4 191.9h0M612.5 176.3h0M616.9 199.7h0M642.4 187.3h0M568.4 193.6h0M637.6 190.3h0M633.3 187.5h0M582.4 165.8h0M627.2 202.4h0M604.4 167.0h0M575.2 187.7h0M664.8 201.5h0M582.9 176.3h0M585.0 166.9h0M547.1 201.3h0M642.8 196.2h0M602.1 188.5h0M611.3 186.2h0M602.7 204.1h0M570.6 193.7h0M591.3 188.3h0M608.7 191.1h0M624.0 199.9h0M599.5 188.9h0M605.8 190.0h0M586.4 180.5h0M626.9 177.9h0M653.3 195.2h0M667.5 204.8h0M573.3 204.3h0M594.4 173.2h0M627.3 183.9h0M609.5 185.7h0M554.0 197.2h0M575.2 175.9h0M561.7 193.7h0M642.7 184.5h0M585.7 183.7h0M607.3 177.0h0M567.7 184.0h0M549.4 204.7h0M604.0 170.9h0M587.3 187.3h0M609.7 178.2h0M553.8 202.1h0M545.2 195.8h0M578.2 167.0h0M591.2 175.2h0M559.8 202.3h0M622.1 188.1h0M642.2 180.4h0M592.5 167.2h0M551.1 194.7h0M572.4 182.5h0M592.1 156.5h0M558.3 196.9h0M592.3 171.9h0M640.2 197.6h0M582.8 179.1h0M641.8 184.9h0M611.9 172.1h0M597.5 187.6h0M619.7 166.8h0M650.6 187.7h0M593.6 175.6h0M635.6 183.3h0M536.1 204.4h0M587.2 187.6h0M552.6 188.9h0M592.0 170.1h0M623.8 176.3h0M571.4 184.9h0M577.9 188.7h0M555.4 195.6h0M634.6 177.1h0M585.0 188.5h0M614.1 193.9h0M657.4 202.2h0M582.8 183.1h0M545.1 201.4h0M617.7 164.4h0M636.9 183.2h0M619.0 190.5h0M612.5 186.5h0M584.7 164.3h0M627.8 168.9h0M574.0 179.6h0M561.6 181.2h0M627.5 188.2h0M558.5 202.3h0M573.9 176.6h0M567.0 177.5h0M567.5 179.2h0M562.6 183.6h0M575.6 169.4h0M579.8 183.1h0M595.7 169.5h0M569.1 175.2h0M650.5 200.1h0M584.3 189.0h0M567.5 205.2h0M590.1 181.6h0M588.6 192.8h0M610.5 176.2h0M587.7 162.4h0M616.8 176.4h0M593.5 185.3h0M648.1 186.5h0M535.3 203.8h0M544.9 197.8h0M584.5 191.2h0M580.0 183.7h0M555.0 200.6h0M589.4 171.2h0M601.9 182.3h0M566.8 190.6h0M551.0 192.8h0M586.1 162.1h0M609.0 188.9h0M593.7 183.0h0M589.3 175.2h0M586.4 198.6h0M578.0 168.7h0M590.7 175.6h0M620.5 197.4h0M641.1 185.2h0M570.9 177.4h0M589.0 185.9h0M550.7 193.5h0M637.4 191.4h0M579.9 193.5h0M613.3 181.5h0M600.9 199.2h0M624.0 190.1h0M577.3 168.8h0M616.1 173.5h0M582.7 171.0h0" stroke="#5f78e4" stroke-width="1.1" stroke-linecap="round" opacity="1.0" fill="none"/>
<path d="M596.6 209.9h0M603.1 230.8h0M619.7 205.9h0M583.2 233.8h0M595.1 228.1h0M619.9 234.0h0M616.7 229.9h0M635.0 215.5h0M625.7 230.4h0M580.8 229.4h0M592.0 209.3h0M631.9 227.4h0M624.6 230.2h0M572.3 227.5h0M634.8 220.8h0M564.7 224.5h0M589.9 227.3h0M587.2 213.9h0M588.8 220.1h0M611.7 214.9h0M605.8 236.7h0M640.1 210.3h0M601.9 211.6h0M613.7 230.9h0M632.5 214.0h0M591.5 224.9h0M564.9 220.5h0M611.7 246.4h0M631.9 218.1h0M638.4 221.6h0M570.3 205.5h0M633.9 220.9h0M613.4 214.2h0M614.5 226.8h0M650.9 218.8h0M626.0 232.4h0M622.9 222.0h0M589.5 212.4h0M613.7 231.5h0M631.0 230.1h0M641.2 221.2h0M576.1 229.1h0M631.6 224.2h0M626.8 205.9h0M634.3 224.0h0M586.7 226.0h0M640.6 220.8h0M637.1 226.0h0M601.4 227.8h0M563.4 213.9h0M624.2 221.8h0M587.5 206.2h0M637.1 212.4h0M574.6 231.1h0M613.2 230.9h0M617.9 237.3h0M649.3 208.9h0M603.1 220.5h0M645.8 222.4h0M599.3 233.1h0M643.3 208.0h0M630.4 227.9h0M609.6 224.6h0M632.4 222.6h0M580.0 211.2h0M559.2 224.4h0M594.1 221.9h0M577.2 221.9h0M603.2 205.5h0M597.1 228.3h0M566.3 224.6h0M542.8 205.6h0M631.5 225.4h0M609.9 222.5h0M618.1 222.5h0M566.8 205.9h0M640.4 215.6h0M602.8 235.1h0M570.0 206.0h0M628.0 240.4h0M582.4 227.6h0M611.4 220.8h0M636.9 218.6h0M615.0 227.6h0M586.7 228.3h0M601.5 228.0h0M641.9 208.1h0M624.0 235.1h0M617.1 222.4h0M600.4 225.4h0M558.4 211.6h0M616.2 218.2h0M595.7 216.1h0M556.7 209.1h0M638.8 205.7h0M601.1 219.4h0M619.8 236.3h0M586.9 224.0h0M588.8 225.9h0M576.0 219.2h0M615.1 231.9h0M585.7 205.3h0M599.6 224.2h0M564.8 207.2h0M629.2 216.0h0M574.5 208.2h0M591.9 220.3h0M609.8 206.1h0M595.5 205.4h0M636.4 206.6h0M624.2 227.0h0M619.3 227.7h0M613.5 207.3h0M585.2 211.8h0M646.9 217.0h0M576.3 227.1h0M583.1 218.0h0M569.2 226.6h0M566.2 224.8h0M603.2 211.4h0M658.6 214.7h0M569.8 228.3h0M613.6 243.7h0M598.4 225.8h0M639.3 221.6h0M572.0 226.4h0M602.4 205.7h0M571.6 221.8h0M609.9 213.1h0M592.2 213.1h0M626.4 228.5h0M633.8 233.2h0M573.9 230.7h0M644.9 206.5h0M583.5 215.3h0M625.2 227.3h0M649.7 215.0h0M647.3 217.9h0M591.1 225.0h0M551.6 207.1h0M586.4 208.5h0M592.6 243.2h0M654.4 208.4h0M619.0 219.0h0M590.5 207.4h0M607.5 222.5h0M590.5 224.2h0M643.1 217.5h0M627.3 207.7h0M598.9 231.2h0M631.8 223.2h0M547.0 207.2h0M592.0 207.0h0M599.2 206.3h0M626.6 230.6h0M605.0 230.6h0M611.7 243.7h0M582.2 205.6h0M648.0 206.3h0M614.6 217.4h0M655.2 210.1h0M570.7 227.5h0M628.9 228.5h0M614.1 225.9h0M626.8 227.1h0M597.6 214.4h0M609.0 223.6h0M633.9 208.6h0M580.2 238.6h0M566.5 216.3h0M643.4 207.0h0M603.3 211.6h0M610.5 221.4h0M627.7 222.3h0M665.7 207.8h0M642.1 218.7h0M606.3 225.4h0M641.6 208.6h0M650.7 207.9h0M629.2 223.9h0M594.7 243.3h0M608.9 226.0h0M584.1 232.9h0M576.2 220.3h0M608.6 233.0h0M578.9 219.7h0M578.8 231.7h0M550.9 207.7h0M630.2 229.1h0M641.3 207.0h0M644.9 216.4h0M610.5 222.3h0M625.6 225.2h0M586.1 225.8h0M609.1 219.6h0M566.3 221.4h0M613.1 217.6h0M624.7 232.2h0M631.6 217.3h0M585.7 224.5h0M603.8 210.2h0M651.6 221.3h0M634.0 208.1h0M656.5 215.1h0M655.1 215.8h0M631.0 217.1h0M623.7 207.7h0M584.6 228.3h0M602.5 207.2h0M578.7 226.5h0M585.4 227.7h0M565.4 206.6h0M618.0 227.8h0M586.2 209.2h0M592.0 223.4h0M586.2 215.3h0M594.4 213.3h0M604.3 225.2h0M641.5 219.0h0M591.0 217.5h0M598.0 209.4h0M641.4 219.9h0M556.3 206.4h0M594.4 220.8h0M624.8 208.3h0M619.3 237.0h0M567.1 222.7h0M605.1 216.9h0M600.9 240.4h0M661.9 211.2h0M615.9 213.6h0M584.3 225.1h0M645.3 213.2h0M577.0 233.6h0M636.4 211.4h0M612.3 229.3h0M618.4 241.7h0M618.8 215.9h0M575.3 223.7h0M592.5 211.1h0M625.6 225.1h0M610.7 227.3h0M572.1 206.2h0M615.0 223.5h0M564.5 221.3h0M623.1 228.4h0M613.4 219.8h0M628.3 228.9h0M617.8 238.6h0M586.2 222.1h0M668.6 206.2h0M640.3 221.9h0M636.3 213.3h0M595.8 222.5h0M600.9 222.3h0M658.7 208.3h0M584.2 238.0h0M581.3 208.6h0M625.1 206.7h0M664.8 210.6h0M614.3 218.8h0M625.8 226.7h0M653.9 211.9h0M581.6 225.5h0M630.2 225.9h0M634.6 236.9h0M649.7 208.0h0M568.2 222.3h0M657.7 205.3h0M590.5 218.5h0M565.8 206.1h0M623.0 215.3h0M573.0 222.6h0M615.4 231.2h0M615.5 219.7h0M576.2 215.2h0M554.6 215.9h0M596.0 235.7h0M642.5 225.7h0M626.8 226.2h0M608.1 210.7h0M616.9 220.9h0M556.2 207.4h0M622.7 231.4h0M578.4 227.7h0M604.6 208.6h0M644.1 218.7h0M622.5 219.7h0M638.5 219.2h0M579.8 226.9h0M623.1 233.3h0M602.5 207.5h0M620.7 223.4h0M659.3 205.3h0M627.3 226.2h0M593.3 239.1h0M585.5 221.0h0M611.0 215.1h0M615.4 226.6h0M639.4 223.5h0M589.4 227.8h0M568.1 222.3h0M607.7 206.1h0M579.1 230.8h0M621.2 217.9h0M602.6 222.5h0M577.3 207.0h0M631.7 212.5h0M595.0 228.0h0M573.5 217.8h0M583.9 208.8h0M622.3 226.4h0M615.4 231.8h0M545.1 208.5h0M629.2 226.3h0M617.1 219.8h0M591.8 210.3h0M592.4 236.1h0M650.4 221.4h0M605.2 206.2h0M600.2 222.6h0M591.7 226.4h0M604.2 216.3h0M637.3 206.5h0M607.7 214.8h0M545.9 209.8h0M621.4 224.4h0M634.5 216.1h0M567.1 223.4h0M610.9 215.4h0M615.1 230.9h0M589.1 230.3h0M582.2 237.5h0M618.8 235.0h0M609.6 225.3h0M633.6 222.0h0M600.3 223.5h0M576.8 227.3h0M628.4 228.2h0M587.4 227.0h0M640.0 225.8h0M569.5 208.0h0M602.3 220.7h0M596.0 214.6h0M579.4 224.4h0M604.4 232.7h0M601.2 215.6h0M574.2 228.5h0M630.3 216.3h0M603.5 230.0h0M606.7 227.0h0M616.8 222.1h0M591.3 208.2h0M617.5 229.1h0M592.0 215.2h0M587.6 231.9h0M580.3 224.8h0M632.1 222.5h0M577.3 220.7h0M619.2 239.5h0M615.4 223.7h0M561.2 213.4h0M609.4 236.3h0M581.2 207.1h0M598.4 225.0h0M557.4 225.1h0M627.4 211.2h0M613.8 212.3h0M587.0 217.2h0M590.8 234.3h0M665.7 207.9h0M580.2 216.4h0M638.3 212.4h0M595.5 210.8h0M609.9 219.0h0M574.1 218.4h0M611.7 232.6h0M629.8 226.9h0M604.5 212.8h0M609.7 216.3h0M636.0 226.3h0M649.2 214.6h0M644.3 217.3h0M573.2 230.9h0M592.0 230.4h0M591.2 210.5h0M627.0 225.5h0M557.9 207.6h0M625.3 227.8h0M556.1 205.3h0M593.9 226.7h0M588.1 219.6h0M622.6 230.1h0M607.6 219.5h0M648.2 205.5h0M578.7 214.6h0M631.3 225.9h0M602.5 223.7h0M570.2 216.8h0M605.6 225.1h0M619.6 223.1h0M610.7 220.4h0M636.4 222.6h0M631.3 221.6h0M555.7 213.3h0M637.6 225.6h0M639.2 224.4h0M570.2 212.9h0M548.5 213.5h0M604.6 210.8h0M650.5 220.1h0M628.0 230.9h0M637.1 215.3h0M638.3 217.2h0M626.6 232.2h0M587.6 217.0h0M602.7 214.4h0M634.7 220.1h0M616.2 228.9h0M648.0 207.7h0M590.5 238.2h0M578.6 208.4h0M602.1 221.7h0M596.4 228.5h0M575.2 212.4h0M602.8 223.8h0M622.8 209.2h0M590.2 231.1h0M657.7 217.3h0M592.9 221.8h0M558.2 212.8h0M583.9 231.4h0M581.9 225.2h0M626.9 219.9h0M618.4 223.9h0M565.4 205.4h0M612.0 221.1h0M568.7 217.8h0M567.6 205.7h0M623.8 214.3h0M633.6 224.8h0M568.0 206.8h0M597.3 227.4h0M630.5 231.0h0M589.5 228.5h0M650.6 214.2h0M661.7 210.8h0M562.4 216.9h0M611.1 205.8h0M579.3 214.7h0M607.7 237.9h0M584.8 224.2h0M625.8 217.7h0M632.3 215.0h0M623.6 227.1h0M601.8 223.0h0M604.6 219.0h0M600.8 208.1h0M607.6 245.0h0M575.8 229.5h0M620.0 219.5h0M609.9 223.9h0M582.6 211.3h0M569.0 205.7h0M607.0 210.9h0M601.4 231.4h0M604.6 235.8h0M666.8 207.4h0M633.3 225.2h0M567.0 215.6h0M596.6 228.4h0M566.0 219.6h0M559.0 215.8h0M589.9 229.9h0M641.0 219.0h0M590.1 228.0h0M631.3 227.2h0M609.7 215.5h0M585.4 223.5h0M566.8 217.3h0M581.5 224.0h0M623.9 230.1h0M636.9 225.4h0M590.6 210.3h0M606.9 209.1h0M627.3 228.0h0M641.4 222.2h0M599.4 220.6h0M629.0 226.3h0M601.7 216.5h0M623.9 229.0h0M566.5 205.5h0M610.6 206.4h0M654.4 218.3h0M627.6 230.6h0M569.9 217.6h0M618.6 239.5h0M621.3 227.7h0M574.1 223.3h0M556.2 212.2h0M578.1 229.8h0M552.5 214.5h0M554.4 217.3h0M598.3 220.4h0M614.3 240.3h0M602.5 224.8h0M583.7 223.8h0M617.3 227.2h0M631.5 222.6h0M620.5 234.8h0M642.1 213.0h0M602.8 250.0h0M608.5 231.3h0M611.5 207.1h0M634.4 228.4h0M604.4 231.4h0M618.9 221.2h0M579.2 212.4h0M580.3 211.1h0M568.2 215.7h0M617.8 206.4h0M611.1 211.7h0M603.5 232.9h0M596.8 223.8h0M607.2 209.7h0M570.5 205.4h0M598.1 222.3h0M609.0 212.2h0M632.8 213.3h0M594.2 205.5h0M639.7 220.1h0M628.9 223.9h0M649.1 212.1h0M589.5 223.3h0M586.2 222.8h0M561.4 209.4h0M620.0 213.8h0M570.1 224.0h0M569.0 224.8h0M624.6 235.6h0M573.8 214.7h0M592.2 234.3h0M581.2 220.2h0M622.0 231.3h0M588.0 222.3h0M629.6 223.1h0M588.2 229.8h0M630.2 228.0h0M582.1 227.5h0M639.1 223.4h0M556.0 212.8h0M624.3 229.5h0M597.9 230.3h0M563.4 218.7h0M578.1 222.2h0M582.9 225.8h0M611.5 238.9h0M644.0 220.9h0M633.4 226.4h0M639.5 218.6h0M635.8 214.6h0M630.7 225.8h0M577.0 226.4h0M637.4 210.1h0M637.0 208.9h0M606.2 236.4h0M612.5 208.9h0M629.4 226.7h0M625.9 227.1h0M601.1 246.8h0M581.1 220.1h0M637.0 223.9h0M567.6 207.2h0M593.0 235.5h0M563.6 210.6h0M607.1 229.3h0M586.0 221.8h0M625.9 235.0h0M639.6 223.9h0M629.4 227.6h0M624.6 226.7h0M577.6 225.7h0M586.1 230.1h0M628.1 227.2h0M561.3 213.6h0M599.9 220.3h0M595.6 232.7h0M599.7 226.8h0M550.9 210.4h0M621.5 231.6h0M654.7 215.5h0M654.8 210.0h0M620.8 212.7h0M609.2 222.2h0M616.5 223.3h0M610.7 224.8h0M602.4 208.9h0M614.1 223.6h0M589.8 218.4h0M583.4 216.5h0M639.1 219.1h0M545.4 205.4h0M664.5 210.0h0M578.7 222.7h0M622.5 207.0h0M560.6 219.5h0M571.8 221.3h0M589.2 222.0h0M615.3 210.8h0M617.8 231.6h0M584.6 228.8h0M599.4 228.8h0M619.8 213.7h0M560.3 212.7h0M577.5 209.4h0M604.9 221.2h0M607.4 216.6h0M591.1 224.5h0M659.0 205.7h0M617.4 235.9h0M575.0 206.0h0M598.3 233.5h0M624.4 228.6h0M589.4 227.0h0M591.3 215.6h0M621.9 213.0h0M590.9 237.7h0M619.9 223.1h0M591.5 235.5h0M590.1 228.6h0M576.1 232.9h0M596.2 209.3h0M591.6 224.8h0M591.6 217.0h0M630.1 228.6h0M553.6 214.6h0M553.7 206.4h0M626.3 217.4h0M598.0 226.7h0M603.5 228.2h0M613.9 226.5h0M666.0 205.6h0M582.2 212.3h0M605.2 231.7h0M616.4 228.9h0M591.4 241.8h0M563.1 210.8h0M584.9 215.4h0M603.6 227.3h0M599.4 223.2h0M611.0 234.0h0M593.6 222.6h0M593.3 223.2h0M585.9 229.4h0M593.8 211.0h0M596.7 224.9h0M599.4 223.1h0M656.1 215.8h0M595.9 209.1h0M629.1 218.4h0M623.5 227.3h0M602.4 229.5h0M665.9 206.5h0M577.4 217.9h0M645.3 217.1h0M583.4 211.5h0M618.6 206.4h0M623.7 232.4h0M617.1 231.7h0M629.8 230.1h0M643.6 220.2h0M608.4 221.7h0M638.4 210.4h0M598.3 222.6h0M589.3 233.3h0M584.8 234.5h0M595.5 216.2h0M656.9 217.2h0M632.5 212.8h0M632.3 216.0h0M603.2 228.7h0M581.9 220.0h0M550.8 206.1h0M629.2 225.7h0M624.9 226.3h0M614.5 206.7h0M564.9 209.4h0M613.1 235.9h0M573.7 211.9h0M622.6 233.4h0M610.7 223.7h0M626.7 228.8h0M638.5 210.7h0M666.1 207.9h0M612.8 238.8h0M556.7 206.0h0M611.7 208.4h0M620.2 224.1h0M591.2 233.8h0M642.9 206.7h0M549.0 215.0h0M625.4 232.5h0M601.8 224.9h0M582.7 235.5h0M658.5 207.6h0M603.1 221.7h0M590.4 228.5h0M640.2 218.8h0M606.7 239.2h0M560.0 208.2h0M594.1 230.5h0M598.8 233.8h0M632.5 223.2h0M600.6 208.0h0M585.0 220.8h0M597.8 209.3h0M622.8 224.2h0M593.6 225.6h0M612.1 217.6h0M640.3 218.9h0M617.2 229.7h0M604.2 235.6h0M658.1 210.9h0M639.2 210.0h0M610.5 208.4h0M577.8 232.2h0M625.4 225.0h0M634.8 226.3h0M594.5 232.5h0M558.1 208.0h0M622.1 229.4h0M563.0 210.6h0M661.8 205.3h0M626.6 225.3h0M638.6 213.9h0M621.8 230.3h0M631.8 219.1h0M642.7 218.9h0M624.4 231.4h0M604.1 214.6h0M659.2 208.8h0M648.7 217.1h0M634.0 208.3h0M594.5 228.1h0M619.8 210.3h0M616.2 220.4h0M575.6 207.0h0M602.2 230.2h0M586.4 223.1h0M621.7 234.6h0M573.5 210.8h0M589.3 218.0h0M647.5 215.7h0M594.9 216.8h0M584.4 228.4h0M642.1 219.3h0M640.6 222.1h0M585.4 212.7h0M643.6 213.5h0M566.1 214.4h0M598.2 228.4h0M598.2 234.7h0M659.9 206.2h0M652.9 206.7h0M587.8 221.2h0M562.4 220.6h0M647.6 206.5h0M648.8 212.4h0M574.6 225.9h0M606.3 225.7h0M636.6 220.0h0M589.6 209.2h0M599.2 231.0h0M605.8 228.2h0M583.4 230.6h0M574.4 215.3h0M614.2 212.8h0M563.7 219.1h0M578.1 225.5h0M604.9 226.1h0M655.4 217.7h0M588.9 223.8h0M642.2 220.0h0M629.3 218.0h0M595.8 218.9h0M573.6 225.9h0M605.5 224.2h0M563.0 226.2h0M608.1 215.0h0M592.9 211.0h0M627.4 224.1h0M640.8 221.4h0M604.8 213.4h0M627.3 228.5h0M661.9 205.9h0M582.4 219.8h0M574.2 232.3h0M593.7 226.7h0M631.6 208.0h0M646.3 211.6h0M611.1 226.9h0M623.5 228.0h0M560.5 221.2h0M590.5 215.2h0M578.2 216.0h0M584.9 229.9h0M633.0 221.6h0M633.3 223.7h0M586.3 213.9h0M632.4 222.9h0M553.0 205.7h0M631.4 228.2h0M628.8 217.3h0M588.0 217.0h0M583.2 237.8h0M612.7 237.7h0M649.1 221.1h0M627.8 230.7h0M568.6 211.6h0M651.4 210.5h0M642.7 211.8h0M600.9 210.3h0M595.0 226.6h0M637.1 209.3h0M607.4 222.9h0M588.0 228.6h0M576.9 208.6h0M592.2 229.3h0M625.3 205.3h0M587.5 226.1h0M563.1 215.4h0M566.6 224.7h0M583.1 211.5h0M621.6 206.6h0M590.9 228.3h0M603.0 232.6h0M613.2 223.1h0M631.4 211.9h0M560.1 217.4h0M661.2 209.8h0M631.7 230.2h0M567.8 233.1h0M603.3 220.0h0M597.2 234.5h0M594.1 212.2h0M634.5 222.4h0M647.2 207.4h0M634.2 223.2h0M624.6 231.8h0M592.6 216.9h0" stroke="#1c1cc6" stroke-width="1.3" stroke-linecap="round" opacity="1.0" fill="none"/>
<path d="M556.8 192.7h0M577.5 171.7h0M566.8 183.6h0M562.1 198.4h0M580.2 178.2h0M565.5 184.5h0M588.8 169.3h0M585.4 170.8h0M556.6 198.2h0M552.8 201.6h0M546.3 198.7h0M550.4 195.4h0M564.9 187.7h0M565.5 185.1h0M579.6 178.5h0M560.0 187.8h0M579.8 175.4h0M557.4 196.5h0M555.1 199.1h0M569.3 185.5h0M573.9 189.3h0M568.2 190.9h0M583.7 170.5h0M548.6 201.6h0M572.6 176.0h0M565.4 179.8h0M559.4 191.8h0M570.8 182.8h0M571.2 181.5h0M570.8 185.3h0M568.4 182.9h0M547.6 200.9h0M568.7 187.8h0M554.9 192.1h0M561.4 191.8h0M563.6 185.9h0M581.2 166.9h0M558.9 188.6h0M587.6 164.2h0M570.4 187.2h0M559.7 195.4h0M551.5 201.7h0M555.4 198.5h0M580.2 169.9h0M594.4 164.8h0M568.3 187.5h0M568.6 179.4h0M580.6 171.3h0M582.7 174.2h0M581.9 166.0h0M587.0 166.8h0M570.5 178.2h0M567.7 180.3h0M571.3 182.6h0M553.0 192.9h0M550.8 197.4h0M571.9 179.9h0M583.2 173.5h0M578.8 175.4h0M585.7 172.7h0M587.4 169.9h0M581.2 176.0h0M543.6 198.2h0M566.9 192.1h0M555.3 194.6h0M590.7 164.7h0M562.7 183.3h0M547.4 196.6h0M575.9 176.0h0M575.7 179.6h0M584.9 169.7h0M585.5 177.5h0M559.2 190.6h0M576.4 173.9h0M562.9 185.5h0M564.6 185.7h0M551.3 191.1h0M568.5 179.3h0M578.3 175.4h0M560.6 184.2h0M552.9 194.5h0M570.6 179.0h0M563.5 197.3h0M568.3 184.7h0M574.7 176.9h0M563.6 187.0h0M588.3 170.2h0M591.0 167.1h0M573.9 179.9h0M547.8 196.8h0M554.5 194.0h0M565.7 180.9h0M561.2 185.5h0M574.1 183.2h0M566.2 188.2h0M554.9 196.3h0M578.2 171.4h0M544.5 199.9h0M575.9 179.2h0M575.0 182.8h0M567.5 186.1h0M562.4 189.7h0M570.8 180.4h0M553.8 188.4h0M595.0 169.1h0M575.8 170.0h0M546.6 197.7h0M574.7 187.6h0M561.5 188.5h0M583.6 169.8h0M565.6 180.4h0M570.6 183.9h0M580.7 174.7h0M580.7 174.4h0M580.5 167.8h0M578.1 172.7h0M590.0 165.8h0M565.1 185.1h0M576.3 183.0h0M580.8 167.1h0M576.0 178.0h0M585.8 167.1h0M563.3 186.5h0M559.9 190.5h0M555.4 192.9h0M581.7 179.0h0M562.3 185.7h0M569.8 183.7h0M590.3 167.8h0M583.7 166.4h0M582.8 173.7h0M574.4 180.5h0M566.0 182.3h0M557.7 187.7h0M592.9 166.5h0M552.7 192.2h0M566.7 187.3h0M579.5 177.3h0M561.4 188.4h0M590.2 170.4h0M587.5 166.7h0M563.0 184.8h0M594.2 164.6h0M587.1 168.0h0M571.0 184.2h0M546.6 196.4h0M551.4 195.7h0M554.0 198.6h0M573.9 176.9h0M569.8 184.8h0M581.5 173.5h0M577.1 183.1h0M564.5 193.8h0M547.1 200.0h0M561.0 193.6h0M581.3 171.6h0M598.3 167.8h0M587.9 164.1h0M565.8 189.1h0M564.7 186.8h0M581.8 171.7h0M558.2 196.4h0M564.2 186.9h0M584.4 170.5h0M579.6 180.0h0M553.1 193.3h0M593.9 165.4h0M565.0 181.3h0M552.1 198.6h0M545.7 197.0h0M553.3 191.0h0M594.8 169.3h0M580.7 166.8h0M576.4 173.3h0M567.1 180.0h0M558.1 194.3h0M573.5 182.5h0M573.1 180.4h0M587.3 176.0h0M573.3 174.7h0M586.4 165.5h0M564.4 186.8h0M570.9 173.6h0M570.5 185.5h0M560.0 187.1h0M565.9 186.6h0M563.5 189.6h0M589.1 167.5h0M588.3 172.5h0M568.2 186.1h0M583.6 167.9h0M570.5 187.3h0M572.0 181.6h0M582.9 168.1h0M565.0 189.3h0M548.6 201.4h0M570.9 182.8h0M563.2 192.6h0M575.0 183.3h0M562.9 191.3h0M591.4 164.3h0M567.7 188.9h0M570.2 183.4h0M555.0 198.9h0M555.2 197.3h0M561.7 186.6h0M593.2 166.2h0M557.4 193.2h0M549.8 191.5h0M574.1 179.9h0M558.2 196.3h0M558.6 197.5h0M569.4 185.5h0M551.6 198.4h0M559.5 190.0h0M562.0 189.1h0M571.3 186.0h0M580.6 177.1h0M591.4 171.5h0M550.9 193.8h0M560.1 188.3h0M597.0 165.0h0M583.0 169.4h0M566.7 186.3h0M578.6 174.0h0M556.6 196.2h0M557.0 194.1h0M567.2 192.8h0M549.3 195.9h0M571.0 175.6h0M570.8 178.3h0M566.9 188.2h0M566.9 182.6h0M559.1 190.1h0M568.2 183.0h0M595.0 172.0h0M569.7 181.2h0M551.7 194.9h0M583.6 173.9h0M576.9 169.0h0M549.6 197.9h0M567.6 176.5h0M555.1 198.1h0M570.9 185.9h0M574.5 172.5h0M554.6 187.3h0M544.8 200.4h0M567.5 186.1h0M592.5 172.6h0M569.4 184.9h0M591.8 172.0h0M578.7 169.5h0M553.1 195.8h0M551.2 190.7h0M562.1 191.6h0M574.0 181.2h0M549.8 200.0h0M543.4 201.1h0M558.3 190.9h0M571.0 175.5h0M582.2 174.7h0M590.8 165.9h0M548.2 200.1h0M584.7 165.6h0M595.4 164.7h0M582.8 172.3h0M546.8 198.6h0M578.9 174.9h0M555.4 190.8h0M580.0 175.2h0M586.2 169.3h0M576.1 178.0h0M561.3 183.9h0M566.6 181.1h0M553.7 190.3h0M572.7 180.9h0M567.0 185.7h0M591.3 168.6h0M578.8 172.4h0M573.2 173.2h0M586.0 167.3h0M554.1 194.5h0M542.4 200.8h0M570.4 180.6h0M586.3 175.1h0M547.6 199.5h0M561.7 187.3h0M570.4 177.3h0M563.1 189.6h0M570.1 186.6h0M575.4 177.6h0M552.1 201.1h0M579.7 170.7h0M553.7 197.1h0M581.9 167.5h0M559.7 189.9h0M591.0 170.3h0M554.2 192.1h0M568.9 182.8h0M570.6 177.8h0M580.2 178.0h0M579.2 168.9h0M547.7 198.1h0M542.4 200.5h0M583.1 172.8h0M558.1 186.5h0M556.0 195.5h0M556.3 191.9h0M538.1 201.5h0M597.9 164.1h0M551.6 196.8h0M582.9 171.6h0M594.2 167.7h0M584.6 169.6h0M584.0 172.5h0M579.1 170.4h0M587.3 164.8h0M540.4 199.6h0M560.2 184.4h0M586.8 169.9h0M588.2 166.5h0M559.9 192.4h0M565.2 185.7h0M580.4 167.7h0M573.3 177.3h0M593.0 165.4h0M562.6 183.7h0M596.9 166.4h0M580.0 171.7h0M580.4 169.4h0M590.2 165.2h0M564.3 190.1h0M573.3 174.3h0M552.8 197.0h0M591.4 165.7h0M554.7 198.3h0M582.1 168.7h0M562.2 190.0h0M582.4 171.1h0M569.8 184.7h0M569.7 185.7h0M590.0 164.0h0M561.9 190.9h0M570.2 186.9h0M570.5 174.7h0M578.9 169.9h0M576.5 170.0h0M583.2 169.8h0M562.1 181.4h0M570.7 174.0h0M573.5 182.5h0M586.1 175.7h0M587.7 170.2h0M540.2 201.6h0M557.2 188.5h0M573.7 178.0h0M571.5 184.0h0M562.1 182.4h0M568.1 179.9h0M569.1 177.3h0M551.3 201.4h0M571.4 174.4h0M565.4 188.4h0M547.4 200.7h0M585.7 165.4h0M545.8 198.2h0M569.0 183.4h0M597.6 166.0h0M563.2 181.9h0M583.5 178.6h0M561.3 194.4h0M562.0 192.0h0M580.2 180.6h0M553.5 193.9h0M579.9 173.6h0M550.3 197.8h0M575.2 171.9h0M564.8 186.8h0M559.2 190.2h0M569.4 178.4h0M580.0 170.2h0M585.0 176.5h0M564.3 181.3h0M557.9 196.2h0M579.5 180.5h0M571.3 176.3h0M555.5 194.5h0M551.6 196.3h0M559.0 199.7h0M570.8 183.9h0M554.2 192.7h0M576.5 176.2h0M592.2 164.7h0M583.9 167.8h0M549.5 196.1h0M580.8 174.8h0M578.9 167.1h0M580.8 170.4h0M556.9 191.5h0M547.0 199.7h0M583.1 167.3h0M564.4 182.2h0M543.1 200.4h0M566.0 188.6h0M554.3 190.2h0M575.1 177.5h0M577.4 176.2h0M578.3 178.4h0M562.1 186.7h0M579.7 175.2h0M563.9 182.8h0M590.9 165.8h0M570.2 185.0h0M561.1 188.3h0M555.7 193.8h0M551.2 194.3h0M582.9 170.4h0M551.7 198.2h0M560.4 190.9h0M564.1 185.8h0M559.8 190.4h0M592.8 167.2h0M548.2 199.5h0M560.0 184.5h0M546.9 197.3h0M593.9 165.3h0M552.6 192.6h0M592.6 166.2h0M582.1 172.8h0M567.2 187.8h0M573.2 177.1h0M552.1 194.7h0M555.4 188.5h0M553.7 188.1h0M565.9 178.6h0M548.5 194.5h0M575.3 176.7h0M574.2 190.4h0M549.2 193.2h0M580.0 167.6h0M590.0 168.6h0M569.8 180.5h0M538.5 201.3h0M564.3 184.5h0M579.8 175.8h0M570.4 188.8h0M558.9 196.4h0M572.7 178.2h0M547.0 197.5h0M549.2 195.4h0M575.4 184.3h0M582.1 170.1h0M558.3 189.5h0M588.2 167.3h0M567.1 179.4h0M573.8 178.8h0M552.8 200.9h0M581.6 171.3h0M570.6 186.2h0M583.4 168.7h0M564.8 180.3h0M548.0 198.0h0M567.3 187.7h0M585.0 170.3h0M563.4 187.3h0M550.4 201.7h0M570.8 173.9h0M556.6 194.8h0M550.9 196.9h0M547.6 201.6h0M570.1 183.7h0M565.6 180.6h0M574.7 178.2h0M578.7 172.9h0M555.4 191.3h0M569.8 188.6h0M554.7 194.3h0M578.5 185.2h0M573.8 179.4h0M548.0 197.7h0M565.3 185.0h0M577.2 176.3h0M547.9 199.2h0M554.5 195.4h0M560.9 191.8h0M580.3 174.2h0M556.2 195.1h0M567.0 181.9h0M576.3 172.1h0M542.9 199.9h0M579.5 168.8h0M590.6 169.8h0M567.4 183.3h0M570.0 186.9h0M574.0 186.2h0M571.1 187.2h0M576.7 173.5h0M553.8 199.1h0M583.9 169.3h0M587.8 169.8h0M575.1 173.5h0M562.6 187.1h0M559.8 197.2h0M547.1 196.5h0M557.3 192.8h0M587.2 165.6h0M568.5 187.1h0M552.9 190.8h0M559.6 199.1h0M590.4 165.5h0M592.4 164.9h0M573.0 176.8h0M576.0 180.5h0M584.4 170.3h0M557.7 186.3h0M585.4 166.9h0M558.5 187.0h0M573.2 172.7h0M593.1 164.8h0M588.2 165.5h0M568.8 187.4h0M582.4 173.6h0M559.7 187.4h0M577.0 173.2h0M586.9 166.4h0M565.8 189.2h0M556.4 189.7h0M560.4 188.7h0M577.2 174.9h0M557.4 192.1h0M574.4 182.3h0M579.3 174.9h0M582.5 172.6h0M557.3 196.3h0M581.5 168.6h0M578.0 175.2h0M582.0 179.2h0M582.2 166.0h0M563.4 186.6h0M559.9 185.1h0M566.9 181.2h0M584.0 166.5h0M563.5 188.4h0M590.8 166.2h0M569.7 179.0h0M580.8 175.2h0M553.3 197.2h0M590.7 166.5h0M567.5 183.3h0M572.2 178.9h0M584.7 170.0h0M580.9 175.8h0M568.1 182.5h0M560.2 193.5h0M564.4 185.5h0M550.8 195.6h0M581.5 170.8h0M543.2 200.7h0M559.5 194.9h0M553.0 192.2h0M549.4 199.9h0M554.6 201.6h0M552.7 197.0h0M549.7 200.5h0M590.9 166.0h0M593.8 164.7h0M554.0 195.5h0M569.6 174.7h0M559.4 195.0h0M578.8 180.6h0M554.2 190.0h0M590.3 165.4h0M556.0 195.1h0M566.9 181.4h0M577.9 176.8h0M580.9 169.2h0M549.4 192.8h0M580.1 170.7h0M576.6 175.9h0M580.4 174.7h0M565.5 187.4h0M569.0 178.1h0M585.1 168.9h0M579.0 175.5h0M545.0 197.2h0M565.9 185.3h0M554.4 193.3h0M566.3 188.9h0M591.5 173.4h0M569.1 187.0h0M583.6 171.6h0M557.4 185.0h0M562.3 188.4h0M560.5 193.1h0M555.5 192.2h0M564.6 182.9h0M567.0 179.5h0M579.3 172.9h0M569.5 184.3h0M576.9 172.1h0M562.3 182.3h0M551.4 198.1h0M560.1 196.3h0M549.1 201.0h0M546.3 201.1h0M572.3 176.1h0M573.0 178.8h0M590.9 164.2h0M552.1 197.8h0M561.6 194.3h0M565.8 185.2h0M562.9 191.9h0M593.1 166.3h0M570.3 185.4h0M560.3 192.5h0M581.0 165.9h0M552.2 194.3h0M554.6 190.5h0M578.0 177.2h0M582.6 171.5h0M581.8 171.0h0M564.8 189.7h0M589.2 169.2h0M560.1 188.2h0M578.4 168.8h0M557.6 188.9h0M564.8 185.7h0M596.7 164.1h0M588.0 173.4h0M582.6 170.3h0M560.8 188.4h0M562.2 181.4h0M572.1 174.6h0M555.0 193.8h0M580.1 170.5h0M557.5 194.4h0M580.4 168.7h0M582.3 170.2h0M590.1 170.0h0M564.2 188.9h0M567.9 183.3h0M562.6 182.4h0M575.7 176.5h0M567.1 179.2h0M558.8 193.5h0M547.0 197.0h0M569.2 190.0h0M575.5 179.9h0M545.7 200.4h0M554.4 196.9h0" stroke="#2c9c72" stroke-width="1.25" stroke-linecap="round" opacity="1.0" fill="none"/>
<path d="M550.1 196.5h0M575.9 176.0h0M591.2 181.5h0M563.8 191.5h0M572.0 187.3h0M564.7 193.0h0M557.1 188.4h0M562.4 183.6h0M590.8 169.7h0M552.3 192.3h0M576.9 177.6h0M577.6 170.8h0M567.9 180.0h0M579.2 169.3h0M582.1 165.3h0M553.5 198.0h0M554.9 187.4h0M576.1 171.0h0M585.1 164.1h0M569.7 177.4h0M574.2 184.6h0M581.2 169.2h0M552.3 198.6h0M593.0 169.8h0M566.4 177.8h0M579.4 171.6h0M585.4 166.3h0M574.9 172.8h0M569.3 175.6h0M568.5 177.2h0M557.0 189.2h0M585.0 166.0h0M564.9 180.9h0M578.9 169.3h0M558.6 189.5h0M587.6 181.6h0M583.9 179.8h0M563.8 185.2h0M583.6 183.8h0M570.7 194.2h0M557.9 190.3h0M550.3 194.4h0M576.6 170.4h0M582.0 173.1h0M566.9 183.3h0M583.4 168.4h0M558.7 201.8h0M547.2 195.4h0M582.2 172.7h0M544.9 195.5h0M579.3 171.3h0M569.3 180.3h0M559.9 198.5h0M578.1 176.1h0M567.2 179.7h0M572.7 177.8h0M543.5 199.3h0M563.8 186.6h0M561.6 191.2h0M573.9 190.3h0M587.9 164.9h0M554.4 192.3h0M583.3 170.1h0M577.7 179.2h0M543.8 197.6h0M545.7 201.8h0M579.9 194.9h0M583.3 164.5h0M589.5 166.0h0M567.3 181.8h0M563.4 185.9h0M590.2 167.0h0M563.8 179.4h0M578.1 175.2h0M578.3 169.9h0M584.8 167.8h0M547.1 197.9h0M557.7 184.5h0M575.7 173.3h0M584.5 165.5h0M560.4 183.1h0M545.4 197.2h0M565.1 178.8h0M565.1 180.8h0M581.7 164.7h0M569.1 188.8h0M582.8 171.3h0M562.2 182.6h0M567.9 175.9h0M582.6 167.0h0M564.6 195.1h0M559.7 199.5h0M574.8 171.2h0M577.2 171.5h0M587.0 169.0h0M565.9 189.9h0M572.2 176.9h0M578.8 167.3h0M547.9 192.9h0M550.9 201.8h0M552.0 197.7h0M565.9 177.8h0M563.9 191.6h0M576.6 170.1h0M569.0 180.0h0M575.0 173.8h0M555.0 188.4h0M569.4 184.4h0M571.3 186.9h0M543.3 198.4h0" stroke="#a8305a" stroke-width="1.2" stroke-linecap="round" opacity="1.0" fill="none"/>
<path d="M563.5 191.0h0M566.1 188.4h0M604.2 177.6h0M556.5 190.3h0M634.3 189.7h0M588.6 183.2h0M617.1 186.0h0M540.7 202.7h0M620.2 189.0h0M626.0 183.2h0M562.3 185.0h0M602.1 180.2h0M569.2 194.8h0M591.6 192.3h0M630.9 173.1h0M603.3 169.1h0M655.4 193.5h0M637.0 189.8h0M593.1 183.0h0M634.0 173.5h0M581.3 164.4h0M581.2 177.9h0M582.4 201.3h0M634.4 174.7h0M581.3 192.6h0M551.0 192.4h0M637.4 198.6h0M597.5 174.5h0M627.7 204.1h0M609.1 195.7h0M577.6 187.8h0M599.4 184.6h0M558.3 187.5h0M580.5 186.8h0M560.8 185.2h0M590.3 194.2h0M621.4 174.2h0M623.4 181.8h0M576.7 169.7h0M572.8 201.3h0M596.0 179.6h0M591.2 178.1h0M539.7 202.1h0M582.3 181.2h0M645.0 194.0h0M634.8 202.7h0M567.1 183.1h0M594.4 173.7h0M629.3 189.7h0M616.5 163.0h0M561.6 203.0h0M590.4 161.8h0M558.1 197.8h0M630.2 201.8h0M578.3 169.6h0M567.1 194.9h0M610.2 197.6h0M614.7 152.6h0M591.7 179.9h0M582.0 169.7h0M583.0 178.2h0M588.0 180.8h0M584.8 181.3h0M574.1 174.2h0M590.4 185.4h0M655.3 192.8h0M569.8 183.0h0M664.4 200.4h0M595.3 205.0h0M556.7 187.1h0M600.3 164.0h0M614.3 173.5h0M579.6 171.3h0M586.8 181.9h0M585.8 176.1h0M607.7 180.3h0M574.6 185.7h0M580.4 183.4h0M615.8 183.0h0M598.3 181.3h0M558.3 189.7h0M584.0 165.0h0M592.0 191.0h0M661.5 197.2h0M581.6 172.8h0M596.8 172.4h0M566.1 180.2h0M608.4 176.0h0M571.9 194.7h0M545.5 196.0h0M587.3 166.7h0M575.6 188.2h0M607.1 198.7h0M587.4 187.3h0M576.0 180.9h0M660.6 196.2h0M602.8 171.9h0M600.3 194.1h0M583.2 189.1h0M587.8 166.7h0M574.4 172.4h0M627.0 203.0h0M557.8 194.8h0M543.8 197.2h0M604.9 205.1h0M568.9 177.3h0M554.8 187.8h0M588.0 182.7h0M609.8 172.7h0M656.6 193.5h0M663.5 203.0h0M621.4 167.9h0M561.6 187.7h0M605.4 189.7h0M604.2 197.7h0M628.8 183.8h0M580.1 191.2h0M601.7 196.1h0M539.9 200.6h0M597.9 174.3h0M607.0 188.4h0M627.6 200.6h0M591.5 179.0h0M553.4 188.8h0M592.1 185.7h0M603.0 191.1h0M566.6 180.1h0M586.0 165.0h0M563.1 186.8h0M545.7 199.7h0M582.0 173.2h0M638.2 179.3h0M557.6 198.5h0M589.7 182.2h0M611.1 177.5h0M628.9 177.0h0M618.5 182.8h0M574.9 179.3h0M608.7 177.3h0M545.7 199.6h0M552.1 197.5h0M582.9 187.9h0M563.3 184.1h0M573.7 194.5h0M581.7 188.6h0M564.5 193.0h0M637.8 185.1h0M577.3 173.0h0M548.1 194.9h0M582.2 169.7h0M624.2 189.4h0M593.1 171.9h0M610.7 194.0h0M597.4 168.8h0M597.2 165.8h0M562.6 194.5h0M604.8 186.0h0M544.2 196.8h0M609.3 170.9h0M641.5 195.2h0M596.1 191.2h0M593.6 181.9h0M587.4 170.7h0M544.8 200.6h0M579.8 201.4h0M587.5 199.3h0M636.8 176.4h0M621.8 167.2h0M558.7 188.1h0M613.2 189.8h0M634.4 195.5h0M597.9 170.7h0M565.3 192.4h0M599.4 190.2h0M606.0 185.0h0M568.8 185.1h0M546.2 198.8h0M629.1 194.0h0M570.9 181.1h0M586.1 163.4h0M579.1 185.1h0M565.4 201.0h0M603.5 189.1h0M626.4 186.8h0M596.4 194.2h0M588.9 180.2h0M595.4 180.4h0M653.5 193.1h0M577.8 173.5h0M571.0 192.1h0M597.9 187.7h0M543.2 199.4h0M583.7 170.8h0M565.6 192.6h0M572.8 183.8h0M583.2 170.8h0M593.3 185.4h0M640.6 184.2h0M615.5 179.6h0M570.8 175.9h0M561.6 182.5h0M641.4 180.9h0M629.8 171.2h0M547.0 199.8h0M627.9 195.1h0M593.5 193.5h0M561.9 188.5h0M597.5 192.6h0M625.7 171.3h0M600.4 177.2h0M629.1 182.3h0M562.0 200.8h0M604.8 174.6h0M634.6 174.9h0M589.1 183.2h0M607.7 181.4h0M608.1 194.0h0M551.5 200.6h0M544.4 196.6h0M610.1 169.0h0M594.9 164.7h0M593.5 190.1h0M597.9 192.5h0M590.1 184.4h0M575.5 182.9h0M581.1 170.1h0M597.8 201.5h0M602.9 189.6h0M577.7 175.9h0M578.5 199.7h0M606.7 181.5h0M566.9 186.0h0M600.6 193.6h0M603.6 167.8h0M579.0 172.8h0M560.9 183.3h0M630.5 180.2h0M583.6 182.8h0M633.0 186.5h0M628.8 186.2h0M553.2 196.8h0M559.5 185.1h0M631.8 176.9h0M588.3 179.1h0M574.8 177.1h0M624.6 166.0h0M629.4 179.9h0M568.4 189.5h0M601.0 202.2h0M592.5 181.4h0M584.3 177.3h0M623.3 179.9h0M612.2 162.3h0M574.4 175.2h0M597.7 187.8h0M563.9 190.3h0M540.8 200.0h0M568.1 195.5h0M596.2 198.2h0M582.8 170.2h0M566.2 182.2h0M542.1 204.1h0M607.2 188.1h0M563.7 196.2h0M609.6 193.1h0M620.5 176.2h0M647.7 191.8h0M592.1 184.2h0M594.7 185.1h0M581.6 175.1h0M565.9 197.8h0M604.5 169.6h0M575.8 170.5h0M621.0 181.5h0M603.9 184.3h0M618.4 172.3h0M641.5 198.2h0M629.1 179.6h0M556.4 195.4h0M581.3 185.0h0M595.2 170.5h0M621.5 177.8h0M560.7 201.9h0M556.8 186.5h0M558.1 188.6h0M584.8 196.2h0M636.0 189.0h0M576.3 180.6h0M648.6 186.3h0M648.5 190.8h0M589.8 197.7h0M586.7 175.4h0M592.0 168.4h0M581.0 172.7h0M584.9 174.5h0M598.3 194.9h0M575.9 199.2h0M632.8 173.9h0M595.1 194.9h0M600.5 181.6h0M607.0 167.4h0M614.4 184.7h0M590.5 192.5h0M632.5 175.4h0M574.5 182.6h0M562.1 193.4h0M542.0 201.7h0M595.0 182.0h0M634.2 173.9h0M624.0 201.8h0M596.2 174.7h0M571.3 202.5h0M589.6 165.2h0M654.5 195.7h0M547.0 204.4h0M574.2 171.1h0M642.8 182.0h0M644.4 197.7h0M588.5 180.5h0M582.9 164.7h0M577.2 180.7h0M549.1 192.8h0M643.5 194.8h0M582.8 185.7h0M658.4 195.0h0M562.9 199.6h0M575.7 196.0h0M567.4 181.2h0M571.9 184.9h0M561.9 187.2h0M554.0 201.4h0M567.9 203.8h0M609.4 173.5h0M588.2 169.1h0M583.0 190.9h0M595.2 175.7h0M601.8 197.6h0M610.8 179.6h0M583.7 165.1h0M661.6 201.1h0M637.1 186.8h0M582.9 168.0h0M581.7 178.3h0M572.7 190.6h0M547.0 200.1h0M556.9 195.0h0M579.0 185.4h0M597.3 172.3h0M628.6 179.2h0M576.8 202.1h0M661.0 202.3h0M578.1 181.6h0M582.0 166.6h0M647.3 200.8h0M591.6 185.8h0M659.0 195.3h0M553.2 190.0h0M568.3 197.1h0M594.6 169.1h0M611.7 172.8h0M639.6 200.5h0M542.9 203.1h0M582.1 191.6h0M594.6 189.9h0M603.5 183.1h0M575.9 186.1h0M643.3 189.0h0M586.2 184.5h0M561.8 191.4h0M648.5 204.0h0M592.4 198.1h0M654.2 202.1h0M591.1 173.0h0M633.6 174.3h0M619.6 192.3h0M593.7 172.9h0M619.6 163.8h0M592.7 165.6h0M622.8 176.0h0M579.8 179.1h0M591.3 189.0h0M627.2 177.6h0M617.8 174.4h0M570.2 203.3h0M622.0 172.4h0M558.4 186.4h0M633.9 188.6h0M546.0 195.5h0M571.5 186.7h0M643.6 200.9h0M574.1 170.8h0M571.3 194.1h0M581.5 179.5h0M598.5 176.6h0M576.2 185.1h0M581.8 194.0h0M577.5 185.1h0M563.7 181.3h0M624.1 174.8h0M570.6 173.9h0M630.4 175.8h0M592.9 177.4h0M573.1 195.6h0M607.0 180.0h0M584.0 175.8h0M589.1 195.4h0M592.3 191.1h0M582.9 165.1h0M614.6 201.9h0M585.1 180.8h0M633.0 182.1h0M588.3 199.5h0M568.9 178.5h0M576.8 170.2h0M580.1 169.9h0M581.9 175.4h0M582.3 163.7h0M599.0 175.9h0M576.0 171.7h0M583.2 176.9h0M586.8 187.3h0M621.1 172.3h0M636.8 204.2h0M642.0 181.5h0M545.0 204.1h0M580.0 197.0h0M558.2 190.2h0M613.3 191.6h0M568.3 181.0h0M574.0 173.0h0M624.4 167.5h0M588.8 188.8h0M627.3 186.9h0M607.6 185.8h0M633.1 180.6h0M540.5 202.5h0M589.8 185.7h0M645.9 199.9h0M589.6 195.8h0M577.0 187.2h0M625.4 192.9h0M612.6 179.8h0M635.2 186.0h0M589.1 175.8h0M610.7 179.7h0M559.5 189.6h0M652.2 193.4h0M541.8 204.0h0M659.8 199.3h0M614.3 200.9h0M604.4 175.2h0M567.8 183.0h0M580.6 181.0h0M629.8 189.9h0M591.1 174.3h0M566.2 183.8h0M589.7 171.3h0M586.5 166.6h0M634.6 176.8h0M593.1 172.4h0M575.8 177.4h0M551.3 192.6h0M613.2 176.8h0M583.5 177.4h0M566.8 185.7h0M631.9 185.4h0M649.3 199.8h0M548.2 194.2h0M596.1 173.4h0M613.4 180.3h0M563.0 190.2h0M559.7 187.6h0M581.5 167.4h0M600.5 174.9h0M557.0 202.6h0M614.0 177.6h0M567.6 188.9h0M603.5 179.9h0M619.1 182.4h0M570.3 184.1h0M639.4 184.6h0M611.9 176.6h0M668.2 203.7h0M604.6 198.7h0M584.0 196.2h0M652.9 189.5h0M600.9 185.8h0M601.8 170.8h0M561.2 183.0h0M601.3 171.5h0M623.9 189.6h0M585.9 182.3h0M640.0 183.9h0M595.6 174.3h0M583.8 183.2h0M602.4 194.3h0M573.2 180.6h0M644.1 188.1h0M638.5 199.7h0M641.0 182.0h0M598.5 195.3h0M580.6 171.2h0M559.3 193.3h0M563.7 186.2h0M593.1 176.8h0M576.8 192.2h0M662.7 198.6h0M565.0 179.7h0M610.7 187.0h0M553.1 193.3h0M538.0 202.6h0M591.2 175.7h0M566.6 179.1h0M632.8 174.3h0M607.4 195.4h0M587.3 166.5h0M617.1 193.7h0M620.9 178.6h0M618.4 182.0h0M584.1 196.6h0M602.0 183.5h0M588.7 167.1h0M568.8 180.8h0M586.2 182.7h0M569.9 180.1h0M596.7 203.2h0M570.6 191.7h0M625.1 179.7h0M625.4 178.3h0M543.8 197.0h0M560.5 201.2h0M569.6 187.1h0M582.2 168.9h0M575.8 180.8h0M568.4 199.9h0M547.1 200.3h0M617.1 197.1h0M589.1 165.0h0M630.5 170.7h0M631.6 173.1h0M624.8 188.7h0M602.0 197.6h0M626.7 194.7h0M601.1 171.6h0M579.9 166.5h0M643.8 203.3h0M593.8 171.3h0M639.9 199.8h0M656.8 194.7h0M600.6 184.3h0M631.9 181.3h0M616.2 163.7h0M560.8 183.2h0M619.0 178.5h0M620.5 175.2h0M627.6 178.1h0M638.3 183.5h0M590.4 189.8h0M584.9 163.2h0M571.4 187.6h0M592.8 161.6h0M572.4 181.8h0M595.4 165.8h0M547.5 195.5h0M590.4 174.9h0M628.0 193.5h0M666.4 201.2h0M582.4 177.5h0M594.8 187.1h0M586.4 172.2h0M625.7 187.2h0M612.3 188.9h0M610.7 178.1h0M616.6 180.8h0M626.7 188.2h0M608.4 174.4h0M591.4 163.9h0M578.8 179.8h0M584.9 172.0h0M579.0 179.6h0M571.2 183.0h0M569.8 180.7h0M590.8 157.7h0M577.6 178.7h0M570.8 174.4h0M589.0 194.2h0M586.7 180.4h0M629.9 173.4h0M636.9 188.2h0M609.5 175.7h0M615.5 195.3h0M613.6 164.4h0M601.0 183.1h0M610.9 182.0h0M566.5 180.0h0M575.0 172.1h0M587.9 185.9h0M563.1 197.7h0M623.4 185.3h0M575.1 185.7h0M589.9 161.0h0M569.2 188.2h0M618.7 191.2h0M617.6 180.1h0M560.6 200.0h0M637.4 178.3h0M586.0 188.0h0M598.0 180.6h0M592.8 188.2h0M577.8 169.3h0M602.3 195.5h0M569.1 184.1h0M569.2 184.0h0M607.5 191.4h0M584.6 187.4h0M557.3 197.1h0M595.1 186.1h0M609.4 182.1h0M581.5 176.9h0M587.1 166.2h0M613.1 196.9h0M571.0 197.6h0M641.9 180.8h0M622.8 196.4h0M642.3 196.9h0" stroke="#1c1cc6" stroke-width="1.1" stroke-linecap="round" opacity="1.0" fill="none"/>
<path d="M641.7 197.8h0M563.6 186.8h0M591.9 176.9h0M561.5 185.4h0M589.1 175.2h0M599.5 183.2h0M627.7 175.3h0M564.7 181.5h0M547.2 196.5h0M571.2 177.5h0M600.8 166.3h0M595.4 168.3h0M607.3 194.5h0M565.9 188.3h0M610.5 189.0h0M557.7 186.2h0M593.8 185.5h0M569.3 175.8h0M624.3 174.9h0M620.4 171.4h0M567.6 186.4h0M606.9 178.2h0M581.1 176.7h0M636.4 183.2h0M623.4 189.0h0M570.5 182.0h0M561.0 187.3h0M612.2 180.2h0M611.8 181.5h0M614.4 188.8h0M616.2 169.7h0M583.4 172.9h0M580.3 165.8h0M581.4 184.9h0M580.5 176.4h0M631.8 188.6h0M576.8 188.8h0M608.5 185.8h0M563.0 190.5h0M640.9 180.4h0M576.8 168.6h0M569.3 178.0h0M621.6 180.4h0M572.4 177.3h0M566.6 184.9h0M627.4 177.2h0M599.6 176.5h0M627.5 171.4h0M629.6 180.6h0M594.0 182.8h0M588.0 180.7h0M583.7 187.4h0M578.3 180.6h0M593.4 171.4h0M582.0 181.4h0M547.4 196.6h0M587.6 170.8h0M580.9 170.4h0M631.0 203.8h0M643.4 192.3h0M578.4 200.6h0M615.5 177.2h0M605.6 169.4h0M633.9 182.2h0M607.0 183.0h0M592.0 169.0h0M578.1 185.6h0M631.0 175.4h0M581.6 167.0h0M623.8 179.2h0M579.8 182.7h0M638.3 193.3h0M587.9 200.3h0M589.5 195.2h0M557.7 192.7h0M562.2 182.4h0M602.8 197.2h0M574.6 186.4h0M546.3 196.8h0M560.8 188.4h0M564.9 184.9h0M626.1 168.2h0M545.9 195.4h0M615.7 176.1h0M562.3 190.7h0M573.9 181.8h0M645.8 200.1h0M584.3 198.2h0M635.6 184.2h0M646.0 194.9h0M618.3 166.4h0M572.5 173.1h0M575.6 204.2h0M609.3 172.0h0M615.2 184.4h0M595.3 194.6h0M568.3 177.6h0M620.5 176.0h0M571.2 175.3h0M536.2 203.2h0M550.5 195.4h0M633.9 182.3h0M576.9 178.9h0M580.5 167.8h0M614.4 176.0h0M596.8 186.6h0M602.1 166.4h0M595.5 180.0h0M590.7 198.4h0M640.2 185.9h0M576.3 194.1h0M593.8 189.8h0M574.5 182.0h0M624.3 191.1h0M600.5 184.2h0M629.6 191.7h0M624.1 200.4h0M574.0 186.5h0M590.1 173.1h0M600.2 173.3h0M620.7 166.2h0M581.7 203.7h0M569.7 181.6h0M561.7 189.0h0M573.0 191.3h0M635.2 190.8h0M548.6 199.6h0M600.2 169.0h0M579.1 201.0h0M577.5 190.5h0M618.4 182.6h0M622.4 193.4h0M650.5 187.7h0M622.1 165.1h0M627.5 174.3h0M603.6 193.3h0M624.0 170.7h0M634.8 180.1h0M610.2 176.9h0M560.2 204.2h0M574.0 174.2h0M570.0 185.7h0M554.8 187.3h0M628.2 185.4h0M623.2 178.2h0M614.0 177.6h0M588.7 171.1h0M616.2 196.3h0M570.3 189.2h0M634.5 174.2h0M583.8 171.3h0M542.0 204.2h0M604.3 185.7h0M565.2 179.2h0M586.3 198.6h0M616.4 192.4h0M590.9 167.1h0M554.9 187.0h0M608.6 166.3h0M559.0 198.2h0M588.1 166.8h0M577.2 190.5h0M641.4 190.6h0M575.5 189.4h0M544.5 196.0h0M552.4 191.8h0M600.7 171.7h0M609.8 166.8h0M580.9 193.4h0M646.0 186.8h0M627.1 189.5h0M549.1 198.8h0M585.5 177.9h0" stroke="#3a4ade" stroke-width="1.1" stroke-linecap="round" opacity="1.0" fill="none"/>
<path d="M625.6 166.3h0M590.7 182.9h0M626.9 195.2h0M597.9 171.6h0M572.3 203.8h0M567.0 196.0h0M573.4 187.4h0M608.6 186.1h0M610.8 180.7h0M594.8 179.6h0M608.4 183.6h0M605.9 191.9h0M591.0 177.8h0M566.7 187.1h0M617.4 167.6h0M569.8 182.5h0M573.6 189.1h0M618.8 195.4h0M598.1 192.6h0M652.1 198.2h0M593.7 185.4h0M580.9 187.1h0M590.4 166.7h0M586.1 181.5h0M607.6 188.7h0M605.9 184.3h0M588.5 162.4h0M591.8 193.8h0M621.7 165.5h0M588.6 171.6h0M570.4 191.0h0M601.8 163.0h0M566.5 182.2h0M573.4 180.1h0M550.7 192.3h0M605.9 195.5h0M551.3 202.0h0M570.3 183.2h0M575.3 180.0h0M569.0 188.0h0M638.7 184.3h0M591.3 176.5h0M629.0 169.1h0M569.7 180.5h0M596.9 181.0h0M549.7 197.7h0M562.5 201.6h0M596.7 192.5h0M566.1 199.3h0M555.9 186.5h0M563.7 183.8h0M593.6 197.6h0M625.6 177.4h0M585.1 193.9h0M600.5 177.9h0M650.8 201.9h0M565.0 185.1h0M623.4 179.5h0M599.0 197.6h0M589.2 179.5h0M584.9 166.0h0M564.8 182.3h0M627.2 179.0h0M595.6 180.4h0M649.6 192.5h0M580.5 174.4h0M539.3 200.9h0M563.3 183.7h0M567.6 191.3h0M649.9 191.9h0M588.4 201.0h0M626.1 180.0h0M624.2 178.3h0M559.3 197.3h0M590.4 176.9h0M583.4 177.2h0M577.2 176.8h0M569.5 174.8h0M571.1 192.7h0M553.0 192.7h0M616.9 166.2h0M643.7 186.4h0M581.0 172.1h0M592.0 195.8h0M618.2 172.2h0M623.8 164.7h0M578.5 183.1h0M590.7 198.8h0M610.6 171.4h0M579.5 168.9h0M574.5 176.0h0M621.4 201.5h0M647.0 194.0h0M576.1 172.3h0M570.9 174.1h0M594.4 179.1h0M613.3 165.7h0M538.9 200.8h0M582.7 164.2h0M571.8 174.5h0M640.7 180.5h0M637.0 192.7h0M590.6 165.9h0M627.9 169.0h0M581.7 201.2h0M600.7 186.8h0" stroke="#5f78e4" stroke-width="1.1" stroke-linecap="round" opacity="1.0" fill="none"/>
<path d="M533.30 205.30L585.97 160.38" stroke="#b02226" stroke-width="1.0" opacity="1.0" fill="none"/>
<path d="M639.33 177.52L671.21 204.71" stroke="#c02228" stroke-width="0.8" opacity="0.9" fill="none"/>
<text transform="translate(158.00,260.80) scale(0.94,1)" font-size="6.5" text-anchor="end" font-weight="bold" fill="#111" stroke="#111" stroke-width="0.12">666 CpGs</text>
<text x="88.10" y="139.60" font-size="7.5" text-anchor="middle" font-weight="bold" fill="#111">nPB (n=3) vs CP (n=6)</text>
<text transform="translate(326.00,260.40) scale(0.94,1)" font-size="6.5" text-anchor="end" font-weight="bold" fill="#111" stroke="#111" stroke-width="0.12">6.912 CpGs</text>
<text x="256.40" y="139.60" font-size="7.5" text-anchor="middle" font-weight="bold" fill="#111">nPB (n=3) vs BC (n=4)</text>
<text transform="translate(499.80,260.80) scale(0.94,1)" font-size="6.5" text-anchor="end" font-weight="bold" fill="#111" stroke="#111" stroke-width="0.12">276 CpGs</text>
<text x="430.70" y="139.60" font-size="7.5" text-anchor="middle" font-weight="bold" fill="#111">nBM (n=2) vs CP (n=11)</text>
<text transform="translate(672.20,261.10) scale(0.94,1)" font-size="6.5" text-anchor="end" font-weight="bold" fill="#111" stroke="#111" stroke-width="0.12">5.101 CpGs</text>
<text x="603.50" y="139.60" font-size="7.5" text-anchor="middle" font-weight="bold" fill="#111">nBM (n=2) vs BC (n=5)</text>
</svg>
</body></html>
